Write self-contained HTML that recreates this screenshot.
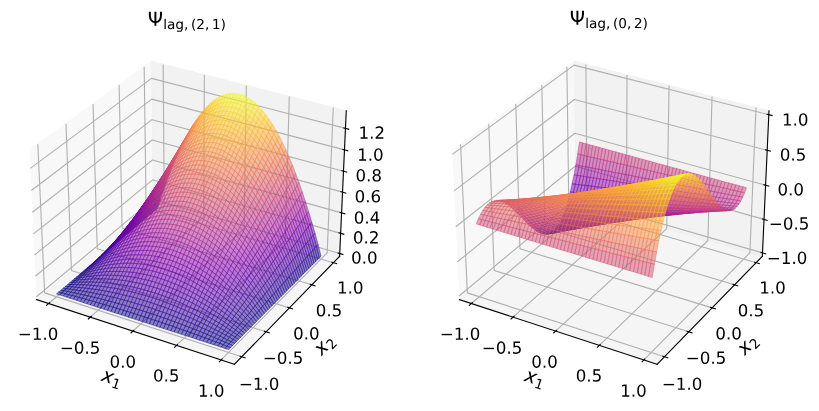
<!DOCTYPE html><html><head><meta charset="utf-8"><title>plot</title><style>html,body{margin:0;padding:0;background:#fff}body{width:819px;height:411px;overflow:hidden}</style></head><body><svg width="819" height="411" viewBox="82.8 30.3634 589.68 295.92" style="display:block"><defs><style type="text/css">*{stroke-linejoin: round; stroke-linecap: butt}</style><path id="DejaVuSans-2212" d="M678 2272L4684 2272 4684 1741 678 1741 678 2272z" transform="scale(.0156)"/><path id="DejaVuSans-31" d="M794 531L1825 531 1825 4091 703 3866 703 4441 1819 4666 2450 4666 2450 531 3481 531 3481 0 794 0 794 531z" transform="scale(.0156)"/><path id="DejaVuSans-2e" d="M684 794L1344 794 1344 0 684 0 684 794z" transform="scale(.0156)"/><path id="DejaVuSans-30" d="M2034 4250Q1547 4250 1301 3770 1056 3291 1056 2328 1056 1369 1301 889 1547 409 2034 409 2525 409 2770 889 3016 1369 3016 2328 3016 3291 2770 3770 2525 4250 2034 4250zM2034 4750Q2819 4750 3233 4129 3647 3509 3647 2328 3647 1150 3233 529 2819-91 2034-91 1250-91 836 529 422 1150 422 2328 422 3509 836 4129 1250 4750 2034 4750z" transform="scale(.0156)"/><path id="DejaVuSans-35" d="M691 4666L3169 4666 3169 4134 1269 4134 1269 2991Q1406 3038 1543 3061 1681 3084 1819 3084 2600 3084 3056 2656 3513 2228 3513 1497 3513 744 3044 326 2575-91 1722-91 1428-91 1123-41 819 9 494 109L494 744Q775 591 1075 516 1375 441 1709 441 2250 441 2565 725 2881 1009 2881 1497 2881 1984 2565 2268 2250 2553 1709 2553 1456 2553 1204 2497 953 2441 691 2322L691 4666z" transform="scale(.0156)"/><path id="DejaVuSans-Oblique-78" d="M3841 3500L2234 1784 3219 0 2559 0 1819 1388 531 0-166 0 1556 1844 641 3500 1300 3500 1972 2234 3144 3500 3841 3500z" transform="scale(.0156)"/><path id="DejaVuSans-32" d="M1228 531L3431 531 3431 0 469 0 469 531Q828 903 1448 1529 2069 2156 2228 2338 2531 2678 2651 2914 2772 3150 2772 3378 2772 3750 2511 3984 2250 4219 1831 4219 1534 4219 1204 4116 875 4013 500 3803L500 4441Q881 4594 1212 4672 1544 4750 1819 4750 2544 4750 2975 4387 3406 4025 3406 3419 3406 3131 3298 2873 3191 2616 2906 2266 2828 2175 2409 1742 1991 1309 1228 531z" transform="scale(.0156)"/><path id="DejaVuSans-34" d="M2419 4116L825 1625 2419 1625 2419 4116zM2253 4666L3047 4666 3047 1625 3713 1625 3713 1100 3047 1100 3047 0 2419 0 2419 1100 313 1100 313 1709 2253 4666z" transform="scale(.0156)"/><path id="DejaVuSans-36" d="M2113 2584Q1688 2584 1439 2293 1191 2003 1191 1497 1191 994 1439 701 1688 409 2113 409 2538 409 2786 701 3034 994 3034 1497 3034 2003 2786 2293 2538 2584 2113 2584zM3366 4563L3366 3988Q3128 4100 2886 4159 2644 4219 2406 4219 1781 4219 1451 3797 1122 3375 1075 2522 1259 2794 1537 2939 1816 3084 2150 3084 2853 3084 3261 2657 3669 2231 3669 1497 3669 778 3244 343 2819-91 2113-91 1303-91 875 529 447 1150 447 2328 447 3434 972 4092 1497 4750 2381 4750 2619 4750 2861 4703 3103 4656 3366 4563z" transform="scale(.0156)"/><path id="DejaVuSans-38" d="M2034 2216Q1584 2216 1326 1975 1069 1734 1069 1313 1069 891 1326 650 1584 409 2034 409 2484 409 2743 651 3003 894 3003 1313 3003 1734 2745 1975 2488 2216 2034 2216zM1403 2484Q997 2584 770 2862 544 3141 544 3541 544 4100 942 4425 1341 4750 2034 4750 2731 4750 3128 4425 3525 4100 3525 3541 3525 3141 3298 2862 3072 2584 2669 2484 3125 2378 3379 2068 3634 1759 3634 1313 3634 634 3220 271 2806-91 2034-91 1263-91 848 271 434 634 434 1313 434 1759 690 2068 947 2378 1403 2484zM1172 3481Q1172 3119 1398 2916 1625 2713 2034 2713 2441 2713 2670 2916 2900 3119 2900 3481 2900 3844 2670 4047 2441 4250 2034 4250 1625 4250 1398 4047 1172 3844 1172 3481z" transform="scale(.0156)"/><path id="DejaVuSans-3a8" d="M2206 0Q2209 419 2206 969 1538 969 950 1625 375 2263 359 3388L359 4666 1025 4666 1025 3388Q1025 2506 1431 1994 1775 1556 2206 1513L2206 4666 2838 4666 2838 1513Q3269 1556 3613 1994 4019 2506 4019 3388L4019 4666 4684 4666 4684 3388Q4669 2263 4094 1625 3506 969 2838 969 2834 744 2838 0L2206 0z" transform="scale(.0156)"/><path id="DejaVuSans-6c" d="M603 4863L1178 4863 1178 0 603 0 603 4863z" transform="scale(.0156)"/><path id="DejaVuSans-61" d="M2194 1759Q1497 1759 1228 1600 959 1441 959 1056 959 750 1161 570 1363 391 1709 391 2188 391 2477 730 2766 1069 2766 1631L2766 1759 2194 1759zM3341 1997L3341 0 2766 0 2766 531Q2569 213 2275 61 1981-91 1556-91 1019-91 701 211 384 513 384 1019 384 1609 779 1909 1175 2209 1959 2209L2766 2209 2766 2266Q2766 2663 2505 2880 2244 3097 1772 3097 1472 3097 1187 3025 903 2953 641 2809L641 3341Q956 3463 1253 3523 1550 3584 1831 3584 2591 3584 2966 3190 3341 2797 3341 1997z" transform="scale(.0156)"/><path id="DejaVuSans-67" d="M2906 1791Q2906 2416 2648 2759 2391 3103 1925 3103 1463 3103 1205 2759 947 2416 947 1791 947 1169 1205 825 1463 481 1925 481 2391 481 2648 825 2906 1169 2906 1791zM3481 434Q3481-459 3084-895 2688-1331 1869-1331 1566-1331 1297-1286 1028-1241 775-1147L775-588Q1028-725 1275-790 1522-856 1778-856 2344-856 2625-561 2906-266 2906 331L2906 616Q2728 306 2450 153 2172 0 1784 0 1141 0 747 490 353 981 353 1791 353 2603 747 3093 1141 3584 1784 3584 2172 3584 2450 3431 2728 3278 2906 2969L2906 3500 3481 3500 3481 434z" transform="scale(.0156)"/><path id="DejaVuSans-2c" d="M750 794L1409 794 1409 256 897-744 494-744 750 256 750 794z" transform="scale(.0156)"/><path id="DejaVuSans-28" d="M1984 4856Q1566 4138 1362 3434 1159 2731 1159 2009 1159 1288 1364 580 1569-128 1984-844L1484-844Q1016-109 783 600 550 1309 550 2009 550 2706 781 3412 1013 4119 1484 4856L1984 4856z" transform="scale(.0156)"/><path id="DejaVuSans-29" d="M513 4856L1013 4856Q1481 4119 1714 3412 1947 2706 1947 2009 1947 1309 1714 600 1481-109 1013-844L513-844Q928-128 1133 580 1338 1288 1338 2009 1338 2731 1133 3434 928 4138 513 4856z" transform="scale(.0156)"/><clipPath id="p6efda64bac"><rect x="90" y="54.981818" width="253.636364" height="253.636364"/></clipPath><clipPath id="p2cf576eba9"><rect x="394.363636" y="54.981818" width="253.636364" height="253.636364"/></clipPath></defs><g id="figure_1"><g id="patch_1"><path d="M0 360L720 360 720 0 0 0z" style="fill: #ffffff"/></g><g id="patch_2"><path d="M90 308.62L343.64 308.62 343.64 54.98 90 54.98z" style="fill: #ffffff"/></g><g id="pane3d_1"><g id="patch_3"><path d="M109.15 246.08L192.91 175.87 191.75 74.62 103.98 138.67" style="fill: #f2f2f2; opacity: 0.5; stroke: #f2f2f2; stroke-linejoin: miter"/></g></g><g id="pane3d_2"><g id="patch_4"><path d="M192.91 175.87L327.31 214.94 332.11 110.2 191.75 74.62" style="fill: #e6e6e6; opacity: 0.5; stroke: #e6e6e6; stroke-linejoin: miter"/></g></g><g id="pane3d_3"><g id="patch_5"><path d="M109.15 246.08L251.63 292.61 327.31 214.94 192.91 175.87" style="fill: #ececec; opacity: 0.5; stroke: #ececec; stroke-linejoin: miter"/></g></g><g id="grid3d_1"><g id="Line3DCollection_1"><path d="M117.78 248.9L201.08 178.25 200.27 76.78" style="fill:none;stroke:#b0b0b0; stroke-width: 0.8"/><path d="M147.8 258.7L229.49 186.5 229.89 84.29" style="fill:none;stroke:#b0b0b0; stroke-width: 0.8"/><path d="M178.51 268.73L258.49 194.93 260.16 91.96" style="fill:none;stroke:#b0b0b0; stroke-width: 0.8"/><path d="M209.94 279L288.11 203.54 291.1 99.8" style="fill:none;stroke:#b0b0b0; stroke-width: 0.8"/><path d="M242.1 289.5L318.37 212.34 322.75 107.82" style="fill:none;stroke:#b0b0b0; stroke-width: 0.8"/></g></g><g id="grid3d_2"><g id="Line3DCollection_2"><path d="M110.05 134.24L114.92 241.24 256.86 287.24" style="fill:none;stroke:#b0b0b0; stroke-width: 0.8"/><path d="M130.32 119.44L134.23 225.06 274.36 269.28" style="fill:none;stroke:#b0b0b0; stroke-width: 0.8"/><path d="M149.81 105.22L152.81 209.48 291.16 252.03" style="fill:none;stroke:#b0b0b0; stroke-width: 0.8"/><path d="M168.56 91.54L170.72 194.47 307.33 235.45" style="fill:none;stroke:#b0b0b0; stroke-width: 0.8"/><path d="M186.61 78.37L187.99 180 322.89 219.48" style="fill:none;stroke:#b0b0b0; stroke-width: 0.8"/></g></g><g id="grid3d_3"><g id="Line3DCollection_3"><path d="M327.41 212.93L192.89 173.93 109.05 244.03" style="fill:none;stroke:#b0b0b0; stroke-width: 0.8"/><path d="M328.07 198.37L192.73 159.83 108.33 229.12" style="fill:none;stroke:#b0b0b0; stroke-width: 0.8"/><path d="M328.75 183.63L192.56 145.57 107.61 214.02" style="fill:none;stroke:#b0b0b0; stroke-width: 0.8"/><path d="M329.43 168.71L192.4 131.13 106.87 198.72" style="fill:none;stroke:#b0b0b0; stroke-width: 0.8"/><path d="M330.12 153.6L192.23 116.52 106.12 183.22" style="fill:none;stroke:#b0b0b0; stroke-width: 0.8"/><path d="M330.82 138.29L192.06 101.73 105.37 167.51" style="fill:none;stroke:#b0b0b0; stroke-width: 0.8"/><path d="M331.53 122.79L191.89 86.77 104.6 151.6" style="fill:none;stroke:#b0b0b0; stroke-width: 0.8"/></g></g><g id="axis3d_1"><g id="line2d_1"><path d="M109.15 246.08L251.63 292.61" style="fill:none;stroke:#000000; stroke-width: 0.8; stroke-linecap: square"/></g><g id="xtick_1"><g id="line2d_2"><path d="M118.51 248.28L116.33 250.13" style="fill:none;stroke:#000000; stroke-width: 0.8; stroke-linecap: square"/></g><g id="text_1" transform="translate(0 1.26)"><g transform="translate(95.6802 273.7295) scale(.12 -.12)"><use href="#DejaVuSans-2212"/><use href="#DejaVuSans-31" transform="translate(83.79 0)"/><use href="#DejaVuSans-2e" transform="translate(147.41 0)"/><use href="#DejaVuSans-30" transform="translate(179.2 0)"/></g></g></g><g id="xtick_2"><g id="line2d_3"><path d="M148.51 258.07L146.37 259.96" style="fill:none;stroke:#000000; stroke-width: 0.8; stroke-linecap: square"/></g><g id="text_2" transform="translate(.18 1.26)"><g transform="translate(125.7323 283.752) scale(.12 -.12)"><use href="#DejaVuSans-2212"/><use href="#DejaVuSans-30" transform="translate(83.79 0)"/><use href="#DejaVuSans-2e" transform="translate(147.41 0)"/><use href="#DejaVuSans-35" transform="translate(179.2 0)"/></g></g></g><g id="xtick_3"><g id="line2d_4"><path d="M179.21 268.09L177.11 270.02" style="fill:none;stroke:#000000; stroke-width: 0.8; stroke-linecap: square"/></g><g id="text_3" transform="translate(.18 1.08)"><g transform="translate(161.5064 294.0061) scale(.12 -.12)"><use href="#DejaVuSans-30"/><use href="#DejaVuSans-2e" transform="translate(63.62 0)"/><use href="#DejaVuSans-30" transform="translate(95.41 0)"/></g></g></g><g id="xtick_4"><g id="line2d_5"><path d="M210.62 278.34L208.57 280.32" style="fill:none;stroke:#000000; stroke-width: 0.8; stroke-linecap: square"/></g><g id="text_4" transform="translate(0 .54)"><g transform="translate(192.9713 304.4998) scale(.12 -.12)"><use href="#DejaVuSans-30"/><use href="#DejaVuSans-2e" transform="translate(63.62 0)"/><use href="#DejaVuSans-35" transform="translate(95.41 0)"/></g></g></g><g id="xtick_5"><g id="line2d_6"><path d="M242.77 288.83L240.76 290.85" style="fill:none;stroke:#000000; stroke-width: 0.8; stroke-linecap: square"/></g><g id="text_5" transform="translate(.18 .72)"><g transform="translate(225.1801 315.2416) scale(.12 -.12)"><use href="#DejaVuSans-31"/><use href="#DejaVuSans-2e" transform="translate(63.62 0)"/><use href="#DejaVuSans-30" transform="translate(95.41 0)"/></g></g></g><g id="text_6" transform="translate(1.26 -1.08)"><g transform="translate(153.893 305.3656) rotate(-341.913) scale(.14 -.14)"><use href="#DejaVuSans-Oblique-78" transform="translate(0 .31)"/><use href="#DejaVuSans-31" transform="translate(59.1797 -16.0938) scale(.7)"/></g></g></g><g id="axis3d_2"><g id="line2d_7"><path d="M327.31 214.94L251.63 292.61" style="fill:none;stroke:#000000; stroke-width: 0.8; stroke-linecap: square"/></g><g id="xtick_6"><g id="line2d_8"><path d="M255.67 286.85L259.26 288.01" style="fill:none;stroke:#000000; stroke-width: 0.8; stroke-linecap: square"/></g><g id="text_7" transform="translate(-.36 1.26)"><g transform="translate(255.1738 309.7789) scale(.12 -.12)"><use href="#DejaVuSans-2212"/><use href="#DejaVuSans-31" transform="translate(83.79 0)"/><use href="#DejaVuSans-2e" transform="translate(147.41 0)"/><use href="#DejaVuSans-30" transform="translate(179.2 0)"/></g></g></g><g id="xtick_7"><g id="line2d_9"><path d="M273.18 268.91L276.72 270.03" style="fill:none;stroke:#000000; stroke-width: 0.8; stroke-linecap: square"/></g><g id="text_8" transform="translate(-.36 .72)"><g transform="translate(272.4207 291.5478) scale(.12 -.12)"><use href="#DejaVuSans-2212"/><use href="#DejaVuSans-30" transform="translate(83.79 0)"/><use href="#DejaVuSans-2e" transform="translate(147.41 0)"/><use href="#DejaVuSans-35" transform="translate(179.2 0)"/></g></g></g><g id="xtick_8"><g id="line2d_10"><path d="M290 251.68L293.49 252.75" style="fill:none;stroke:#000000; stroke-width: 0.8; stroke-linecap: square"/></g><g id="text_9" transform="translate(-.18 .72)"><g transform="translate(294.0208 274.0299) scale(.12 -.12)"><use href="#DejaVuSans-30"/><use href="#DejaVuSans-2e" transform="translate(63.62 0)"/><use href="#DejaVuSans-30" transform="translate(95.41 0)"/></g></g></g><g id="xtick_9"><g id="line2d_11"><path d="M306.18 235.1L309.63 236.13" style="fill:none;stroke:#000000; stroke-width: 0.8; stroke-linecap: square"/></g><g id="text_10" transform="translate(.18 .9)"><g transform="translate(309.9572 257.1841) scale(.12 -.12)"><use href="#DejaVuSans-30"/><use href="#DejaVuSans-2e" transform="translate(63.62 0)"/><use href="#DejaVuSans-35" transform="translate(95.41 0)"/></g></g></g><g id="xtick_10"><g id="line2d_12"><path d="M321.75 219.15L325.15 220.14" style="fill:none;stroke:#000000; stroke-width: 0.8; stroke-linecap: square"/></g><g id="text_11" transform="translate(.18 .72)"><g transform="translate(325.2936 240.9725) scale(.12 -.12)"><use href="#DejaVuSans-31"/><use href="#DejaVuSans-2e" transform="translate(63.62 0)"/><use href="#DejaVuSans-30" transform="translate(95.41 0)"/></g></g></g><g id="text_12" transform="translate(-1.26 -1.26)"><g transform="translate(315.6753 288.1088) rotate(-45.7421) scale(.14 -.14)"><use href="#DejaVuSans-Oblique-78" transform="translate(0 .31)"/><use href="#DejaVuSans-32" transform="translate(59.1797 -16.0938) scale(.7)"/></g></g></g><g id="axis3d_3"><g id="line2d_13"><path d="M327.31 214.94L332.11 110.2" style="fill:none;stroke:#000000; stroke-width: 0.8; stroke-linecap: square"/></g><g id="xtick_11"><g id="line2d_14"><path d="M326.28 212.6L329.67 213.59" style="fill:none;stroke:#000000; stroke-width: 0.8; stroke-linecap: square"/></g><g id="text_13" transform="translate(-.54 .72)"><g transform="translate(336.1249 219.4477) scale(.12 -.12)"><use href="#DejaVuSans-30"/><use href="#DejaVuSans-2e" transform="translate(63.62 0)"/><use href="#DejaVuSans-30" transform="translate(95.41 0)"/></g></g></g><g id="xtick_12"><g id="line2d_15"><path d="M326.94 198.05L330.35 199.02" style="fill:none;stroke:#000000; stroke-width: 0.8; stroke-linecap: square"/></g><g id="text_14" transform="translate(0 .72)"><g transform="translate(336.9026 204.921) scale(.12 -.12)"><use href="#DejaVuSans-30"/><use href="#DejaVuSans-2e" transform="translate(63.62 0)"/><use href="#DejaVuSans-32" transform="translate(95.41 0)"/></g></g></g><g id="xtick_13"><g id="line2d_16"><path d="M327.6 183.31L331.04 184.27" style="fill:none;stroke:#000000; stroke-width: 0.8; stroke-linecap: square"/></g><g id="text_15" transform="translate(-.18 1.08)"><g transform="translate(337.6901 190.2129) scale(.12 -.12)"><use href="#DejaVuSans-30"/><use href="#DejaVuSans-2e" transform="translate(63.62 0)"/><use href="#DejaVuSans-34" transform="translate(95.41 0)"/></g></g></g><g id="xtick_14"><g id="line2d_17"><path d="M328.28 168.39L331.74 169.34" style="fill:none;stroke:#000000; stroke-width: 0.8; stroke-linecap: square"/></g><g id="text_16" transform="translate(-.36 .72)"><g transform="translate(338.4874 175.3201) scale(.12 -.12)"><use href="#DejaVuSans-30"/><use href="#DejaVuSans-2e" transform="translate(63.62 0)"/><use href="#DejaVuSans-36" transform="translate(95.41 0)"/></g></g></g><g id="xtick_15"><g id="line2d_18"><path d="M328.96 153.28L332.44 154.22" style="fill:none;stroke:#000000; stroke-width: 0.8; stroke-linecap: square"/></g><g id="text_17" transform="translate(-.54 .72)"><g transform="translate(339.2948 160.2391) scale(.12 -.12)"><use href="#DejaVuSans-30"/><use href="#DejaVuSans-2e" transform="translate(63.62 0)"/><use href="#DejaVuSans-38" transform="translate(95.41 0)"/></g></g></g><g id="xtick_16"><g id="line2d_19"><path d="M329.66 137.98L333.16 138.9" style="fill:none;stroke:#000000; stroke-width: 0.8; stroke-linecap: square"/></g><g id="text_18" transform="translate(-.18 1.08)"><g transform="translate(340.1124 144.9664) scale(.12 -.12)"><use href="#DejaVuSans-31"/><use href="#DejaVuSans-2e" transform="translate(63.62 0)"/><use href="#DejaVuSans-30" transform="translate(95.41 0)"/></g></g></g><g id="xtick_17"><g id="line2d_20"><path d="M330.36 122.48L333.88 123.39" style="fill:none;stroke:#000000; stroke-width: 0.8; stroke-linecap: square"/></g><g id="text_19" transform="translate(0 .72)"><g transform="translate(340.9406 129.4982) scale(.12 -.12)"><use href="#DejaVuSans-31"/><use href="#DejaVuSans-2e" transform="translate(63.62 0)"/><use href="#DejaVuSans-32" transform="translate(95.41 0)"/></g></g></g></g><g id="axes_1">
   <g id="surf0" clip-path="url(#p6efda64bac)" fill-opacity="0.5" fill="currentColor" stroke="currentColor" stroke-opacity="0.5" stroke-width="0.6"><path color="#260591" d="M194.8 181.6l2.2-6.7 1.4-1.3-2.2 6.8z"/><path color="#240691" d="M193.4 182.8l2.2-6.6 1.4-1.3-2.2 6.7z"/><path color="#240691" d="M192 184l2.3-6.5 1.3-1.3-2.2 6.6z"/><path color="#4903a0" d="M197 174.9l2.3-6.5 1.4-1.4-2.3 6.6z"/><path color="#240691" d="M190.6 185.1l2.3-6.2 1.4-1.4-2.3 6.5z"/><path color="#48039f" d="M195.6 176.2l2.3-6.3 1.4-1.5-2.3 6.5z"/><path color="#240691" d="M189.2 186.3l2.3-6.1 1.4-1.3-2.3 6.2z"/><path color="#46039f" d="M194.3 177.5l2.2-6.1 1.4-1.5-2.3 6.3z"/><path color="#240691" d="M187.8 187.5l2.3-6 1.4-1.3-2.3 6.1z"/><path color="#6700a8" d="M199.3 168.4l2.3-6.2 1.3-1.6-2.2 6.4z"/><path color="#46039f" d="M192.9 178.9l2.2-6.1 1.4-1.4-2.2 6.1z"/><path color="#220690" d="M186.4 188.7l2.3-5.8 1.4-1.4-2.3 6z"/><path color="#6600a7" d="M197.9 169.9l2.3-6.1 1.4-1.6-2.3 6.2z"/><path color="#44039e" d="M191.5 180.2l2.2-5.9 1.4-1.5-2.2 6.1z"/><path color="#220690" d="M185 189.9l2.3-5.7 1.4-1.3-2.3 5.8z"/><path color="#6400a7" d="M196.5 171.4l2.3-6 1.4-1.6-2.3 6.1z"/><path color="#44039e" d="M190.1 181.5l2.2-5.7 1.4-1.5-2.2 5.9z"/><path color="#8305a7" d="M201.6 162.2l2.3-5.9 1.3-1.7-2.3 6z"/><path color="#220690" d="M183.6 191.1l2.2-5.5 1.5-1.4-2.3 5.7z"/><path color="#6300a7" d="M195.1 172.8l2.3-5.7 1.4-1.7-2.3 6z"/><path color="#43039e" d="M188.7 182.9l2.2-5.6 1.4-1.5-2.2 5.7z"/><path color="#8104a7" d="M200.2 163.8l2.3-5.8 1.4-1.7-2.3 5.9z"/><path color="#220690" d="M182.2 192.3l2.2-5.4 1.4-1.3-2.2 5.5z"/><path color="#6100a7" d="M193.7 174.3l2.3-5.6 1.4-1.6-2.3 5.7z"/><path color="#41049d" d="M187.3 184.2l2.2-5.4 1.4-1.5-2.2 5.6z"/><path color="#7e03a8" d="M198.8 165.4l2.3-5.6 1.4-1.8-2.3 5.8z"/><path color="#6001a6" d="M192.3 175.8l2.3-5.5 1.4-1.6-2.3 5.6z"/><path color="#220690" d="M180.8 193.5l2.2-5.2 1.4-1.4-2.2 5.4z"/><path color="#9c179e" d="M203.9 156.3l2.3-5.6 1.4-1.9-2.4 5.8z"/><path color="#41049d" d="M185.8 185.6l2.3-5.3 1.4-1.5-2.2 5.4z"/><path color="#7d03a8" d="M197.4 167.1l2.3-5.6 1.4-1.7-2.3 5.6z"/><path color="#5e01a6" d="M190.9 177.3l2.3-5.4 1.4-1.6-2.3 5.5z"/><path color="#20068f" d="M179.3 194.7l2.3-5.1 1.4-1.3-2.2 5.2z"/><path color="#99159f" d="M202.5 158l2.3-5.5 1.4-1.8-2.3 5.6z"/><path color="#3f049c" d="M184.4 186.9l2.3-5.1 1.4-1.5-2.3 5.3z"/><path color="#7b02a8" d="M196 168.7l2.3-5.4 1.4-1.8-2.3 5.6z"/><path color="#5c01a6" d="M189.5 178.8l2.3-5.2 1.4-1.7-2.3 5.4z"/><path color="#20068f" d="M177.9 195.9l2.3-4.9 1.4-1.4-2.3 5.1z"/><path color="#9613a1" d="M201.1 159.8l2.3-5.4 1.4-1.9-2.3 5.5z"/><path color="#7801a8" d="M194.6 170.3l2.3-5.2 1.4-1.8-2.3 5.4z"/><path color="#3e049c" d="M183 188.3l2.3-5 1.4-1.5-2.3 5.1z"/><path color="#5b01a5" d="M188.1 180.3l2.3-5.1 1.4-1.6-2.3 5.2z"/><path color="#b02991" d="M206.2 150.7l2.3-5.4 1.4-2-2.3 5.5z"/><path color="#9410a2" d="M199.7 161.5l2.3-5.2 1.4-1.9-2.3 5.4z"/><path color="#20068f" d="M176.5 197.1l2.2-4.8 1.5-1.3-2.3 4.9z"/><path color="#7701a8" d="M193.2 171.9l2.3-5.1 1.4-1.7-2.3 5.2z"/><path color="#3e049c" d="M181.6 189.6l2.2-4.8 1.5-1.5-2.3 5z"/><path color="#ad2793" d="M204.8 152.5l2.3-5.2 1.4-2-2.3 5.4z"/><path color="#5901a5" d="M186.7 181.8l2.3-5 1.4-1.6-2.3 5.1z"/><path color="#920fa3" d="M198.3 163.3l2.3-5.1 1.4-1.9-2.3 5.2z"/><path color="#20068f" d="M175 198.3l2.3-4.6 1.4-1.4-2.2 4.8z"/><path color="#7401a8" d="M191.8 173.6l2.3-5 1.4-1.8-2.3 5.1z"/><path color="#3c049b" d="M180.2 191l2.2-4.7 1.4-1.5-2.2 4.8z"/><path color="#ab2494" d="M203.4 154.4l2.3-5.1 1.4-2-2.3 5.2z"/><path color="#5801a4" d="M185.3 183.3l2.2-4.8 1.5-1.7-2.3 5z"/><path color="#8f0da4" d="M196.9 165.1l2.3-5 1.4-1.9-2.3 5.1z"/><path color="#7201a8" d="M190.4 175.2l2.3-4.8 1.4-1.8-2.3 5z"/><path color="#c13b82" d="M208.5 145.3l2.4-5.1 1.3-2.1-2.3 5.2z"/><path color="#1d068e" d="M173.6 199.5l2.2-4.4 1.5-1.4-2.3 4.6z"/><path color="#a82296" d="M202 156.3l2.3-5 1.4-2-2.3 5.1z"/><path color="#3c049b" d="M178.7 192.3l2.3-4.5 1.4-1.5-2.2 4.7z"/><path color="#8d0ba5" d="M195.5 166.8l2.3-4.8 1.4-1.9-2.3 5z"/><path color="#5601a4" d="M183.8 184.8l2.3-4.7 1.4-1.6-2.2 4.8z"/><path color="#bf3984" d="M207.1 147.3l2.4-5 1.4-2.1-2.4 5.1z"/><path color="#7100a8" d="M189 176.8l2.3-4.7 1.4-1.7-2.3 4.8z"/><path color="#a62098" d="M200.6 158.2l2.3-4.9 1.4-2-2.3 5z"/><path color="#1d068e" d="M172.2 200.8l2.2-4.3 1.4-1.4-2.2 4.4z"/><path color="#3a049a" d="M177.3 193.7l2.2-4.4 1.5-1.5-2.3 4.5z"/><path color="#8a09a5" d="M194.1 168.6l2.3-4.7 1.4-1.9-2.3 4.8z"/><path color="#5502a4" d="M182.4 186.3l2.3-4.5 1.4-1.7-2.3 4.7z"/><path color="#bc3587" d="M205.7 149.3l2.4-4.9 1.4-2.1-2.4 5z"/><path color="#6e00a8" d="M187.5 178.5l2.3-4.6 1.5-1.8-2.3 4.7z"/><path color="#a31e9a" d="M199.2 160.1l2.3-4.8 1.4-2-2.3 4.9z"/><path color="#1d068e" d="M170.7 202l2.3-4.2 1.4-1.3-2.2 4.3z"/><path color="#8808a6" d="M192.7 170.4l2.3-4.6 1.4-1.9-2.3 4.7z"/><path color="#38049a" d="M175.8 195.1l2.3-4.3 1.4-1.5-2.2 4.4z"/><path color="#cf4c74" d="M210.9 140.2l2.3-4.8 1.4-2.3-2.4 5z"/><path color="#5302a3" d="M181 187.8l2.3-4.4 1.4-1.6-2.3 4.5z"/><path color="#ba3388" d="M204.3 151.3l2.4-4.7 1.4-2.2-2.4 4.9z"/><path color="#6c00a8" d="M186.1 180.1l2.3-4.4 1.4-1.8-2.3 4.6z"/><path color="#a11b9b" d="M197.8 162l2.3-4.7 1.4-2-2.3 4.8z"/><path color="#8606a6" d="M191.3 172.1l2.3-4.4 1.4-1.9-2.3 4.6z"/><path color="#cc4977" d="M209.5 142.3l2.3-4.7 1.4-2.2-2.3 4.8z"/><path color="#1d068e" d="M169.2 203.2l2.3-4 1.5-1.4-2.3 4.2z"/><path color="#38049a" d="M174.4 196.5l2.3-4.1 1.4-1.6-2.3 4.3z"/><path color="#b6308b" d="M202.9 153.3l2.4-4.6 1.4-2.1-2.4 4.7z"/><path color="#5102a3" d="M179.5 189.3l2.3-4.2 1.5-1.7-2.3 4.4z"/><path color="#9e199d" d="M196.4 163.9l2.3-4.5 1.4-2.1-2.3 4.7z"/><path color="#6900a8" d="M184.7 181.8l2.3-4.3 1.4-1.8-2.3 4.4z"/><path color="#cb4679" d="M208.1 144.4l2.3-4.5 1.4-2.3-2.3 4.7z"/><path color="#8305a7" d="M189.8 173.9l2.3-4.3 1.5-1.9-2.3 4.4z"/><path color="#b42e8d" d="M201.5 155.3l2.4-4.5 1.4-2.1-2.4 4.6z"/><path color="#370499" d="M173 197.8l2.2-3.9 1.5-1.5-2.3 4.1z"/><path color="#1d068e" d="M167.8 204.5l2.2-3.9 1.5-1.4-2.3 4z"/><path color="#5002a2" d="M178.1 190.8l2.3-4 1.4-1.7-2.3 4.2z"/><path color="#9c179e" d="M195 165.8l2.3-4.4 1.4-2-2.3 4.5z"/><path color="#6700a8" d="M183.3 183.4l2.3-4.1 1.4-1.8-2.3 4.3z"/><path color="#db5c68" d="M213.2 135.4l2.4-4.5 1.4-2.4-2.4 4.6z"/><path color="#c8437b" d="M206.7 146.6l2.3-4.5 1.4-2.2-2.3 4.5z"/><path color="#8004a8" d="M188.4 175.7l2.3-4.2 1.4-1.9-2.3 4.3z"/><path color="#b22b8f" d="M200.1 157.3l2.4-4.3 1.4-2.2-2.4 4.5z"/><path color="#9814a0" d="M193.6 167.7l2.3-4.3 1.4-2-2.3 4.4z"/><path color="#350498" d="M171.5 199.2l2.3-3.8 1.4-1.5-2.2 3.9z"/><path color="#d9586a" d="M211.8 137.6l2.4-4.4 1.4-2.3-2.4 4.5z"/><path color="#4e02a2" d="M176.7 192.4l2.2-4 1.5-1.6-2.3 4z"/><path color="#1b068d" d="M166.3 205.7l2.3-3.7 1.4-1.4-2.2 3.9z"/><path color="#c5407e" d="M205.3 148.7l2.3-4.4 1.4-2.2-2.3 4.5z"/><path color="#6600a7" d="M181.8 185.1l2.3-4 1.5-1.8-2.3 4.1z"/><path color="#ae2892" d="M198.7 159.4l2.4-4.3 1.4-2.1-2.4 4.3z"/><path color="#7e03a8" d="M187 177.5l2.3-4.1 1.4-1.9-2.3 4.2z"/><path color="#d6556d" d="M210.4 139.9l2.4-4.3 1.4-2.4-2.4 4.4z"/><path color="#9511a1" d="M192.1 169.6l2.4-4.1 1.4-2.1-2.3 4.3z"/><path color="#c23c81" d="M203.9 150.8l2.3-4.2 1.4-2.3-2.3 4.4z"/><path color="#350498" d="M170 200.6l2.3-3.6 1.5-1.6-2.3 3.8z"/><path color="#4c02a1" d="M175.2 193.9l2.3-3.8 1.4-1.7-2.2 4z"/><path color="#1b068d" d="M164.9 206.9l2.2-3.5 1.5-1.4-2.3 3.7z"/><path color="#6300a7" d="M180.4 186.8l2.3-3.9 1.4-1.8-2.3 4z"/><path color="#ac2694" d="M197.3 161.4l2.3-4.1 1.5-2.2-2.4 4.3z"/><path color="#7b02a8" d="M185.6 179.3l2.3-3.9 1.4-2-2.3 4.1z"/><path color="#e56b5d" d="M215.6 130.9l2.4-4.2 1.4-2.5-2.4 4.3z"/><path color="#d45270" d="M209 142.1l2.4-4.2 1.4-2.3-2.4 4.3z"/><path color="#920fa3" d="M190.7 171.5l2.3-4 1.5-2-2.4 4.1z"/><path color="#c03a83" d="M202.5 153l2.3-4.1 1.4-2.3-2.3 4.2z"/><path color="#4b03a1" d="M173.8 195.4l2.3-3.6 1.4-1.7-2.3 3.8z"/><path color="#330597" d="M168.6 202l2.3-3.5 1.4-1.5-2.3 3.6z"/><path color="#a82296" d="M195.9 163.4l2.3-4 1.4-2.1-2.3 4.1z"/><path color="#6100a7" d="M178.9 188.4l2.3-3.7 1.5-1.8-2.3 3.9z"/><path color="#e3685f" d="M214.2 133.2l2.4-4.1 1.4-2.4-2.4 4.2z"/><path color="#1b068d" d="M163.4 208.2l2.2-3.4 1.5-1.4-2.2 3.5z"/><path color="#7801a8" d="M184.1 181.1l2.3-3.8 1.5-1.9-2.3 3.9z"/><path color="#d14e72" d="M207.6 144.3l2.4-4 1.4-2.4-2.4 4.2z"/><path color="#bd3786" d="M201.1 155.1l2.3-4 1.4-2.2-2.3 4.1z"/><path color="#8f0da4" d="M189.3 173.4l2.3-3.8 1.4-2.1-2.3 4z"/><path color="#e16462" d="M212.8 135.6l2.4-4 1.4-2.5-2.4 4.1z"/><path color="#a62098" d="M194.5 165.5l2.3-3.9 1.4-2.2-2.3 4z"/><path color="#4903a0" d="M172.3 197l2.3-3.5 1.5-1.7-2.3 3.6z"/><path color="#5e01a6" d="M177.5 190.1l2.3-3.6 1.4-1.8-2.3 3.7z"/><path color="#ce4b75" d="M206.2 146.6l2.4-4 1.4-2.3-2.4 4z"/><path color="#330597" d="M167.1 203.4l2.3-3.3 1.5-1.6-2.3 3.5z"/><path color="#7501a8" d="M182.7 182.9l2.3-3.7 1.4-1.9-2.3 3.8z"/><path color="#1b068d" d="M161.9 209.4l2.3-3.2 1.4-1.4-2.2 3.4z"/><path color="#ba3388" d="M199.6 157.3l2.4-3.9 1.4-2.3-2.3 4z"/><path color="#8d0ba5" d="M187.9 175.4l2.3-3.8 1.4-2-2.3 3.8z"/><path color="#ee7b51" d="M218 126.7l2.4-4 1.4-2.5-2.4 4z"/><path color="#de6164" d="M211.4 137.9l2.4-3.9 1.4-2.4-2.4 4z"/><path color="#a21d9a" d="M193 167.5l2.4-3.7 1.4-2.2-2.3 3.9z"/><path color="#cc4778" d="M204.8 148.9l2.4-3.9 1.4-2.4-2.4 4z"/><path color="#5c01a6" d="M176.1 191.8l2.3-3.5 1.4-1.8-2.3 3.6z"/><path color="#46039f" d="M170.9 198.5l2.2-3.3 1.5-1.7-2.3 3.5z"/><path color="#7401a8" d="M181.2 184.7l2.4-3.5 1.4-2-2.3 3.7z"/><path color="#310597" d="M165.6 204.8l2.3-3.2 1.5-1.5-2.3 3.3z"/><path color="#b7318a" d="M198.2 159.4l2.4-3.7 1.4-2.3-2.4 3.9z"/><path color="#eb7655" d="M216.6 129.1l2.4-3.8 1.4-2.6-2.4 4z"/><path color="#8a09a5" d="M186.4 177.3l2.4-3.6 1.4-2.1-2.3 3.8z"/><path color="#db5c68" d="M210 140.3l2.4-3.8 1.4-2.5-2.4 3.9z"/><path color="#1b068d" d="M160.4 210.7l2.3-3.1 1.5-1.4-2.3 3.2z"/><path color="#a01a9c" d="M191.6 169.6l2.4-3.7 1.4-2.1-2.4 3.7z"/><path color="#c9447a" d="M203.4 151.1l2.4-3.7 1.4-2.4-2.4 3.9z"/><path color="#e97257" d="M215.2 131.6l2.4-3.8 1.4-2.5-2.4 3.8z"/><path color="#b42e8d" d="M196.8 161.6l2.4-3.7 1.4-2.2-2.4 3.7z"/><path color="#5b01a5" d="M174.6 193.5l2.3-3.3 1.5-1.9-2.3 3.5z"/><path color="#44039e" d="M169.4 200.1l2.3-3.2 1.4-1.7-2.2 3.3z"/><path color="#7100a8" d="M179.8 186.5l2.3-3.4 1.5-1.9-2.4 3.5z"/><path color="#d9586a" d="M208.6 142.6l2.4-3.7 1.4-2.4-2.4 3.8z"/><path color="#8707a6" d="M185 179.2l2.3-3.5 1.5-2-2.4 3.6z"/><path color="#2f0596" d="M164.2 206.2l2.3-3 1.4-1.6-2.3 3.2z"/><path color="#c6417d" d="M202 153.4l2.4-3.6 1.4-2.4-2.4 3.7z"/><path color="#9d189d" d="M190.2 171.6l2.3-3.5 1.5-2.2-2.4 3.7z"/><path color="#f48948" d="M220.4 122.7l2.4-3.6 1.4-2.6-2.4 3.7z"/><path color="#19068c" d="M158.9 211.9l2.3-2.9 1.5-1.4-2.3 3.1z"/><path color="#e76e5b" d="M213.8 134l2.4-3.6 1.4-2.6-2.4 3.8z"/><path color="#b12a90" d="M195.4 163.8l2.3-3.6 1.5-2.3-2.4 3.7z"/><path color="#d6556d" d="M207.2 145l2.4-3.6 1.4-2.5-2.4 3.7z"/><path color="#5801a4" d="M173.1 195.2l2.3-3.2 1.5-1.8-2.3 3.3z"/><path color="#6e00a8" d="M178.4 188.3l2.3-3.2 1.4-2-2.3 3.4z"/><path color="#43039e" d="M167.9 201.6l2.3-3 1.5-1.7-2.3 3.2z"/><path color="#8405a7" d="M183.6 181.2l2.3-3.4 1.4-2.1-2.3 3.5z"/><path color="#c33d80" d="M200.6 155.7l2.4-3.6 1.4-2.3-2.4 3.6z"/><path color="#f3854b" d="M219 125.3l2.4-3.5 1.4-2.7-2.4 3.6z"/><path color="#2f0596" d="M162.7 207.6l2.3-2.9 1.5-1.5-2.3 3z"/><path color="#99159f" d="M188.8 173.7l2.3-3.4 1.4-2.2-2.3 3.5z"/><path color="#e56a5d" d="M212.4 136.5l2.4-3.5 1.4-2.6-2.4 3.6z"/><path color="#ad2793" d="M194 165.9l2.3-3.4 1.4-2.3-2.3 3.6z"/><path color="#d35171" d="M205.8 147.4l2.4-3.5 1.4-2.5-2.4 3.6z"/><path color="#19068c" d="M157.4 213.2l2.3-2.7 1.5-1.5-2.3 2.9z"/><path color="#6a00a8" d="M176.9 190.2l2.3-3.2 1.5-1.9-2.3 3.2z"/><path color="#f0804e" d="M217.6 127.8l2.4-3.4 1.4-2.6-2.4 3.5z"/><path color="#5601a4" d="M171.7 196.9l2.3-3.1 1.4-1.8-2.3 3.2z"/><path color="#c03a83" d="M199.2 157.9l2.3-3.4 1.5-2.4-2.4 3.6z"/><path color="#8104a7" d="M182.1 183.1l2.3-3.2 1.5-2.1-2.3 3.4z"/><path color="#41049d" d="M166.5 203.2l2.2-2.9 1.5-1.7-2.3 3z"/><path color="#e26561" d="M211 138.9l2.4-3.4 1.4-2.5-2.4 3.5z"/><path color="#9613a1" d="M187.3 175.7l2.4-3.2 1.4-2.2-2.3 3.4z"/><path color="#2e0595" d="M161.2 209l2.3-2.7 1.5-1.6-2.3 2.9z"/><path color="#d04d73" d="M204.4 149.8l2.4-3.4 1.4-2.5-2.4 3.5z"/><path color="#ab2494" d="M192.5 168.1l2.4-3.3 1.4-2.3-2.3 3.4z"/><path color="#f9983e" d="M222.8 119.1l2.5-3.3 1.4-2.7-2.5 3.4z"/><path color="#ee7b51" d="M216.2 130.4l2.4-3.3 1.4-2.7-2.4 3.4z"/><path color="#bd3786" d="M197.7 160.2l2.4-3.3 1.4-2.4-2.3 3.4z"/><path color="#19068c" d="M155.9 214.5l2.3-2.6 1.5-1.4-2.3 2.7z"/><path color="#df6263" d="M209.6 141.4l2.4-3.3 1.4-2.6-2.4 3.4z"/><path color="#6900a8" d="M175.4 192l2.4-3 1.4-2-2.3 3.2z"/><path color="#7e03a8" d="M180.7 185.1l2.3-3.1 1.4-2.1-2.3 3.2z"/><path color="#5302a3" d="M170.2 198.6l2.3-2.9 1.5-1.9-2.3 3.1z"/><path color="#920fa3" d="M185.9 177.8l2.3-3.1 1.5-2.2-2.4 3.2z"/><path color="#3f049c" d="M165 204.7l2.3-2.7 1.4-1.7-2.2 2.9z"/><path color="#cd4a76" d="M203 152.1l2.3-3.2 1.5-2.5-2.4 3.4z"/><path color="#f79342" d="M221.4 121.8l2.5-3.2 1.4-2.8-2.5 3.3z"/><path color="#a72197" d="M191.1 170.3l2.4-3.2 1.4-2.3-2.4 3.3z"/><path color="#eb7655" d="M214.8 133l2.4-3.3 1.4-2.6-2.4 3.3z"/><path color="#2c0594" d="M159.7 210.5l2.3-2.6 1.5-1.6-2.3 2.7z"/><path color="#ba3388" d="M196.3 162.5l2.4-3.2 1.4-2.4-2.4 3.3z"/><path color="#dc5d67" d="M208.2 143.9l2.4-3.2 1.4-2.6-2.4 3.3z"/><path color="#7a02a8" d="M179.2 187l2.4-2.9 1.4-2.1-2.3 3.1z"/><path color="#6600a7" d="M174 193.8l2.3-2.9 1.5-1.9-2.4 3z"/><path color="#f68d45" d="M220 124.4l2.5-3.1 1.4-2.7-2.5 3.2z"/><path color="#ca457a" d="M201.5 154.5l2.4-3.1 1.4-2.5-2.3 3.2z"/><path color="#8f0da4" d="M184.4 179.9l2.4-3 1.4-2.2-2.3 3.1z"/><path color="#5102a3" d="M168.7 200.3l2.4-2.8 1.4-1.8-2.3 2.9z"/><path color="#19068c" d="M154.4 215.7l2.3-2.4 1.5-1.4-2.3 2.6z"/><path color="#e97158" d="M213.4 135.5l2.4-3.1 1.4-2.7-2.4 3.3z"/><path color="#a31e9a" d="M189.7 172.5l2.3-3.1 1.5-2.3-2.4 3.2z"/><path color="#3e049c" d="M163.5 206.3l2.3-2.6 1.5-1.7-2.3 2.7z"/><path color="#d9586a" d="M206.8 146.4l2.4-3.1 1.4-2.6-2.4 3.2z"/><path color="#260591" d="M310.5 207.8l2.2 8.3 1.3-1.3-2.2-8.4z"/><path color="#fca636" d="M225.3 115.8l2.4-2.9 1.4-2.8-2.4 3z"/><path color="#b6308b" d="M194.9 164.8l2.4-3.1 1.4-2.4-2.4 3.2z"/><path color="#f48849" d="M218.6 127.1l2.5-3.1 1.4-2.7-2.5 3.1z"/><path color="#2c0594" d="M158.2 211.9l2.3-2.5 1.5-1.5-2.3 2.6z"/><path color="#c7427c" d="M200.1 156.9l2.4-3 1.4-2.5-2.4 3.1z"/><path color="#7701a8" d="M177.8 189l2.3-2.9 1.5-2-2.4 2.9z"/><path color="#e76e5b" d="M212 138.1l2.4-3.1 1.4-2.6-2.4 3.1z"/><path color="#6300a7" d="M172.5 195.7l2.3-2.8 1.5-2-2.3 2.9z"/><path color="#8b0aa5" d="M183 182l2.3-2.9 1.5-2.2-2.4 3z"/><path color="#5002a2" d="M167.3 202l2.3-2.7 1.5-1.8-2.4 2.8z"/><path color="#a01a9c" d="M188.2 174.7l2.4-3 1.4-2.3-2.3 3.1z"/><path color="#fba139" d="M223.9 118.6l2.4-2.9 1.4-2.8-2.4 2.9z"/><path color="#d6556d" d="M205.3 148.9l2.4-3.1 1.5-2.5-2.4 3.1z"/><path color="#19068c" d="M152.9 217l2.3-2.3 1.5-1.4-2.3 2.4z"/><path color="#b32c8e" d="M193.5 167.1l2.3-3 1.5-2.4-2.4 3.1z"/><path color="#f1834c" d="M217.2 129.7l2.5-2.9 1.4-2.8-2.5 3.1z"/><path color="#3c049b" d="M162 207.9l2.3-2.5 1.5-1.7-2.3 2.6z"/><path color="#c43e7f" d="M198.7 159.3l2.4-2.9 1.4-2.5-2.4 3z"/><path color="#e4695e" d="M210.6 140.7l2.4-3 1.4-2.7-2.4 3.1z"/><path color="#240691" d="M309.2 209.2l2.3 8.2 1.2-1.3-2.2-8.3z"/><path color="#7401a8" d="M176.3 190.9l2.3-2.7 1.5-2.1-2.3 2.9z"/><path color="#2a0593" d="M156.7 213.3l2.3-2.3 1.5-1.6-2.3 2.5z"/><path color="#f99a3e" d="M222.5 121.3l2.4-2.8 1.4-2.8-2.4 2.9z"/><path color="#8808a6" d="M181.6 184.1l2.3-2.8 1.4-2.2-2.3 2.9z"/><path color="#6001a6" d="M171.1 197.5l2.3-2.6 1.4-2-2.3 2.8z"/><path color="#9d189d" d="M186.8 176.9l2.4-2.9 1.4-2.3-2.4 3z"/><path color="#d35171" d="M203.9 151.4l2.4-3 1.4-2.6-2.4 3.1z"/><path color="#ef7e50" d="M215.8 132.4l2.4-2.9 1.5-2.7-2.5 2.9z"/><path color="#4c02a1" d="M165.8 203.7l2.3-2.5 1.5-1.9-2.3 2.7z"/><path color="#b02991" d="M192 169.4l2.4-2.9 1.4-2.4-2.3 3z"/><path color="#4903a0" d="M308.3 199.7l2.2 8.1 1.3-1.4-2.2-8.2z"/><path color="#fdb42f" d="M227.7 112.9l2.5-2.7 1.4-2.9-2.5 2.8z"/><path color="#e16462" d="M209.2 143.3l2.4-2.9 1.4-2.7-2.4 3z"/><path color="#c13b82" d="M197.3 161.7l2.4-2.8 1.4-2.5-2.4 2.9z"/><path color="#16078a" d="M151.4 218.3l2.3-2.1 1.5-1.5-2.3 2.3z"/><path color="#3a049a" d="M160.5 209.4l2.3-2.3 1.5-1.7-2.3 2.5z"/><path color="#f89441" d="M221.1 124l2.4-2.7 1.4-2.8-2.4 2.8z"/><path color="#d04d73" d="M202.5 153.9l2.4-2.9 1.4-2.6-2.4 3z"/><path color="#8606a6" d="M180.1 186.1l2.4-2.6 1.4-2.2-2.3 2.8z"/><path color="#7100a8" d="M174.8 192.9l2.4-2.6 1.4-2.1-2.3 2.7z"/><path color="#ed7953" d="M214.4 135l2.4-2.7 1.4-2.8-2.4 2.9z"/><path color="#240691" d="M308 210.6l2.2 8.1 1.3-1.3-2.3-8.2z"/><path color="#99159f" d="M185.3 179.1l2.4-2.8 1.5-2.3-2.4 2.9z"/><path color="#5e01a6" d="M169.6 199.3l2.3-2.4 1.5-2-2.3 2.6z"/><path color="#2a0593" d="M155.2 214.7l2.3-2.1 1.5-1.6-2.3 2.3z"/><path color="#fdac33" d="M226.3 115.7l2.5-2.6 1.4-2.9-2.5 2.7z"/><path color="#ac2694" d="M190.6 171.7l2.4-2.7 1.4-2.5-2.4 2.9z"/><path color="#de5f65" d="M207.7 145.8l2.5-2.7 1.4-2.7-2.4 2.9z"/><path color="#4b03a1" d="M164.3 205.4l2.3-2.4 1.5-1.8-2.3 2.5z"/><path color="#f68f44" d="M219.7 126.8l2.4-2.7 1.4-2.8-2.4 2.7z"/><path color="#bd3786" d="M195.8 164.1l2.4-2.7 1.5-2.5-2.4 2.8z"/><path color="#48039f" d="M307 201.3l2.2 7.9 1.3-1.4-2.2-8.1z"/><path color="#ea7457" d="M213 137.7l2.4-2.7 1.4-2.7-2.4 2.7z"/><path color="#cc4977" d="M201.1 156.4l2.4-2.8 1.4-2.6-2.4 2.9z"/><path color="#38049a" d="M159 211l2.3-2.2 1.5-1.7-2.3 2.3z"/><path color="#16078a" d="M149.9 219.6l2.3-2 1.5-1.4-2.3 2.1z"/><path color="#fca636" d="M224.9 118.5l2.5-2.5 1.4-2.9-2.5 2.6z"/><path color="#8104a7" d="M178.6 188.2l2.4-2.5 1.5-2.2-2.4 2.6z"/><path color="#9511a1" d="M183.9 181.3l2.4-2.6 1.4-2.4-2.4 2.8z"/><path color="#6e00a8" d="M173.4 194.9l2.3-2.5 1.5-2.1-2.4 2.6z"/><path color="#a82296" d="M189.2 174l2.3-2.6 1.5-2.4-2.4 2.7z"/><path color="#da5b69" d="M206.3 148.4l2.4-2.7 1.5-2.6-2.5 2.7z"/><path color="#f48948" d="M218.2 129.5l2.5-2.6 1.4-2.8-2.4 2.7z"/><path color="#5b01a5" d="M168.1 201.2l2.3-2.3 1.5-2-2.3 2.4z"/><path color="#ba3388" d="M194.4 166.5l2.4-2.6 1.4-2.5-2.4 2.7z"/><path color="#240691" d="M306.7 212.1l2.2 7.8 1.3-1.2-2.2-8.1z"/><path color="#6700a8" d="M306 192l2.3 7.7 1.3-1.5-2.3-7.9z"/><path color="#fec029" d="M230.2 110.2l2.4-2.3 1.4-3-2.4 2.4z"/><path color="#280592" d="M153.7 216.2l2.3-2 1.5-1.6-2.3 2.1z"/><path color="#e76f5a" d="M211.6 140.4l2.4-2.6 1.4-2.8-2.4 2.7z"/><path color="#48039f" d="M162.8 207.1l2.4-2.2 1.4-1.9-2.3 2.4z"/><path color="#ca457a" d="M199.7 158.9l2.4-2.7 1.4-2.6-2.4 2.8z"/><path color="#fba139" d="M223.5 121.3l2.5-2.5 1.4-2.8-2.5 2.5z"/><path color="#46039f" d="M305.7 202.9l2.3 7.7 1.2-1.4-2.2-7.9z"/><path color="#910ea3" d="M182.5 183.5l2.3-2.5 1.5-2.3-2.4 2.6z"/><path color="#d8576b" d="M204.9 151l2.4-2.6 1.4-2.7-2.4 2.7z"/><path color="#f2844b" d="M216.8 132.3l2.5-2.5 1.4-2.9-2.5 2.6z"/><path color="#7e03a8" d="M177.2 190.3l2.3-2.4 1.5-2.2-2.4 2.5z"/><path color="#370499" d="M157.5 212.6l2.4-2 1.4-1.8-2.3 2.2z"/><path color="#a51f99" d="M187.7 176.3l2.4-2.5 1.4-2.4-2.3 2.6z"/><path color="#6a00a8" d="M171.9 196.9l2.4-2.4 1.4-2.1-2.3 2.5z"/><path color="#feb82c" d="M228.8 113.1l2.4-2.3 1.4-2.9-2.4 2.3z"/><path color="#16078a" d="M148.4 220.9l2.3-1.8 1.5-1.5-2.3 2z"/><path color="#b6308b" d="M193 169l2.4-2.6 1.4-2.5-2.4 2.6z"/><path color="#5801a4" d="M166.6 203l2.4-2.2 1.4-1.9-2.3 2.3z"/><path color="#e56a5d" d="M210.2 143.1l2.4-2.6 1.4-2.7-2.4 2.6z"/><path color="#f99a3e" d="M222.1 124.1l2.4-2.4 1.5-2.9-2.5 2.5z"/><path color="#c6417d" d="M198.2 161.4l2.4-2.6 1.5-2.6-2.4 2.7z"/><path color="#6600a7" d="M304.7 193.7l2.3 7.6 1.3-1.6-2.3-7.7z"/><path color="#240691" d="M305.4 213.5l2.3 7.7 1.2-1.3-2.2-7.8z"/><path color="#260591" d="M152.2 217.6l2.3-1.8 1.5-1.6-2.3 2z"/><path color="#46039f" d="M161.3 208.8l2.4-2 1.5-1.9-2.4 2.2z"/><path color="#ef7e50" d="M215.4 135l2.5-2.4 1.4-2.8-2.5 2.5z"/><path color="#d5536f" d="M203.5 153.6l2.4-2.5 1.4-2.7-2.4 2.6z"/><path color="#fdb22f" d="M227.4 116l2.4-2.2 1.4-3-2.4 2.3z"/><path color="#8e0ca4" d="M181 185.7l2.4-2.4 1.4-2.3-2.3 2.5z"/><path color="#7a02a8" d="M175.7 192.4l2.4-2.3 1.4-2.2-2.3 2.4z"/><path color="#a11b9b" d="M186.3 178.7l2.3-2.5 1.5-2.4-2.4 2.5z"/><path color="#f89441" d="M220.7 126.9l2.4-2.3 1.4-2.9-2.4 2.4z"/><path color="#e26561" d="M208.7 145.7l2.5-2.4 1.4-2.8-2.4 2.6z"/><path color="#b22b8f" d="M191.5 171.4l2.4-2.5 1.5-2.5-2.4 2.6z"/><path color="#6700a8" d="M170.4 198.9l2.4-2.2 1.5-2.2-2.4 2.4z"/><path color="#8305a7" d="M303.7 184.5l2.3 7.5 1.3-1.7-2.3-7.6z"/><path color="#fdcb26" d="M232.6 107.9l2.5-2.1 1.4-3-2.5 2.1z"/><path color="#46039f" d="M304.4 204.5l2.3 7.6 1.3-1.5-2.3-7.7z"/><path color="#350498" d="M156 214.2l2.4-1.9 1.5-1.7-2.4 2z"/><path color="#c33d80" d="M196.8 163.9l2.4-2.4 1.4-2.7-2.4 2.6z"/><path color="#5502a4" d="M165.2 204.9l2.3-2.1 1.5-2-2.4 2.2z"/><path color="#ed7953" d="M214 137.8l2.4-2.4 1.5-2.8-2.5 2.4z"/><path color="#fdab33" d="M226 118.8l2.4-2.1 1.4-2.9-2.4 2.2z"/><path color="#16078a" d="M146.9 222.1l2.3-1.6 1.5-1.4-2.3 1.8z"/><path color="#d14e72" d="M202.1 156.2l2.4-2.4 1.4-2.7-2.4 2.5z"/><path color="#6400a7" d="M303.4 195.4l2.3 7.5 1.3-1.6-2.3-7.6z"/><path color="#f68d45" d="M219.3 129.8l2.4-2.3 1.4-2.9-2.4 2.3z"/><path color="#44039e" d="M159.9 210.6l2.3-2 1.5-1.8-2.4 2z"/><path color="#fdc328" d="M231.2 110.8l2.5-2 1.4-3-2.5 2.1z"/><path color="#8a09a5" d="M179.5 187.9l2.4-2.2 1.5-2.4-2.4 2.4z"/><path color="#de6164" d="M207.3 148.4l2.4-2.3 1.5-2.8-2.5 2.4z"/><path color="#9d189d" d="M184.8 181l2.4-2.3 1.4-2.5-2.3 2.5z"/><path color="#260591" d="M150.7 219.1l2.3-1.7 1.5-1.6-2.3 1.8z"/><path color="#7701a8" d="M174.3 194.5l2.3-2.1 1.5-2.3-2.4 2.3z"/><path color="#240691" d="M304.1 214.9l2.3 7.6 1.3-1.3-2.3-7.7z"/><path color="#ae2892" d="M190.1 173.8l2.4-2.3 1.4-2.6-2.4 2.5z"/><path color="#bf3984" d="M195.4 166.4l2.4-2.3 1.4-2.6-2.4 2.4z"/><path color="#6400a7" d="M169 200.8l2.3-2 1.5-2.1-2.4 2.2z"/><path color="#fca537" d="M224.5 121.7l2.5-2 1.4-3-2.4 2.1z"/><path color="#ea7457" d="M212.6 140.5l2.4-2.2 1.4-2.9-2.4 2.4z"/><path color="#8104a7" d="M302.4 186.3l2.3 7.4 1.3-1.7-2.3-7.5z"/><path color="#cd4a76" d="M200.6 158.8l2.4-2.3 1.5-2.7-2.4 2.4z"/><path color="#330597" d="M154.5 215.8l2.4-1.8 1.5-1.7-2.4 1.9z"/><path color="#44039e" d="M303.1 206l2.3 7.5 1.3-1.4-2.3-7.6z"/><path color="#5102a3" d="M163.7 206.8l2.3-2 1.5-2-2.3 2.1z"/><path color="#febd2a" d="M229.8 113.8l2.5-1.9 1.4-3.1-2.5 2z"/><path color="#f48849" d="M217.9 132.6l2.4-2.2 1.4-2.9-2.4 2.3z"/><path color="#db5c68" d="M205.9 151.1l2.4-2.2 1.4-2.8-2.4 2.3z"/><path color="#99159f" d="M183.4 183.3l2.3-2.2 1.5-2.4-2.4 2.3z"/><path color="#9c179e" d="M301.4 177.3l2.3 7.2 1.3-1.8-2.3-7.3z"/><path color="#8606a6" d="M178.1 190.1l2.3-2.1 1.5-2.3-2.4 2.2z"/><path color="#fbd724" d="M235.1 105.8l2.5-1.7 1.4-3-2.5 1.7z"/><path color="#130789" d="M145.3 223.4l2.4-1.4 1.5-1.5-2.3 1.6z"/><path color="#ab2494" d="M188.6 176.2l2.4-2.2 1.5-2.5-2.4 2.3z"/><path color="#fa9e3b" d="M223.1 124.6l2.5-2 1.4-2.9-2.5 2z"/><path color="#6300a7" d="M302.1 197.1l2.3 7.4 1.3-1.6-2.3-7.5z"/><path color="#7201a8" d="M172.8 196.7l2.3-2.1 1.5-2.2-2.3 2.1z"/><path color="#e76f5a" d="M211.2 143.3l2.4-2.2 1.4-2.8-2.4 2.2z"/><path color="#41049d" d="M158.4 212.3l2.3-1.8 1.5-1.9-2.3 2z"/><path color="#bb3488" d="M193.9 168.9l2.4-2.2 1.5-2.6-2.4 2.3z"/><path color="#ca457a" d="M199.2 161.5l2.4-2.3 1.4-2.7-2.4 2.3z"/><path color="#240691" d="M149.2 220.5l2.3-1.5 1.5-1.6-2.3 1.7z"/><path color="#fdb52e" d="M228.4 116.7l2.5-1.8 1.4-3-2.5 1.9z"/><path color="#6100a7" d="M167.5 202.8l2.3-1.9 1.5-2.1-2.3 2z"/><path color="#f1834c" d="M216.4 135.4l2.5-2 1.4-3-2.4 2.2z"/><path color="#220690" d="M302.8 216.4l2.3 7.4 1.3-1.3-2.3-7.6z"/><path color="#7e03a8" d="M301.1 188.2l2.3 7.2 1.3-1.7-2.3-7.4z"/><path color="#d8576b" d="M204.5 153.8l2.4-2.2 1.4-2.7-2.4 2.2z"/><path color="#fcce25" d="M233.7 108.8l2.5-1.6 1.4-3.1-2.5 1.7z"/><path color="#f9983e" d="M221.7 127.5l2.5-1.9 1.4-3-2.5 2z"/><path color="#5002a2" d="M162.2 208.6l2.3-1.8 1.5-2-2.3 2z"/><path color="#310597" d="M153 217.4l2.3-1.6 1.6-1.8-2.4 1.8z"/><path color="#44039e" d="M301.8 207.6l2.3 7.3 1.3-1.4-2.3-7.5z"/><path color="#e4695e" d="M209.7 146.1l2.5-2.1 1.4-2.9-2.4 2.2z"/><path color="#9511a1" d="M181.9 185.7l2.4-2.1 1.4-2.5-2.3 2.2z"/><path color="#a62098" d="M187.2 178.7l2.4-2.1 1.4-2.6-2.4 2.2z"/><path color="#8104a7" d="M176.6 192.4l2.4-2 1.4-2.4-2.3 2.1z"/><path color="#b7318a" d="M192.5 171.5l2.4-2.2 1.4-2.6-2.4 2.2z"/><path color="#fdae32" d="M227 119.7l2.5-1.8 1.4-3-2.5 1.8z"/><path color="#99159f" d="M300.1 179.3l2.3 7 1.3-1.8-2.3-7.2z"/><path color="#6f00a8" d="M171.3 198.8l2.4-1.9 1.4-2.3-2.3 2.1z"/><path color="#ef7c51" d="M215 138.3l2.5-2 1.4-2.9-2.5 2z"/><path color="#c7427c" d="M197.8 164.1l2.4-2.2 1.4-2.7-2.4 2.3z"/><path color="#3f049c" d="M156.9 214l2.3-1.6 1.5-1.9-2.3 1.8z"/><path color="#6100a7" d="M300.8 198.8l2.3 7.2 1.3-1.5-2.3-7.4z"/><path color="#130789" d="M143.8 224.7l2.3-1.3 1.6-1.4-2.4 1.4z"/><path color="#fdc627" d="M232.3 111.9l2.5-1.6 1.4-3.1-2.5 1.6z"/><path color="#d5536f" d="M203 156.5l2.5-2.1 1.4-2.8-2.4 2.2z"/><path color="#5e01a6" d="M166 204.8l2.4-1.8 1.4-2.1-2.3 1.9z"/><path color="#f79143" d="M220.3 130.4l2.5-1.8 1.4-3-2.5 1.9z"/><path color="#b02991" d="M299.1 170.4l2.3 6.9 1.3-1.9-2.3-7z"/><path color="#f8df25" d="M237.6 104.1l2.5-1.3 1.4-3.1-2.5 1.4z"/><path color="#220690" d="M147.7 222l2.3-1.4 1.5-1.6-2.3 1.5z"/><path color="#e16462" d="M208.3 148.9l2.5-2.1 1.4-2.8-2.5 2.1z"/><path color="#fca835" d="M225.6 122.6l2.5-1.7 1.4-3-2.5 1.8z"/><path color="#7d03a8" d="M299.8 190l2.3 7.1 1.3-1.7-2.3-7.2z"/><path color="#220690" d="M301.5 217.8l2.3 7.3 1.3-1.3-2.3-7.4z"/><path color="#a21d9a" d="M185.7 181.1l2.4-2 1.5-2.5-2.4 2.1z"/><path color="#910ea3" d="M180.4 188l2.4-2 1.5-2.4-2.4 2.1z"/><path color="#b32c8e" d="M191 174l2.4-2 1.5-2.7-2.4 2.2z"/><path color="#4c02a1" d="M160.7 210.5l2.3-1.6 1.5-2.1-2.3 1.8z"/><path color="#ec7754" d="M213.6 141.1l2.4-1.9 1.5-2.9-2.5 2z"/><path color="#7e03a8" d="M175.1 194.6l2.4-1.9 1.5-2.3-2.4 2z"/><path color="#c33d80" d="M196.3 166.7l2.4-2 1.5-2.8-2.4 2.2z"/><path color="#febe2a" d="M230.9 114.9l2.5-1.6 1.4-3-2.5 1.6z"/><path color="#2f0596" d="M151.5 219l2.3-1.5 1.5-1.7-2.3 1.6z"/><path color="#43039e" d="M300.5 209.2l2.3 7.2 1.3-1.5-2.3-7.3z"/><path color="#6c00a8" d="M169.8 200.9l2.4-1.8 1.5-2.2-2.4 1.9z"/><path color="#f58b47" d="M218.9 133.4l2.5-1.9 1.4-2.9-2.5 1.8z"/><path color="#9613a1" d="M298.8 181.3l2.3 6.9 1.3-1.9-2.3-7z"/><path color="#d14e72" d="M201.6 159.2l2.4-2 1.5-2.8-2.5 2.1z"/><path color="#fbd724" d="M236.2 107.2l2.5-1.3 1.4-3.1-2.5 1.3z"/><path color="#de5f65" d="M206.9 151.6l2.4-1.9 1.5-2.9-2.5 2.1z"/><path color="#fba139" d="M224.2 125.6l2.5-1.7 1.4-3-2.5 1.7z"/><path color="#3c049b" d="M155.3 215.8l2.4-1.5 1.5-1.9-2.3 1.6z"/><path color="#5901a5" d="M164.5 206.8l2.4-1.6 1.5-2.2-2.4 1.8z"/><path color="#6001a6" d="M299.5 200.6l2.3 7 1.3-1.6-2.3-7.2z"/><path color="#ad2793" d="M297.8 172.5l2.3 6.8 1.3-2-2.3-6.9z"/><path color="#e97158" d="M212.2 144l2.4-1.9 1.4-2.9-2.4 1.9z"/><path color="#130789" d="M142.3 226l2.3-1.1 1.5-1.5-2.3 1.3z"/><path color="#feb72d" d="M229.5 117.9l2.5-1.5 1.4-3.1-2.5 1.6z"/><path color="#9e199d" d="M184.3 183.6l2.4-1.9 1.4-2.6-2.4 2z"/><path color="#b02991" d="M189.6 176.6l2.4-2 1.4-2.6-2.4 2z"/><path color="#8d0ba5" d="M179 190.4l2.4-1.9 1.4-2.5-2.4 2z"/><path color="#bf3984" d="M194.9 169.3l2.4-1.9 1.4-2.7-2.4 2z"/><path color="#fcce25" d="M234.8 110.3l2.5-1.3 1.4-3.1-2.5 1.3z"/><path color="#f3854b" d="M217.5 136.3l2.4-1.8 1.5-3-2.5 1.9z"/><path color="#7a02a8" d="M173.7 196.9l2.3-1.8 1.5-2.4-2.4 1.9z"/><path color="#220690" d="M146.1 223.4l2.4-1.2 1.5-1.6-2.3 1.4z"/><path color="#7b02a8" d="M298.5 191.9l2.3 6.9 1.3-1.7-2.3-7.1z"/><path color="#cd4a76" d="M200.2 161.9l2.4-1.9 1.4-2.8-2.4 2z"/><path color="#4903a0" d="M159.2 212.4l2.3-1.5 1.5-2-2.3 1.6z"/><path color="#c13b82" d="M296.8 163.9l2.3 6.5 1.3-2-2.3-6.7z"/><path color="#f6e826" d="M240.1 102.8l2.5-1.1 1.4-3.1-2.5 1.1z"/><path color="#220690" d="M300.2 219.3l2.3 7.1 1.3-1.3-2.3-7.3z"/><path color="#f99a3e" d="M222.8 128.6l2.4-1.6 1.5-3.1-2.5 1.7z"/><path color="#6700a8" d="M168.4 203l2.3-1.7 1.5-2.2-2.4 1.8z"/><path color="#da5b69" d="M205.5 154.4l2.4-1.8 1.4-2.9-2.4 1.9z"/><path color="#2e0595" d="M150 220.6l2.3-1.3 1.5-1.8-2.3 1.5z"/><path color="#9410a2" d="M297.5 183.2l2.3 6.8 1.3-1.8-2.3-6.9z"/><path color="#fdaf31" d="M228.1 120.9l2.4-1.4 1.5-3.1-2.5 1.5z"/><path color="#e66c5c" d="M210.8 146.8l2.4-1.8 1.4-2.9-2.4 1.9z"/><path color="#41049d" d="M299.2 210.8l2.3 7 1.3-1.4-2.3-7.2z"/><path color="#fdc627" d="M233.4 113.3l2.5-1.2 1.4-3.1-2.5 1.3z"/><path color="#5601a4" d="M163 208.9l2.4-1.6 1.5-2.1-2.4 1.6z"/><path color="#ab2494" d="M188.1 179.1l2.4-1.8 1.5-2.7-2.4 2z"/><path color="#9a169f" d="M182.8 186l2.4-1.8 1.5-2.5-2.4 1.9z"/><path color="#f07f4f" d="M216 139.2l2.5-1.7 1.4-3-2.4 1.8z"/><path color="#3a049a" d="M153.8 217.5l2.4-1.3 1.5-1.9-2.4 1.5z"/><path color="#bb3488" d="M193.4 172l2.4-1.9 1.5-2.7-2.4 1.9z"/><path color="#f8df25" d="M238.7 105.9l2.5-1 1.4-3.2-2.5 1.1z"/><path color="#ab2494" d="M296.4 174.6l2.4 6.7 1.3-2-2.3-6.8z"/><path color="#8808a6" d="M177.5 192.7l2.4-1.7 1.5-2.5-2.4 1.9z"/><path color="#5e01a6" d="M298.2 202.3l2.3 6.9 1.3-1.6-2.3-7z"/><path color="#ca457a" d="M198.7 164.7l2.4-1.9 1.5-2.8-2.4 1.9z"/><path color="#f79342" d="M221.4 131.5l2.4-1.5 1.4-3-2.4 1.6z"/><path color="#7501a8" d="M172.2 199.1l2.4-1.7 1.4-2.3-2.3 1.8z"/><path color="#d7566c" d="M204 157.2l2.5-1.8 1.4-2.8-2.4 1.8z"/><path color="#130789" d="M140.7 227.3l2.4-1 1.5-1.4-2.3 1.1z"/><path color="#bf3984" d="M295.4 166.1l2.4 6.4 1.3-2.1-2.3-6.5z"/><path color="#fca835" d="M226.7 123.9l2.4-1.3 1.4-3.1-2.4 1.4z"/><path color="#7801a8" d="M297.1 193.8l2.4 6.8 1.3-1.8-2.3-6.9z"/><path color="#46039f" d="M157.7 214.3l2.3-1.4 1.5-2-2.3 1.5z"/><path color="#e3685f" d="M209.3 149.7l2.5-1.7 1.4-3-2.4 1.8z"/><path color="#20068f" d="M144.6 224.9l2.3-1.1 1.6-1.6-2.4 1.2z"/><path color="#6400a7" d="M166.9 205.2l2.3-1.6 1.5-2.3-2.3 1.7z"/><path color="#febe2a" d="M232 116.4l2.4-1.2 1.5-3.1-2.5 1.2z"/><path color="#fbd724" d="M237.3 109l2.5-1 1.4-3.1-2.5 1z"/><path color="#cf4c74" d="M294.4 157.6l2.4 6.3 1.3-2.2-2.4-6.4z"/><path color="#ed7a52" d="M214.6 142.1l2.5-1.6 1.4-3-2.5 1.7z"/><path color="#f3ee27" d="M242.6 101.7l2.5-.7 1.4-3.1-2.5 .7z"/><path color="#920fa3" d="M296.1 185.2l2.4 6.7 1.3-1.9-2.3-6.8z"/><path color="#220690" d="M298.9 220.7l2.3 7 1.3-1.3-2.3-7.1z"/><path color="#a72197" d="M186.7 181.7l2.4-1.8 1.4-2.6-2.4 1.8z"/><path color="#2c0594" d="M148.5 222.2l2.3-1.2 1.5-1.7-2.3 1.3z"/><path color="#b6308b" d="M192 174.6l2.4-1.8 1.4-2.7-2.4 1.9z"/><path color="#9511a1" d="M181.4 188.5l2.4-1.7 1.4-2.6-2.4 1.8z"/><path color="#f68d45" d="M219.9 134.5l2.5-1.5 1.4-3-2.4 1.5z"/><path color="#c6417d" d="M197.3 167.4l2.4-1.8 1.4-2.8-2.4 1.9z"/><path color="#8405a7" d="M176 195.1l2.4-1.7 1.5-2.4-2.4 1.7z"/><path color="#5302a3" d="M161.5 210.9l2.4-1.5 1.5-2.1-2.4 1.6z"/><path color="#41049d" d="M297.9 212.4l2.3 6.9 1.3-1.5-2.3-7z"/><path color="#d35171" d="M202.6 160l2.4-1.7 1.5-2.9-2.5 1.8z"/><path color="#fba238" d="M225.2 127l2.5-1.4 1.4-3-2.4 1.3z"/><path color="#a82296" d="M295.1 176.7l2.4 6.5 1.3-1.9-2.4-6.7z"/><path color="#38049a" d="M152.3 219.3l2.4-1.2 1.5-1.9-2.4 1.3z"/><path color="#feb72d" d="M230.5 119.5l2.5-1.2 1.4-3.1-2.4 1.2z"/><path color="#7201a8" d="M170.7 201.3l2.4-1.5 1.5-2.4-2.4 1.7z"/><path color="#df6263" d="M207.9 152.6l2.4-1.7 1.5-2.9-2.5 1.7z"/><path color="#fcce25" d="M235.9 112.1l2.4-.9 1.5-3.2-2.5 1z"/><path color="#5c01a6" d="M296.8 204l2.4 6.8 1.3-1.6-2.3-6.9z"/><path color="#f6e626" d="M241.2 104.9l2.5-.7 1.4-3.2-2.5 .7z"/><path color="#bc3587" d="M294.1 168.3l2.3 6.3 1.4-2.1-2.4-6.4z"/><path color="#ea7457" d="M213.2 145l2.5-1.5 1.4-3-2.5 1.6z"/><path color="#6001a6" d="M165.4 207.3l2.4-1.4 1.4-2.3-2.3 1.6z"/><path color="#44039e" d="M156.2 216.2l2.3-1.3 1.5-2-2.3 1.4z"/><path color="#f3874a" d="M218.5 137.5l2.5-1.4 1.4-3.1-2.5 1.5z"/><path color="#7701a8" d="M295.8 195.6l2.4 6.7 1.3-1.7-2.4-6.8z"/><path color="#cc4977" d="M293.1 159.9l2.3 6.2 1.4-2.2-2.4-6.3z"/><path color="#b32c8e" d="M190.5 177.3l2.4-1.7 1.5-2.8-2.4 1.8z"/><path color="#a21d9a" d="M185.2 184.2l2.4-1.6 1.5-2.7-2.4 1.8z"/><path color="#130789" d="M139.2 228.7l2.3-.9 1.6-1.5-2.4 1z"/><path color="#c23c81" d="M195.8 170.1l2.5-1.7 1.4-2.8-2.4 1.8z"/><path color="#fa9b3d" d="M223.8 130l2.5-1.3 1.4-3.1-2.5 1.4z"/><path color="#910ea3" d="M179.9 191l2.4-1.7 1.5-2.5-2.4 1.7z"/><path color="#20068f" d="M143.1 226.3l2.3-.9 1.5-1.6-2.3 1.1z"/><path color="#cf4c74" d="M201.1 162.8l2.5-1.6 1.4-2.9-2.4 1.7z"/><path color="#fdaf31" d="M229.1 122.6l2.5-1.1 1.4-3.2-2.5 1.2z"/><path color="#8f0da4" d="M294.8 187.2l2.3 6.6 1.4-1.9-2.4-6.7z"/><path color="#db5c68" d="M292 151.6l2.4 6 1.3-2.3-2.3-6.1z"/><path color="#7e03a8" d="M174.6 197.4l2.4-1.5 1.4-2.5-2.4 1.7z"/><path color="#f1f426" d="M245.1 101l2.5-.3 1.4-3.2-2.5 .4z"/><path color="#fdc627" d="M234.4 115.2l2.5-.9 1.4-3.1-2.4 .9z"/><path color="#dc5d67" d="M206.5 155.4l2.4-1.5 1.4-3-2.4 1.7z"/><path color="#f9dc24" d="M239.8 108l2.5-.6 1.4-3.2-2.5 .7z"/><path color="#2a0593" d="M146.9 223.8l2.4-1 1.5-1.8-2.3 1.2z"/><path color="#5002a2" d="M160 212.9l2.4-1.3 1.5-2.2-2.4 1.5z"/><path color="#e76f5a" d="M211.8 148l2.4-1.5 1.5-3-2.5 1.5z"/><path color="#220690" d="M297.6 222.2l2.3 6.8 1.3-1.3-2.3-7z"/><path color="#a62098" d="M293.8 178.9l2.3 6.3 1.4-2-2.4-6.5z"/><path color="#6e00a8" d="M169.2 203.6l2.4-1.4 1.5-2.4-2.4 1.5z"/><path color="#f0804e" d="M217.1 140.5l2.4-1.4 1.5-3-2.5 1.4z"/><path color="#350498" d="M150.8 221l2.4-1 1.5-1.9-2.4 1.2z"/><path color="#3f049c" d="M296.6 214l2.3 6.7 1.3-1.4-2.3-6.9z"/><path color="#ba3388" d="M292.7 170.5l2.4 6.2 1.3-2.1-2.3-6.3z"/><path color="#f89441" d="M222.4 133l2.5-1.2 1.4-3.1-2.5 1.3z"/><path color="#ae2892" d="M189.1 179.9l2.4-1.6 1.4-2.7-2.4 1.7z"/><path color="#be3885" d="M194.4 172.8l2.4-1.5 1.5-2.9-2.5 1.7z"/><path color="#9e199d" d="M183.8 186.8l2.4-1.6 1.4-2.6-2.4 1.6z"/><path color="#fca835" d="M227.7 125.6l2.5-1 1.4-3.1-2.5 1.1z"/><path color="#f5e926" d="M243.7 104.2l2.5-.3 1.4-3.2-2.5 .3z"/><path color="#5b01a5" d="M295.5 205.8l2.4 6.6 1.3-1.6-2.4-6.8z"/><path color="#5c01a6" d="M163.9 209.4l2.4-1.3 1.5-2.2-2.4 1.4z"/><path color="#febe2a" d="M233 118.3l2.5-.8 1.4-3.2-2.5 .9z"/><path color="#cc4778" d="M199.7 165.6l2.4-1.5 1.5-2.9-2.5 1.6z"/><path color="#fbd324" d="M238.3 111.2l2.5-.6 1.5-3.2-2.5 .6z"/><path color="#cb4679" d="M291.7 162.3l2.4 6 1.3-2.2-2.3-6.2z"/><path color="#8d0ba5" d="M178.4 193.4l2.4-1.5 1.5-2.6-2.4 1.7z"/><path color="#41049d" d="M154.7 218.1l2.3-1.2 1.5-2-2.3 1.3z"/><path color="#d8576b" d="M205 158.3l2.5-1.5 1.4-2.9-2.4 1.5z"/><path color="#7401a8" d="M294.5 197.5l2.3 6.5 1.4-1.7-2.4-6.7z"/><path color="#d9586a" d="M290.7 154.1l2.4 5.8 1.3-2.3-2.4-6z"/><path color="#e4695e" d="M210.3 150.9l2.5-1.4 1.4-3-2.4 1.5z"/><path color="#7a02a8" d="M173.1 199.8l2.4-1.4 1.5-2.5-2.4 1.5z"/><path color="#ee7b51" d="M215.7 143.5l2.4-1.3 1.4-3.1-2.4 1.4z"/><path color="#e56b5d" d="M289.6 146l2.4 5.6 1.4-2.4-2.4-5.7z"/><path color="#8d0ba5" d="M293.5 189.2l2.3 6.4 1.3-1.8-2.3-6.6z"/><path color="#f0f724" d="M247.6 100.7l2.5 0 1.4-3.3-2.5 .1z"/><path color="#100788" d="M137.6 230l2.4-.7 1.5-1.5-2.3 .9z"/><path color="#f68d45" d="M221 136.1l2.4-1.2 1.5-3.1-2.5 1.2z"/><path color="#1d068e" d="M141.5 227.8l2.4-.8 1.5-1.6-2.3 .9z"/><path color="#4c02a1" d="M158.5 214.9l2.4-1.1 1.5-2.2-2.4 1.3z"/><path color="#f8e125" d="M242.3 107.4l2.5-.3 1.4-3.2-2.5 .3z"/><path color="#6900a8" d="M167.8 205.9l2.3-1.4 1.5-2.3-2.4 1.4z"/><path color="#fba139" d="M226.3 128.7l2.5-1 1.4-3.1-2.5 1z"/><path color="#a31e9a" d="M292.4 181l2.4 6.2 1.3-2-2.3-6.3z"/><path color="#fdcb26" d="M236.9 114.3l2.5-.5 1.4-3.2-2.5 .6z"/><path color="#fdb52e" d="M231.6 121.5l2.5-.8 1.4-3.2-2.5 .8z"/><path color="#280592" d="M145.4 225.4l2.4-.8 1.5-1.8-2.4 1z"/><path color="#ba3388" d="M192.9 175.6l2.5-1.5 1.4-2.8-2.4 1.5z"/><path color="#aa2395" d="M187.6 182.6l2.4-1.5 1.5-2.8-2.4 1.6z"/><path color="#c8437b" d="M198.3 168.4l2.4-1.4 1.4-2.9-2.4 1.5z"/><path color="#99159f" d="M182.3 189.3l2.4-1.4 1.5-2.7-2.4 1.6z"/><path color="#b6308b" d="M291.4 172.7l2.4 6.2 1.3-2.2-2.4-6.2z"/><path color="#d5536f" d="M203.6 161.2l2.4-1.4 1.5-3-2.5 1.5z"/><path color="#20068f" d="M296.3 223.7l2.3 6.7 1.3-1.4-2.3-6.8z"/><path color="#330597" d="M149.3 222.8l2.3-.9 1.6-1.9-2.4 1z"/><path color="#8707a6" d="M177 195.9l2.4-1.4 1.4-2.6-2.4 1.5z"/><path color="#e06363" d="M208.9 153.9l2.5-1.4 1.4-3-2.5 1.4z"/><path color="#5801a4" d="M162.4 211.6l2.4-1.2 1.5-2.3-2.4 1.3z"/><path color="#3e049c" d="M295.2 215.6l2.4 6.6 1.3-1.5-2.3-6.7z"/><path color="#c8437b" d="M290.4 164.6l2.3 5.9 1.4-2.2-2.4-6z"/><path color="#f3ee27" d="M246.2 103.9l2.5 0 1.4-3.2-2.5 0z"/><path color="#eb7556" d="M214.2 146.5l2.5-1.2 1.4-3.1-2.4 1.3z"/><path color="#f3874a" d="M219.5 139.1l2.5-1.1 1.4-3.1-2.4 1.2z"/><path color="#d6556d" d="M289.3 156.5l2.4 5.8 1.4-2.4-2.4-5.8z"/><path color="#5901a5" d="M294.2 207.5l2.4 6.5 1.3-1.6-2.4-6.6z"/><path color="#7501a8" d="M171.6 202.2l2.4-1.3 1.5-2.5-2.4 1.4z"/><path color="#fad824" d="M240.8 110.6l2.5-.3 1.5-3.2-2.5 .3z"/><path color="#3e049c" d="M153.2 220l2.3-1 1.5-2.1-2.3 1.2z"/><path color="#f99a3e" d="M224.9 131.8l2.5-.9 1.4-3.2-2.5 1z"/><path color="#fdc328" d="M235.5 117.5l2.5-.5 1.4-3.2-2.5 .5z"/><path color="#fdae32" d="M230.2 124.6l2.5-.8 1.4-3.1-2.5 .8z"/><path color="#e3685f" d="M288.3 148.5l2.4 5.6 1.3-2.5-2.4-5.6z"/><path color="#7201a8" d="M293.2 199.4l2.3 6.4 1.3-1.8-2.3-6.5z"/><path color="#ee7b51" d="M287.2 140.7l2.4 5.3 1.4-2.5-2.4-5.4z"/><path color="#f0f921" d="M250.1 100.7l2.5 .3 1.4-3.3-2.5-.3z"/><path color="#b52f8c" d="M191.5 178.3l2.4-1.4 1.5-2.8-2.5 1.5z"/><path color="#8a09a5" d="M292.1 191.2l2.4 6.3 1.3-1.9-2.3-6.4z"/><path color="#c43e7f" d="M196.8 171.3l2.4-1.4 1.5-2.9-2.4 1.4z"/><path color="#a51f99" d="M186.2 185.2l2.4-1.4 1.4-2.7-2.4 1.5z"/><path color="#6400a7" d="M166.3 208.1l2.4-1.2 1.4-2.4-2.3 1.4z"/><path color="#d14e72" d="M202.1 164.1l2.5-1.4 1.4-2.9-2.4 1.4z"/><path color="#4903a0" d="M157 216.9l2.4-1 1.5-2.1-2.4 1.1z"/><path color="#f7e425" d="M244.8 107.1l2.5 0 1.4-3.2-2.5 0z"/><path color="#9410a2" d="M180.8 191.9l2.4-1.3 1.5-2.7-2.4 1.4z"/><path color="#dd5e66" d="M207.5 156.8l2.4-1.3 1.5-3-2.5 1.4z"/><path color="#a11b9b" d="M291.1 183.1l2.4 6.1 1.3-2-2.4-6.2z"/><path color="#100788" d="M136.1 231.3l2.3-.5 1.6-1.5-2.4 .7z"/><path color="#e76f5a" d="M212.8 149.5l2.5-1.2 1.4-3-2.5 1.2z"/><path color="#1b068d" d="M140 229.3l2.3-.6 1.6-1.7-2.4 .8z"/><path color="#fcd025" d="M239.4 113.8l2.5-.3 1.4-3.2-2.5 .3z"/><path color="#8305a7" d="M175.5 198.4l2.4-1.3 1.5-2.6-2.4 1.4z"/><path color="#f0804e" d="M218.1 142.2l2.5-1.1 1.4-3.1-2.5 1.1z"/><path color="#b42e8d" d="M290.1 175l2.3 6 1.4-2.1-2.4-6.2z"/><path color="#260591" d="M143.9 227l2.3-.7 1.6-1.7-2.4 .8z"/><path color="#f79342" d="M223.4 134.9l2.5-.9 1.5-3.1-2.5 .9z"/><path color="#febb2b" d="M234.1 120.7l2.5-.5 1.4-3.2-2.5 .5z"/><path color="#fca636" d="M228.8 127.7l2.5-.7 1.4-3.2-2.5 .8z"/><path color="#c5407e" d="M289 166.9l2.4 5.8 1.3-2.2-2.3-5.9z"/><path color="#f3f027" d="M248.7 103.9l2.5 .3 1.4-3.2-2.5-.3z"/><path color="#5502a4" d="M160.9 213.8l2.4-1.1 1.5-2.3-2.4 1.2z"/><path color="#2f0596" d="M147.8 224.6l2.3-.8 1.5-1.9-2.3 .9z"/><path color="#d45270" d="M288 159l2.4 5.6 1.3-2.3-2.4-5.8z"/><path color="#7100a8" d="M170.1 204.5l2.4-1.2 1.5-2.4-2.4 1.3z"/><path color="#e16462" d="M286.9 151.1l2.4 5.4 1.4-2.4-2.4-5.6z"/><path color="#20068f" d="M295 225.1l2.3 6.6 1.3-1.3-2.3-6.7z"/><path color="#f48948" d="M284.8 135.7l2.4 5 1.4-2.6-2.4-5.1z"/><path color="#eb7655" d="M285.9 143.3l2.4 5.2 1.3-2.5-2.4-5.3z"/><path color="#f0f921" d="M252.6 101l2.5 .6 1.4-3.2-2.5-.7z"/><path color="#f9dc24" d="M243.3 110.3l2.6 0 1.4-3.2-2.5 0z"/><path color="#3e049c" d="M293.9 217.2l2.4 6.5 1.3-1.5-2.4-6.6z"/><path color="#bf3984" d="M195.4 174.1l2.4-1.3 1.4-2.9-2.4 1.4z"/><path color="#b12a90" d="M190 181.1l2.5-1.4 1.4-2.8-2.4 1.4z"/><path color="#3a049a" d="M151.6 221.9l2.4-.9 1.5-2-2.3 1z"/><path color="#cc4977" d="M200.7 167l2.4-1.3 1.5-3-2.5 1.4z"/><path color="#a11b9b" d="M184.7 187.9l2.4-1.3 1.5-2.8-2.4 1.4z"/><path color="#d9586a" d="M206 159.8l2.5-1.2 1.4-3.1-2.4 1.3z"/><path color="#5801a4" d="M292.9 209.3l2.3 6.3 1.4-1.6-2.4-6.5z"/><path color="#fdc827" d="M238 117l2.5-.3 1.4-3.2-2.5 .3z"/><path color="#e4695e" d="M211.4 152.5l2.4-1.1 1.5-3.1-2.5 1.2z"/><path color="#8f0da4" d="M179.4 194.5l2.4-1.3 1.4-2.6-2.4 1.3z"/><path color="#7100a8" d="M291.8 201.3l2.4 6.2 1.3-1.7-2.3-6.4z"/><path color="#ee7b51" d="M216.7 145.3l2.5-1.1 1.4-3.1-2.5 1.1z"/><path color="#6100a7" d="M164.8 210.4l2.4-1.1 1.5-2.4-2.4 1.2z"/><path color="#fdb42f" d="M232.7 123.8l2.5-.4 1.4-3.2-2.5 .5z"/><path color="#f68d45" d="M222 138l2.5-.8 1.4-3.2-2.5 .9z"/><path color="#fb9f3a" d="M227.4 130.9l2.4-.7 1.5-3.2-2.5 .7z"/><path color="#f6e826" d="M247.3 107.1l2.5 .3 1.4-3.2-2.5-.3z"/><path color="#8808a6" d="M290.8 193.2l2.4 6.2 1.3-1.9-2.4-6.3z"/><path color="#46039f" d="M155.5 219l2.4-.9 1.5-2.2-2.4 1z"/><path color="#7e03a8" d="M174 200.9l2.4-1.2 1.5-2.6-2.4 1.3z"/><path color="#9e199d" d="M289.7 185.2l2.4 6 1.4-2-2.4-6.1z"/><path color="#f3f027" d="M251.2 104.2l2.5 .6 1.4-3.2-2.5-.6z"/><path color="#b22b8f" d="M288.7 177.2l2.4 5.9 1.3-2.1-2.3-6z"/><path color="#fbd324" d="M241.9 113.5l2.5 0 1.5-3.2-2.6 0z"/><path color="#f9983e" d="M282.4 131l2.4 4.7 1.4-2.7-2.4-4.8z"/><path color="#f0f921" d="M255.1 101.6l2.5 1 1.4-3.2-2.5-1z"/><path color="#c23c81" d="M287.7 169.3l2.4 5.7 1.3-2.3-2.4-5.8z"/><path color="#d14e72" d="M286.6 161.4l2.4 5.5 1.4-2.3-2.4-5.6z"/><path color="#f3854b" d="M283.5 138.4l2.4 4.9 1.3-2.6-2.4-5z"/><path color="#1b068d" d="M138.4 230.8l2.4-.5 1.5-1.6-2.3 .6z"/><path color="#5102a3" d="M159.4 215.9l2.4-.9 1.5-2.3-2.4 1.1z"/><path color="#6c00a8" d="M168.7 206.9l2.4-1.1 1.4-2.5-2.4 1.2z"/><path color="#bb3488" d="M193.9 176.9l2.4-1.2 1.5-2.9-2.4 1.3z"/><path color="#c9447a" d="M199.2 169.9l2.5-1.2 1.4-3-2.4 1.3z"/><path color="#febe2a" d="M236.6 120.2l2.5-.3 1.4-3.2-2.5 .3z"/><path color="#de6164" d="M285.6 153.6l2.4 5.4 1.3-2.5-2.4-5.4z"/><path color="#e97257" d="M284.5 145.9l2.4 5.2 1.4-2.6-2.4-5.2z"/><path color="#240691" d="M142.3 228.7l2.4-.6 1.5-1.8-2.3 .7z"/><path color="#100788" d="M134.5 232.6l2.4-.3 1.5-1.5-2.3 .5z"/><path color="#ac2694" d="M188.6 183.8l2.4-1.2 1.5-2.9-2.5 1.4z"/><path color="#d5546e" d="M204.6 162.7l2.4-1.1 1.5-3-2.5 1.2z"/><path color="#e16462" d="M209.9 155.5l2.5-1 1.4-3.1-2.4 1.1z"/><path color="#fdac33" d="M231.3 127l2.5-.4 1.4-3.2-2.5 .4z"/><path color="#eb7556" d="M215.3 148.3l2.4-.9 1.5-3.2-2.5 1.1z"/><path color="#9c179e" d="M183.2 190.6l2.5-1.3 1.4-2.7-2.4 1.3z"/><path color="#f9dd25" d="M245.9 110.3l2.5 .4 1.4-3.3-2.5-.3z"/><path color="#f9983e" d="M225.9 134l2.5-.6 1.4-3.2-2.4 .7z"/><path color="#2e0595" d="M146.2 226.3l2.4-.6 1.5-1.9-2.3 .8z"/><path color="#f3874a" d="M220.6 141.1l2.5-.8 1.4-3.1-2.5 .8z"/><path color="#8a09a5" d="M177.9 197.1l2.4-1.2 1.5-2.7-2.4 1.3z"/><path color="#38049a" d="M150.1 223.8l2.4-.7 1.5-2.1-2.4 .9z"/><path color="#f6e826" d="M249.8 107.4l2.5 .7 1.4-3.3-2.5-.6z"/><path color="#5c01a6" d="M163.3 212.7l2.4-1 1.5-2.4-2.4 1.1z"/><path color="#fdcb26" d="M240.5 116.7l2.5 .1 1.4-3.3-2.5 0z"/><path color="#20068f" d="M293.6 226.6l2.4 6.4 1.3-1.3-2.3-6.6z"/><path color="#fca636" d="M279.9 126.7l2.5 4.3 1.4-2.8-2.5-4.4z"/><path color="#f0f724" d="M257.6 102.6l2.5 1.3 1.4-3.2-2.5-1.3z"/><path color="#3c049b" d="M292.6 218.8l2.4 6.3 1.3-1.4-2.4-6.5z"/><path color="#f3f027" d="M253.7 104.8l2.5 1 1.4-3.2-2.5-1z"/><path color="#5601a4" d="M291.5 211l2.4 6.2 1.3-1.6-2.3-6.3z"/><path color="#7801a8" d="M172.5 203.3l2.4-1 1.5-2.6-2.4 1.2z"/><path color="#6e00a8" d="M290.5 203.1l2.4 6.2 1.3-1.8-2.4-6.2z"/><path color="#feb72d" d="M235.2 123.4l2.5-.2 1.4-3.3-2.5 .3z"/><path color="#43039e" d="M154 221l2.4-.8 1.5-2.1-2.4 .9z"/><path color="#f79342" d="M281 133.8l2.5 4.6 1.3-2.7-2.4-4.7z"/><path color="#8606a6" d="M289.4 195.2l2.4 6.1 1.4-1.9-2.4-6.2z"/><path color="#c43e7f" d="M197.8 172.8l2.4-1.2 1.5-2.9-2.5 1.2z"/><path color="#fca338" d="M229.8 130.2l2.5-.4 1.5-3.2-2.5 .4z"/><path color="#d14e72" d="M203.1 165.7l2.5-1.1 1.4-3-2.4 1.1z"/><path color="#9c179e" d="M288.4 187.3l2.4 5.9 1.3-2-2.4-6z"/><path color="#b6308b" d="M192.5 179.7l2.4-1.1 1.4-2.9-2.4 1.2z"/><path color="#fbd524" d="M244.4 113.5l2.5 .4 1.5-3.2-2.5-.4z"/><path color="#dd5e66" d="M208.5 158.6l2.4-1.1 1.5-3-2.5 1z"/><path color="#f0804e" d="M282.1 141.1l2.4 4.8 1.4-2.6-2.4-4.9z"/><path color="#f79143" d="M224.5 137.2l2.5-.6 1.4-3.2-2.5 .6z"/><path color="#e76f5a" d="M213.8 151.4l2.5-.9 1.4-3.1-2.4 .9z"/><path color="#f0804e" d="M219.2 144.2l2.4-.7 1.5-3.2-2.5 .8z"/><path color="#ae2892" d="M287.3 179.5l2.4 5.7 1.4-2.1-2.4-5.9z"/><path color="#a72197" d="M187.1 186.6l2.4-1.2 1.5-2.8-2.4 1.2z"/><path color="#c03a83" d="M286.3 171.6l2.4 5.6 1.4-2.2-2.4-5.7z"/><path color="#e76e5b" d="M283.1 148.6l2.5 5 1.3-2.5-2.4-5.2z"/><path color="#ce4b75" d="M285.2 163.9l2.5 5.4 1.3-2.4-2.4-5.5z"/><path color="#db5c68" d="M284.2 156.2l2.4 5.2 1.4-2.4-2.4-5.4z"/><path color="#6700a8" d="M167.2 209.3l2.4-1 1.5-2.5-2.4 1.1z"/><path color="#9613a1" d="M181.8 193.2l2.4-1.1 1.5-2.8-2.5 1.3z"/><path color="#fdb42f" d="M277.5 122.6l2.4 4.1 1.4-2.9-2.4-4.1z"/><path color="#f1f426" d="M260.1 103.9l2.5 1.7 1.4-3.2-2.5-1.7z"/><path color="#4c02a1" d="M157.9 218.1l2.4-.8 1.5-2.3-2.4 .9z"/><path color="#f8df25" d="M248.4 110.7l2.5 .6 1.4-3.2-2.5-.7z"/><path color="#fdc229" d="M239.1 119.9l2.5 .1 1.4-3.2-2.5-.1z"/><path color="#f3ee27" d="M256.2 105.8l2.5 1.3 1.4-3.2-2.5-1.3z"/><path color="#f6e826" d="M252.3 108.1l2.5 .9 1.4-3.2-2.5-1z"/><path color="#8606a6" d="M176.4 199.7l2.4-1.1 1.5-2.7-2.4 1.2z"/><path color="#220690" d="M140.8 230.3l2.4-.4 1.5-1.8-2.4 .6z"/><path color="#fba139" d="M278.6 129.5l2.4 4.3 1.4-2.8-2.5-4.3z"/><path color="#fdaf31" d="M233.8 126.6l2.5-.2 1.4-3.2-2.5 .2z"/><path color="#19068c" d="M136.9 232.3l2.3-.4 1.6-1.6-2.4 .5z"/><path color="#2c0594" d="M144.7 228.1l2.4-.5 1.5-1.9-2.4 .6z"/><path color="#fec029" d="M275 119l2.5 3.6 1.4-2.9-2.5-3.7z"/><path color="#f3ee27" d="M262.6 105.6l2.5 2 1.4-3.2-2.5-2z"/><path color="#100788" d="M132.9 233.9l2.4-.2 1.6-1.4-2.4 .3z"/><path color="#fa9c3c" d="M228.4 133.4l2.5-.4 1.4-3.2-2.5 .4z"/><path color="#fccd25" d="M243 116.8l2.5 .3 1.4-3.2-2.5-.4z"/><path color="#5801a4" d="M161.8 215l2.4-.9 1.5-2.4-2.4 1z"/><path color="#f58b47" d="M223.1 140.3l2.5-.5 1.4-3.2-2.5 .6z"/><path color="#7401a8" d="M171.1 205.8l2.4-.9 1.4-2.6-2.4 1z"/><path color="#cd4a76" d="M201.7 168.7l2.4-1.1 1.5-3-2.5 1.1z"/><path color="#f68d45" d="M279.6 136.6l2.5 4.5 1.4-2.7-2.5-4.6z"/><path color="#d9586a" d="M207 161.6l2.5-1 1.4-3.1-2.4 1.1z"/><path color="#ed7a52" d="M217.7 147.4l2.5-.8 1.4-3.1-2.4 .7z"/><path color="#c03a83" d="M196.3 175.7l2.5-1.1 1.4-3-2.4 1.2z"/><path color="#e4695e" d="M212.4 154.5l2.5-.9 1.4-3.1-2.5 .9z"/><path color="#350498" d="M148.6 225.7l2.4-.6 1.5-2-2.4 .7z"/><path color="#b22b8f" d="M191 182.6l2.4-1.1 1.5-2.9-2.4 1.1z"/><path color="#fdcb26" d="M272.6 115.6l2.4 3.4 1.4-3-2.4-3.4z"/><path color="#f6e826" d="M265.1 107.6l2.5 2.3 1.4-3.1-2.5-2.4z"/><path color="#f5e926" d="M258.7 107.1l2.5 1.7 1.4-3.2-2.5-1.7z"/><path color="#fbd524" d="M246.9 113.9l2.6 .7 1.4-3.3-2.5-.6z"/><path color="#a21d9a" d="M185.7 189.3l2.4-1 1.4-2.9-2.4 1.2z"/><path color="#ee7b51" d="M280.7 143.8l2.4 4.8 1.4-2.7-2.4-4.8z"/><path color="#feba2c" d="M237.7 123.2l2.5 .1 1.4-3.3-2.5-.1z"/><path color="#fbd724" d="M270.1 112.6l2.5 3 1.4-3-2.5-3.1z"/><path color="#f8df25" d="M267.6 109.9l2.5 2.7 1.4-3.1-2.5-2.7z"/><path color="#fdac33" d="M276.1 125.6l2.5 3.9 1.3-2.8-2.4-4.1z"/><path color="#3f049c" d="M152.5 223.1l2.4-.7 1.5-2.2-2.4 .8z"/><path color="#f7e425" d="M254.8 109l2.5 1.3 1.4-3.2-2.5-1.3z"/><path color="#f9dd25" d="M250.9 111.3l2.5 1 1.4-3.3-2.5-.9z"/><path color="#e56a5d" d="M281.8 151.2l2.4 5 1.4-2.6-2.5-5z"/><path color="#5502a4" d="M290.2 212.8l2.4 6 1.3-1.6-2.4-6.2z"/><path color="#3c049b" d="M291.3 220.5l2.3 6.1 1.4-1.5-2.4-6.3z"/><path color="#6c00a8" d="M289.1 205l2.4 6 1.4-1.7-2.4-6.2z"/><path color="#910ea3" d="M180.3 195.9l2.4-1 1.5-2.8-2.4 1.1z"/><path color="#8305a7" d="M288.1 197.3l2.4 5.8 1.3-1.8-2.4-6.1z"/><path color="#d9586a" d="M282.8 158.7l2.4 5.2 1.4-2.5-2.4-5.2z"/><path color="#20068f" d="M292.3 228.1l2.4 6.2 1.3-1.3-2.4-6.4z"/><path color="#9814a0" d="M287 189.5l2.4 5.7 1.4-2-2.4-5.9z"/><path color="#ac2694" d="M286 181.7l2.4 5.6 1.3-2.1-2.4-5.7z"/><path color="#cc4778" d="M283.9 166.3l2.4 5.3 1.4-2.3-2.5-5.4z"/><path color="#bd3786" d="M284.9 174l2.4 5.5 1.4-2.3-2.4-5.6z"/><path color="#6300a7" d="M165.7 211.7l2.4-.9 1.5-2.5-2.4 1z"/><path color="#fca835" d="M232.3 129.8l2.5-.2 1.5-3.2-2.5 .2z"/><path color="#f6e626" d="M261.2 108.8l2.5 1.9 1.4-3.1-2.5-2z"/><path color="#fdc328" d="M241.6 120l2.5 .4 1.4-3.3-2.5-.3z"/><path color="#f89540" d="M227 136.6l2.5-.4 1.4-3.2-2.5 .4z"/><path color="#f99a3e" d="M277.2 132.4l2.4 4.2 1.4-2.8-2.4-4.3z"/><path color="#8004a8" d="M174.9 202.3l2.4-1 1.5-2.7-2.4 1.1z"/><path color="#4903a0" d="M156.4 220.2l2.4-.7 1.5-2.2-2.4 .8z"/><path color="#feb82c" d="M273.6 122l2.5 3.6 1.4-3-2.5-3.6z"/><path color="#f2844b" d="M221.6 143.5l2.5-.6 1.5-3.1-2.5 .5z"/><path color="#ea7457" d="M216.3 150.5l2.5-.7 1.4-3.2-2.5 .8z"/><path color="#e06363" d="M210.9 157.5l2.5-.8 1.5-3.1-2.5 .9z"/><path color="#d5546e" d="M205.6 164.6l2.5-.9 1.4-3.1-2.5 1z"/><path color="#c9447a" d="M200.2 171.6l2.5-.9 1.4-3.1-2.4 1.1z"/><path color="#bc3587" d="M194.9 178.6l2.4-1 1.5-3-2.5 1.1z"/><path color="#f8df25" d="M263.7 110.7l2.5 2.4 1.4-3.2-2.5-2.3z"/><path color="#f8e125" d="M257.3 110.3l2.5 1.7 1.4-3.2-2.5-1.7z"/><path color="#fccd25" d="M245.5 117.1l2.5 .7 1.5-3.2-2.6-.7z"/><path color="#f48849" d="M278.3 139.4l2.4 4.4 1.4-2.7-2.5-4.5z"/><path color="#fdc328" d="M271.2 118.7l2.4 3.3 1.4-3-2.4-3.4z"/><path color="#ac2694" d="M189.5 185.4l2.5-1 1.4-2.9-2.4 1.1z"/><path color="#fdb22f" d="M236.3 126.4l2.5 .1 1.4-3.2-2.5-.1z"/><path color="#fbd524" d="M249.5 114.6l2.5 .9 1.4-3.2-2.5-1z"/><path color="#6f00a8" d="M169.6 208.3l2.4-.8 1.5-2.6-2.4 .9z"/><path color="#f9dc24" d="M253.4 112.3l2.5 1.3 1.4-3.3-2.5-1.3z"/><path color="#fbd724" d="M266.2 113.1l2.5 2.6 1.4-3.1-2.5-2.7z"/><path color="#fcce25" d="M268.7 115.7l2.5 3 1.4-3.1-2.5-3z"/><path color="#5302a3" d="M160.3 217.3l2.4-.8 1.5-2.4-2.4 .9z"/><path color="#9d189d" d="M184.2 192.1l2.4-1 1.5-2.8-2.4 1z"/><path color="#fca636" d="M274.7 128.5l2.5 3.9 1.4-2.9-2.5-3.9z"/><path color="#eb7655" d="M279.3 146.6l2.5 4.6 1.3-2.6-2.4-4.8z"/><path color="#20068f" d="M139.2 231.9l2.4-.2 1.6-1.8-2.4 .4z"/><path color="#280592" d="M143.2 229.9l2.3-.4 1.6-1.9-2.4 .5z"/><path color="#fba139" d="M230.9 133l2.5-.1 1.4-3.3-2.5 .2z"/><path color="#16078a" d="M135.3 233.7l2.4-.1 1.5-1.7-2.3 .4z"/><path color="#e26561" d="M280.4 153.9l2.4 4.8 1.4-2.5-2.4-5z"/><path color="#310597" d="M147.1 227.6l2.4-.4 1.5-2.1-2.4 .6z"/><path color="#8b0aa5" d="M178.8 198.6l2.4-.9 1.5-2.8-2.4 1z"/><path color="#f9dc24" d="M259.8 112l2.5 1.9 1.4-3.2-2.5-1.9z"/><path color="#febb2b" d="M240.2 123.3l2.5 .3 1.4-3.2-2.5-.4z"/><path color="#f68f44" d="M225.6 139.8l2.5-.4 1.4-3.2-2.5 .4z"/><path color="#100788" d="M131.4 235.3l2.3-.1 1.6-1.5-2.4 .2z"/><path color="#d6556d" d="M281.4 161.3l2.5 5 1.3-2.4-2.4-5.2z"/><path color="#ef7e50" d="M220.2 146.6l2.5-.4 1.4-3.3-2.5 .6z"/><path color="#fdb22f" d="M272.2 125l2.5 3.5 1.4-2.9-2.5-3.6z"/><path color="#c9447a" d="M282.5 168.8l2.4 5.2 1.4-2.4-2.4-5.3z"/><path color="#f89441" d="M275.8 135.3l2.5 4.1 1.3-2.8-2.4-4.2z"/><path color="#3a049a" d="M151 225.1l2.4-.5 1.5-2.2-2.4 .7z"/><path color="#5e01a6" d="M164.2 214.1l2.4-.7 1.5-2.6-2.4 .9z"/><path color="#e76e5b" d="M214.9 153.6l2.4-.6 1.5-3.2-2.5 .7z"/><path color="#ba3388" d="M283.6 176.3l2.4 5.4 1.3-2.2-2.4-5.5z"/><path color="#dc5d67" d="M209.5 160.6l2.5-.7 1.4-3.2-2.5 .8z"/><path color="#fdc527" d="M244.1 120.4l2.5 .7 1.4-3.3-2.5-.7z"/><path color="#fad824" d="M255.9 113.6l2.5 1.6 1.4-3.2-2.5-1.7z"/><path color="#d14e72" d="M204.1 167.6l2.5-.8 1.5-3.1-2.5 .9z"/><path color="#a82296" d="M284.6 184l2.4 5.5 1.4-2.2-2.4-5.6z"/><path color="#fbd724" d="M262.3 113.9l2.5 2.3 1.4-3.1-2.5-2.4z"/><path color="#7b02a8" d="M173.5 204.9l2.4-.9 1.4-2.7-2.4 1z"/><path color="#9511a1" d="M285.7 191.6l2.4 5.7 1.3-2.1-2.4-5.7z"/><path color="#c43e7f" d="M198.8 174.6l2.4-.9 1.5-3-2.5 .9z"/><path color="#8004a8" d="M286.7 199.3l2.4 5.7 1.4-1.9-2.4-5.8z"/><path color="#fdab33" d="M234.8 129.6l2.5 .2 1.5-3.3-2.5-.1z"/><path color="#6900a8" d="M287.8 206.9l2.4 5.9 1.3-1.8-2.4-6z"/><path color="#b6308b" d="M193.4 181.5l2.5-.9 1.4-3-2.4 1z"/><path color="#fccd25" d="M248 117.8l2.5 1 1.5-3.3-2.5-.9z"/><path color="#febd2a" d="M269.8 121.7l2.4 3.3 1.4-3-2.4-3.3z"/><path color="#fbd324" d="M252 115.5l2.5 1.3 1.4-3.2-2.5-1.3z"/><path color="#5302a3" d="M288.9 214.5l2.4 6 1.3-1.7-2.4-6z"/><path color="#fcce25" d="M264.8 116.2l2.5 2.6 1.4-3.1-2.5-2.6z"/><path color="#44039e" d="M154.9 222.4l2.4-.6 1.5-2.3-2.4 .7z"/><path color="#3a049a" d="M289.9 222.1l2.4 6 1.3-1.5-2.3-6.1z"/><path color="#fdc627" d="M267.3 118.8l2.5 2.9 1.4-3-2.5-3z"/><path color="#a72197" d="M188.1 188.3l2.4-.9 1.5-3-2.5 1z"/><path color="#f1834c" d="M276.9 142.2l2.4 4.4 1.4-2.8-2.4-4.4z"/><path color="#f9983e" d="M229.5 136.2l2.5-.1 1.4-3.2-2.5 .1z"/><path color="#1d068e" d="M291 229.6l2.4 6.1 1.3-1.4-2.4-6.2z"/><path color="#fba139" d="M273.3 131.5l2.5 3.8 1.4-2.9-2.5-3.9z"/><path color="#9814a0" d="M182.7 194.9l2.4-.9 1.5-2.9-2.4 1z"/><path color="#fdb42f" d="M238.8 126.5l2.5 .4 1.4-3.3-2.5-.3z"/><path color="#fbd324" d="M258.4 115.2l2.5 1.9 1.4-3.2-2.5-1.9z"/><path color="#6a00a8" d="M168.1 210.8l2.4-.7 1.5-2.6-2.4 .8z"/><path color="#e97158" d="M277.9 149.3l2.5 4.6 1.4-2.7-2.5-4.6z"/><path color="#f48849" d="M224.1 142.9l2.5-.2 1.5-3.3-2.5 .4z"/><path color="#5002a2" d="M158.8 219.5l2.4-.6 1.5-2.4-2.4 .8z"/><path color="#ec7754" d="M218.8 149.8l2.5-.4 1.4-3.2-2.5 .4z"/><path color="#8707a6" d="M177.3 201.3l2.5-.9 1.4-2.7-2.4 .9z"/><path color="#e3685f" d="M213.4 156.7l2.5-.5 1.4-3.2-2.4 .6z"/><path color="#df6263" d="M279 156.5l2.4 4.8 1.4-2.6-2.4-4.8z"/><path color="#febd2a" d="M242.7 123.6l2.5 .7 1.4-3.2-2.5-.7z"/><path color="#fcd025" d="M254.5 116.8l2.5 1.6 1.4-3.2-2.5-1.6z"/><path color="#fdab33" d="M270.9 128l2.4 3.5 1.4-3-2.5-3.5z"/><path color="#d8576b" d="M208.1 163.7l2.4-.7 1.5-3.1-2.5 .7z"/><path color="#fcce25" d="M260.9 117.1l2.5 2.2 1.4-3.1-2.5-2.3z"/><path color="#fba238" d="M233.4 132.9l2.5 .1 1.4-3.2-2.5-.2z"/><path color="#f68f44" d="M274.4 138.2l2.5 4 1.4-2.8-2.5-4.1z"/><path color="#cc4977" d="M202.7 170.7l2.5-.8 1.4-3.1-2.5 .8z"/><path color="#fdc328" d="M246.6 121.1l2.5 .9 1.4-3.2-2.5-1z"/><path color="#fdcb26" d="M250.5 118.8l2.6 1.2 1.4-3.2-2.5-1.3z"/><path color="#d35171" d="M280.1 163.8l2.4 5 1.4-2.5-2.5-5z"/><path color="#c03a83" d="M197.3 177.6l2.5-.8 1.4-3.1-2.4 .9z"/><path color="#260591" d="M141.6 231.7l2.4-.2 1.5-2-2.3 .4z"/><path color="#fdb52e" d="M268.4 124.8l2.5 3.2 1.3-3-2.4-3.3z"/><path color="#fdc627" d="M263.4 119.3l2.5 2.6 1.4-3.1-2.5-2.6z"/><path color="#1d068e" d="M137.7 233.6l2.4-.1 1.5-1.8-2.4 .2z"/><path color="#b22b8f" d="M192 184.4l2.4-.8 1.5-3-2.5 .9z"/><path color="#c6417d" d="M281.1 171.2l2.5 5.1 1.3-2.3-2.4-5.2z"/><path color="#2e0595" d="M145.5 229.5l2.4-.3 1.6-2-2.4 .4z"/><path color="#5901a5" d="M162.7 216.5l2.4-.6 1.5-2.5-2.4 .7z"/><path color="#febe2a" d="M265.9 121.9l2.5 2.9 1.4-3.1-2.5-2.9z"/><path color="#7501a8" d="M172 207.5l2.4-.8 1.5-2.7-2.4 .9z"/><path color="#f79143" d="M228.1 139.4l2.5 0 1.4-3.3-2.5 .1z"/><path color="#b7318a" d="M282.2 178.7l2.4 5.3 1.4-2.3-2.4-5.4z"/><path color="#16078a" d="M133.7 235.2l2.4 0 1.6-1.6-2.4 .1z"/><path color="#a21d9a" d="M186.6 191.1l2.5-.8 1.4-2.9-2.4 .9z"/><path color="#ef7e50" d="M275.5 145l2.4 4.3 1.4-2.7-2.4-4.4z"/><path color="#fdac33" d="M237.3 129.8l2.6 .4 1.4-3.3-2.5-.4z"/><path color="#370499" d="M149.5 227.2l2.4-.4 1.5-2.2-2.4 .5z"/><path color="#fdcb26" d="M257 118.4l2.5 1.9 1.4-3.2-2.5-1.9z"/><path color="#a62098" d="M283.3 186.2l2.4 5.4 1.3-2.1-2.4-5.5z"/><path color="#f1814d" d="M222.7 146.2l2.5-.3 1.4-3.2-2.5 .2z"/><path color="#f99a3e" d="M271.9 134.4l2.5 3.8 1.4-2.9-2.5-3.8z"/><path color="#920fa3" d="M284.3 193.8l2.4 5.5 1.4-2-2.4-5.7z"/><path color="#920fa3" d="M181.2 197.7l2.5-.8 1.4-2.9-2.4 .9z"/><path color="#7e03a8" d="M285.4 201.3l2.4 5.6 1.3-1.9-2.4-5.7z"/><path color="#0d0887" d="M129.8 236.6l2.4 .1 1.5-1.5-2.3 .1z"/><path color="#e97158" d="M217.3 153l2.5-.4 1.5-3.2-2.5 .4z"/><path color="#41049d" d="M153.4 224.6l2.4-.4 1.5-2.4-2.4 .6z"/><path color="#fdb42f" d="M241.3 126.9l2.5 .7 1.4-3.3-2.5-.7z"/><path color="#e76e5b" d="M276.6 152l2.4 4.5 1.4-2.6-2.5-4.6z"/><path color="#fdc827" d="M253.1 120l2.5 1.6 1.4-3.2-2.5-1.6z"/><path color="#6700a8" d="M286.4 208.8l2.5 5.7 1.3-1.7-2.4-5.9z"/><path color="#df6263" d="M212 159.9l2.5-.6 1.4-3.1-2.5 .5z"/><path color="#6400a7" d="M166.6 213.4l2.4-.7 1.5-2.6-2.4 .7z"/><path color="#fa9b3d" d="M232 136.1l2.5 .2 1.4-3.3-2.5-.1z"/><path color="#fdc627" d="M259.5 120.3l2.5 2.2 1.4-3.2-2.5-2.2z"/><path color="#d5536f" d="M206.6 166.8l2.5-.6 1.4-3.2-2.4 .7z"/><path color="#febb2b" d="M245.2 124.3l2.5 1 1.4-3.3-2.5-.9z"/><path color="#fca537" d="M269.5 131l2.4 3.4 1.4-2.9-2.4-3.5z"/><path color="#5102a3" d="M287.5 216.3l2.4 5.8 1.4-1.6-2.4-6z"/><path color="#fdc229" d="M249.1 122l2.5 1.3 1.5-3.3-2.6-1.2z"/><path color="#c8437b" d="M201.2 173.7l2.5-.7 1.5-3.1-2.5 .8z"/><path color="#8104a7" d="M175.9 204l2.4-.8 1.5-2.8-2.5 .9z"/><path color="#f48948" d="M273 141.1l2.5 3.9 1.4-2.8-2.5-4z"/><path color="#dc5d67" d="M277.6 159.2l2.5 4.6 1.3-2.5-2.4-4.8z"/><path color="#38049a" d="M288.6 223.7l2.4 5.9 1.3-1.5-2.4-6z"/><path color="#bb3488" d="M195.9 180.6l2.4-.8 1.5-3-2.5 .8z"/><path color="#4b03a1" d="M157.3 221.8l2.4-.5 1.5-2.4-2.4 .6z"/><path color="#febe2a" d="M262 122.5l2.5 2.5 1.4-3.1-2.5-2.6z"/><path color="#fdae32" d="M267 127.8l2.5 3.2 1.4-3-2.5-3.2z"/><path color="#f58b47" d="M226.6 142.7l2.5-.1 1.5-3.2-2.5 0z"/><path color="#feb72d" d="M264.5 125l2.5 2.8 1.4-3-2.5-2.9z"/><path color="#ac2694" d="M190.5 187.4l2.5-.8 1.4-3-2.4 .8z"/><path color="#fca338" d="M235.9 133l2.5 .4 1.5-3.2-2.6-.4z"/><path color="#1d068e" d="M289.6 231.1l2.4 5.9 1.4-1.3-2.4-6.1z"/><path color="#d04d73" d="M278.7 166.4l2.4 4.8 1.4-2.4-2.4-5z"/><path color="#fdc328" d="M255.6 121.6l2.5 1.9 1.4-3.2-2.5-1.9z"/><path color="#ee7b51" d="M221.3 149.4l2.5-.3 1.4-3.2-2.5 .3z"/><path color="#9d189d" d="M185.1 194l2.5-.8 1.5-2.9-2.5 .8z"/><path color="#7100a8" d="M170.5 210.1l2.4-.7 1.5-2.7-2.4 .8z"/><path color="#ed7953" d="M274.1 147.9l2.5 4.1 1.3-2.7-2.4-4.3z"/><path color="#c33d80" d="M279.8 173.7l2.4 5 1.4-2.4-2.5-5.1z"/><path color="#5502a4" d="M161.2 218.9l2.4-.5 1.5-2.5-2.4 .6z"/><path color="#f89441" d="M270.5 137.4l2.5 3.7 1.4-2.9-2.5-3.8z"/><path color="#e56b5d" d="M215.9 156.2l2.5-.4 1.4-3.2-2.5 .4z"/><path color="#fdac33" d="M239.9 130.2l2.5 .6 1.4-3.2-2.5-.7z"/><path color="#febe2a" d="M251.6 123.3l2.6 1.5 1.4-3.2-2.5-1.6z"/><path color="#f89441" d="M230.6 139.4l2.5 .1 1.4-3.2-2.5-.2z"/><path color="#db5c68" d="M210.5 163l2.5-.5 1.5-3.2-2.5 .6z"/><path color="#b42e8d" d="M280.8 181.1l2.5 5.1 1.3-2.2-2.4-5.3z"/><path color="#8d0ba5" d="M179.8 200.4l2.4-.7 1.5-2.8-2.5 .8z"/><path color="#febe2a" d="M258.1 123.5l2.5 2.2 1.4-3.2-2.5-2.2z"/><path color="#fdb42f" d="M243.8 127.6l2.5 .9 1.4-3.2-2.5-1z"/><path color="#220690" d="M140.1 233.5l2.4-.1 1.5-1.9-2.4 .2z"/><path color="#feba2c" d="M247.7 125.3l2.5 1.2 1.4-3.2-2.5-1.3z"/><path color="#2c0594" d="M144 231.5l2.4-.2 1.5-2.1-2.4 .3z"/><path color="#d04d73" d="M205.2 169.9l2.4-.6 1.5-3.1-2.5 .6z"/><path color="#a21d9a" d="M281.9 188.5l2.4 5.3 1.4-2.2-2.4-5.4z"/><path color="#1b068d" d="M136.1 235.2l2.4 .1 1.6-1.8-2.4 .1z"/><path color="#fa9e3b" d="M268.1 134l2.4 3.4 1.4-3-2.4-3.4z"/><path color="#330597" d="M147.9 229.2l2.4-.2 1.6-2.2-2.4 .4z"/><path color="#e4695e" d="M275.2 154.8l2.4 4.4 1.4-2.7-2.4-4.5z"/><path color="#c43e7f" d="M199.8 176.8l2.5-.7 1.4-3.1-2.5 .7z"/><path color="#feb72d" d="M260.6 125.7l2.5 2.4 1.4-3.1-2.5-2.5z"/><path color="#f2844b" d="M225.2 145.9l2.5 0 1.4-3.3-2.5 .1z"/><path color="#8f0da4" d="M283 195.9l2.4 5.4 1.3-2-2.4-5.5z"/><path color="#6001a6" d="M165.1 215.9l2.4-.6 1.5-2.6-2.4 .7z"/><path color="#b6308b" d="M194.4 183.6l2.5-.7 1.4-3.1-2.4 .8z"/><path color="#fca835" d="M265.6 130.9l2.5 3.1 1.4-3-2.5-3.2z"/><path color="#3c049b" d="M151.9 226.8l2.4-.3 1.5-2.3-2.4 .4z"/><path color="#f2844b" d="M271.6 144l2.5 3.9 1.4-2.9-2.5-3.9z"/><path color="#fdaf31" d="M263.1 128.1l2.5 2.8 1.4-3.1-2.5-2.8z"/><path color="#fa9c3c" d="M234.5 136.3l2.5 .4 1.4-3.3-2.5-.4z"/><path color="#7b02a8" d="M174.4 206.7l2.4-.7 1.5-2.8-2.4 .8z"/><path color="#130789" d="M132.2 236.7l2.4 .2 1.5-1.7-2.4 0z"/><path color="#7b02a8" d="M284 203.3l2.4 5.5 1.4-1.9-2.4-5.6z"/><path color="#febb2b" d="M254.2 124.8l2.5 1.9 1.4-3.2-2.5-1.9z"/><path color="#a72197" d="M189.1 190.3l2.4-.7 1.5-3-2.5 .8z"/><path color="#d9586a" d="M276.2 161.8l2.5 4.6 1.4-2.6-2.5-4.6z"/><path color="#ea7457" d="M219.8 152.6l2.5-.2 1.5-3.3-2.5 .3z"/><path color="#6600a7" d="M285.1 210.7l2.4 5.6 1.4-1.8-2.5-5.7z"/><path color="#fca537" d="M238.4 133.4l2.5 .7 1.5-3.3-2.5-.6z"/><path color="#46039f" d="M155.8 224.2l2.4-.4 1.5-2.5-2.4 .5z"/><path color="#e26561" d="M214.5 159.3l2.4-.3 1.5-3.2-2.5 .4z"/><path color="#9814a0" d="M183.7 196.9l2.4-.7 1.5-3-2.5 .8z"/><path color="#feb72d" d="M250.2 126.5l2.5 1.5 1.5-3.2-2.6-1.5z"/><path color="#0d0887" d="M128.2 237.9l2.4 .3 1.6-1.5-2.4-.1z"/><path color="#cd4a76" d="M277.3 169l2.5 4.7 1.3-2.5-2.4-4.8z"/><path color="#f68d45" d="M229.1 142.6l2.5 .2 1.5-3.3-2.5-.1z"/><path color="#f68d45" d="M269.1 140.3l2.5 3.7 1.4-2.9-2.5-3.7z"/><path color="#5002a2" d="M286.2 218.1l2.4 5.6 1.3-1.6-2.4-5.8z"/><path color="#fdac33" d="M242.4 130.8l2.5 1 1.4-3.3-2.5-.9z"/><path color="#d7566c" d="M209.1 166.2l2.5-.5 1.4-3.2-2.5 .5z"/><path color="#ea7457" d="M272.7 150.7l2.5 4.1 1.4-2.8-2.5-4.1z"/><path color="#fdb22f" d="M246.3 128.5l2.5 1.3 1.4-3.3-2.5-1.2z"/><path color="#6a00a8" d="M169 212.7l2.4-.6 1.5-2.7-2.4 .7z"/><path color="#fdb52e" d="M256.7 126.7l2.5 2.1 1.4-3.1-2.5-2.2z"/><path color="#cc4778" d="M203.7 173l2.5-.5 1.4-3.2-2.4 .6z"/><path color="#c03a83" d="M278.4 176.2l2.4 4.9 1.4-2.4-2.4-5z"/><path color="#8707a6" d="M178.3 203.2l2.4-.6 1.5-2.9-2.4 .7z"/><path color="#5002a2" d="M159.7 221.3l2.4-.4 1.5-2.5-2.4 .5z"/><path color="#38049a" d="M287.2 225.4l2.4 5.7 1.4-1.5-2.4-5.9z"/><path color="#f9983e" d="M266.7 137l2.4 3.3 1.4-2.9-2.4-3.4z"/><path color="#ef7e50" d="M223.8 149.1l2.5 0 1.4-3.2-2.5 0z"/><path color="#bf3984" d="M198.3 179.8l2.5-.6 1.5-3.1-2.5 .7z"/><path color="#fdaf31" d="M259.2 128.8l2.5 2.5 1.4-3.2-2.5-2.4z"/><path color="#f89540" d="M233.1 139.5l2.5 .5 1.4-3.3-2.5-.4z"/><path color="#fba139" d="M264.2 134l2.5 3 1.4-3-2.5-3.1z"/><path color="#b12a90" d="M279.5 183.5l2.4 5 1.4-2.3-2.5-5.1z"/><path color="#e16462" d="M273.8 157.5l2.4 4.3 1.4-2.6-2.4-4.4z"/><path color="#fca835" d="M261.7 131.3l2.5 2.7 1.4-3.1-2.5-2.8z"/><path color="#b12a90" d="M193 186.6l2.4-.6 1.5-3.1-2.5 .7z"/><path color="#fdb42f" d="M252.7 128l2.5 1.9 1.5-3.2-2.5-1.9z"/><path color="#1d068e" d="M288.3 232.6l2.4 5.7 1.3-1.3-2.4-5.9z"/><path color="#e76e5b" d="M218.4 155.8l2.5-.2 1.4-3.2-2.5 .2z"/><path color="#ef7e50" d="M270.2 146.9l2.5 3.8 1.4-2.8-2.5-3.9z"/><path color="#7501a8" d="M172.9 209.4l2.4-.6 1.5-2.8-2.4 .7z"/><path color="#a21d9a" d="M187.6 193.2l2.4-.6 1.5-3-2.4 .7z"/><path color="#fa9c3c" d="M237 136.7l2.5 .7 1.4-3.3-2.5-.7z"/><path color="#a01a9c" d="M280.5 190.8l2.5 5.1 1.3-2.1-2.4-5.3z"/><path color="#5b01a5" d="M163.6 218.4l2.4-.5 1.5-2.6-2.4 .6z"/><path color="#280592" d="M142.5 233.4l2.4 0 1.5-2.1-2.4 .2z"/><path color="#de5f65" d="M213 162.5l2.5-.3 1.4-3.2-2.4 .3z"/><path color="#fdaf31" d="M248.8 129.8l2.5 1.5 1.4-3.3-2.5-1.5z"/><path color="#2f0596" d="M146.4 231.3l2.4-.1 1.5-2.2-2.4 .2z"/><path color="#20068f" d="M138.5 235.3l2.4 0 1.6-1.9-2.4 .1z"/><path color="#f3854b" d="M227.7 145.9l2.5 .2 1.4-3.3-2.5-.2z"/><path color="#d6556d" d="M274.9 164.5l2.4 4.5 1.4-2.6-2.5-4.6z"/><path color="#fca338" d="M240.9 134.1l2.5 1 1.5-3.3-2.5-1z"/><path color="#fdab33" d="M244.9 131.8l2.5 1.2 1.4-3.2-2.5-1.3z"/><path color="#8d0ba5" d="M281.6 198.1l2.4 5.2 1.4-2-2.4-5.4z"/><path color="#d35171" d="M207.6 169.3l2.5-.4 1.5-3.2-2.5 .5z"/><path color="#38049a" d="M150.3 229l2.4-.2 1.6-2.3-2.4 .3z"/><path color="#fdae32" d="M255.2 129.9l2.6 2.1 1.4-3.2-2.5-2.1z"/><path color="#910ea3" d="M182.2 199.7l2.4-.6 1.5-2.9-2.4 .7z"/><path color="#19068c" d="M134.6 236.9l2.4 .2 1.5-1.8-2.4-.1z"/><path color="#f48849" d="M267.7 143.3l2.5 3.6 1.4-2.9-2.5-3.7z"/><path color="#c7427c" d="M202.3 176.1l2.4-.5 1.5-3.1-2.5 .5z"/><path color="#e76f5a" d="M271.3 153.5l2.5 4 1.4-2.7-2.5-4.1z"/><path color="#7801a8" d="M282.7 205.4l2.4 5.3 1.3-1.9-2.4-5.5z"/><path color="#eb7655" d="M222.3 152.4l2.5 0 1.5-3.3-2.5 0z"/><path color="#41049d" d="M154.3 226.5l2.4-.3 1.5-2.4-2.4 .4z"/><path color="#ca457a" d="M275.9 171.6l2.5 4.6 1.4-2.5-2.5-4.7z"/><path color="#f68f44" d="M231.6 142.8l2.5 .5 1.5-3.3-2.5-.5z"/><path color="#6400a7" d="M167.5 215.3l2.4-.5 1.5-2.7-2.4 .6z"/><path color="#fca835" d="M257.8 132l2.5 2.4 1.4-3.1-2.5-2.5z"/><path color="#ba3388" d="M196.9 182.9l2.4-.5 1.5-3.2-2.5 .6z"/><path color="#f79143" d="M265.3 140l2.4 3.3 1.4-3-2.4-3.3z"/><path color="#130789" d="M130.6 238.2l2.4 .3 1.6-1.6-2.4-.2z"/><path color="#8104a7" d="M176.8 206l2.4-.5 1.5-2.9-2.4 .6z"/><path color="#fdac33" d="M251.3 131.3l2.5 1.8 1.4-3.2-2.5-1.9z"/><path color="#fba238" d="M260.3 134.4l2.5 2.7 1.4-3.1-2.5-2.7z"/><path color="#6300a7" d="M283.7 212.6l2.5 5.5 1.3-1.8-2.4-5.6z"/><path color="#f99a3e" d="M262.8 137.1l2.5 2.9 1.4-3-2.5-3z"/><path color="#e3685f" d="M216.9 159l2.5-.1 1.5-3.3-2.5 .2z"/><path color="#ac2694" d="M191.5 189.6l2.5-.6 1.4-3-2.4 .6z"/><path color="#bd3786" d="M277 178.7l2.5 4.8 1.3-2.4-2.4-4.9z"/><path color="#4b03a1" d="M158.2 223.8l2.4-.3 1.5-2.6-2.4 .4z"/><path color="#f89540" d="M235.6 140l2.5 .7 1.4-3.3-2.5-.7z"/><path color="#de5f65" d="M272.4 160.3l2.5 4.2 1.3-2.7-2.4-4.3z"/><path color="#fca835" d="M247.4 133l2.5 1.5 1.4-3.2-2.5-1.5z"/><path color="#ed7953" d="M268.8 149.8l2.5 3.7 1.4-2.8-2.5-3.8z"/><path color="#da5a6a" d="M211.6 165.7l2.5-.2 1.4-3.3-2.5 .3z"/><path color="#f07f4f" d="M226.3 149.1l2.5 .3 1.4-3.3-2.5-.2z"/><path color="#4e02a2" d="M284.8 219.9l2.4 5.5 1.4-1.7-2.4-5.6z"/><path color="#9c179e" d="M186.1 196.2l2.5-.6 1.4-3-2.4 .6z"/><path color="#fa9c3c" d="M239.5 137.4l2.5 .9 1.4-3.2-2.5-1z"/><path color="#fba238" d="M243.4 135.1l2.6 1.2 1.4-3.3-2.5-1.2z"/><path color="#0d0887" d="M126.6 239.3l2.4 .4 1.6-1.5-2.4-.3z"/><path color="#ad2793" d="M278.1 185.8l2.4 5 1.4-2.3-2.4-5z"/><path color="#6f00a8" d="M171.4 212.1l2.4-.5 1.5-2.8-2.4 .6z"/><path color="#fca636" d="M253.8 133.1l2.5 2.1 1.5-3.2-2.6-2.1z"/><path color="#ce4b75" d="M206.2 172.5l2.5-.4 1.4-3.2-2.5 .4z"/><path color="#5502a4" d="M162.1 220.9l2.4-.3 1.5-2.7-2.4 .5z"/><path color="#370499" d="M285.9 227l2.4 5.6 1.3-1.5-2.4-5.7z"/><path color="#e87059" d="M220.9 155.6l2.5 .1 1.4-3.3-2.5 0z"/><path color="#c23c81" d="M200.8 179.2l2.5-.4 1.4-3.2-2.4 .5z"/><path color="#8b0aa5" d="M180.7 202.6l2.5-.5 1.4-3-2.4 .6z"/><path color="#f1834c" d="M266.3 146.3l2.5 3.5 1.4-2.9-2.5-3.6z"/><path color="#d35171" d="M273.5 167.2l2.4 4.4 1.4-2.6-2.4-4.5z"/><path color="#f3874a" d="M230.2 146.1l2.5 .5 1.4-3.3-2.5-.5z"/><path color="#9d189d" d="M279.1 193l2.5 5.1 1.4-2.2-2.5-5.1z"/><path color="#fba139" d="M256.3 135.2l2.5 2.3 1.5-3.1-2.5-2.4z"/><path color="#b52f8c" d="M195.4 186l2.5-.5 1.4-3.1-2.4 .5z"/><path color="#e56a5d" d="M269.9 156.3l2.5 4 1.4-2.8-2.5-4z"/><path color="#2c0594" d="M144.9 233.4l2.4 0 1.5-2.2-2.4 .1z"/><path color="#fca338" d="M249.9 134.5l2.5 1.8 1.4-3.2-2.5-1.8z"/><path color="#240691" d="M140.9 235.3l2.4 .1 1.6-2-2.4 0z"/><path color="#f58b47" d="M263.8 143.1l2.5 3.2 1.4-3-2.4-3.3z"/><path color="#df6263" d="M215.5 162.2l2.5-.1 1.4-3.2-2.5 .1z"/><path color="#fa9b3d" d="M258.8 137.5l2.5 2.7 1.5-3.1-2.5-2.7z"/><path color="#350498" d="M148.8 231.2l2.4-.1 1.5-2.3-2.4 .2z"/><path color="#f79342" d="M261.3 140.2l2.5 2.9 1.5-3.1-2.5-2.9z"/><path color="#f68f44" d="M234.1 143.3l2.6 .7 1.4-3.3-2.5-.7z"/><path color="#1d068e" d="M287 234.1l2.4 5.6 1.3-1.4-2.4-5.7z"/><path color="#8a09a5" d="M280.2 200.2l2.5 5.2 1.3-2.1-2.4-5.2z"/><path color="#1d068e" d="M137 237.1l2.4 .2 1.5-2-2.4 0z"/><path color="#6001a6" d="M166 217.9l2.4-.3 1.5-2.8-2.4 .5z"/><path color="#c7427c" d="M274.5 174.1l2.5 4.6 1.4-2.5-2.5-4.6z"/><path color="#7b02a8" d="M175.3 208.8l2.5-.4 1.4-2.9-2.4 .5z"/><path color="#a62098" d="M190 192.6l2.5-.5 1.5-3.1-2.5 .6z"/><path color="#fba139" d="M246 136.3l2.5 1.5 1.4-3.3-2.5-1.5z"/><path color="#ed7953" d="M224.8 152.4l2.5 .3 1.5-3.3-2.5-.3z"/><path color="#d5546e" d="M210.1 168.9l2.5-.2 1.5-3.2-2.5 .2z"/><path color="#3e049c" d="M152.7 228.8l2.4-.2 1.6-2.4-2.4 .3z"/><path color="#f89540" d="M238.1 140.7l2.5 .9 1.4-3.3-2.5-.9z"/><path color="#fa9b3d" d="M242 138.3l2.5 1.2 1.5-3.2-2.6-1.2z"/><path color="#16078a" d="M133 238.5l2.4 .4 1.6-1.8-2.4-.2z"/><path color="#7501a8" d="M281.3 207.4l2.4 5.2 1.4-1.9-2.4-5.3z"/><path color="#ea7457" d="M267.4 152.7l2.5 3.6 1.4-2.8-2.5-3.7z"/><path color="#9613a1" d="M184.6 199.1l2.5-.5 1.5-3-2.5 .6z"/><path color="#fb9f3a" d="M252.4 136.3l2.5 2 1.4-3.1-2.5-2.1z"/><path color="#da5b69" d="M271 163l2.5 4.2 1.4-2.7-2.5-4.2z"/><path color="#ca457a" d="M204.7 175.6l2.5-.3 1.5-3.2-2.5 .4z"/><path color="#ba3388" d="M275.6 181.2l2.5 4.6 1.4-2.3-2.5-4.8z"/><path color="#46039f" d="M156.7 226.2l2.4-.2 1.5-2.5-2.4 .3z"/><path color="#e56a5d" d="M219.4 158.9l2.5 .1 1.5-3.3-2.5-.1z"/><path color="#f0804e" d="M228.8 149.4l2.5 .4 1.4-3.2-2.5-.5z"/><path color="#bd3786" d="M199.3 182.4l2.5-.4 1.5-3.2-2.5 .4z"/><path color="#6a00a8" d="M169.9 214.8l2.5-.4 1.4-2.8-2.4 .5z"/><path color="#6100a7" d="M282.4 214.6l2.4 5.3 1.4-1.8-2.5-5.5z"/><path color="#ef7c51" d="M264.9 149.3l2.5 3.4 1.4-2.9-2.5-3.5z"/><path color="#100788" d="M129 239.7l2.4 .5 1.6-1.7-2.4-.3z"/><path color="#f99a3e" d="M254.9 138.3l2.5 2.4 1.4-3.2-2.5-2.3z"/><path color="#8606a6" d="M179.2 205.5l2.5-.5 1.5-2.9-2.5 .5z"/><path color="#fa9c3c" d="M248.5 137.8l2.5 1.7 1.4-3.2-2.5-1.8z"/><path color="#ab2494" d="M276.7 188.2l2.4 4.8 1.4-2.2-2.4-5z"/><path color="#b02991" d="M194 189l2.4-.4 1.5-3.1-2.5 .5z"/><path color="#db5c68" d="M214.1 165.5l2.4-.1 1.5-3.3-2.5 .1z"/><path color="#5002a2" d="M160.6 223.5l2.4-.3 1.5-2.6-2.4 .3z"/><path color="#d04d73" d="M272.1 169.9l2.4 4.2 1.4-2.5-2.4-4.4z"/><path color="#f48849" d="M232.7 146.6l2.5 .6 1.5-3.2-2.6-.7z"/><path color="#f3854b" d="M262.4 146.1l2.5 3.2 1.4-3-2.5-3.2z"/><path color="#f89441" d="M257.4 140.7l2.5 2.5 1.4-3-2.5-2.7z"/><path color="#e26561" d="M268.5 159.2l2.5 3.8 1.4-2.7-2.5-4z"/><path color="#f68d45" d="M259.9 143.2l2.5 2.9 1.4-3-2.5-2.9z"/><path color="#f9983e" d="M244.5 139.5l2.6 1.5 1.4-3.2-2.5-1.5z"/><path color="#4c02a1" d="M283.5 221.6l2.4 5.4 1.3-1.6-2.4-5.5z"/><path color="#e97257" d="M223.4 155.7l2.5 .3 1.4-3.3-2.5-.3z"/><path color="#f68f44" d="M236.7 144l2.5 .9 1.4-3.3-2.5-.9z"/><path color="#d04d73" d="M208.7 172.1l2.5-.2 1.4-3.2-2.5 .2z"/><path color="#a01a9c" d="M188.6 195.6l2.4-.4 1.5-3.1-2.5 .5z"/><path color="#f89441" d="M240.6 141.6l2.5 1.2 1.4-3.3-2.5-1.2z"/><path color="#99159f" d="M277.8 195.3l2.4 4.9 1.4-2.1-2.5-5.1z"/><path color="#7501a8" d="M173.8 211.6l2.5-.4 1.5-2.8-2.5 .4z"/><path color="#5901a5" d="M164.5 220.6l2.4-.3 1.5-2.7-2.4 .3z"/><path color="#0d0887" d="M125 240.6l2.4 .6 1.6-1.5-2.4-.4z"/><path color="#f9983e" d="M251 139.5l2.5 2 1.4-3.2-2.5-2z"/><path color="#c5407e" d="M203.3 178.8l2.5-.3 1.4-3.2-2.5 .3z"/><path color="#c43e7f" d="M273.2 176.7l2.4 4.5 1.4-2.5-2.5-4.6z"/><path color="#280592" d="M143.3 235.4l2.4 .2 1.6-2.2-2.4 0z"/><path color="#8f0da4" d="M183.2 202.1l2.4-.4 1.5-3.1-2.5 .5z"/><path color="#e16462" d="M218 162.1l2.5 .1 1.4-3.2-2.5-.1z"/><path color="#2f0596" d="M147.3 233.4l2.4 0 1.5-2.3-2.4 .1z"/><path color="#e76f5a" d="M266 155.6l2.5 3.6 1.4-2.9-2.5-3.6z"/><path color="#350498" d="M284.5 228.7l2.5 5.4 1.3-1.5-2.4-5.6z"/><path color="#ed7a52" d="M227.3 152.7l2.5 .4 1.5-3.3-2.5-.4z"/><path color="#20068f" d="M139.4 237.3l2.4 .2 1.5-2.1-2.4-.1z"/><path color="#8707a6" d="M278.8 202.4l2.5 5 1.4-2-2.5-5.2z"/><path color="#d8576b" d="M269.6 165.8l2.5 4.1 1.4-2.7-2.5-4.2z"/><path color="#b83289" d="M197.9 185.5l2.5-.4 1.4-3.1-2.5 .4z"/><path color="#38049a" d="M151.2 231.1l2.4 0 1.5-2.5-2.4 .2z"/><path color="#f79342" d="M253.5 141.5l2.5 2.3 1.4-3.1-2.5-2.4z"/><path color="#f89540" d="M247.1 141l2.5 1.7 1.4-3.2-2.5-1.7z"/><path color="#19068c" d="M135.4 238.9l2.4 .3 1.6-1.9-2.4-.2z"/><path color="#d7566c" d="M212.6 168.7l2.5 0 1.4-3.3-2.4 .1z"/><path color="#ec7754" d="M263.5 152.2l2.5 3.4 1.4-2.9-2.5-3.4z"/><path color="#f0804e" d="M231.3 149.8l2.5 .7 1.4-3.3-2.5-.6z"/><path color="#b6308b" d="M274.2 183.7l2.5 4.5 1.4-2.4-2.5-4.6z"/><path color="#6400a7" d="M168.4 217.6l2.5-.3 1.5-2.9-2.5 .4z"/><path color="#41049d" d="M155.1 228.6l2.5-.1 1.5-2.5-2.4 .2z"/><path color="#aa2395" d="M192.5 192.1l2.5-.4 1.4-3.1-2.4 .4z"/><path color="#8004a8" d="M177.8 208.4l2.4-.4 1.5-3-2.5 .5z"/><path color="#f68d45" d="M256 143.8l2.5 2.5 1.4-3.1-2.5-2.5z"/><path color="#7401a8" d="M279.9 209.5l2.5 5.1 1.3-2-2.4-5.2z"/><path color="#1d068e" d="M285.6 235.6l2.5 5.4 1.3-1.3-2.4-5.6z"/><path color="#f79143" d="M243.1 142.8l2.5 1.4 1.5-3.2-2.6-1.5z"/><path color="#e56b5d" d="M221.9 159l2.5 .2 1.5-3.2-2.5-.3z"/><path color="#f07f4f" d="M261 149.2l2.5 3 1.4-2.9-2.5-3.2z"/><path color="#f3874a" d="M235.2 147.2l2.5 1 1.5-3.3-2.5-.9z"/><path color="#f3874a" d="M258.5 146.3l2.5 2.9 1.4-3.1-2.5-2.9z"/><path color="#f68d45" d="M239.2 144.9l2.5 1.2 1.4-3.3-2.5-1.2z"/><path color="#cc4778" d="M207.2 175.3l2.5-.1 1.5-3.3-2.5 .2z"/><path color="#130789" d="M131.4 240.2l2.4 .5 1.6-1.8-2.4-.4z"/><path color="#cc4977" d="M270.7 172.5l2.5 4.2 1.3-2.6-2.4-4.2z"/><path color="#de6164" d="M267.1 162l2.5 3.8 1.4-2.8-2.5-3.8z"/><path color="#9a169f" d="M187.1 198.6l2.5-.3 1.4-3.1-2.4 .4z"/><path color="#4b03a1" d="M159.1 226l2.4-.2 1.5-2.6-2.4 .3z"/><path color="#a72197" d="M275.3 190.6l2.5 4.7 1.3-2.3-2.4-4.8z"/><path color="#f79143" d="M249.6 142.7l2.5 2 1.4-3.2-2.5-2z"/><path color="#c03a83" d="M201.8 182l2.5-.2 1.5-3.3-2.5 .3z"/><path color="#dd5e66" d="M216.5 165.4l2.5 .1 1.5-3.3-2.5-.1z"/><path color="#6f00a8" d="M172.4 214.4l2.4-.3 1.5-2.9-2.5 .4z"/><path color="#5e01a6" d="M281 216.5l2.5 5.1 1.3-1.7-2.4-5.3z"/><path color="#e97257" d="M225.9 156l2.5 .4 1.4-3.3-2.5-.4z"/><path color="#8a09a5" d="M181.7 205l2.4-.3 1.5-3-2.4 .4z"/><path color="#5502a4" d="M163 223.2l2.4-.2 1.5-2.7-2.4 .3z"/><path color="#e4695e" d="M264.6 158.5l2.5 3.5 1.4-2.8-2.5-3.6z"/><path color="#b32c8e" d="M196.4 188.6l2.5-.3 1.5-3.2-2.5 .4z"/><path color="#0d0887" d="M127.4 241.2l2.5 .7 1.5-1.7-2.4-.5z"/><path color="#f68f44" d="M245.6 144.2l2.5 1.7 1.5-3.2-2.5-1.7z"/><path color="#f68d45" d="M252.1 144.7l2.5 2.2 1.4-3.1-2.5-2.3z"/><path color="#c13b82" d="M271.8 179.3l2.4 4.4 1.4-2.5-2.4-4.5z"/><path color="#9613a1" d="M276.4 197.6l2.4 4.8 1.4-2.2-2.4-4.9z"/><path color="#ed7a52" d="M229.8 153.1l2.5 .7 1.5-3.3-2.5-.7z"/><path color="#d35171" d="M211.2 171.9l2.4 0 1.5-3.2-2.5 0z"/><path color="#d5536f" d="M268.2 168.6l2.5 3.9 1.4-2.6-2.5-4.1z"/><path color="#4b03a1" d="M282.1 223.4l2.4 5.3 1.4-1.7-2.4-5.4z"/><path color="#e97158" d="M262.1 155.2l2.5 3.3 1.4-2.9-2.5-3.4z"/><path color="#e26561" d="M220.5 162.2l2.5 .3 1.4-3.3-2.5-.2z"/><path color="#a31e9a" d="M191 195.2l2.5-.3 1.5-3.2-2.5 .4z"/><path color="#f58b47" d="M241.7 146.1l2.5 1.4 1.4-3.3-2.5-1.4z"/><path color="#f0804e" d="M233.8 150.5l2.5 1 1.4-3.3-2.5-1z"/><path color="#f3874a" d="M254.6 146.9l2.5 2.5 1.4-3.1-2.5-2.5z"/><path color="#2c0594" d="M145.7 235.6l2.5 .1 1.5-2.3-2.4 0z"/><path color="#f3854b" d="M237.7 148.2l2.6 1.1 1.4-3.2-2.5-1.2z"/><path color="#7a02a8" d="M176.3 211.2l2.4-.2 1.5-3-2.4 .4z"/><path color="#240691" d="M141.8 237.5l2.4 .3 1.5-2.2-2.4-.2z"/><path color="#c7427c" d="M205.8 178.5l2.4-.1 1.5-3.2-2.5 .1z"/><path color="#ed7a52" d="M259.6 152.2l2.5 3 1.4-3-2.5-3z"/><path color="#5e01a6" d="M166.9 220.3l2.5-.2 1.5-2.8-2.5 .3z"/><path color="#330597" d="M149.7 233.4l2.4 .1 1.5-2.4-2.4 0z"/><path color="#f0804e" d="M257.1 149.4l2.5 2.8 1.4-3-2.5-2.9z"/><path color="#8405a7" d="M277.5 204.6l2.4 4.9 1.4-2.1-2.5-5z"/><path color="#1d068e" d="M137.8 239.2l2.4 .4 1.6-2.1-2.4-.2z"/><path color="#b32c8e" d="M272.8 186.2l2.5 4.4 1.4-2.4-2.5-4.5z"/><path color="#f58b47" d="M248.1 145.9l2.6 2 1.4-3.2-2.5-2z"/><path color="#3c049b" d="M153.6 231.1l2.5 0 1.5-2.6-2.5 .1z"/><path color="#9410a2" d="M185.6 201.7l2.5-.3 1.5-3.1-2.5 .3z"/><path color="#0d0887" d="M123.4 242l2.5 .8 1.5-1.6-2.4-.6z"/><path color="#d8576b" d="M215.1 168.7l2.5 .1 1.4-3.3-2.5-.1z"/><path color="#bb3488" d="M200.4 185.1l2.4-.1 1.5-3.2-2.5 .2z"/><path color="#e66c5c" d="M224.4 159.2l2.6 .5 1.4-3.3-2.5-.4z"/><path color="#db5c68" d="M265.7 164.9l2.5 3.7 1.4-2.8-2.5-3.8z"/><path color="#350498" d="M283.2 230.3l2.4 5.3 1.4-1.5-2.5-5.4z"/><path color="#ca457a" d="M269.3 175.2l2.5 4.1 1.4-2.6-2.5-4.2z"/><path color="#16078a" d="M133.8 240.7l2.5 .5 1.5-2-2.4-.3z"/><path color="#44039e" d="M157.6 228.5l2.4 0 1.5-2.7-2.4 .2z"/><path color="#6900a8" d="M170.9 217.3l2.4-.3 1.5-2.9-2.4 .3z"/><path color="#ad2793" d="M195 191.7l2.4-.2 1.5-3.2-2.5 .3z"/><path color="#f48849" d="M244.2 147.5l2.5 1.7 1.4-3.3-2.5-1.7z"/><path color="#7100a8" d="M278.6 211.5l2.4 5 1.4-1.9-2.5-5.1z"/><path color="#ea7457" d="M228.4 156.4l2.5 .7 1.4-3.3-2.5-.7z"/><path color="#8405a7" d="M180.2 208l2.5-.3 1.4-3-2.4 .3z"/><path color="#f3874a" d="M250.7 147.9l2.5 2.2 1.4-3.2-2.5-2.2z"/><path color="#cd4a76" d="M209.7 175.2l2.5 0 1.4-3.3-2.4 0z"/><path color="#a31e9a" d="M273.9 193l2.5 4.6 1.4-2.3-2.5-4.7z"/><path color="#e16462" d="M263.2 161.4l2.5 3.5 1.4-2.9-2.5-3.5z"/><path color="#de5f65" d="M219 165.5l2.6 .4 1.4-3.4-2.5-.3z"/><path color="#f2844b" d="M240.3 149.3l2.5 1.5 1.4-3.3-2.5-1.4z"/><path color="#ed7a52" d="M232.3 153.8l2.6 1 1.4-3.3-2.5-1z"/><path color="#4e02a2" d="M161.5 225.8l2.4 0 1.5-2.8-2.4 .2z"/><path color="#f07f4f" d="M236.3 151.5l2.5 1.1 1.5-3.3-2.6-1.1z"/><path color="#100788" d="M129.9 241.9l2.4 .6 1.5-1.8-2.4-.5z"/><path color="#9e199d" d="M189.6 198.3l2.4-.3 1.5-3.1-2.5 .3z"/><path color="#f0804e" d="M253.2 150.1l2.5 2.5 1.4-3.2-2.5-2.5z"/><path color="#1b068d" d="M284.3 237.1l2.4 5.3 1.4-1.4-2.5-5.4z"/><path color="#c23c81" d="M204.3 181.8l2.5-.1 1.4-3.3-2.4 .1z"/><path color="#e66c5c" d="M260.7 158.2l2.5 3.2 1.4-2.9-2.5-3.3z"/><path color="#bd3786" d="M270.4 181.9l2.4 4.3 1.4-2.5-2.4-4.4z"/><path color="#d14e72" d="M266.8 171.4l2.5 3.8 1.4-2.7-2.5-3.9z"/><path color="#ee7b51" d="M255.7 152.6l2.5 2.7 1.4-3.1-2.5-2.8z"/><path color="#ea7457" d="M258.2 155.3l2.5 2.9 1.4-3-2.5-3z"/><path color="#5c01a6" d="M279.6 218.4l2.5 5 1.4-1.8-2.5-5.1z"/><path color="#7201a8" d="M174.8 214.1l2.4-.2 1.5-2.9-2.4 .2z"/><path color="#f2844b" d="M246.7 149.2l2.5 1.9 1.5-3.2-2.6-2z"/><path color="#920fa3" d="M275 199.9l2.5 4.7 1.3-2.2-2.4-4.8z"/><path color="#e26660" d="M223 162.5l2.5 .6 1.5-3.4-2.6-.5z"/><path color="#d45270" d="M213.6 171.9l2.5 .2 1.5-3.3-2.5-.1z"/><path color="#5801a4" d="M165.4 223l2.5-.1 1.5-2.8-2.5 .2z"/><path color="#b52f8c" d="M198.9 188.3l2.5-.1 1.4-3.2-2.4 .1z"/><path color="#8e0ca4" d="M184.1 204.7l2.5-.3 1.5-3-2.5 .3z"/><path color="#260591" d="M144.2 237.8l2.4 .3 1.6-2.4-2.5-.1z"/><path color="#2e0595" d="M148.2 235.7l2.4 .3 1.5-2.5-2.4-.1z"/><path color="#0d0887" d="M125.9 242.8l2.4 .7 1.6-1.6-2.5-.7z"/><path color="#d8576b" d="M264.3 167.7l2.5 3.7 1.4-2.8-2.5-3.7z"/><path color="#e66c5c" d="M227 159.7l2.5 .8 1.4-3.4-2.5-.7z"/><path color="#f1814d" d="M242.8 150.8l2.5 1.6 1.4-3.2-2.5-1.7z"/><path color="#20068f" d="M140.2 239.6l2.5 .4 1.5-2.2-2.4-.3z"/><path color="#b02991" d="M271.4 188.7l2.5 4.3 1.4-2.4-2.5-4.4z"/><path color="#c9447a" d="M208.2 178.4l2.5 .1 1.5-3.3-2.5 0z"/><path color="#a72197" d="M193.5 194.9l2.5-.2 1.4-3.2-2.4 .2z"/><path color="#370499" d="M152.1 233.5l2.4 .1 1.6-2.5-2.5 0z"/><path color="#f0804e" d="M249.2 151.1l2.6 2.2 1.4-3.2-2.5-2.2z"/><path color="#4903a0" d="M280.7 225.2l2.5 5.1 1.3-1.6-2.4-5.3z"/><path color="#c6417d" d="M267.9 177.9l2.5 4 1.4-2.6-2.5-4.1z"/><path color="#da5a6a" d="M217.6 168.8l2.5 .4 1.5-3.3-2.6-.4z"/><path color="#8104a7" d="M276.1 206.7l2.5 4.8 1.3-2-2.4-4.9z"/><path color="#7d03a8" d="M178.7 211l2.5-.2 1.5-3.1-2.5 .3z"/><path color="#e97257" d="M230.9 157.1l2.5 1 1.5-3.3-2.6-1z"/><path color="#6300a7" d="M169.4 220.1l2.4-.2 1.5-2.9-2.4 .3z"/><path color="#ef7e50" d="M238.8 152.6l2.5 1.4 1.5-3.2-2.5-1.5z"/><path color="#ed7953" d="M234.9 154.8l2.5 1.1 1.4-3.3-2.5-1.1z"/><path color="#19068c" d="M136.3 241.2l2.4 .5 1.5-2.1-2.4-.4z"/><path color="#3f049c" d="M156.1 231.1l2.4 0 1.5-2.6-2.4 0z"/><path color="#de5f65" d="M261.8 164.4l2.5 3.3 1.4-2.8-2.5-3.5z"/><path color="#ee7b51" d="M251.8 153.3l2.5 2.4 1.4-3.1-2.5-2.5z"/><path color="#bd3786" d="M202.8 185l2.5-.1 1.5-3.2-2.5 .1z"/><path color="#9814a0" d="M188.1 201.4l2.4-.2 1.5-3.2-2.4 .3z"/><path color="#e3685f" d="M259.3 161.2l2.5 3.2 1.4-3-2.5-3.2z"/><path color="#eb7556" d="M254.3 155.7l2.5 2.6 1.4-3-2.5-2.7z"/><path color="#4903a0" d="M160 228.5l2.4 0 1.5-2.7-2.4 0z"/><path color="#ef7e50" d="M245.3 152.4l2.5 1.9 1.4-3.2-2.5-1.9z"/><path color="#de6164" d="M221.6 165.9l2.5 .5 1.4-3.3-2.5-.6z"/><path color="#a01a9c" d="M272.5 195.4l2.5 4.5 1.4-2.3-2.5-4.6z"/><path color="#cf4c74" d="M212.2 175.2l2.5 .2 1.4-3.3-2.5-.2z"/><path color="#e76f5a" d="M256.8 158.3l2.5 2.9 1.4-3-2.5-2.9z"/><path color="#100788" d="M132.3 242.5l2.4 .6 1.6-1.9-2.5-.5z"/><path color="#330597" d="M281.8 232l2.5 5.1 1.3-1.5-2.4-5.3z"/><path color="#b02991" d="M197.4 191.5l2.5-.1 1.5-3.2-2.5 .1z"/><path color="#cd4a76" d="M265.4 174.1l2.5 3.8 1.4-2.7-2.5-3.8z"/><path color="#6c00a8" d="M173.3 217l2.5-.1 1.4-3-2.4 .2z"/><path color="#6e00a8" d="M277.2 213.6l2.4 4.8 1.4-1.9-2.4-5z"/><path color="#ba3388" d="M269 184.5l2.4 4.2 1.4-2.5-2.4-4.3z"/><path color="#8707a6" d="M182.7 207.7l2.4-.2 1.5-3.1-2.5 .3z"/><path color="#e26660" d="M225.5 163.1l2.5 .7 1.5-3.3-2.5-.8z"/><path color="#ee7b51" d="M241.3 154l2.6 1.6 1.4-3.2-2.5-1.6z"/><path color="#5102a3" d="M163.9 225.8l2.5-.1 1.5-2.8-2.5 .1z"/><path color="#c43e7f" d="M206.8 181.7l2.5 .1 1.4-3.3-2.5-.1z"/><path color="#ed7a52" d="M247.8 154.3l2.5 2.1 1.5-3.1-2.6-2.2z"/><path color="#a11b9b" d="M192 198l2.5-.1 1.5-3.2-2.5 .2z"/><path color="#d5536f" d="M216.1 172.1l2.6 .4 1.4-3.3-2.5-.4z"/><path color="#e66c5c" d="M229.5 160.5l2.5 .9 1.4-3.3-2.5-1z"/><path color="#eb7655" d="M237.4 155.9l2.5 1.4 1.4-3.3-2.5-1.4z"/><path color="#d5536f" d="M262.9 170.6l2.5 3.5 1.4-2.7-2.5-3.7z"/><path color="#0d0887" d="M128.3 243.5l2.4 .8 1.6-1.8-2.4-.6z"/><path color="#8f0da4" d="M273.6 202.2l2.5 4.5 1.4-2.1-2.5-4.7z"/><path color="#e97257" d="M233.4 158.1l2.5 1.1 1.5-3.3-2.5-1.1z"/><path color="#7701a8" d="M177.2 213.9l2.5-.1 1.5-3-2.5 .2z"/><path color="#5b01a5" d="M278.3 220.3l2.4 4.9 1.4-1.8-2.5-5z"/><path color="#b7318a" d="M201.4 188.2l2.5 0 1.4-3.3-2.5 .1z"/><path color="#5c01a6" d="M167.9 222.9l2.4 0 1.5-3-2.4 .2z"/><path color="#1b068d" d="M282.9 238.6l2.5 5.1 1.3-1.3-2.4-5.3z"/><path color="#eb7556" d="M250.3 156.4l2.5 2.4 1.5-3.1-2.5-2.4z"/><path color="#2a0593" d="M146.6 238.1l2.5 .3 1.5-2.4-2.4-.3z"/><path color="#ac2694" d="M270.1 191.2l2.4 4.2 1.4-2.4-2.5-4.3z"/><path color="#910ea3" d="M186.6 204.4l2.5-.1 1.4-3.1-2.4 .2z"/><path color="#c33d80" d="M266.5 180.6l2.5 3.9 1.4-2.6-2.5-4z"/><path color="#220690" d="M142.7 240l2.4 .4 1.5-2.3-2.4-.3z"/><path color="#310597" d="M150.6 236l2.4 .2 1.5-2.6-2.4-.1z"/><path color="#da5b69" d="M260.4 167.3l2.5 3.3 1.4-2.9-2.5-3.3z"/><path color="#da5a6a" d="M220.1 169.2l2.5 .5 1.5-3.3-2.5-.5z"/><path color="#cb4679" d="M210.7 178.5l2.5 .2 1.5-3.3-2.5-.2z"/><path color="#ec7754" d="M243.9 155.6l2.5 1.9 1.4-3.2-2.5-1.9z"/><path color="#e76f5a" d="M252.8 158.8l2.6 2.6 1.4-3.1-2.5-2.6z"/><path color="#3a049a" d="M154.5 233.6l2.5 .2 1.5-2.7-2.4 0z"/><path color="#1b068d" d="M138.7 241.7l2.4 .5 1.6-2.2-2.5-.4z"/><path color="#df6263" d="M257.9 164.2l2.5 3.1 1.4-2.9-2.5-3.2z"/><path color="#e4695e" d="M255.4 161.4l2.5 2.8 1.4-3-2.5-2.9z"/><path color="#aa2395" d="M196 194.7l2.4 0 1.5-3.3-2.5 .1z"/><path color="#7e03a8" d="M274.7 208.9l2.5 4.7 1.4-2.1-2.5-4.8z"/><path color="#de6164" d="M224.1 166.4l2.5 .7 1.4-3.3-2.5-.7z"/><path color="#43039e" d="M158.5 231.1l2.4 .2 1.5-2.8-2.4 0z"/><path color="#6600a7" d="M171.8 219.9l2.5 0 1.5-3-2.5 .1z"/><path color="#8104a7" d="M181.2 210.8l2.4-.1 1.5-3.2-2.4 .2z"/><path color="#ea7457" d="M239.9 157.3l2.5 1.6 1.5-3.3-2.6-1.6z"/><path color="#130789" d="M134.7 243.1l2.4 .7 1.6-2.1-2.4-.5z"/><path color="#46039f" d="M279.4 227l2.4 5 1.4-1.7-2.5-5.1z"/><path color="#bf3984" d="M205.3 184.9l2.5 .2 1.5-3.3-2.5-.1z"/><path color="#ca457a" d="M264 176.9l2.5 3.7 1.4-2.7-2.5-3.8z"/><path color="#e26660" d="M228 163.8l2.5 .9 1.5-3.3-2.5-.9z"/><path color="#d04d73" d="M214.7 175.4l2.5 .4 1.5-3.3-2.6-.4z"/><path color="#ea7457" d="M246.4 157.5l2.5 2.1 1.4-3.2-2.5-2.1z"/><path color="#9d189d" d="M271.1 197.8l2.5 4.4 1.4-2.3-2.5-4.5z"/><path color="#e87059" d="M235.9 159.2l2.6 1.4 1.4-3.3-2.5-1.4z"/><path color="#9a169f" d="M190.5 201.2l2.5-.1 1.5-3.2-2.5 .1z"/><path color="#e56b5d" d="M232 161.4l2.5 1.1 1.4-3.3-2.5-1.1z"/><path color="#b6308b" d="M267.6 187.1l2.5 4.1 1.3-2.5-2.4-4.2z"/><path color="#4c02a1" d="M162.4 228.5l2.5 .1 1.5-2.9-2.5 .1z"/><path color="#b22b8f" d="M199.9 191.4l2.5 .1 1.5-3.3-2.5 0z"/><path color="#d14e72" d="M261.5 173.5l2.5 3.4 1.4-2.8-2.5-3.5z"/><path color="#0d0887" d="M130.7 244.3l2.4 .8 1.6-2-2.4-.6z"/><path color="#6a00a8" d="M275.8 215.6l2.5 4.7 1.3-1.9-2.4-4.8z"/><path color="#6f00a8" d="M175.8 216.9l2.4 0 1.5-3.1-2.5 .1z"/><path color="#e76f5a" d="M248.9 159.6l2.5 2.3 1.4-3.1-2.5-2.4z"/><path color="#d5546e" d="M218.7 172.5l2.5 .5 1.4-3.3-2.5-.5z"/><path color="#8b0aa5" d="M185.1 207.5l2.5 0 1.5-3.2-2.5 .1z"/><path color="#c6417d" d="M209.3 181.8l2.5 .2 1.4-3.3-2.5-.2z"/><path color="#e97158" d="M242.4 158.9l2.6 1.8 1.4-3.2-2.5-1.9z"/><path color="#5601a4" d="M166.4 225.7l2.4 .1 1.5-2.9-2.4 0z"/><path color="#d7566c" d="M259 170.2l2.5 3.3 1.4-2.9-2.5-3.3z"/><path color="#330597" d="M280.5 233.6l2.4 5 1.4-1.5-2.5-5.1z"/><path color="#e4695e" d="M251.4 161.9l2.5 2.5 1.5-3-2.6-2.6z"/><path color="#a31e9a" d="M194.5 197.9l2.5 0 1.4-3.2-2.4 0z"/><path color="#8b0aa5" d="M272.2 204.5l2.5 4.4 1.4-2.2-2.5-4.5z"/><path color="#bf3984" d="M265.1 183.3l2.5 3.8 1.4-2.6-2.5-3.9z"/><path color="#da5b69" d="M222.6 169.7l2.5 .7 1.5-3.3-2.5-.7z"/><path color="#dc5d67" d="M256.5 167.2l2.5 3 1.4-2.9-2.5-3.1z"/><path color="#e06363" d="M253.9 164.4l2.6 2.8 1.4-3-2.5-2.8z"/><path color="#a82296" d="M268.7 193.7l2.4 4.1 1.4-2.4-2.4-4.2z"/><path color="#e76e5b" d="M238.5 160.6l2.5 1.5 1.4-3.2-2.5-1.6z"/><path color="#2c0594" d="M149.1 238.4l2.4 .4 1.5-2.6-2.4-.2z"/><path color="#240691" d="M145.1 240.4l2.4 .5 1.6-2.5-2.5-.3z"/><path color="#ba3388" d="M203.9 188.2l2.5 .2 1.4-3.3-2.5-.2z"/><path color="#de6164" d="M226.6 167.1l2.5 .9 1.4-3.3-2.5-.9z"/><path color="#7a02a8" d="M179.7 213.8l2.5 0 1.4-3.1-2.4 .1z"/><path color="#cc4778" d="M213.2 178.7l2.5 .4 1.5-3.3-2.5-.4z"/><path color="#350498" d="M153 236.2l2.5 .3 1.5-2.7-2.5-.2z"/><path color="#1b068d" d="M141.1 242.2l2.5 .6 1.5-2.4-2.4-.4z"/><path color="#e56a5d" d="M234.5 162.5l2.5 1.3 1.5-3.2-2.6-1.4z"/><path color="#6001a6" d="M170.3 222.9l2.5 0 1.5-3-2.5 0z"/><path color="#e76e5b" d="M245 160.7l2.5 2.1 1.4-3.2-2.5-2.1z"/><path color="#e26561" d="M230.5 164.7l2.6 1.1 1.4-3.3-2.5-1.1z"/><path color="#5801a4" d="M276.9 222.3l2.5 4.7 1.3-1.8-2.4-4.9z"/><path color="#9410a2" d="M189.1 204.3l2.5 0 1.4-3.2-2.5 .1z"/><path color="#3e049c" d="M157 233.8l2.4 .2 1.5-2.7-2.4-.2z"/><path color="#c7427c" d="M262.6 179.7l2.5 3.6 1.4-2.7-2.5-3.7z"/><path color="#16078a" d="M137.1 243.8l2.5 .7 1.5-2.3-2.4-.5z"/><path color="#ac2694" d="M198.4 194.7l2.5 .1 1.5-3.3-2.5-.1z"/><path color="#d14e72" d="M217.2 175.8l2.5 .5 1.5-3.3-2.5-.5z"/><path color="#7a02a8" d="M273.3 211.1l2.5 4.5 1.4-2-2.5-4.7z"/><path color="#1b068d" d="M281.6 240.1l2.4 5 1.4-1.4-2.5-5.1z"/><path color="#e4695e" d="M247.5 162.8l2.5 2.2 1.4-3.1-2.5-2.3z"/><path color="#c03a83" d="M207.8 185.1l2.5 .2 1.5-3.3-2.5-.2z"/><path color="#46039f" d="M160.9 231.3l2.5 .1 1.5-2.8-2.5-.1z"/><path color="#b22b8f" d="M266.2 189.8l2.5 3.9 1.4-2.5-2.5-4.1z"/><path color="#e56b5d" d="M241 162.1l2.5 1.8 1.5-3.2-2.6-1.8z"/><path color="#6900a8" d="M174.3 219.9l2.4 0 1.5-3-2.4 0z"/><path color="#8405a7" d="M183.6 210.7l2.5-.1 1.5-3.1-2.5 0z"/><path color="#99159f" d="M269.7 200.2l2.5 4.3 1.4-2.3-2.5-4.4z"/><path color="#cd4a76" d="M260.1 176.3l2.5 3.4 1.4-2.8-2.5-3.4z"/><path color="#0d0887" d="M133.1 245.1l2.5 .8 1.5-2.1-2.4-.7z"/><path color="#d5546e" d="M221.2 173l2.5 .7 1.4-3.3-2.5-.7z"/><path color="#9d189d" d="M193 201.1l2.5 0 1.5-3.2-2.5 0z"/><path color="#e16462" d="M250 165l2.5 2.5 1.4-3.1-2.5-2.5z"/><path color="#d35171" d="M257.5 173.2l2.6 3.1 1.4-2.8-2.5-3.3z"/><path color="#5002a2" d="M164.9 228.6l2.4 .1 1.5-2.9-2.4-.1z"/><path color="#44039e" d="M278 228.8l2.5 4.8 1.3-1.6-2.4-5z"/><path color="#e3685f" d="M237 163.8l2.6 1.6 1.4-3.3-2.5-1.5z"/><path color="#dd5e66" d="M252.5 167.5l2.5 2.7 1.5-3-2.6-2.8z"/><path color="#b42e8d" d="M202.4 191.5l2.5 .2 1.5-3.3-2.5-.2z"/><path color="#d8576b" d="M255 170.2l2.5 3 1.5-3-2.5-3z"/><path color="#da5a6a" d="M225.1 170.4l2.6 .9 1.4-3.3-2.5-.9z"/><path color="#c7427c" d="M211.8 182l2.5 .4 1.4-3.3-2.5-.4z"/><path color="#e16462" d="M233.1 165.8l2.5 1.3 1.4-3.3-2.5-1.3z"/><path color="#de5f65" d="M229.1 168l2.5 1.1 1.5-3.3-2.6-1.1z"/><path color="#bb3488" d="M263.7 186l2.5 3.8 1.4-2.7-2.5-3.8z"/><path color="#e3685f" d="M243.5 163.9l2.5 2 1.5-3.1-2.5-2.1z"/><path color="#7201a8" d="M178.2 216.9l2.5 0 1.5-3.1-2.5 0z"/><path color="#6900a8" d="M274.4 217.7l2.5 4.6 1.4-2-2.5-4.7z"/><path color="#8e0ca4" d="M187.6 207.5l2.5 0 1.5-3.2-2.5 0z"/><path color="#5801a4" d="M168.8 225.8l2.5 .1 1.5-3-2.5 0z"/><path color="#a51f99" d="M267.3 196.2l2.4 4 1.4-2.4-2.4-4.1z"/><path color="#8808a6" d="M270.8 206.8l2.5 4.3 1.4-2.2-2.5-4.4z"/><path color="#a62098" d="M197 197.9l2.5 .1 1.4-3.2-2.5-.1z"/><path color="#260591" d="M147.5 240.9l2.5 .4 1.5-2.5-2.4-.4z"/><path color="#cc4977" d="M215.7 179.1l2.6 .6 1.4-3.4-2.5-.5z"/><path color="#2e0595" d="M151.5 238.8l2.4 .3 1.6-2.6-2.5-.3z"/><path color="#1d068e" d="M143.6 242.8l2.4 .5 1.5-2.4-2.4-.5z"/><path color="#bb3488" d="M206.4 188.4l2.5 .3 1.4-3.4-2.5-.2z"/><path color="#c33d80" d="M261.2 182.5l2.5 3.5 1.4-2.7-2.5-3.6z"/><path color="#e06363" d="M246 165.9l2.6 2.3 1.4-3.2-2.5-2.2z"/><path color="#370499" d="M155.5 236.5l2.4 .3 1.5-2.8-2.4-.2z"/><path color="#e26561" d="M239.6 165.4l2.5 1.7 1.4-3.2-2.5-1.8z"/><path color="#16078a" d="M139.6 244.5l2.4 .6 1.6-2.3-2.5-.6z"/><path color="#310597" d="M279.1 235.3l2.5 4.8 1.3-1.5-2.4-5z"/><path color="#7d03a8" d="M182.2 213.8l2.4 0 1.5-3.2-2.5 .1z"/><path color="#d14e72" d="M219.7 176.3l2.5 .8 1.5-3.4-2.5-.7z"/><path color="#6300a7" d="M172.8 222.9l2.4 .1 1.5-3.1-2.4 0z"/><path color="#3f049c" d="M159.4 234l2.5 .3 1.5-2.9-2.5-.1z"/><path color="#9613a1" d="M191.6 204.3l2.4 .1 1.5-3.3-2.5 0z"/><path color="#ca457a" d="M258.6 179.2l2.6 3.3 1.4-2.8-2.5-3.4z"/><path color="#dd5e66" d="M248.6 168.2l2.5 2.4 1.4-3.1-2.5-2.5z"/><path color="#df6263" d="M235.6 167.1l2.5 1.5 1.5-3.2-2.6-1.6z"/><path color="#d5546e" d="M223.7 173.7l2.5 .9 1.5-3.3-2.6-.9z"/><path color="#ae2892" d="M200.9 194.8l2.5 .2 1.5-3.3-2.5-.2z"/><path color="#5601a4" d="M275.5 224.2l2.5 4.6 1.4-1.8-2.5-4.7z"/><path color="#c13b82" d="M210.3 185.3l2.5 .5 1.5-3.4-2.5-.4z"/><path color="#0d0887" d="M135.6 245.9l2.4 .8 1.6-2.2-2.5-.7z"/><path color="#ae2892" d="M264.8 192.4l2.5 3.8 1.4-2.5-2.5-3.9z"/><path color="#dd5e66" d="M231.6 169.1l2.5 1.3 1.5-3.3-2.5-1.3z"/><path color="#da5a6a" d="M227.7 171.3l2.5 1.1 1.4-3.3-2.5-1.1z"/><path color="#cf4c74" d="M256.1 176.1l2.5 3.1 1.5-2.9-2.6-3.1z"/><path color="#d9586a" d="M251.1 170.6l2.5 2.7 1.4-3.1-2.5-2.7z"/><path color="#48039f" d="M163.4 231.4l2.4 .2 1.5-2.9-2.4-.1z"/><path color="#d5536f" d="M253.6 173.3l2.5 2.8 1.4-2.9-2.5-3z"/><path color="#7701a8" d="M271.9 213.3l2.5 4.4 1.4-2.1-2.5-4.5z"/><path color="#9511a1" d="M268.3 202.7l2.5 4.1 1.4-2.3-2.5-4.3z"/><path color="#df6263" d="M242.1 167.1l2.5 2 1.4-3.2-2.5-2z"/><path color="#6c00a8" d="M176.7 219.9l2.5 .1 1.5-3.1-2.5 0z"/><path color="#8707a6" d="M186.1 210.6l2.5 .1 1.5-3.2-2.5 0z"/><path color="#c7427c" d="M214.3 182.4l2.5 .6 1.5-3.3-2.6-.6z"/><path color="#a01a9c" d="M195.5 201.1l2.5 .2 1.5-3.3-2.5-.1z"/><path color="#b52f8c" d="M204.9 191.7l2.5 .3 1.5-3.3-2.5-.3z"/><path color="#b7318a" d="M262.2 188.7l2.6 3.7 1.4-2.6-2.5-3.8z"/><path color="#5102a3" d="M167.3 228.7l2.5 .2 1.5-3-2.5-.1z"/><path color="#1b068d" d="M280.2 241.6l2.5 4.9 1.3-1.4-2.4-5z"/><path color="#de5f65" d="M238.1 168.6l2.5 1.8 1.5-3.3-2.5-1.7z"/><path color="#dc5d67" d="M244.6 169.1l2.5 2.2 1.5-3.1-2.6-2.3z"/><path color="#cc4977" d="M218.3 179.7l2.5 .7 1.4-3.3-2.5-.8z"/><path color="#43039e" d="M276.6 230.6l2.5 4.7 1.4-1.7-2.5-4.8z"/><path color="#7501a8" d="M180.7 216.9l2.5 .1 1.4-3.2-2.4 0z"/><path color="#a11b9b" d="M265.8 198.7l2.5 4 1.4-2.5-2.4-4z"/><path color="#280592" d="M150 241.3l2.4 .5 1.5-2.7-2.4-.3z"/><path color="#8f0da4" d="M190.1 207.5l2.5 .2 1.4-3.3-2.4-.1z"/><path color="#20068f" d="M146 243.3l2.4 .6 1.6-2.6-2.5-.4z"/><path color="#bf3984" d="M259.7 185.3l2.5 3.4 1.5-2.7-2.5-3.5z"/><path color="#db5c68" d="M234.1 170.4l2.6 1.5 1.4-3.3-2.5-1.5z"/><path color="#d14e72" d="M222.2 177.1l2.6 .9 1.4-3.4-2.5-.9z"/><path color="#5b01a5" d="M171.3 225.9l2.4 .1 1.5-3-2.4-.1z"/><path color="#2f0596" d="M153.9 239.1l2.5 .4 1.5-2.7-2.4-.3z"/><path color="#6600a7" d="M273 219.8l2.5 4.4 1.4-1.9-2.5-4.6z"/><path color="#bc3587" d="M208.9 188.7l2.5 .4 1.4-3.3-2.5-.5z"/><path color="#a72197" d="M199.5 198l2.5 .3 1.4-3.3-2.5-.2z"/><path color="#8606a6" d="M269.4 209.1l2.5 4.2 1.4-2.2-2.5-4.3z"/><path color="#d9586a" d="M247.1 171.3l2.6 2.4 1.4-3.1-2.5-2.4z"/><path color="#19068c" d="M142 245.1l2.5 .7 1.5-2.5-2.4-.5z"/><path color="#d8576b" d="M230.2 172.4l2.5 1.3 1.4-3.3-2.5-1.3z"/><path color="#d5536f" d="M226.2 174.6l2.5 1.1 1.5-3.3-2.5-1.1z"/><path color="#38049a" d="M157.9 236.8l2.5 .3 1.5-2.8-2.5-.3z"/><path color="#c6417d" d="M257.2 182.1l2.5 3.2 1.5-2.8-2.6-3.3z"/><path color="#d5546e" d="M249.7 173.7l2.5 2.6 1.4-3-2.5-2.7z"/><path color="#db5c68" d="M240.6 170.4l2.6 1.9 1.4-3.2-2.5-2z"/><path color="#100788" d="M138 246.7l2.5 .8 1.5-2.4-2.4-.6z"/><path color="#cc4778" d="M254.7 179.1l2.5 3 1.4-2.9-2.5-3.1z"/><path color="#d14e72" d="M252.2 176.3l2.5 2.8 1.4-3-2.5-2.8z"/><path color="#c23c81" d="M212.8 185.8l2.5 .6 1.5-3.4-2.5-.6z"/><path color="#8004a8" d="M184.6 213.8l2.5 .2 1.5-3.3-2.5-.1z"/><path color="#41049d" d="M161.9 234.3l2.4 .3 1.5-3-2.4-.2z"/><path color="#6400a7" d="M175.2 223l2.5 .1 1.5-3.1-2.5-.1z"/><path color="#ab2494" d="M263.3 195l2.5 3.7 1.5-2.5-2.5-3.8z"/><path color="#99159f" d="M194 204.4l2.5 .2 1.5-3.3-2.5-.2z"/><path color="#b02991" d="M203.4 195l2.5 .3 1.5-3.3-2.5-.3z"/><path color="#da5a6a" d="M236.7 171.9l2.5 1.7 1.4-3.2-2.5-1.8z"/><path color="#c7427c" d="M216.8 183l2.5 .7 1.5-3.3-2.5-.7z"/><path color="#2f0596" d="M277.7 237l2.5 4.6 1.4-1.5-2.5-4.8z"/><path color="#910ea3" d="M266.9 205.1l2.5 4 1.4-2.3-2.5-4.1z"/><path color="#d8576b" d="M243.2 172.3l2.5 2.1 1.4-3.1-2.5-2.2z"/><path color="#4b03a1" d="M165.8 231.6l2.5 .3 1.5-3-2.5-.2z"/><path color="#5302a3" d="M274.1 226.2l2.5 4.4 1.4-1.8-2.5-4.6z"/><path color="#7401a8" d="M270.5 215.5l2.5 4.3 1.4-2.1-2.5-4.4z"/><path color="#b32c8e" d="M260.8 191.5l2.5 3.5 1.5-2.6-2.6-3.7z"/><path color="#cc4977" d="M220.8 180.4l2.5 .9 1.5-3.3-2.6-.9z"/><path color="#d7566c" d="M232.7 173.7l2.5 1.5 1.5-3.3-2.6-1.5z"/><path color="#6f00a8" d="M179.2 220l2.5 .2 1.5-3.2-2.5-.1z"/><path color="#8808a6" d="M188.6 210.7l2.5 .2 1.5-3.2-2.5-.2z"/><path color="#b6308b" d="M207.4 192l2.5 .5 1.5-3.4-2.5-.4z"/><path color="#a11b9b" d="M198 201.3l2.5 .3 1.5-3.3-2.5-.3z"/><path color="#d04d73" d="M224.8 178l2.5 1 1.4-3.3-2.5-1.1z"/><path color="#d45270" d="M228.7 175.7l2.6 1.3 1.4-3.3-2.5-1.3z"/><path color="#d5546e" d="M245.7 174.4l2.5 2.4 1.5-3.1-2.6-2.4z"/><path color="#5502a4" d="M169.8 228.9l2.4 .2 1.5-3.1-2.4-.1z"/><path color="#bb3488" d="M258.3 188.1l2.5 3.4 1.4-2.8-2.5-3.4z"/><path color="#d7566c" d="M239.2 173.6l2.5 1.9 1.5-3.2-2.6-1.9z"/><path color="#220690" d="M148.4 243.9l2.5 .6 1.5-2.7-2.4-.5z"/><path color="#2a0593" d="M152.4 241.8l2.5 .5 1.5-2.8-2.5-.4z"/><path color="#9d189d" d="M264.4 201.3l2.5 3.8 1.4-2.4-2.5-4z"/><path color="#bd3786" d="M211.4 189.1l2.5 .6 1.4-3.3-2.5-.6z"/><path color="#d14e72" d="M248.2 176.8l2.6 2.5 1.4-3-2.5-2.6z"/><path color="#19068c" d="M144.5 245.8l2.4 .7 1.5-2.6-2.4-.6z"/><path color="#c23c81" d="M255.8 185l2.5 3.1 1.4-2.8-2.5-3.2z"/><path color="#7801a8" d="M183.2 217l2.4 .2 1.5-3.2-2.5-.2z"/><path color="#310597" d="M156.4 239.5l2.4 .5 1.6-2.9-2.5-.3z"/><path color="#920fa3" d="M192.6 207.7l2.5 .2 1.4-3.3-2.5-.2z"/><path color="#aa2395" d="M202 198.3l2.5 .4 1.4-3.4-2.5-.3z"/><path color="#cc4977" d="M250.8 179.3l2.5 2.7 1.4-2.9-2.5-2.8z"/><path color="#c8437b" d="M253.3 182l2.5 3 1.4-2.9-2.5-3z"/><path color="#5e01a6" d="M173.7 226l2.5 .3 1.5-3.2-2.5-.1z"/><path color="#100788" d="M140.5 247.5l2.4 .8 1.6-2.5-2.5-.7z"/><path color="#8104a7" d="M268 211.4l2.5 4.1 1.4-2.2-2.5-4.2z"/><path color="#3a049a" d="M160.4 237.1l2.4 .4 1.5-2.9-2.4-.3z"/><path color="#c23c81" d="M215.3 186.4l2.6 .7 1.4-3.4-2.5-.7z"/><path color="#d5546e" d="M235.2 175.2l2.6 1.6 1.4-3.2-2.5-1.7z"/><path color="#1b068d" d="M278.8 243.1l2.5 4.7 1.4-1.3-2.5-4.9z"/><path color="#6300a7" d="M271.6 221.8l2.5 4.4 1.4-2-2.5-4.4z"/><path color="#41049d" d="M275.2 232.4l2.5 4.6 1.4-1.7-2.5-4.7z"/><path color="#d5536f" d="M241.7 175.5l2.6 2.1 1.4-3.2-2.5-2.1z"/><path color="#a62098" d="M261.9 197.6l2.5 3.7 1.4-2.6-2.5-3.7z"/><path color="#c7427c" d="M219.3 183.7l2.5 .9 1.5-3.3-2.5-.9z"/><path color="#d35171" d="M231.3 177l2.5 1.4 1.4-3.2-2.5-1.5z"/><path color="#b12a90" d="M205.9 195.3l2.5 .5 1.5-3.3-2.5-.5z"/><path color="#44039e" d="M164.3 234.6l2.5 .3 1.5-3-2.5-.3z"/><path color="#8104a7" d="M187.1 214l2.5 .2 1.5-3.3-2.5-.2z"/><path color="#9a169f" d="M196.5 204.6l2.5 .3 1.5-3.3-2.5-.3z"/><path color="#cc4778" d="M223.3 181.3l2.5 1.1 1.5-3.4-2.5-1z"/><path color="#6700a8" d="M177.7 223.1l2.5 .2 1.5-3.1-2.5-.2z"/><path color="#cf4c74" d="M227.3 179l2.5 1.3 1.5-3.3-2.6-1.3z"/><path color="#d14e72" d="M244.3 177.6l2.5 2.3 1.4-3.1-2.5-2.4z"/><path color="#b02991" d="M259.4 194.2l2.5 3.4 1.4-2.6-2.5-3.5z"/><path color="#8e0ca4" d="M265.5 207.5l2.5 3.9 1.4-2.3-2.5-4z"/><path color="#4c02a1" d="M168.3 231.9l2.5 .3 1.4-3.1-2.4-.2z"/><path color="#b6308b" d="M209.9 192.5l2.5 .6 1.5-3.4-2.5-.6z"/><path color="#d35171" d="M237.8 176.8l2.5 1.9 1.4-3.2-2.5-1.9z"/><path color="#a21d9a" d="M200.5 201.6l2.5 .4 1.5-3.3-2.5-.4z"/><path color="#cd4a76" d="M246.8 179.9l2.5 2.4 1.5-3-2.6-2.5z"/><path color="#8b0aa5" d="M191.1 210.9l2.5 .3 1.5-3.3-2.5-.2z"/><path color="#b6308b" d="M256.9 190.9l2.5 3.3 1.4-2.7-2.5-3.4z"/><path color="#7100a8" d="M181.7 220.2l2.5 .2 1.4-3.2-2.4-.2z"/><path color="#7100a8" d="M269.1 217.7l2.5 4.1 1.4-2-2.5-4.3z"/><path color="#bd3786" d="M213.9 189.7l2.5 .7 1.5-3.3-2.6-.7z"/><path color="#c9447a" d="M249.3 182.3l2.6 2.7 1.4-3-2.5-2.7z"/><path color="#5102a3" d="M272.7 228.1l2.5 4.3 1.4-1.8-2.5-4.4z"/><path color="#be3885" d="M254.4 187.9l2.5 3 1.4-2.8-2.5-3.1z"/><path color="#220690" d="M150.9 244.5l2.4 .6 1.6-2.8-2.5-.5z"/><path color="#5601a4" d="M172.2 229.1l2.5 .3 1.5-3.1-2.5-.3z"/><path color="#d04d73" d="M233.8 178.4l2.5 1.7 1.5-3.3-2.6-1.6z"/><path color="#19068c" d="M146.9 246.5l2.5 .7 1.5-2.7-2.5-.6z"/><path color="#c43e7f" d="M251.9 185l2.5 2.9 1.4-2.9-2.5-3z"/><path color="#2f0596" d="M276.3 238.6l2.5 4.5 1.4-1.5-2.5-4.6z"/><path color="#2c0594" d="M154.9 242.3l2.4 .5 1.5-2.8-2.4-.5z"/><path color="#99159f" d="M263 203.8l2.5 3.7 1.4-2.4-2.5-3.8z"/><path color="#100788" d="M142.9 248.3l2.5 .8 1.5-2.6-2.4-.7z"/><path color="#d04d73" d="M240.3 178.7l2.5 2 1.5-3.1-2.6-2.1z"/><path color="#c23c81" d="M217.9 187.1l2.5 .9 1.4-3.4-2.5-.9z"/><path color="#aa2395" d="M204.5 198.7l2.5 .5 1.4-3.4-2.5-.5z"/><path color="#330597" d="M158.8 240l2.5 .4 1.5-2.9-2.4-.4z"/><path color="#cd4a76" d="M229.8 180.3l2.5 1.4 1.5-3.3-2.5-1.4z"/><path color="#9410a2" d="M195.1 207.9l2.5 .3 1.4-3.3-2.5-.3z"/><path color="#c7427c" d="M221.8 184.6l2.6 1.1 1.4-3.3-2.5-1.1z"/><path color="#7a02a8" d="M185.6 217.2l2.5 .2 1.5-3.2-2.5-.2z"/><path color="#cb4679" d="M225.8 182.4l2.6 1.2 1.4-3.3-2.5-1.3z"/><path color="#6001a6" d="M176.2 226.3l2.5 .2 1.5-3.2-2.5-.2z"/><path color="#3e049c" d="M162.8 237.5l2.5 .4 1.5-3-2.5-.3z"/><path color="#7e03a8" d="M266.6 213.7l2.5 4 1.4-2.2-2.5-4.1z"/><path color="#a21d9a" d="M260.5 200.3l2.5 3.5 1.4-2.5-2.5-3.7z"/><path color="#b12a90" d="M208.4 195.8l2.6 .6 1.4-3.3-2.5-.6z"/><path color="#cc4977" d="M242.8 180.7l2.6 2.3 1.4-3.1-2.5-2.3z"/><path color="#ce4b75" d="M236.3 180.1l2.6 1.8 1.4-3.2-2.5-1.9z"/><path color="#46039f" d="M166.8 234.9l2.4 .4 1.6-3.1-2.5-.3z"/><path color="#9c179e" d="M199 204.9l2.5 .4 1.5-3.3-2.5-.4z"/><path color="#6001a6" d="M270.2 223.9l2.5 4.2 1.4-1.9-2.5-4.4z"/><path color="#8405a7" d="M189.6 214.2l2.5 .3 1.5-3.3-2.5-.3z"/><path color="#6900a8" d="M180.2 223.3l2.5 .3 1.5-3.2-2.5-.2z"/><path color="#ab2494" d="M258 196.9l2.5 3.4 1.4-2.7-2.5-3.4z"/><path color="#b7318a" d="M212.4 193.1l2.5 .7 1.5-3.4-2.5-.7z"/><path color="#c9447a" d="M245.4 183l2.5 2.4 1.4-3.1-2.5-2.4z"/><path color="#3f049c" d="M273.9 234.3l2.4 4.3 1.4-1.6-2.5-4.6z"/><path color="#cc4778" d="M232.3 181.7l2.6 1.6 1.4-3.2-2.5-1.7z"/><path color="#8a09a5" d="M264.1 210l2.5 3.7 1.4-2.3-2.5-3.9z"/><path color="#b32c8e" d="M255.5 193.8l2.5 3.1 1.4-2.7-2.5-3.3z"/><path color="#5002a2" d="M170.8 232.2l2.4 .3 1.5-3.1-2.5-.3z"/><path color="#19068c" d="M277.5 244.7l2.5 4.5 1.3-1.4-2.5-4.7z"/><path color="#c43e7f" d="M247.9 185.4l2.5 2.6 1.5-3-2.6-2.7z"/><path color="#bd3786" d="M216.4 190.4l2.5 .9 1.5-3.3-2.5-.9z"/><path color="#a31e9a" d="M203 202l2.5 .5 1.5-3.3-2.5-.5z"/><path color="#ba3388" d="M252.9 190.8l2.6 3 1.4-2.9-2.5-3z"/><path color="#c9447a" d="M228.4 183.6l2.5 1.4 1.4-3.3-2.5-1.4z"/><path color="#bf3984" d="M250.4 188l2.5 2.8 1.5-2.9-2.5-2.9z"/><path color="#cc4778" d="M238.9 181.9l2.5 2 1.4-3.2-2.5-2z"/><path color="#c13b82" d="M220.4 188l2.5 1 1.5-3.3-2.6-1.1z"/><path color="#8d0ba5" d="M193.6 211.2l2.5 .4 1.5-3.4-2.5-.3z"/><path color="#c6417d" d="M224.4 185.7l2.5 1.2 1.5-3.3-2.6-1.2z"/><path color="#1b068d" d="M149.4 247.2l2.4 .7 1.5-2.8-2.4-.6z"/><path color="#7201a8" d="M184.2 220.4l2.4 .3 1.5-3.3-2.5-.2z"/><path color="#240691" d="M153.3 245.1l2.5 .6 1.5-2.9-2.4-.5z"/><path color="#100788" d="M145.4 249.1l2.4 .8 1.6-2.7-2.5-.7z"/><path color="#2c0594" d="M157.3 242.8l2.5 .6 1.5-3-2.5-.4z"/><path color="#6e00a8" d="M267.7 219.9l2.5 4 1.4-2.1-2.5-4.1z"/><path color="#5801a4" d="M174.7 229.4l2.5 .3 1.5-3.2-2.5-.2z"/><path color="#ab2494" d="M207 199.2l2.5 .6 1.5-3.4-2.6-.6z"/><path color="#9511a1" d="M261.6 206.3l2.5 3.7 1.4-2.5-2.5-3.7z"/><path color="#350498" d="M161.3 240.4l2.5 .5 1.5-3-2.5-.4z"/><path color="#c8437b" d="M241.4 183.9l2.5 2.2 1.5-3.1-2.6-2.3z"/><path color="#ca457a" d="M234.9 183.3l2.5 1.8 1.5-3.2-2.6-1.8z"/><path color="#9511a1" d="M197.6 208.2l2.5 .5 1.4-3.4-2.5-.4z"/><path color="#5002a2" d="M271.4 230.1l2.5 4.2 1.3-1.9-2.5-4.3z"/><path color="#7d03a8" d="M188.1 217.4l2.5 .4 1.5-3.3-2.5-.3z"/><path color="#b12a90" d="M211 196.4l2.5 .8 1.4-3.4-2.5-.7z"/><path color="#3f049c" d="M165.3 237.9l2.4 .4 1.5-3-2.4-.4z"/><path color="#6100a7" d="M178.7 226.5l2.5 .4 1.5-3.3-2.5-.3z"/><path color="#9e199d" d="M259.1 202.9l2.5 3.4 1.4-2.5-2.5-3.5z"/><path color="#c7427c" d="M230.9 185l2.5 1.6 1.5-3.3-2.6-1.6z"/><path color="#c43e7f" d="M243.9 186.1l2.6 2.3 1.4-3-2.5-2.4z"/><path color="#2e0595" d="M275 240.3l2.5 4.4 1.3-1.6-2.5-4.5z"/><path color="#b6308b" d="M214.9 193.8l2.6 .9 1.4-3.4-2.5-.9z"/><path color="#7a02a8" d="M265.2 216.1l2.5 3.8 1.4-2.2-2.5-4z"/><path color="#9d189d" d="M201.5 205.3l2.5 .6 1.5-3.4-2.5-.5z"/><path color="#c43e7f" d="M226.9 186.9l2.5 1.4 1.5-3.3-2.5-1.4z"/><path color="#48039f" d="M169.2 235.3l2.5 .4 1.5-3.2-2.4-.3z"/><path color="#a72197" d="M256.6 199.7l2.5 3.2 1.4-2.6-2.5-3.4z"/><path color="#bc3587" d="M218.9 191.3l2.6 1.1 1.4-3.4-2.5-1z"/><path color="#8606a6" d="M192.1 214.5l2.5 .4 1.5-3.3-2.5-.4z"/><path color="#c03a83" d="M246.5 188.4l2.5 2.6 1.4-3-2.5-2.6z"/><path color="#c7427c" d="M237.4 185.1l2.5 1.9 1.5-3.1-2.5-2z"/><path color="#c03a83" d="M222.9 189l2.5 1.2 1.5-3.3-2.5-1.2z"/><path color="#6c00a8" d="M182.7 223.6l2.5 .4 1.4-3.3-2.4-.3z"/><path color="#ae2892" d="M254 196.6l2.6 3.1 1.4-2.8-2.5-3.1z"/><path color="#bb3488" d="M249 191l2.5 2.7 1.4-2.9-2.5-2.8z"/><path color="#b52f8c" d="M251.5 193.7l2.5 2.9 1.5-2.8-2.6-3z"/><path color="#a51f99" d="M205.5 202.5l2.5 .6 1.5-3.3-2.5-.6z"/><path color="#5e01a6" d="M268.9 226l2.5 4.1 1.3-2-2.5-4.2z"/><path color="#5102a3" d="M173.2 232.5l2.5 .4 1.5-3.2-2.5-.3z"/><path color="#8606a6" d="M262.7 212.4l2.5 3.7 1.4-2.4-2.5-3.7z"/><path color="#1b068d" d="M151.8 247.9l2.5 .7 1.5-2.9-2.5-.6z"/><path color="#100788" d="M147.8 249.9l2.5 .8 1.5-2.8-2.4-.7z"/><path color="#240691" d="M155.8 245.7l2.5 .6 1.5-2.9-2.5-.6z"/><path color="#8e0ca4" d="M196.1 211.6l2.5 .4 1.5-3.3-2.5-.5z"/><path color="#c5407e" d="M233.4 186.6l2.6 1.7 1.4-3.2-2.5-1.8z"/><path color="#c43e7f" d="M239.9 187l2.6 2.2 1.4-3.1-2.5-2.2z"/><path color="#7501a8" d="M186.6 220.7l2.5 .4 1.5-3.3-2.5-.4z"/><path color="#ab2494" d="M209.5 199.8l2.5 .7 1.5-3.3-2.5-.8z"/><path color="#2e0595" d="M159.8 243.4l2.5 .5 1.5-3-2.5-.5z"/><path color="#3e049c" d="M272.5 236.1l2.5 4.2 1.3-1.7-2.4-4.3z"/><path color="#5b01a5" d="M177.2 229.7l2.5 .4 1.5-3.2-2.5-.4z"/><path color="#c23c81" d="M229.4 188.3l2.6 1.5 1.4-3.2-2.5-1.6z"/><path color="#910ea3" d="M260.2 208.9l2.5 3.5 1.4-2.4-2.5-3.7z"/><path color="#b12a90" d="M213.5 197.2l2.5 .8 1.5-3.3-2.6-.9z"/><path color="#370499" d="M163.8 240.9l2.4 .5 1.5-3.1-2.4-.4z"/><path color="#9613a1" d="M200.1 208.7l2.5 .5 1.4-3.3-2.5-.6z"/><path color="#c03a83" d="M242.5 189.2l2.5 2.3 1.5-3.1-2.6-2.3z"/><path color="#6a00a8" d="M266.3 222.1l2.6 3.9 1.3-2.1-2.5-4z"/><path color="#19068c" d="M276.1 246.2l2.5 4.4 1.4-1.4-2.5-4.5z"/><path color="#bf3984" d="M225.4 190.2l2.6 1.4 1.4-3.3-2.5-1.4z"/><path color="#b6308b" d="M217.5 194.7l2.5 1 1.5-3.3-2.6-1.1z"/><path color="#bb3488" d="M221.5 192.4l2.5 1.1 1.4-3.3-2.5-1.2z"/><path color="#7e03a8" d="M190.6 217.8l2.5 .4 1.5-3.3-2.5-.4z"/><path color="#c23c81" d="M236 188.3l2.5 1.9 1.4-3.2-2.5-1.9z"/><path color="#41049d" d="M167.7 238.3l2.5 .5 1.5-3.1-2.5-.4z"/><path color="#9a169f" d="M257.7 205.6l2.5 3.3 1.4-2.6-2.5-3.4z"/><path color="#6400a7" d="M181.2 226.9l2.5 .4 1.5-3.3-2.5-.4z"/><path color="#bc3587" d="M245 191.5l2.6 2.4 1.4-2.9-2.5-2.6z"/><path color="#9d189d" d="M204 205.9l2.6 .6 1.4-3.4-2.5-.6z"/><path color="#a21d9a" d="M255.1 202.4l2.6 3.2 1.4-2.7-2.5-3.2z"/><path color="#b6308b" d="M247.6 193.9l2.5 2.7 1.4-2.9-2.5-2.7z"/><path color="#4c02a1" d="M270 232l2.5 4.1 1.4-1.8-2.5-4.2z"/><path color="#4903a0" d="M171.7 235.7l2.5 .4 1.5-3.2-2.5-.4z"/><path color="#aa2395" d="M252.6 199.4l2.5 3 1.5-2.7-2.6-3.1z"/><path color="#8707a6" d="M194.6 214.9l2.5 .5 1.5-3.4-2.5-.4z"/><path color="#b12a90" d="M250.1 196.6l2.5 2.8 1.4-2.8-2.5-2.9z"/><path color="#7701a8" d="M263.8 218.4l2.5 3.7 1.4-2.2-2.5-3.8z"/><path color="#c03a83" d="M232 189.8l2.5 1.7 1.5-3.2-2.6-1.7z"/><path color="#a51f99" d="M208 203.1l2.5 .8 1.5-3.4-2.5-.7z"/><path color="#6e00a8" d="M185.2 224l2.4 .4 1.5-3.3-2.5-.4z"/><path color="#bf3984" d="M238.5 190.2l2.5 2.1 1.5-3.1-2.6-2.2z"/><path color="#100788" d="M150.3 250.7l2.5 .8 1.5-2.9-2.5-.7z"/><path color="#1b068d" d="M154.3 248.6l2.5 .7 1.5-3-2.5-.6z"/><path color="#ab2494" d="M212 200.5l2.5 .9 1.5-3.4-2.5-.8z"/><path color="#2c0594" d="M273.6 242l2.5 4.2 1.4-1.5-2.5-4.4z"/><path color="#bd3786" d="M228 191.6l2.5 1.5 1.5-3.3-2.6-1.5z"/><path color="#5302a3" d="M175.7 232.9l2.5 .5 1.5-3.3-2.5-.4z"/><path color="#260591" d="M158.3 246.3l2.4 .7 1.6-3.1-2.5-.5z"/><path color="#8e0ca4" d="M198.6 212l2.5 .6 1.5-3.4-2.5-.5z"/><path color="#8104a7" d="M261.3 214.8l2.5 3.6 1.4-2.3-2.5-3.7z"/><path color="#b12a90" d="M216 198l2.5 1.1 1.5-3.4-2.5-1z"/><path color="#ba3388" d="M224 193.5l2.5 1.4 1.5-3.3-2.6-1.4z"/><path color="#2f0596" d="M162.3 243.9l2.4 .6 1.5-3.1-2.4-.5z"/><path color="#b52f8c" d="M220 195.7l2.5 1.2 1.5-3.4-2.5-1.1z"/><path color="#7701a8" d="M189.1 221.1l2.5 .5 1.5-3.4-2.5-.4z"/><path color="#bb3488" d="M241 192.3l2.6 2.2 1.4-3-2.5-2.3z"/><path color="#5b01a5" d="M267.5 228.1l2.5 3.9 1.4-1.9-2.5-4.1z"/><path color="#bd3786" d="M234.5 191.5l2.5 1.9 1.5-3.2-2.5-1.9z"/><path color="#5c01a6" d="M179.7 230.1l2.5 .5 1.5-3.3-2.5-.4z"/><path color="#9613a1" d="M202.6 209.2l2.5 .7 1.5-3.4-2.6-.6z"/><path color="#38049a" d="M166.2 241.4l2.5 .6 1.5-3.2-2.5-.5z"/><path color="#8d0ba5" d="M258.8 211.4l2.5 3.4 1.4-2.4-2.5-3.5z"/><path color="#b6308b" d="M243.6 194.5l2.5 2.4 1.5-3-2.6-2.4z"/><path color="#7e03a8" d="M193.1 218.2l2.5 .6 1.5-3.4-2.5-.5z"/><path color="#9e199d" d="M206.6 206.5l2.5 .8 1.4-3.4-2.5-.8z"/><path color="#9511a1" d="M256.3 208.2l2.5 3.2 1.4-2.5-2.5-3.3z"/><path color="#41049d" d="M170.2 238.8l2.5 .5 1.5-3.2-2.5-.4z"/><path color="#3c049b" d="M271.1 237.9l2.5 4.1 1.4-1.7-2.5-4.2z"/><path color="#bb3488" d="M230.5 193.1l2.6 1.6 1.4-3.2-2.5-1.7z"/><path color="#b22b8f" d="M246.1 196.9l2.5 2.6 1.5-2.9-2.5-2.7z"/><path color="#6700a8" d="M264.9 224.4l2.6 3.7 1.4-2.1-2.6-3.9z"/><path color="#6400a7" d="M183.7 227.3l2.5 .5 1.4-3.4-2.4-.4z"/><path color="#9e199d" d="M253.7 205.1l2.6 3.1 1.4-2.6-2.6-3.2z"/><path color="#ba3388" d="M237 193.4l2.6 2 1.4-3.1-2.5-2.1z"/><path color="#ac2694" d="M248.6 199.5l2.6 2.7 1.4-2.8-2.5-2.8z"/><path color="#a51f99" d="M251.2 202.2l2.5 2.9 1.4-2.7-2.5-3z"/><path color="#a51f99" d="M210.5 203.9l2.6 .9 1.4-3.4-2.5-.9z"/><path color="#b7318a" d="M226.5 194.9l2.6 1.4 1.4-3.2-2.5-1.5z"/><path color="#8707a6" d="M197.1 215.4l2.5 .6 1.5-3.4-2.5-.6z"/><path color="#4b03a1" d="M174.2 236.1l2.5 .5 1.5-3.2-2.5-.5z"/><path color="#aa2395" d="M214.5 201.4l2.6 1 1.4-3.3-2.5-1.1z"/><path color="#100788" d="M152.8 251.5l2.4 .8 1.6-3-2.5-.7z"/><path color="#b42e8d" d="M222.5 196.9l2.6 1.3 1.4-3.3-2.5-1.4z"/><path color="#b02991" d="M218.5 199.1l2.6 1.1 1.4-3.3-2.5-1.2z"/><path color="#1d068e" d="M156.8 249.3l2.4 .7 1.5-3-2.4-.7z"/><path color="#6e00a8" d="M187.6 224.4l2.5 .5 1.5-3.3-2.5-.5z"/><path color="#19068c" d="M274.7 247.8l2.5 4.2 1.4-1.4-2.5-4.4z"/><path color="#7201a8" d="M262.4 220.7l2.5 3.7 1.4-2.3-2.5-3.7z"/><path color="#260591" d="M160.7 247l2.5 .6 1.5-3.1-2.4-.6z"/><path color="#b6308b" d="M239.6 195.4l2.5 2.2 1.5-3.1-2.6-2.2z"/><path color="#8f0da4" d="M201.1 212.6l2.5 .7 1.5-3.4-2.5-.7z"/><path color="#4b03a1" d="M268.6 234l2.5 3.9 1.4-1.8-2.5-4.1z"/><path color="#b83289" d="M233.1 194.7l2.5 1.9 1.4-3.2-2.5-1.9z"/><path color="#5502a4" d="M178.2 233.4l2.5 .5 1.5-3.3-2.5-.5z"/><path color="#2f0596" d="M164.7 244.5l2.5 .6 1.5-3.1-2.5-.6z"/><path color="#7701a8" d="M191.6 221.6l2.5 .5 1.5-3.3-2.5-.6z"/><path color="#7e03a8" d="M259.9 217.3l2.5 3.4 1.4-2.3-2.5-3.6z"/><path color="#9613a1" d="M205.1 209.9l2.5 .8 1.5-3.4-2.5-.8z"/><path color="#b22b8f" d="M242.1 197.6l2.6 2.3 1.4-3-2.5-2.4z"/><path color="#b52f8c" d="M229.1 196.3l2.5 1.7 1.5-3.3-2.6-1.6z"/><path color="#3a049a" d="M168.7 242l2.5 .6 1.5-3.3-2.5-.5z"/><path color="#5c01a6" d="M182.2 230.6l2.5 .5 1.5-3.3-2.5-.5z"/><path color="#9d189d" d="M209.1 207.3l2.5 .8 1.5-3.3-2.6-.9z"/><path color="#8808a6" d="M257.4 214l2.5 3.3 1.4-2.5-2.5-3.4z"/><path color="#ac2694" d="M244.7 199.9l2.5 2.5 1.4-2.9-2.5-2.6z"/><path color="#5801a4" d="M266 230.2l2.6 3.8 1.4-2-2.5-3.9z"/><path color="#b52f8c" d="M235.6 196.6l2.5 1.9 1.5-3.1-2.6-2z"/><path color="#8004a8" d="M195.6 218.8l2.5 .6 1.5-3.4-2.5-.6z"/><path color="#2c0594" d="M272.2 243.7l2.5 4.1 1.4-1.6-2.5-4.2z"/><path color="#b22b8f" d="M225.1 198.2l2.5 1.4 1.5-3.3-2.6-1.4z"/><path color="#a31e9a" d="M213.1 204.8l2.5 1 1.5-3.4-2.6-1z"/><path color="#43039e" d="M172.7 239.3l2.5 .6 1.5-3.3-2.5-.5z"/><path color="#910ea3" d="M254.8 210.9l2.6 3.1 1.4-2.6-2.5-3.2z"/><path color="#ae2892" d="M221.1 200.2l2.5 1.3 1.5-3.3-2.6-1.3z"/><path color="#a72197" d="M247.2 202.4l2.6 2.7 1.4-2.9-2.6-2.7z"/><path color="#aa2395" d="M217.1 202.4l2.5 1.1 1.5-3.3-2.6-1.1z"/><path color="#6600a7" d="M186.2 227.8l2.5 .5 1.4-3.4-2.5-.5z"/><path color="#99159f" d="M252.3 207.9l2.5 3 1.5-2.7-2.6-3.1z"/><path color="#a11b9b" d="M249.8 205.1l2.5 2.8 1.4-2.8-2.5-2.9z"/><path color="#8808a6" d="M199.6 216l2.5 .7 1.5-3.4-2.5-.7z"/><path color="#130789" d="M155.2 252.3l2.5 .8 1.5-3.1-2.4-.7z"/><path color="#4c02a1" d="M176.7 236.6l2.5 .6 1.5-3.3-2.5-.5z"/><path color="#6400a7" d="M263.5 226.6l2.5 3.6 1.5-2.1-2.6-3.7z"/><path color="#b12a90" d="M238.1 198.5l2.6 2.1 1.4-3-2.5-2.2z"/><path color="#b32c8e" d="M231.6 198l2.5 1.7 1.5-3.1-2.5-1.9z"/><path color="#1d068e" d="M159.2 250l2.5 .7 1.5-3.1-2.5-.6z"/><path color="#6f00a8" d="M190.1 224.9l2.6 .6 1.4-3.4-2.5-.5z"/><path color="#8f0da4" d="M203.6 213.3l2.5 .7 1.5-3.3-2.5-.8z"/><path color="#3a049a" d="M269.7 239.8l2.5 3.9 1.4-1.7-2.5-4.1z"/><path color="#280592" d="M163.2 247.6l2.5 .7 1.5-3.2-2.5-.6z"/><path color="#b02991" d="M227.6 199.6l2.5 1.6 1.5-3.2-2.5-1.7z"/><path color="#5502a4" d="M180.7 233.9l2.5 .5 1.5-3.3-2.5-.5z"/><path color="#6f00a8" d="M261 223.1l2.5 3.5 1.4-2.2-2.5-3.7z"/><path color="#ac2694" d="M240.7 200.6l2.5 2.3 1.5-3-2.6-2.3z"/><path color="#9613a1" d="M207.6 210.7l2.5 .8 1.5-3.4-2.5-.8z"/><path color="#310597" d="M167.2 245.1l2.5 .7 1.5-3.2-2.5-.6z"/><path color="#7801a8" d="M194.1 222.1l2.6 .7 1.4-3.4-2.5-.6z"/><path color="#ac2694" d="M223.6 201.5l2.5 1.4 1.5-3.3-2.5-1.4z"/><path color="#9d189d" d="M211.6 208.1l2.5 1 1.5-3.3-2.5-1z"/><path color="#b02991" d="M234.1 199.7l2.6 1.9 1.4-3.1-2.5-1.9z"/><path color="#a21d9a" d="M215.6 205.8l2.5 1.1 1.5-3.4-2.5-1.1z"/><path color="#a72197" d="M219.6 203.5l2.5 1.3 1.5-3.3-2.5-1.3z"/><path color="#7a02a8" d="M258.5 219.8l2.5 3.3 1.4-2.4-2.5-3.4z"/><path color="#a72197" d="M243.2 202.9l2.6 2.4 1.4-2.9-2.5-2.5z"/><path color="#3a049a" d="M171.2 242.6l2.5 .6 1.5-3.3-2.5-.6z"/><path color="#5e01a6" d="M184.7 231.1l2.5 .6 1.5-3.4-2.5-.5z"/><path color="#48039f" d="M267.2 236l2.5 3.8 1.4-1.9-2.5-3.9z"/><path color="#8004a8" d="M198.1 219.4l2.6 .7 1.4-3.4-2.5-.7z"/><path color="#19068c" d="M273.3 249.3l2.5 4 1.4-1.3-2.5-4.2z"/><path color="#8405a7" d="M255.9 216.6l2.6 3.2 1.4-2.5-2.5-3.3z"/><path color="#a21d9a" d="M245.8 205.3l2.5 2.6 1.5-2.8-2.6-2.7z"/><path color="#44039e" d="M175.2 239.9l2.5 .6 1.5-3.3-2.5-.6z"/><path color="#8d0ba5" d="M253.4 213.5l2.5 3.1 1.5-2.6-2.6-3.1z"/><path color="#9c179e" d="M248.3 207.9l2.6 2.8 1.4-2.8-2.5-2.8z"/><path color="#ad2793" d="M230.1 201.2l2.6 1.7 1.4-3.2-2.5-1.7z"/><path color="#6700a8" d="M188.7 228.3l2.5 .6 1.5-3.4-2.6-.6z"/><path color="#9410a2" d="M250.9 210.7l2.5 2.8 1.4-2.6-2.5-3z"/><path color="#ac2694" d="M236.7 201.6l2.5 2.1 1.5-3.1-2.6-2.1z"/><path color="#8808a6" d="M202.1 216.7l2.6 .7 1.4-3.4-2.5-.7z"/><path color="#130789" d="M157.7 253.1l2.5 .8 1.5-3.2-2.5-.7z"/><path color="#5502a4" d="M264.6 232.3l2.6 3.7 1.4-2-2.6-3.8z"/><path color="#1d068e" d="M161.7 250.7l2.5 .8 1.5-3.2-2.5-.7z"/><path color="#8f0da4" d="M206.1 214l2.6 .9 1.4-3.4-2.5-.8z"/><path color="#4c02a1" d="M179.2 237.2l2.5 .6 1.5-3.4-2.5-.5z"/><path color="#aa2395" d="M226.1 202.9l2.6 1.5 1.4-3.2-2.5-1.6z"/><path color="#6f00a8" d="M192.7 225.5l2.5 .6 1.5-3.3-2.6-.7z"/><path color="#280592" d="M165.7 248.3l2.5 .7 1.5-3.2-2.5-.7z"/><path color="#2a0593" d="M270.8 245.4l2.5 3.9 1.4-1.5-2.5-4.1z"/><path color="#9613a1" d="M210.1 211.5l2.6 1 1.4-3.4-2.5-1z"/><path color="#a72197" d="M239.2 203.7l2.6 2.2 1.4-3-2.5-2.3z"/><path color="#a62098" d="M222.1 204.8l2.6 1.4 1.4-3.3-2.5-1.4z"/><path color="#9c179e" d="M214.1 209.1l2.6 1.1 1.4-3.3-2.5-1.1z"/><path color="#a11b9b" d="M218.1 206.9l2.6 1.2 1.4-3.3-2.5-1.3z"/><path color="#6100a7" d="M262.1 228.8l2.5 3.5 1.4-2.1-2.5-3.6z"/><path color="#aa2395" d="M232.7 202.9l2.5 1.9 1.5-3.2-2.6-1.9z"/><path color="#5601a4" d="M183.2 234.4l2.5 .6 1.5-3.3-2.5-.6z"/><path color="#310597" d="M169.7 245.8l2.5 .6 1.5-3.2-2.5-.6z"/><path color="#7801a8" d="M196.7 222.8l2.5 .7 1.5-3.4-2.6-.7z"/><path color="#a21d9a" d="M241.8 205.9l2.5 2.4 1.5-3-2.6-2.4z"/><path color="#6c00a8" d="M259.6 225.4l2.5 3.4 1.4-2.2-2.5-3.5z"/><path color="#3c049b" d="M173.7 243.2l2.5 .6 1.5-3.3-2.5-.6z"/><path color="#6001a6" d="M187.2 231.7l2.5 .6 1.5-3.4-2.5-.6z"/><path color="#8004a8" d="M200.7 220.1l2.5 .7 1.5-3.4-2.6-.7z"/><path color="#38049a" d="M268.3 241.6l2.5 3.8 1.4-1.7-2.5-3.9z"/><path color="#a72197" d="M228.7 204.4l2.5 1.7 1.5-3.2-2.6-1.7z"/><path color="#9d189d" d="M244.3 208.3l2.6 2.5 1.4-2.9-2.5-2.6z"/><path color="#7501a8" d="M257 222.2l2.6 3.2 1.4-2.3-2.5-3.3z"/><path color="#a62098" d="M235.2 204.8l2.6 2 1.4-3.1-2.5-2.1z"/><path color="#8808a6" d="M204.7 217.4l2.5 .9 1.5-3.4-2.6-.9z"/><path color="#9613a1" d="M246.9 210.8l2.5 2.6 1.5-2.7-2.6-2.8z"/><path color="#44039e" d="M177.7 240.5l2.5 .6 1.5-3.3-2.5-.6z"/><path color="#7e03a8" d="M254.5 219.1l2.5 3.1 1.5-2.4-2.6-3.2z"/><path color="#a31e9a" d="M224.7 206.2l2.5 1.5 1.5-3.3-2.6-1.5z"/><path color="#6700a8" d="M191.2 228.9l2.5 .6 1.5-3.4-2.5-.6z"/><path color="#130789" d="M160.2 253.9l2.5 .8 1.5-3.2-2.5-.8z"/><path color="#8f0da4" d="M249.4 213.4l2.6 2.8 1.4-2.7-2.5-2.8z"/><path color="#8707a6" d="M252 216.2l2.5 2.9 1.4-2.5-2.5-3.1z"/><path color="#8e0ca4" d="M208.7 214.9l2.5 1 1.5-3.4-2.6-1z"/><path color="#a01a9c" d="M220.7 208.1l2.5 1.4 1.5-3.3-2.6-1.4z"/><path color="#46039f" d="M265.8 237.9l2.5 3.7 1.4-1.8-2.5-3.8z"/><path color="#1d068e" d="M164.2 251.5l2.5 .7 1.5-3.2-2.5-.7z"/><path color="#9511a1" d="M212.7 212.5l2.5 1.1 1.5-3.4-2.6-1.1z"/><path color="#9a169f" d="M216.7 210.2l2.5 1.2 1.5-3.3-2.6-1.2z"/><path color="#a21d9a" d="M237.8 206.8l2.5 2.1 1.5-3-2.6-2.2z"/><path color="#4e02a2" d="M181.7 237.8l2.5 .6 1.5-3.4-2.5-.6z"/><path color="#7100a8" d="M195.2 226.1l2.5 .8 1.5-3.4-2.5-.7z"/><path color="#a31e9a" d="M231.2 206.1l2.6 1.8 1.4-3.1-2.5-1.9z"/><path color="#2a0593" d="M168.2 249l2.5 .7 1.5-3.3-2.5-.6z"/><path color="#19068c" d="M271.9 250.8l2.6 3.9 1.3-1.4-2.5-4z"/><path color="#5102a3" d="M263.2 234.4l2.6 3.5 1.4-1.9-2.6-3.7z"/><path color="#7801a8" d="M199.2 223.5l2.5 .7 1.5-3.4-2.5-.7z"/><path color="#5601a4" d="M185.7 235l2.5 .7 1.5-3.4-2.5-.6z"/><path color="#330597" d="M172.2 246.4l2.5 .7 1.5-3.3-2.5-.6z"/><path color="#9d189d" d="M240.3 208.9l2.6 2.3 1.4-2.9-2.5-2.4z"/><path color="#a11b9b" d="M227.2 207.7l2.6 1.6 1.4-3.2-2.5-1.7z"/><path color="#8004a8" d="M203.2 220.8l2.5 .9 1.5-3.4-2.5-.9z"/><path color="#5e01a6" d="M260.7 231l2.5 3.4 1.4-2.1-2.5-3.5z"/><path color="#a01a9c" d="M233.8 207.9l2.5 2 1.5-3.1-2.6-2z"/><path color="#3c049b" d="M176.2 243.8l2.5 .6 1.5-3.3-2.5-.6z"/><path color="#6001a6" d="M189.7 232.3l2.5 .6 1.5-3.4-2.5-.6z"/><path color="#9814a0" d="M242.9 211.2l2.5 2.4 1.5-2.8-2.6-2.5z"/><path color="#9d189d" d="M223.2 209.5l2.6 1.4 1.4-3.2-2.5-1.5z"/><path color="#8707a6" d="M207.2 218.3l2.5 .9 1.5-3.3-2.5-1z"/><path color="#2a0593" d="M269.4 247.1l2.5 3.7 1.4-1.5-2.5-3.9z"/><path color="#6700a8" d="M258.2 227.8l2.5 3.2 1.4-2.2-2.5-3.4z"/><path color="#99159f" d="M219.2 211.4l2.6 1.3 1.4-3.2-2.5-1.4z"/><path color="#8e0ca4" d="M211.2 215.9l2.5 1 1.5-3.3-2.5-1.1z"/><path color="#910ea3" d="M245.4 213.6l2.6 2.6 1.4-2.8-2.5-2.6z"/><path color="#9410a2" d="M215.2 213.6l2.5 1.2 1.5-3.4-2.5-1.2z"/><path color="#130789" d="M162.7 254.7l2.5 .8 1.5-3.3-2.5-.7z"/><path color="#46039f" d="M180.2 241.1l2.5 .7 1.5-3.4-2.5-.6z"/><path color="#6700a8" d="M193.7 229.5l2.5 .8 1.5-3.4-2.5-.8z"/><path color="#7201a8" d="M255.6 224.7l2.6 3.1 1.4-2.4-2.6-3.2z"/><path color="#8a09a5" d="M248 216.2l2.5 2.7 1.5-2.7-2.6-2.8z"/><path color="#7a02a8" d="M253.1 221.7l2.5 3 1.4-2.5-2.5-3.1z"/><path color="#8305a7" d="M250.5 218.9l2.6 2.8 1.4-2.6-2.5-2.9z"/><path color="#9e199d" d="M229.8 209.3l2.5 1.8 1.5-3.2-2.6-1.8z"/><path color="#9c179e" d="M236.3 209.9l2.6 2 1.4-3-2.5-2.1z"/><path color="#20068f" d="M166.7 252.2l2.5 .8 1.5-3.3-2.5-.7z"/><path color="#7100a8" d="M197.7 226.9l2.5 .7 1.5-3.4-2.5-.7z"/><path color="#370499" d="M266.9 243.4l2.5 3.7 1.4-1.7-2.5-3.8z"/><path color="#4e02a2" d="M184.2 238.4l2.5 .7 1.5-3.4-2.5-.7z"/><path color="#2a0593" d="M170.7 249.7l2.5 .7 1.5-3.3-2.5-.7z"/><path color="#9a169f" d="M225.8 210.9l2.5 1.6 1.5-3.2-2.6-1.6z"/><path color="#7801a8" d="M201.7 224.2l2.5 .9 1.5-3.4-2.5-.9z"/><path color="#9814a0" d="M238.9 211.9l2.5 2.2 1.5-2.9-2.6-2.3z"/><path color="#5801a4" d="M188.2 235.7l2.5 .7 1.5-3.5-2.5-.6z"/><path color="#330597" d="M174.7 247.1l2.5 .7 1.5-3.4-2.5-.6z"/><path color="#44039e" d="M264.4 239.9l2.5 3.5 1.4-1.8-2.5-3.7z"/><path color="#8004a8" d="M205.7 221.7l2.5 .9 1.5-3.4-2.5-.9z"/><path color="#9613a1" d="M221.8 212.7l2.5 1.5 1.5-3.3-2.6-1.4z"/><path color="#9a169f" d="M232.3 211.1l2.6 1.8 1.4-3-2.5-2z"/><path color="#8707a6" d="M209.7 219.2l2.6 1.1 1.4-3.4-2.5-1z"/><path color="#920fa3" d="M217.7 214.8l2.6 1.2 1.5-3.3-2.6-1.3z"/><path color="#8d0ba5" d="M213.7 216.9l2.6 1.2 1.4-3.3-2.5-1.2z"/><path color="#920fa3" d="M241.4 214.1l2.6 2.4 1.4-2.9-2.5-2.4z"/><path color="#6001a6" d="M192.2 232.9l2.5 .8 1.5-3.4-2.5-.8z"/><path color="#3e049c" d="M178.7 244.4l2.5 .7 1.5-3.3-2.5-.7z"/><path color="#5002a2" d="M261.8 236.5l2.6 3.4 1.4-2-2.6-3.5z"/><path color="#8b0aa5" d="M244 216.5l2.5 2.5 1.5-2.8-2.6-2.6z"/><path color="#130789" d="M165.2 255.5l2.5 .8 1.5-3.3-2.5-.8z"/><path color="#9814a0" d="M228.3 212.5l2.6 1.7 1.4-3.1-2.5-1.8z"/><path color="#6900a8" d="M196.2 230.3l2.5 .7 1.5-3.4-2.5-.7z"/><path color="#5901a5" d="M259.3 233.3l2.5 3.2 1.4-2.1-2.5-3.4z"/><path color="#46039f" d="M182.7 241.8l2.5 .7 1.5-3.4-2.5-.7z"/><path color="#9613a1" d="M234.9 212.9l2.5 2.1 1.5-3.1-2.6-2z"/><path color="#16078a" d="M270.6 252.4l2.5 3.7 1.4-1.4-2.6-3.9z"/><path color="#8606a6" d="M246.5 219l2.6 2.6 1.4-2.7-2.5-2.7z"/><path color="#20068f" d="M169.2 253l2.5 .8 1.5-3.4-2.5-.7z"/><path color="#6400a7" d="M256.7 230.2l2.6 3.1 1.4-2.3-2.5-3.2z"/><path color="#7100a8" d="M200.2 227.6l2.5 .9 1.5-3.4-2.5-.9z"/><path color="#7e03a8" d="M249.1 221.6l2.5 2.7 1.5-2.6-2.6-2.8z"/><path color="#6e00a8" d="M254.2 227.2l2.5 3 1.5-2.4-2.6-3.1z"/><path color="#9410a2" d="M224.3 214.2l2.5 1.5 1.5-3.2-2.5-1.6z"/><path color="#7501a8" d="M251.6 224.3l2.6 2.9 1.4-2.5-2.5-3z"/><path color="#4e02a2" d="M186.7 239.1l2.5 .7 1.5-3.4-2.5-.7z"/><path color="#2a0593" d="M173.2 250.4l2.5 .8 1.5-3.4-2.5-.7z"/><path color="#7801a8" d="M204.2 225.1l2.6 .9 1.4-3.4-2.5-.9z"/><path color="#910ea3" d="M237.4 215l2.6 2.1 1.4-3-2.5-2.2z"/><path color="#8f0da4" d="M220.3 216l2.5 1.4 1.5-3.2-2.5-1.5z"/><path color="#280592" d="M268 248.8l2.6 3.6 1.3-1.6-2.5-3.7z"/><path color="#7e03a8" d="M208.2 222.6l2.6 1.1 1.5-3.4-2.6-1.1z"/><path color="#9410a2" d="M230.9 214.2l2.5 1.8 1.5-3.1-2.6-1.8z"/><path color="#8b0aa5" d="M216.3 218.1l2.5 1.2 1.5-3.3-2.6-1.2z"/><path color="#8606a6" d="M212.3 220.3l2.5 1.1 1.5-3.3-2.6-1.2z"/><path color="#5801a4" d="M190.7 236.4l2.5 .7 1.5-3.4-2.5-.8z"/><path color="#330597" d="M177.2 247.8l2.5 .7 1.5-3.4-2.5-.7z"/><path color="#8d0ba5" d="M240 217.1l2.5 2.3 1.5-2.9-2.6-2.4z"/><path color="#350498" d="M265.5 245.3l2.5 3.5 1.4-1.7-2.5-3.7z"/><path color="#6001a6" d="M194.7 233.7l2.5 .8 1.5-3.5-2.5-.7z"/><path color="#3e049c" d="M181.2 245.1l2.5 .8 1.5-3.4-2.5-.7z"/><path color="#910ea3" d="M226.8 215.7l2.6 1.7 1.5-3.2-2.6-1.7z"/><path color="#6700a8" d="M198.7 231l2.6 .9 1.4-3.4-2.5-.9z"/><path color="#8f0da4" d="M233.4 216l2.6 2 1.4-3-2.5-2.1z"/><path color="#130789" d="M167.7 256.3l2.5 .8 1.5-3.3-2.5-.8z"/><path color="#8707a6" d="M242.5 219.4l2.6 2.3 1.4-2.7-2.5-2.5z"/><path color="#41049d" d="M262.9 241.9l2.6 3.4 1.4-1.9-2.5-3.5z"/><path color="#46039f" d="M185.2 242.5l2.5 .7 1.5-3.4-2.5-.7z"/><path color="#8e0ca4" d="M222.8 217.4l2.6 1.5 1.4-3.2-2.5-1.5z"/><path color="#6f00a8" d="M202.7 228.5l2.6 .9 1.5-3.4-2.6-.9z"/><path color="#20068f" d="M171.7 253.8l2.5 .7 1.5-3.3-2.5-.8z"/><path color="#8004a8" d="M245.1 221.7l2.5 2.5 1.5-2.6-2.6-2.6z"/><path color="#4c02a1" d="M260.4 238.7l2.5 3.2 1.5-2-2.6-3.4z"/><path color="#8808a6" d="M218.8 219.3l2.6 1.4 1.4-3.3-2.5-1.4z"/><path color="#7701a8" d="M206.8 226l2.5 1 1.5-3.3-2.6-1.1z"/><path color="#5002a2" d="M189.2 239.8l2.5 .7 1.5-3.4-2.5-.7z"/><path color="#7e03a8" d="M210.8 223.7l2.5 1.1 1.5-3.4-2.5-1.1z"/><path color="#8405a7" d="M214.8 221.4l2.5 1.2 1.5-3.3-2.5-1.2z"/><path color="#7801a8" d="M247.6 224.2l2.6 2.7 1.4-2.6-2.5-2.7z"/><path color="#5601a4" d="M257.8 235.5l2.6 3.2 1.4-2.2-2.5-3.2z"/><path color="#2a0593" d="M175.7 251.2l2.5 .7 1.5-3.4-2.5-.7z"/><path color="#8b0aa5" d="M236 218l2.5 2 1.5-2.9-2.6-2.1z"/><path color="#8e0ca4" d="M229.4 217.4l2.6 1.7 1.4-3.1-2.5-1.8z"/><path color="#7100a8" d="M250.2 226.9l2.5 2.7 1.5-2.4-2.6-2.9z"/><path color="#6001a6" d="M255.3 232.5l2.5 3 1.5-2.2-2.6-3.1z"/><path color="#6900a8" d="M252.7 229.6l2.6 2.9 1.4-2.3-2.5-3z"/><path color="#5801a4" d="M193.2 237.1l2.6 .8 1.4-3.4-2.5-.8z"/><path color="#350498" d="M179.7 248.5l2.5 .8 1.5-3.4-2.5-.8z"/><path color="#8b0aa5" d="M225.4 218.9l2.5 1.6 1.5-3.1-2.6-1.7z"/><path color="#16078a" d="M269.2 254l2.5 3.5 1.4-1.4-2.5-3.7z"/><path color="#8707a6" d="M238.5 220l2.6 2.2 1.4-2.8-2.5-2.3z"/><path color="#6001a6" d="M197.2 234.5l2.6 .8 1.5-3.4-2.6-.9z"/><path color="#3e049c" d="M183.7 245.9l2.5 .7 1.5-3.4-2.5-.7z"/><path color="#8a09a5" d="M232 219.1l2.5 1.9 1.5-3-2.6-2z"/><path color="#6700a8" d="M201.3 231.9l2.5 .9 1.5-3.4-2.6-.9z"/><path color="#8707a6" d="M221.4 220.7l2.5 1.4 1.5-3.2-2.6-1.5z"/><path color="#130789" d="M170.2 257.1l2.5 .8 1.5-3.4-2.5-.7z"/><path color="#260591" d="M266.6 250.5l2.6 3.5 1.4-1.6-2.6-3.6z"/><path color="#8104a7" d="M241.1 222.2l2.5 2.3 1.5-2.8-2.6-2.3z"/><path color="#6f00a8" d="M205.3 229.4l2.5 1 1.5-3.4-2.5-1z"/><path color="#46039f" d="M187.7 243.2l2.5 .7 1.5-3.4-2.5-.7z"/><path color="#8104a7" d="M217.3 222.6l2.6 1.4 1.5-3.3-2.6-1.4z"/><path color="#7701a8" d="M209.3 227l2.5 1.1 1.5-3.3-2.5-1.1z"/><path color="#7d03a8" d="M213.3 224.8l2.6 1.2 1.4-3.4-2.5-1.2z"/><path color="#20068f" d="M174.2 254.5l2.5 .8 1.5-3.4-2.5-.7z"/><path color="#330597" d="M264.1 247.1l2.5 3.4 1.4-1.7-2.5-3.5z"/><path color="#7b02a8" d="M243.6 224.5l2.6 2.4 1.4-2.7-2.5-2.5z"/><path color="#8707a6" d="M227.9 220.5l2.6 1.7 1.5-3.1-2.6-1.7z"/><path color="#5002a2" d="M191.7 240.5l2.6 .8 1.5-3.4-2.6-.8z"/><path color="#8606a6" d="M234.5 221l2.6 2 1.4-3-2.5-2z"/><path color="#2a0593" d="M178.2 251.9l2.5 .8 1.5-3.4-2.5-.8z"/><path color="#3f049c" d="M261.5 243.9l2.6 3.2 1.4-1.8-2.6-3.4z"/><path color="#7401a8" d="M246.2 226.9l2.6 2.6 1.4-2.6-2.6-2.7z"/><path color="#5801a4" d="M195.8 237.9l2.5 .8 1.5-3.4-2.6-.8z"/><path color="#8405a7" d="M223.9 222.1l2.6 1.6 1.4-3.2-2.5-1.6z"/><path color="#4903a0" d="M259 240.8l2.5 3.1 1.4-2-2.5-3.2z"/><path color="#6c00a8" d="M248.8 229.5l2.5 2.6 1.4-2.5-2.5-2.7z"/><path color="#350498" d="M182.2 249.3l2.5 .7 1.5-3.4-2.5-.7z"/><path color="#6001a6" d="M199.8 235.3l2.5 .9 1.5-3.4-2.5-.9z"/><path color="#5302a3" d="M256.4 237.8l2.6 3 1.4-2.1-2.6-3.2z"/><path color="#6400a7" d="M251.3 232.1l2.6 2.8 1.4-2.4-2.6-2.9z"/><path color="#5c01a6" d="M253.9 234.9l2.5 2.9 1.4-2.3-2.5-3z"/><path color="#8104a7" d="M237.1 223l2.5 2.1 1.5-2.9-2.6-2.2z"/><path color="#8004a8" d="M219.9 224l2.5 1.4 1.5-3.3-2.5-1.4z"/><path color="#8405a7" d="M230.5 222.2l2.6 1.8 1.4-3-2.5-1.9z"/><path color="#6700a8" d="M203.8 232.8l2.5 1 1.5-3.4-2.5-1z"/><path color="#3e049c" d="M186.2 246.6l2.5 .8 1.5-3.5-2.5-.7z"/><path color="#7a02a8" d="M215.9 226l2.5 1.2 1.5-3.2-2.6-1.4z"/><path color="#6e00a8" d="M207.8 230.4l2.6 1.1 1.4-3.4-2.5-1.1z"/><path color="#7501a8" d="M211.8 228.1l2.6 1.2 1.5-3.3-2.6-1.2z"/><path color="#130789" d="M172.7 257.9l2.5 .8 1.5-3.4-2.5-.8z"/><path color="#7b02a8" d="M239.6 225.1l2.6 2.2 1.4-2.8-2.5-2.3z"/><path color="#46039f" d="M190.2 243.9l2.6 .8 1.5-3.4-2.6-.8z"/><path color="#20068f" d="M176.7 255.3l2.5 .8 1.5-3.4-2.5-.8z"/><path color="#8104a7" d="M226.5 223.7l2.5 1.6 1.5-3.1-2.6-1.7z"/><path color="#5002a2" d="M194.3 241.3l2.5 .8 1.5-3.4-2.5-.8z"/><path color="#8004a8" d="M233.1 224l2.5 2 1.5-3-2.6-2z"/><path color="#7501a8" d="M242.2 227.3l2.6 2.3 1.4-2.7-2.6-2.4z"/><path color="#2c0594" d="M180.7 252.7l2.5 .8 1.5-3.5-2.5-.7z"/><path color="#16078a" d="M267.8 255.5l2.5 3.4 1.4-1.4-2.5-3.5z"/><path color="#7d03a8" d="M222.4 225.4l2.6 1.5 1.5-3.2-2.6-1.6z"/><path color="#5801a4" d="M198.3 238.7l2.5 .9 1.5-3.4-2.5-.9z"/><path color="#6f00a8" d="M244.8 229.6l2.5 2.5 1.5-2.6-2.6-2.6z"/><path color="#6001a6" d="M202.3 236.2l2.5 1 1.5-3.4-2.5-1z"/><path color="#350498" d="M184.7 250l2.5 .8 1.5-3.4-2.5-.8z"/><path color="#260591" d="M265.2 252.2l2.6 3.3 1.4-1.5-2.6-3.5z"/><path color="#7801a8" d="M218.4 227.2l2.6 1.4 1.4-3.2-2.5-1.4z"/><path color="#6600a7" d="M206.3 233.8l2.6 1 1.5-3.3-2.6-1.1z"/><path color="#7b02a8" d="M235.6 226l2.6 2 1.4-2.9-2.5-2.1z"/><path color="#7201a8" d="M214.4 229.3l2.5 1.2 1.5-3.3-2.5-1.2z"/><path color="#7d03a8" d="M229 225.3l2.6 1.8 1.5-3.1-2.6-1.8z"/><path color="#6e00a8" d="M210.4 231.5l2.5 1.1 1.5-3.3-2.6-1.2z"/><path color="#6700a8" d="M247.3 232.1l2.6 2.5 1.4-2.5-2.5-2.6z"/><path color="#310597" d="M262.7 249l2.5 3.2 1.4-1.7-2.5-3.4z"/><path color="#3e049c" d="M188.7 247.4l2.6 .8 1.5-3.5-2.6-.8z"/><path color="#6100a7" d="M249.9 234.6l2.5 2.7 1.5-2.4-2.6-2.8z"/><path color="#3c049b" d="M260.1 245.9l2.6 3.1 1.4-1.9-2.6-3.2z"/><path color="#130789" d="M175.2 258.7l2.5 .8 1.5-3.4-2.5-.8z"/><path color="#5801a4" d="M252.4 237.3l2.6 2.7 1.4-2.2-2.5-2.9z"/><path color="#46039f" d="M257.5 242.9l2.6 3 1.4-2-2.5-3.1z"/><path color="#5002a2" d="M255 240l2.5 2.9 1.5-2.1-2.6-3z"/><path color="#46039f" d="M192.8 244.7l2.5 .9 1.5-3.5-2.5-.8z"/><path color="#7a02a8" d="M225 226.9l2.6 1.6 1.4-3.2-2.5-1.6z"/><path color="#7501a8" d="M238.2 228l2.5 2.1 1.5-2.8-2.6-2.2z"/><path color="#20068f" d="M179.2 256.1l2.5 .8 1.5-3.4-2.5-.8z"/><path color="#4e02a2" d="M196.8 242.1l2.5 .9 1.5-3.4-2.5-.9z"/><path color="#7a02a8" d="M231.6 227.1l2.5 1.8 1.5-2.9-2.5-2z"/><path color="#7501a8" d="M221 228.6l2.5 1.4 1.5-3.1-2.6-1.5z"/><path color="#5601a4" d="M200.8 239.6l2.6 1 1.4-3.4-2.5-1z"/><path color="#2c0594" d="M183.2 253.5l2.5 .7 1.5-3.4-2.5-.8z"/><path color="#7100a8" d="M240.7 230.1l2.6 2.2 1.5-2.7-2.6-2.3z"/><path color="#7100a8" d="M216.9 230.5l2.6 1.3 1.5-3.2-2.6-1.4z"/><path color="#5e01a6" d="M204.8 237.2l2.6 1 1.5-3.4-2.6-1z"/><path color="#6c00a8" d="M212.9 232.6l2.6 1.2 1.4-3.3-2.5-1.2z"/><path color="#6400a7" d="M208.9 234.8l2.5 1.1 1.5-3.3-2.5-1.1z"/><path color="#350498" d="M187.2 250.8l2.6 .8 1.5-3.4-2.6-.8z"/><path color="#7701a8" d="M227.6 228.5l2.5 1.6 1.5-3-2.6-1.8z"/><path color="#6a00a8" d="M243.3 232.3l2.6 2.4 1.4-2.6-2.5-2.5z"/><path color="#7501a8" d="M234.1 228.9l2.6 2 1.5-2.9-2.6-2z"/><path color="#3e049c" d="M191.3 248.2l2.5 .8 1.5-3.4-2.5-.9z"/><path color="#130789" d="M177.7 259.5l2.5 .8 1.5-3.4-2.5-.8z"/><path color="#6300a7" d="M245.9 234.7l2.5 2.4 1.5-2.5-2.6-2.5z"/><path color="#7201a8" d="M223.5 230l2.6 1.6 1.5-3.1-2.6-1.6z"/><path color="#46039f" d="M195.3 245.6l2.5 .8 1.5-3.4-2.5-.9z"/><path color="#16078a" d="M266.4 257.1l2.5 3.2 1.4-1.4-2.5-3.4z"/><path color="#5c01a6" d="M248.4 237.1l2.6 2.6 1.4-2.4-2.5-2.7z"/><path color="#6f00a8" d="M236.7 230.9l2.6 2 1.4-2.8-2.5-2.1z"/><path color="#20068f" d="M181.7 256.9l2.5 .8 1.5-3.5-2.5-.7z"/><path color="#4e02a2" d="M199.3 243l2.6 .9 1.5-3.3-2.6-1z"/><path color="#6f00a8" d="M219.5 231.8l2.6 1.4 1.4-3.2-2.5-1.4z"/><path color="#7201a8" d="M230.1 230.1l2.6 1.8 1.4-3-2.5-1.8z"/><path color="#240691" d="M263.8 253.9l2.6 3.2 1.4-1.6-2.6-3.3z"/><path color="#5502a4" d="M251 239.7l2.6 2.6 1.4-2.3-2.6-2.7z"/><path color="#5601a4" d="M203.4 240.6l2.5 .9 1.5-3.3-2.6-1z"/><path color="#6900a8" d="M215.5 233.8l2.5 1.3 1.5-3.3-2.6-1.3z"/><path color="#2f0596" d="M261.2 250.9l2.6 3 1.4-1.7-2.5-3.2z"/><path color="#4c02a1" d="M253.6 242.3l2.5 2.8 1.4-2.2-2.5-2.9z"/><path color="#5c01a6" d="M207.4 238.2l2.5 1 1.5-3.3-2.5-1.1z"/><path color="#2c0594" d="M185.7 254.2l2.6 .9 1.5-3.5-2.6-.8z"/><path color="#6400a7" d="M211.4 235.9l2.6 1.2 1.5-3.3-2.6-1.2z"/><path color="#3a049a" d="M258.7 247.9l2.5 3 1.5-1.9-2.6-3.1z"/><path color="#44039e" d="M256.1 245.1l2.6 2.8 1.4-2-2.6-3z"/><path color="#6a00a8" d="M239.3 232.9l2.5 2.1 1.5-2.7-2.6-2.2z"/><path color="#350498" d="M189.8 251.6l2.5 .8 1.5-3.4-2.5-.8z"/><path color="#6f00a8" d="M226.1 231.6l2.6 1.6 1.4-3.1-2.5-1.6z"/><path color="#6f00a8" d="M232.7 231.9l2.6 1.9 1.4-2.9-2.6-2z"/><path color="#3e049c" d="M193.8 249l2.5 .9 1.5-3.5-2.5-.8z"/><path color="#6400a7" d="M241.8 235l2.6 2.3 1.5-2.6-2.6-2.4z"/><path color="#6c00a8" d="M222.1 233.2l2.5 1.5 1.5-3.1-2.6-1.6z"/><path color="#130789" d="M180.2 260.3l2.5 .8 1.5-3.4-2.5-.8z"/><path color="#46039f" d="M197.8 246.4l2.6 .9 1.5-3.4-2.6-.9z"/><path color="#6700a8" d="M218 235.1l2.6 1.3 1.5-3.2-2.6-1.4z"/><path color="#4e02a2" d="M201.9 243.9l2.5 1 1.5-3.4-2.5-.9z"/><path color="#5e01a6" d="M244.4 237.3l2.6 2.3 1.4-2.5-2.5-2.4z"/><path color="#20068f" d="M184.2 257.7l2.6 .8 1.5-3.4-2.6-.9z"/><path color="#6a00a8" d="M235.3 233.8l2.5 1.9 1.5-2.8-2.6-2z"/><path color="#6c00a8" d="M228.7 233.2l2.5 1.7 1.5-3-2.6-1.8z"/><path color="#6100a7" d="M214 237.1l2.5 1.2 1.5-3.2-2.5-1.3z"/><path color="#5502a4" d="M205.9 241.5l2.6 1.1 1.4-3.4-2.5-1z"/><path color="#5c01a6" d="M209.9 239.2l2.6 1.2 1.5-3.3-2.6-1.2z"/><path color="#5801a4" d="M247 239.6l2.5 2.4 1.5-2.3-2.6-2.6z"/><path color="#2c0594" d="M188.3 255.1l2.5 .8 1.5-3.5-2.5-.8z"/><path color="#6900a8" d="M224.6 234.7l2.6 1.5 1.5-3-2.6-1.6z"/><path color="#5102a3" d="M249.5 242l2.6 2.6 1.5-2.3-2.6-2.6z"/><path color="#350498" d="M192.3 252.4l2.5 .9 1.5-3.4-2.5-.9z"/><path color="#6400a7" d="M237.8 235.7l2.6 2.1 1.4-2.8-2.5-2.1z"/><path color="#4903a0" d="M252.1 244.6l2.6 2.6 1.4-2.1-2.5-2.8z"/><path color="#6900a8" d="M231.2 234.9l2.6 1.8 1.5-2.9-2.6-1.9z"/><path color="#3e049c" d="M196.3 249.9l2.6 .9 1.5-3.5-2.6-.9z"/><path color="#130789" d="M264.9 258.7l2.6 3.1 1.4-1.5-2.5-3.2z"/><path color="#6400a7" d="M220.6 236.4l2.5 1.4 1.5-3.1-2.5-1.5z"/><path color="#41049d" d="M254.7 247.2l2.6 2.7 1.4-2-2.6-2.8z"/><path color="#220690" d="M262.4 255.7l2.5 3 1.5-1.6-2.6-3.2z"/><path color="#38049a" d="M257.3 249.9l2.5 2.8 1.4-1.8-2.5-3z"/><path color="#2e0595" d="M259.8 252.7l2.6 3 1.4-1.8-2.6-3z"/><path color="#46039f" d="M200.4 247.3l2.5 1 1.5-3.4-2.5-1z"/><path color="#130789" d="M182.7 261.1l2.6 .9 1.5-3.5-2.6-.8z"/><path color="#6001a6" d="M216.5 238.3l2.6 1.3 1.5-3.2-2.6-1.3z"/><path color="#6001a6" d="M240.4 237.8l2.6 2.1 1.4-2.6-2.6-2.3z"/><path color="#4c02a1" d="M204.4 244.9l2.6 1 1.5-3.3-2.6-1.1z"/><path color="#5b01a5" d="M212.5 240.4l2.6 1.2 1.4-3.3-2.5-1.2z"/><path color="#5502a4" d="M208.5 242.6l2.5 1.1 1.5-3.3-2.6-1.2z"/><path color="#6600a7" d="M227.2 236.2l2.5 1.7 1.5-3-2.5-1.7z"/><path color="#20068f" d="M186.8 258.5l2.5 .8 1.5-3.4-2.5-.8z"/><path color="#6400a7" d="M233.8 236.7l2.6 1.8 1.4-2.8-2.5-1.9z"/><path color="#5901a5" d="M243 239.9l2.5 2.2 1.5-2.5-2.6-2.3z"/><path color="#2c0594" d="M190.8 255.9l2.5 .8 1.5-3.4-2.5-.9z"/><path color="#6300a7" d="M223.1 237.8l2.6 1.5 1.5-3.1-2.6-1.5z"/><path color="#350498" d="M194.8 253.3l2.6 .9 1.5-3.4-2.6-.9z"/><path color="#5302a3" d="M245.5 242.1l2.6 2.3 1.4-2.4-2.5-2.4z"/><path color="#6001a6" d="M236.4 238.5l2.5 2 1.5-2.7-2.6-2.1z"/><path color="#5e01a6" d="M219.1 239.6l2.6 1.4 1.4-3.2-2.5-1.4z"/><path color="#3e049c" d="M198.9 250.8l2.5 .9 1.5-3.4-2.5-1z"/><path color="#6300a7" d="M229.7 237.9l2.6 1.7 1.5-2.9-2.6-1.8z"/><path color="#44039e" d="M202.9 248.3l2.6 1 1.5-3.4-2.6-1z"/><path color="#5801a4" d="M215.1 241.6l2.5 1.2 1.5-3.2-2.6-1.3z"/><path color="#4c02a1" d="M248.1 244.4l2.6 2.5 1.4-2.3-2.6-2.6z"/><path color="#4c02a1" d="M207 245.9l2.5 1.1 1.5-3.3-2.5-1.1z"/><path color="#5302a3" d="M211 243.7l2.6 1.1 1.5-3.2-2.6-1.2z"/><path color="#130789" d="M185.3 262l2.5 .8 1.5-3.5-2.5-.8z"/><path color="#46039f" d="M250.7 246.9l2.5 2.4 1.5-2.1-2.6-2.6z"/><path color="#5b01a5" d="M238.9 240.5l2.6 2 1.5-2.6-2.6-2.1z"/><path color="#6001a6" d="M225.7 239.3l2.6 1.6 1.4-3-2.5-1.7z"/><path color="#20068f" d="M189.3 259.3l2.5 .9 1.5-3.5-2.5-.8z"/><path color="#3e049c" d="M253.2 249.3l2.6 2.6 1.5-2-2.6-2.7z"/><path color="#5e01a6" d="M232.3 239.6l2.6 1.8 1.5-2.9-2.6-1.8z"/><path color="#2a0593" d="M193.3 256.7l2.6 .9 1.5-3.4-2.6-.9z"/><path color="#350498" d="M255.8 251.9l2.6 2.7 1.4-1.9-2.5-2.8z"/><path color="#5b01a5" d="M221.7 241l2.5 1.4 1.5-3.1-2.6-1.5z"/><path color="#2c0594" d="M258.4 254.6l2.6 2.8 1.4-1.7-2.6-3z"/><path color="#130789" d="M263.5 260.2l2.6 3 1.4-1.4-2.6-3.1z"/><path color="#220690" d="M261 257.4l2.5 2.8 1.4-1.5-2.5-3z"/><path color="#5502a4" d="M241.5 242.5l2.6 2.1 1.4-2.5-2.5-2.2z"/><path color="#330597" d="M197.4 254.2l2.5 .9 1.5-3.4-2.5-.9z"/><path color="#5601a4" d="M217.6 242.8l2.6 1.3 1.5-3.1-2.6-1.4z"/><path color="#3c049b" d="M201.4 251.7l2.6 .9 1.5-3.3-2.6-1z"/><path color="#5102a3" d="M213.6 244.8l2.5 1.2 1.5-3.2-2.5-1.2z"/><path color="#44039e" d="M205.5 249.3l2.5 1 1.5-3.3-2.5-1.1z"/><path color="#5c01a6" d="M228.3 240.9l2.5 1.6 1.5-2.9-2.6-1.7z"/><path color="#4b03a1" d="M209.5 247l2.6 1.1 1.5-3.3-2.6-1.1z"/><path color="#5901a5" d="M234.9 241.4l2.6 1.8 1.4-2.7-2.5-2z"/><path color="#5002a2" d="M244.1 244.6l2.6 2.2 1.4-2.4-2.6-2.3z"/><path color="#130789" d="M187.8 262.8l2.5 .8 1.5-3.4-2.5-.9z"/><path color="#5801a4" d="M224.2 242.4l2.6 1.5 1.5-3-2.6-1.6z"/><path color="#20068f" d="M191.8 260.2l2.6 .8 1.5-3.4-2.6-.9z"/><path color="#4903a0" d="M246.7 246.8l2.5 2.3 1.5-2.2-2.6-2.5z"/><path color="#5502a4" d="M237.5 243.2l2.5 1.9 1.5-2.6-2.6-2z"/><path color="#2a0593" d="M195.9 257.6l2.5 .9 1.5-3.4-2.5-.9z"/><path color="#5801a4" d="M230.8 242.5l2.6 1.7 1.5-2.8-2.6-1.8z"/><path color="#5502a4" d="M220.2 244.1l2.5 1.3 1.5-3-2.5-1.4z"/><path color="#43039e" d="M249.2 249.1l2.6 2.4 1.4-2.2-2.5-2.4z"/><path color="#330597" d="M199.9 255.1l2.6 .9 1.5-3.4-2.6-.9z"/><path color="#5002a2" d="M216.1 246l2.6 1.2 1.5-3.1-2.6-1.3z"/><path color="#3c049b" d="M204 252.6l2.5 1 1.5-3.3-2.5-1z"/><path color="#4903a0" d="M212.1 248.1l2.5 1.1 1.5-3.2-2.5-1.2z"/><path color="#43039e" d="M208 250.3l2.6 1 1.5-3.2-2.6-1.1z"/><path color="#3a049a" d="M251.8 251.5l2.6 2.5 1.4-2.1-2.6-2.6z"/><path color="#5002a2" d="M240 245.1l2.6 2.1 1.5-2.6-2.6-2.1z"/><path color="#5601a4" d="M226.8 243.9l2.6 1.5 1.4-2.9-2.5-1.6z"/><path color="#330597" d="M254.4 254l2.6 2.5 1.4-1.9-2.6-2.7z"/><path color="#5502a4" d="M233.4 244.2l2.6 1.7 1.5-2.7-2.6-1.8z"/><path color="#130789" d="M190.3 263.6l2.6 .8 1.5-3.4-2.6-.8z"/><path color="#2a0593" d="M257 256.5l2.5 2.6 1.5-1.7-2.6-2.8z"/><path color="#5102a3" d="M222.7 245.4l2.6 1.5 1.5-3-2.6-1.5z"/><path color="#20068f" d="M259.5 259.1l2.6 2.7 1.4-1.6-2.5-2.8z"/><path color="#4b03a1" d="M242.6 247.2l2.6 2.1 1.5-2.5-2.6-2.2z"/><path color="#20068f" d="M194.4 261l2.5 .8 1.5-3.3-2.5-.9z"/><path color="#130789" d="M262.1 261.8l2.6 2.8 1.4-1.4-2.6-3z"/><path color="#2a0593" d="M198.4 258.5l2.6 .8 1.5-3.3-2.6-.9z"/><path color="#4c02a1" d="M218.7 247.2l2.6 1.3 1.4-3.1-2.5-1.3z"/><path color="#5102a3" d="M229.4 245.4l2.6 1.6 1.4-2.8-2.6-1.7z"/><path color="#5002a2" d="M236 245.9l2.6 1.9 1.4-2.7-2.5-1.9z"/><path color="#330597" d="M202.5 256l2.5 .9 1.5-3.3-2.5-1z"/><path color="#48039f" d="M214.6 249.2l2.6 1.2 1.5-3.2-2.6-1.2z"/><path color="#44039e" d="M245.2 249.3l2.6 2.1 1.4-2.3-2.5-2.3z"/><path color="#3a049a" d="M206.5 253.6l2.6 1 1.5-3.3-2.6-1z"/><path color="#41049d" d="M210.6 251.3l2.6 1.1 1.4-3.2-2.5-1.1z"/><path color="#5002a2" d="M225.3 246.9l2.6 1.4 1.5-2.9-2.6-1.5z"/><path color="#3f049c" d="M247.8 251.4l2.6 2.3 1.4-2.2-2.6-2.4z"/><path color="#4b03a1" d="M238.6 247.8l2.6 1.9 1.4-2.5-2.6-2.1z"/><path color="#130789" d="M192.9 264.4l2.5 .9 1.5-3.5-2.5-.8z"/><path color="#4e02a2" d="M232 247l2.5 1.7 1.5-2.8-2.6-1.7z"/><path color="#4b03a1" d="M221.3 248.5l2.5 1.4 1.5-3-2.6-1.5z"/><path color="#38049a" d="M250.4 253.7l2.5 2.3 1.5-2-2.6-2.5z"/><path color="#20068f" d="M196.9 261.8l2.6 .9 1.5-3.4-2.6-.8z"/><path color="#46039f" d="M217.2 250.4l2.6 1.2 1.5-3.1-2.6-1.3z"/><path color="#2a0593" d="M201 259.3l2.5 .9 1.5-3.3-2.5-.9z"/><path color="#2f0596" d="M252.9 256l2.6 2.4 1.5-1.9-2.6-2.5z"/><path color="#46039f" d="M241.2 249.7l2.5 2 1.5-2.4-2.6-2.1z"/><path color="#310597" d="M205 256.9l2.6 1 1.5-3.3-2.6-1z"/><path color="#41049d" d="M213.2 252.4l2.5 1.1 1.5-3.1-2.6-1.2z"/><path color="#3a049a" d="M209.1 254.6l2.6 1 1.5-3.2-2.6-1.1z"/><path color="#4c02a1" d="M227.9 248.3l2.6 1.5 1.5-2.8-2.6-1.6z"/><path color="#280592" d="M255.5 258.4l2.6 2.5 1.4-1.8-2.5-2.6z"/><path color="#4b03a1" d="M234.5 248.7l2.6 1.7 1.5-2.6-2.6-1.9z"/><path color="#20068f" d="M258.1 260.9l2.6 2.5 1.4-1.6-2.6-2.7z"/><path color="#41049d" d="M243.7 251.7l2.6 2 1.5-2.3-2.6-2.1z"/><path color="#48039f" d="M223.8 249.9l2.6 1.3 1.5-2.9-2.6-1.4z"/><path color="#130789" d="M260.7 263.4l2.6 2.6 1.4-1.4-2.6-2.8z"/><path color="#130789" d="M195.4 265.3l2.6 .8 1.5-3.4-2.6-.9z"/><path color="#44039e" d="M219.8 251.6l2.6 1.3 1.4-3-2.5-1.4z"/><path color="#4903a0" d="M230.5 249.8l2.6 1.6 1.4-2.7-2.5-1.7z"/><path color="#46039f" d="M237.1 250.4l2.6 1.8 1.5-2.5-2.6-1.9z"/><path color="#20068f" d="M199.5 262.7l2.5 .9 1.5-3.4-2.5-.9z"/><path color="#3a049a" d="M246.3 253.7l2.6 2.1 1.5-2.1-2.6-2.3z"/><path color="#3f049c" d="M215.7 253.5l2.6 1.2 1.5-3.1-2.6-1.2z"/><path color="#2a0593" d="M203.5 260.2l2.6 1 1.5-3.3-2.6-1z"/><path color="#38049a" d="M211.7 255.6l2.5 1.1 1.5-3.2-2.5-1.1z"/><path color="#310597" d="M207.6 257.9l2.6 1 1.5-3.3-2.6-1z"/><path color="#46039f" d="M226.4 251.2l2.6 1.5 1.5-2.9-2.6-1.5z"/><path color="#350498" d="M248.9 255.8l2.6 2.2 1.4-2-2.5-2.3z"/><path color="#41049d" d="M239.7 252.2l2.6 1.9 1.4-2.4-2.5-2z"/><path color="#44039e" d="M233.1 251.4l2.5 1.7 1.5-2.7-2.6-1.7z"/><path color="#41049d" d="M222.4 252.9l2.5 1.3 1.5-3-2.6-1.3z"/><path color="#2e0595" d="M251.5 258l2.6 2.3 1.4-1.9-2.6-2.4z"/><path color="#130789" d="M198 266.1l2.5 .8 1.5-3.3-2.5-.9z"/><path color="#3e049c" d="M218.3 254.7l2.6 1.2 1.5-3-2.6-1.3z"/><path color="#3c049b" d="M242.3 254.1l2.6 1.9 1.4-2.3-2.6-2z"/><path color="#20068f" d="M202 263.6l2.6 .8 1.5-3.2-2.6-1z"/><path color="#260591" d="M254.1 260.3l2.6 2.3 1.4-1.7-2.6-2.5z"/><path color="#370499" d="M214.2 256.7l2.6 1.1 1.5-3.1-2.6-1.2z"/><path color="#280592" d="M206.1 261.2l2.6 .9 1.5-3.2-2.6-1z"/><path color="#43039e" d="M229 252.7l2.6 1.5 1.5-2.8-2.6-1.6z"/><path color="#2f0596" d="M210.2 258.9l2.5 1 1.5-3.2-2.5-1.1z"/><path color="#41049d" d="M235.6 253.1l2.6 1.7 1.5-2.6-2.6-1.8z"/><path color="#1d068e" d="M256.7 262.6l2.6 2.4 1.4-1.6-2.6-2.5z"/><path color="#370499" d="M244.9 256l2.6 2 1.4-2.2-2.6-2.1z"/><path color="#3f049c" d="M224.9 254.2l2.6 1.3 1.5-2.8-2.6-1.5z"/><path color="#130789" d="M259.3 265l2.6 2.5 1.4-1.5-2.6-2.6z"/><path color="#3a049a" d="M220.9 255.9l2.5 1.2 1.5-2.9-2.5-1.3z"/><path color="#3e049c" d="M238.2 254.8l2.6 1.7 1.5-2.4-2.6-1.9z"/><path color="#3f049c" d="M231.6 254.2l2.6 1.5 1.4-2.6-2.5-1.7z"/><path color="#310597" d="M247.5 258l2.6 2.1 1.4-2.1-2.6-2.2z"/><path color="#130789" d="M200.5 266.9l2.6 .8 1.5-3.3-2.6-.8z"/><path color="#350498" d="M216.8 257.8l2.6 1.1 1.5-3-2.6-1.2z"/><path color="#1d068e" d="M204.6 264.4l2.6 .9 1.5-3.2-2.6-.9z"/><path color="#2f0596" d="M212.7 259.9l2.6 1 1.5-3.1-2.6-1.1z"/><path color="#280592" d="M208.7 262.1l2.5 .9 1.5-3.1-2.5-1z"/><path color="#3e049c" d="M227.5 255.5l2.6 1.4 1.5-2.7-2.6-1.5z"/><path color="#2c0594" d="M250.1 260.1l2.5 2.1 1.5-1.9-2.6-2.3z"/><path color="#38049a" d="M240.8 256.5l2.6 1.8 1.5-2.3-2.6-1.9z"/><path color="#3c049b" d="M234.2 255.7l2.6 1.6 1.4-2.5-2.6-1.7z"/><path color="#38049a" d="M223.4 257.1l2.6 1.3 1.5-2.9-2.6-1.3z"/><path color="#240691" d="M252.6 262.2l2.6 2.2 1.5-1.8-2.6-2.3z"/><path color="#330597" d="M219.4 258.9l2.6 1.2 1.4-3-2.5-1.2z"/><path color="#330597" d="M243.4 258.3l2.6 1.9 1.5-2.2-2.6-2z"/><path color="#130789" d="M203.1 267.7l2.6 .9 1.5-3.3-2.6-.9z"/><path color="#2e0595" d="M215.3 260.9l2.6 1 1.5-3-2.6-1.1z"/><path color="#3a049a" d="M230.1 256.9l2.6 1.5 1.5-2.7-2.6-1.5z"/><path color="#1b068d" d="M255.2 264.4l2.6 2.2 1.5-1.6-2.6-2.4z"/><path color="#1d068e" d="M207.2 265.3l2.5 .9 1.5-3.2-2.5-.9z"/><path color="#260591" d="M211.2 263l2.6 1 1.5-3.1-2.6-1z"/><path color="#38049a" d="M236.8 257.3l2.6 1.6 1.4-2.4-2.6-1.7z"/><path color="#100788" d="M257.8 266.6l2.6 2.3 1.5-1.4-2.6-2.5z"/><path color="#2e0595" d="M246 260.2l2.6 1.9 1.5-2-2.6-2.1z"/><path color="#370499" d="M226 258.4l2.6 1.3 1.5-2.8-2.6-1.4z"/><path color="#310597" d="M222 260.1l2.5 1.1 1.5-2.8-2.6-1.3z"/><path color="#370499" d="M232.7 258.4l2.6 1.4 1.5-2.5-2.6-1.6z"/><path color="#350498" d="M239.4 258.9l2.5 1.7 1.5-2.3-2.6-1.8z"/><path color="#280592" d="M248.6 262.1l2.6 2 1.4-1.9-2.5-2.1z"/><path color="#2c0594" d="M217.9 261.9l2.6 1.1 1.5-2.9-2.6-1.2z"/><path color="#130789" d="M205.7 268.6l2.5 .8 1.5-3.2-2.5-.9z"/><path color="#260591" d="M213.8 264l2.6 1 1.5-3.1-2.6-1z"/><path color="#1d068e" d="M209.7 266.2l2.6 .9 1.5-3.1-2.6-1z"/><path color="#350498" d="M228.6 259.7l2.6 1.3 1.5-2.6-2.6-1.5z"/><path color="#220690" d="M251.2 264.1l2.6 2 1.4-1.7-2.6-2.2z"/><path color="#2f0596" d="M241.9 260.6l2.6 1.8 1.5-2.2-2.6-1.9z"/><path color="#330597" d="M235.3 259.8l2.6 1.6 1.5-2.5-2.6-1.6z"/><path color="#2f0596" d="M224.5 261.2l2.6 1.3 1.5-2.8-2.6-1.3z"/><path color="#1b068d" d="M253.8 266.1l2.6 2.1 1.4-1.6-2.6-2.2z"/><path color="#2c0594" d="M220.5 263l2.6 1.1 1.4-2.9-2.5-1.1z"/><path color="#2c0594" d="M244.5 262.4l2.6 1.7 1.5-2-2.6-1.9z"/><path color="#310597" d="M231.2 261l2.6 1.4 1.5-2.6-2.6-1.4z"/><path color="#240691" d="M216.4 265l2.6 1 1.5-3-2.6-1.1z"/><path color="#130789" d="M208.2 269.4l2.6 .8 1.5-3.1-2.6-.9z"/><path color="#1d068e" d="M212.3 267.1l2.6 .9 1.5-3-2.6-1z"/><path color="#2f0596" d="M237.9 261.4l2.6 1.5 1.4-2.3-2.5-1.7z"/><path color="#100788" d="M256.4 268.2l2.6 2.1 1.4-1.4-2.6-2.3z"/><path color="#2e0595" d="M227.1 262.5l2.6 1.2 1.5-2.7-2.6-1.3z"/><path color="#260591" d="M247.1 264.1l2.6 1.9 1.5-1.9-2.6-2z"/><path color="#2a0593" d="M223.1 264.1l2.5 1.1 1.5-2.7-2.6-1.3z"/><path color="#2e0595" d="M233.8 262.4l2.6 1.4 1.5-2.4-2.6-1.6z"/><path color="#2c0594" d="M240.5 262.9l2.6 1.6 1.4-2.1-2.6-1.8z"/><path color="#240691" d="M219 266l2.6 1 1.5-2.9-2.6-1.1z"/><path color="#20068f" d="M249.7 266l2.7 1.9 1.4-1.8-2.6-2z"/><path color="#1b068d" d="M214.9 268l2.6 .9 1.5-2.9-2.6-1z"/><path color="#130789" d="M210.8 270.2l2.6 .9 1.5-3.1-2.6-.9z"/><path color="#2c0594" d="M229.7 263.7l2.6 1.3 1.5-2.6-2.6-1.4z"/><path color="#280592" d="M243.1 264.5l2.6 1.7 1.4-2.1-2.6-1.7z"/><path color="#19068c" d="M252.4 267.9l2.6 1.9 1.4-1.6-2.6-2.1z"/><path color="#2c0594" d="M236.4 263.8l2.6 1.5 1.5-2.4-2.6-1.5z"/><path color="#280592" d="M225.6 265.2l2.6 1.2 1.5-2.7-2.6-1.2z"/><path color="#220690" d="M221.6 267l2.6 1 1.4-2.8-2.5-1.1z"/><path color="#100788" d="M255 269.8l2.6 2 1.4-1.5-2.6-2.1z"/><path color="#220690" d="M245.7 266.2l2.6 1.7 1.4-1.9-2.6-1.9z"/><path color="#2a0593" d="M232.3 265l2.6 1.3 1.5-2.5-2.6-1.4z"/><path color="#1b068d" d="M217.5 268.9l2.6 1 1.5-2.9-2.6-1z"/><path color="#100788" d="M213.4 271.1l2.6 .8 1.5-3-2.6-.9z"/><path color="#280592" d="M239 265.3l2.6 1.4 1.5-2.2-2.6-1.6z"/><path color="#260591" d="M228.2 266.4l2.6 1.1 1.5-2.5-2.6-1.3z"/><path color="#1d068e" d="M248.3 267.9l2.6 1.7 1.5-1.7-2.7-1.9z"/><path color="#220690" d="M224.2 268l2.6 1 1.4-2.6-2.6-1.2z"/><path color="#260591" d="M234.9 266.3l2.6 1.3 1.5-2.3-2.6-1.5z"/><path color="#240691" d="M241.6 266.7l2.6 1.6 1.5-2.1-2.6-1.7z"/><path color="#1b068d" d="M220.1 269.9l2.6 .9 1.5-2.8-2.6-1z"/><path color="#16078a" d="M250.9 269.6l2.6 1.8 1.5-1.6-2.6-1.9z"/><path color="#100788" d="M216 271.9l2.6 .8 1.5-2.8-2.6-1z"/><path color="#240691" d="M230.8 267.5l2.6 1.2 1.5-2.4-2.6-1.3z"/><path color="#20068f" d="M244.2 268.3l2.6 1.5 1.5-1.9-2.6-1.7z"/><path color="#240691" d="M237.5 267.6l2.6 1.3 1.5-2.2-2.6-1.4z"/><path color="#100788" d="M253.5 271.4l2.6 1.8 1.5-1.4-2.6-2z"/><path color="#20068f" d="M226.8 269l2.6 1.1 1.4-2.6-2.6-1.1z"/><path color="#19068c" d="M222.7 270.8l2.6 .9 1.5-2.7-2.6-1z"/><path color="#100788" d="M218.6 272.7l2.6 .9 1.5-2.8-2.6-.9z"/><path color="#220690" d="M233.4 268.7l2.7 1.2 1.4-2.3-2.6-1.3z"/><path color="#1b068d" d="M246.8 269.8l2.6 1.6 1.5-1.8-2.6-1.7z"/><path color="#20068f" d="M240.1 268.9l2.7 1.4 1.4-2-2.6-1.6z"/><path color="#1d068e" d="M229.4 270.1l2.6 1.1 1.4-2.5-2.6-1.2z"/><path color="#16078a" d="M249.4 271.4l2.7 1.6 1.4-1.6-2.6-1.8z"/><path color="#19068c" d="M225.3 271.7l2.6 1 1.5-2.6-2.6-1.1z"/><path color="#20068f" d="M236.1 269.9l2.6 1.2 1.4-2.2-2.6-1.3z"/><path color="#1d068e" d="M242.8 270.3l2.6 1.4 1.4-1.9-2.6-1.5z"/><path color="#100788" d="M221.2 273.6l2.6 .8 1.5-2.7-2.6-.9z"/><path color="#100788" d="M252.1 273l2.6 1.7 1.4-1.5-2.6-1.8z"/><path color="#1b068d" d="M232 271.2l2.6 1.1 1.5-2.4-2.7-1.2z"/><path color="#19068c" d="M245.4 271.7l2.6 1.5 1.4-1.8-2.6-1.6z"/><path color="#1d068e" d="M238.7 271.1l2.6 1.3 1.5-2.1-2.7-1.4z"/><path color="#19068c" d="M227.9 272.7l2.6 .9 1.5-2.4-2.6-1.1z"/><path color="#100788" d="M223.8 274.4l2.6 .9 1.5-2.6-2.6-1z"/><path color="#1b068d" d="M234.6 272.3l2.6 1.1 1.5-2.3-2.6-1.2z"/><path color="#130789" d="M248 273.2l2.6 1.5 1.5-1.7-2.7-1.6z"/><path color="#19068c" d="M241.3 272.4l2.6 1.3 1.5-2-2.6-1.4z"/><path color="#16078a" d="M230.5 273.6l2.6 1 1.5-2.3-2.6-1.1z"/><path color="#0d0887" d="M250.6 274.7l2.6 1.5 1.5-1.5-2.6-1.7z"/><path color="#100788" d="M226.4 275.3l2.6 .8 1.5-2.5-2.6-.9z"/><path color="#19068c" d="M237.2 273.4l2.6 1.1 1.5-2.1-2.6-1.3z"/><path color="#16078a" d="M243.9 273.7l2.6 1.3 1.5-1.8-2.6-1.5z"/><path color="#16078a" d="M233.1 274.6l2.6 1 1.5-2.2-2.6-1.1z"/><path color="#16078a" d="M239.8 274.5l2.6 1.1 1.5-1.9-2.6-1.3z"/><path color="#130789" d="M246.5 275l2.7 1.3 1.4-1.6-2.6-1.5z"/><path color="#100788" d="M229 276.1l2.6 .8 1.5-2.3-2.6-1z"/><path color="#130789" d="M235.7 275.6l2.6 1 1.5-2.1-2.6-1.1z"/><path color="#0d0887" d="M249.2 276.3l2.6 1.3 1.4-1.4-2.6-1.5z"/><path color="#130789" d="M242.4 275.6l2.7 1.2 1.4-1.8-2.6-1.3z"/><path color="#0d0887" d="M231.6 276.9l2.6 .9 1.5-2.2-2.6-1z"/><path color="#100788" d="M238.3 276.6l2.7 .9 1.4-1.9-2.6-1.1z"/><path color="#100788" d="M245.1 276.8l2.6 1.1 1.5-1.6-2.7-1.3z"/><path color="#0d0887" d="M234.2 277.8l2.6 .8 1.5-2-2.6-1z"/><path color="#100788" d="M241 277.5l2.6 1 1.5-1.7-2.7-1.2z"/><path color="#0d0887" d="M247.7 277.9l2.6 1.2 1.5-1.5-2.6-1.3z"/><path color="#0d0887" d="M236.8 278.6l2.7 .9 1.5-2-2.7-.9z"/><path color="#0d0887" d="M243.6 278.5l2.6 1.1 1.5-1.7-2.6-1.1z"/><path color="#0d0887" d="M239.5 279.5l2.6 .8 1.5-1.8-2.6-1z"/><path color="#0d0887" d="M246.2 279.6l2.7 1 1.4-1.5-2.6-1.2z"/><path color="#0d0887" d="M242.1 280.3l2.7 .9 1.4-1.6-2.6-1.1z"/><path color="#0d0887" d="M244.8 281.2l2.6 .9 1.5-1.5-2.7-1z"/></g>
   <g id="text_20" transform="translate(.72 0)"><g transform="translate(188.4682 48.9818) scale(.14 -.14)"><use href="#DejaVuSans-3a8" transform="translate(0 .09)"/><use href="#DejaVuSans-6c" transform="translate(79.668 -16.3125) scale(.7)"/><use href="#DejaVuSans-61" transform="translate(99.1162 -16.3125) scale(.7)"/><use href="#DejaVuSans-67" transform="translate(142.0117 -16.3125) scale(.7)"/><use href="#DejaVuSans-2c" transform="translate(186.4453 -16.3125) scale(.7)"/><use href="#DejaVuSans-28" transform="translate(222.334 -16.3125) scale(.7)"/><use href="#DejaVuSans-32" transform="translate(249.6436 -16.3125) scale(.7)"/><use href="#DejaVuSans-2c" transform="translate(294.1797 -16.3125) scale(.7)"/><use href="#DejaVuSans-31" transform="translate(330.0684 -16.3125) scale(.7)"/><use href="#DejaVuSans-29" transform="translate(374.6045 -16.3125) scale(.7)"/></g></g></g><g id="patch_6"><path d="M394.36 308.62L648 308.62 648 54.98 394.36 54.98z" style="fill: #ffffff"/></g><g id="pane3d_4"><g id="patch_7"><path d="M413.51 246.08L497.27 175.87 496.11 74.62 408.34 138.67" style="fill: #f2f2f2; opacity: 0.5; stroke: #f2f2f2; stroke-linejoin: miter"/></g></g><g id="pane3d_5"><g id="patch_8"><path d="M497.27 175.87L631.68 214.94 636.47 110.2 496.11 74.62" style="fill: #e6e6e6; opacity: 0.5; stroke: #e6e6e6; stroke-linejoin: miter"/></g></g><g id="pane3d_6"><g id="patch_9"><path d="M413.51 246.08L555.99 292.61 631.68 214.94 497.27 175.87" style="fill: #ececec; opacity: 0.5; stroke: #ececec; stroke-linejoin: miter"/></g></g><g id="grid3d_4"><g id="Line3DCollection_4"><path d="M422.14 248.9L505.45 178.25 504.63 76.78" style="fill:none;stroke:#b0b0b0; stroke-width: 0.8"/><path d="M452.16 258.7L533.85 186.5 534.25 84.29" style="fill:none;stroke:#b0b0b0; stroke-width: 0.8"/><path d="M482.87 268.73L562.85 194.93 564.52 91.96" style="fill:none;stroke:#b0b0b0; stroke-width: 0.8"/><path d="M514.3 279L592.47 203.54 595.47 99.8" style="fill:none;stroke:#b0b0b0; stroke-width: 0.8"/><path d="M546.46 289.5L622.73 212.34 627.11 107.82" style="fill:none;stroke:#b0b0b0; stroke-width: 0.8"/></g></g><g id="grid3d_5"><g id="Line3DCollection_5"><path d="M414.41 134.24L419.29 241.24 561.23 287.24" style="fill:none;stroke:#b0b0b0; stroke-width: 0.8"/><path d="M434.69 119.44L438.59 225.06 578.72 269.28" style="fill:none;stroke:#b0b0b0; stroke-width: 0.8"/><path d="M454.18 105.22L457.18 209.48 595.53 252.03" style="fill:none;stroke:#b0b0b0; stroke-width: 0.8"/><path d="M472.93 91.54L475.09 194.47 611.69 235.45" style="fill:none;stroke:#b0b0b0; stroke-width: 0.8"/><path d="M490.97 78.37L492.35 180 627.25 219.48" style="fill:none;stroke:#b0b0b0; stroke-width: 0.8"/></g></g><g id="grid3d_6"><g id="Line3DCollection_6"><path d="M631.79 212.42L497.25 173.43 413.39 243.5" style="fill:none;stroke:#b0b0b0; stroke-width: 0.8"/><path d="M632.9 188.32L496.98 150.1 412.2 218.82" style="fill:none;stroke:#b0b0b0; stroke-width: 0.8"/><path d="M634.02 163.71L496.7 126.3 410.99 193.59" style="fill:none;stroke:#b0b0b0; stroke-width: 0.8"/><path d="M635.17 138.59L496.42 102.03 409.75 167.82" style="fill:none;stroke:#b0b0b0; stroke-width: 0.8"/><path d="M636.35 112.94L496.14 77.26 408.48 141.48" style="fill:none;stroke:#b0b0b0; stroke-width: 0.8"/></g></g><g id="axis3d_4"><g id="line2d_21"><path d="M413.51 246.08L555.99 292.61" style="fill:none;stroke:#000000; stroke-width: 0.8; stroke-linecap: square"/></g><g id="xtick_18"><g id="line2d_22"><path d="M422.87 248.28L420.69 250.13" style="fill:none;stroke:#000000; stroke-width: 0.8; stroke-linecap: square"/></g><g id="text_21" transform="translate(-.54 1.26)"><g transform="translate(400.0438 273.7295) scale(.12 -.12)"><use href="#DejaVuSans-2212"/><use href="#DejaVuSans-31" transform="translate(83.79 0)"/><use href="#DejaVuSans-2e" transform="translate(147.41 0)"/><use href="#DejaVuSans-30" transform="translate(179.2 0)"/></g></g></g><g id="xtick_19"><g id="line2d_23"><path d="M452.88 258.07L450.74 259.96" style="fill:none;stroke:#000000; stroke-width: 0.8; stroke-linecap: square"/></g><g id="text_22" transform="translate(-.36 1.26)"><g transform="translate(430.0959 283.752) scale(.12 -.12)"><use href="#DejaVuSans-2212"/><use href="#DejaVuSans-30" transform="translate(83.79 0)"/><use href="#DejaVuSans-2e" transform="translate(147.41 0)"/><use href="#DejaVuSans-35" transform="translate(179.2 0)"/></g></g></g><g id="xtick_20"><g id="line2d_24"><path d="M483.57 268.09L481.48 270.02" style="fill:none;stroke:#000000; stroke-width: 0.8; stroke-linecap: square"/></g><g id="text_23" transform="translate(-.54 1.08)"><g transform="translate(465.8701 294.0061) scale(.12 -.12)"><use href="#DejaVuSans-30"/><use href="#DejaVuSans-2e" transform="translate(63.62 0)"/><use href="#DejaVuSans-30" transform="translate(95.41 0)"/></g></g></g><g id="xtick_21"><g id="line2d_25"><path d="M514.98 278.34L512.93 280.32" style="fill:none;stroke:#000000; stroke-width: 0.8; stroke-linecap: square"/></g><g id="text_24" transform="translate(0 .54)"><g transform="translate(497.3349 304.4998) scale(.12 -.12)"><use href="#DejaVuSans-30"/><use href="#DejaVuSans-2e" transform="translate(63.62 0)"/><use href="#DejaVuSans-35" transform="translate(95.41 0)"/></g></g></g><g id="xtick_22"><g id="line2d_26"><path d="M547.13 288.83L545.13 290.85" style="fill:none;stroke:#000000; stroke-width: 0.8; stroke-linecap: square"/></g><g id="text_25" transform="translate(-.18 .72)"><g transform="translate(529.5438 315.2416) scale(.12 -.12)"><use href="#DejaVuSans-31"/><use href="#DejaVuSans-2e" transform="translate(63.62 0)"/><use href="#DejaVuSans-30" transform="translate(95.41 0)"/></g></g></g><g id="text_26" transform="translate(1.44 -.9)"><g transform="translate(458.2566 305.3656) rotate(-341.913) scale(.14 -.14)"><use href="#DejaVuSans-Oblique-78" transform="translate(0 .31)"/><use href="#DejaVuSans-31" transform="translate(59.1797 -16.0938) scale(.7)"/></g></g></g><g id="axis3d_5"><g id="line2d_27"><path d="M631.68 214.94L555.99 292.61" style="fill:none;stroke:#000000; stroke-width: 0.8; stroke-linecap: square"/></g><g id="xtick_23"><g id="line2d_28"><path d="M560.03 286.85L563.62 288.01" style="fill:none;stroke:#000000; stroke-width: 0.8; stroke-linecap: square"/></g><g id="text_27" transform="translate(-.18 1.26)"><g transform="translate(559.5374 309.7789) scale(.12 -.12)"><use href="#DejaVuSans-2212"/><use href="#DejaVuSans-31" transform="translate(83.79 0)"/><use href="#DejaVuSans-2e" transform="translate(147.41 0)"/><use href="#DejaVuSans-30" transform="translate(179.2 0)"/></g></g></g><g id="xtick_24"><g id="line2d_29"><path d="M577.54 268.91L581.08 270.03" style="fill:none;stroke:#000000; stroke-width: 0.8; stroke-linecap: square"/></g><g id="text_28" transform="translate(-.18 .72)"><g transform="translate(576.7843 291.5478) scale(.12 -.12)"><use href="#DejaVuSans-2212"/><use href="#DejaVuSans-30" transform="translate(83.79 0)"/><use href="#DejaVuSans-2e" transform="translate(147.41 0)"/><use href="#DejaVuSans-35" transform="translate(179.2 0)"/></g></g></g><g id="xtick_25"><g id="line2d_30"><path d="M594.36 251.68L597.86 252.75" style="fill:none;stroke:#000000; stroke-width: 0.8; stroke-linecap: square"/></g><g id="text_29" transform="translate(-.54 .72)"><g transform="translate(598.3844 274.0299) scale(.12 -.12)"><use href="#DejaVuSans-30"/><use href="#DejaVuSans-2e" transform="translate(63.62 0)"/><use href="#DejaVuSans-30" transform="translate(95.41 0)"/></g></g></g><g id="xtick_26"><g id="line2d_31"><path d="M610.55 235.1L613.99 236.13" style="fill:none;stroke:#000000; stroke-width: 0.8; stroke-linecap: square"/></g><g id="text_30" transform="translate(-.36 .9)"><g transform="translate(614.3208 257.1841) scale(.12 -.12)"><use href="#DejaVuSans-30"/><use href="#DejaVuSans-2e" transform="translate(63.62 0)"/><use href="#DejaVuSans-35" transform="translate(95.41 0)"/></g></g></g><g id="xtick_27"><g id="line2d_32"><path d="M626.12 219.15L629.52 220.14" style="fill:none;stroke:#000000; stroke-width: 0.8; stroke-linecap: square"/></g><g id="text_31" transform="translate(-.18 .72)"><g transform="translate(629.6572 240.9725) scale(.12 -.12)"><use href="#DejaVuSans-31"/><use href="#DejaVuSans-2e" transform="translate(63.62 0)"/><use href="#DejaVuSans-30" transform="translate(95.41 0)"/></g></g></g><g id="text_32" transform="translate(-.9 -1.44)"><g transform="translate(620.039 288.1088) rotate(-45.7421) scale(.14 -.14)"><use href="#DejaVuSans-Oblique-78" transform="translate(0 .31)"/><use href="#DejaVuSans-32" transform="translate(59.1797 -16.0938) scale(.7)"/></g></g></g><g id="axis3d_6"><g id="line2d_33"><path d="M631.68 214.94L636.47 110.2" style="fill:none;stroke:#000000; stroke-width: 0.8; stroke-linecap: square"/></g><g id="xtick_28"><g id="line2d_34"><path d="M630.66 212.09L634.05 213.08" style="fill:none;stroke:#000000; stroke-width: 0.8; stroke-linecap: square"/></g><g id="text_33" transform="translate(-.54 1.44)"><g transform="translate(635.488 218.9388) scale(.12 -.12)"><use href="#DejaVuSans-2212"/><use href="#DejaVuSans-31" transform="translate(83.79 0)"/><use href="#DejaVuSans-2e" transform="translate(147.41 0)"/><use href="#DejaVuSans-30" transform="translate(179.2 0)"/></g></g></g><g id="xtick_29"><g id="line2d_35"><path d="M631.75 188L635.18 188.96" style="fill:none;stroke:#000000; stroke-width: 0.8; stroke-linecap: square"/></g><g id="text_34" transform="translate(-.36 .72)"><g transform="translate(636.7757 194.8864) scale(.12 -.12)"><use href="#DejaVuSans-2212"/><use href="#DejaVuSans-30" transform="translate(83.79 0)"/><use href="#DejaVuSans-2e" transform="translate(147.41 0)"/><use href="#DejaVuSans-35" transform="translate(179.2 0)"/></g></g></g><g id="xtick_30"><g id="line2d_36"><path d="M632.87 163.4L636.33 164.34" style="fill:none;stroke:#000000; stroke-width: 0.8; stroke-linecap: square"/></g><g id="text_35" transform="translate(-.54 .72)"><g transform="translate(643.1179 170.3351) scale(.12 -.12)"><use href="#DejaVuSans-30"/><use href="#DejaVuSans-2e" transform="translate(63.62 0)"/><use href="#DejaVuSans-30" transform="translate(95.41 0)"/></g></g></g><g id="xtick_31"><g id="line2d_37"><path d="M634.01 138.29L637.51 139.21" style="fill:none;stroke:#000000; stroke-width: 0.8; stroke-linecap: square"/></g><g id="text_36" transform="translate(-.18 .72)"><g transform="translate(644.4599 145.2692) scale(.12 -.12)"><use href="#DejaVuSans-30"/><use href="#DejaVuSans-2e" transform="translate(63.62 0)"/><use href="#DejaVuSans-35" transform="translate(95.41 0)"/></g></g></g><g id="xtick_32"><g id="line2d_38"><path d="M635.17 112.64L638.71 113.54" style="fill:none;stroke:#000000; stroke-width: 0.8; stroke-linecap: square"/></g><g id="text_37" transform="translate(0 1.08)"><g transform="translate(645.8302 119.6723) scale(.12 -.12)"><use href="#DejaVuSans-31"/><use href="#DejaVuSans-2e" transform="translate(63.62 0)"/><use href="#DejaVuSans-30" transform="translate(95.41 0)"/></g></g></g></g><g id="axes_2">
   <g id="surf1" clip-path="url(#p2cf576eba9)" fill-opacity="0.5" fill="currentColor" stroke="currentColor" stroke-opacity="0.5" stroke-width="0.6"><path color="#4b03a1" d="M490.6 178.5l2.4 0 1.3-4.6-2.3-.1z"/><path color="#5b01a5" d="M492 173.8l2.3 .1 1.4-5.1-2.3-.2z"/><path color="#3e049c" d="M489.3 182.6l2.3-.1 1.4-4-2.4 0z"/><path color="#6e00a8" d="M493.4 168.6l2.3 .2 1.3-5.8-2.3-.3z"/><path color="#310597" d="M487.9 186.1l2.3 0 1.4-3.6-2.3 .1z"/><path color="#8305a7" d="M494.7 162.7l2.3 .3 1.4-6.4-2.3-.4z"/><path color="#4e02a2" d="M493 178.5l2.3 .1 1.4-4.5-2.4-.2z"/><path color="#260591" d="M486.5 189.2l2.3-.1 1.4-3-2.3 0z"/><path color="#5e01a6" d="M494.3 173.9l2.4 .2 1.3-5.1-2.3-.2z"/><path color="#41049d" d="M491.6 182.5l2.3 0 1.4-3.9-2.3-.1z"/><path color="#6f00a8" d="M495.7 168.8l2.3 .2 1.4-5.7-2.4-.3z"/><path color="#350498" d="M490.2 186.1l2.3-.1 1.4-3.5-2.3 0z"/><path color="#9814a0" d="M496.1 156.2l2.3 .4 1.3-7.1-2.3-.5z"/><path color="#1b068d" d="M485.1 191.8l2.3-.2 1.4-2.5-2.3 .1z"/><path color="#8405a7" d="M497 163l2.4 .3 1.3-6.4-2.3-.3z"/><path color="#5102a3" d="M495.3 178.6l2.3 0 1.4-4.4-2.3-.1z"/><path color="#6001a6" d="M496.7 174.1l2.3 .1 1.4-5-2.4-.2z"/><path color="#2a0593" d="M488.8 189.1l2.3-.2 1.4-2.9-2.3 .1z"/><path color="#43039e" d="M493.9 182.5l2.4 0 1.3-3.9-2.3 0z"/><path color="#7201a8" d="M498 169l2.4 .2 1.3-5.6-2.3-.3z"/><path color="#9814a0" d="M498.4 156.6l2.3 .3 1.4-6.9-2.4-.5z"/><path color="#38049a" d="M492.5 186l2.4-.1 1.4-3.4-2.4 0z"/><path color="#130789" d="M483.7 194l2.3-.2 1.4-2.2-2.3 .2z"/><path color="#ad2793" d="M497.4 149l2.3 .5 1.4-7.8-2.4-.5z"/><path color="#8405a7" d="M499.4 163.3l2.3 .3 1.4-6.3-2.4-.4z"/><path color="#220690" d="M487.4 191.6l2.3-.2 1.4-2.5-2.3 .2z"/><path color="#6300a7" d="M499 174.2l2.3 .1 1.4-4.9-2.3-.2z"/><path color="#5302a3" d="M497.6 178.6l2.4 .1 1.3-4.4-2.3-.1z"/><path color="#7401a8" d="M500.4 169.2l2.3 .2 1.4-5.6-2.4-.2z"/><path color="#2e0595" d="M491.1 188.9l2.4-.1 1.4-2.9-2.4 .1z"/><path color="#46039f" d="M496.3 182.5l2.3 0 1.4-3.8-2.4-.1z"/><path color="#99159f" d="M500.7 156.9l2.4 .4 1.3-6.9-2.3-.4z"/><path color="#ad2793" d="M499.7 149.5l2.4 .5 1.3-7.7-2.3-.6z"/><path color="#8606a6" d="M501.7 163.6l2.4 .2 1.3-6.1-2.3-.4z"/><path color="#3c049b" d="M494.9 185.9l2.3-.1 1.4-3.3-2.3 0z"/><path color="#0d0887" d="M482.3 195.7l2.3-.3 1.4-1.6-2.3 .2z"/><path color="#1b068d" d="M486 193.8l2.3-.3 1.4-2.1-2.3 .2z"/><path color="#6400a7" d="M501.3 174.3l2.4 .1 1.4-4.8-2.4-.2z"/><path color="#260591" d="M489.7 191.4l2.4-.2 1.4-2.4-2.4 .1z"/><path color="#c23c81" d="M498.7 141.2l2.4 .5 1.3-8.5-2.4-.7z"/><path color="#5601a4" d="M500 178.7l2.3 0 1.4-4.3-2.4-.1z"/><path color="#7501a8" d="M502.7 169.4l2.4 .2 1.3-5.5-2.3-.3z"/><path color="#4903a0" d="M498.6 182.5l2.3 0 1.4-3.8-2.3 0z"/><path color="#310597" d="M493.5 188.8l2.3-.1 1.4-2.9-2.3 .1z"/><path color="#9a169f" d="M503.1 157.3l2.3 .4 1.4-6.8-2.4-.5z"/><path color="#ae2892" d="M502.1 150l2.3 .4 1.4-7.6-2.4-.5z"/><path color="#8707a6" d="M504.1 163.8l2.3 .3 1.4-6-2.4-.4z"/><path color="#3f049c" d="M497.2 185.8l2.4-.1 1.3-3.2-2.3 0z"/><path color="#c23c81" d="M501.1 141.7l2.3 .6 1.4-8.5-2.4-.6z"/><path color="#16078a" d="M484.6 195.4l2.3-.3 1.4-1.6-2.3 .3z"/><path color="#20068f" d="M488.3 193.5l2.4-.2 1.4-2.1-2.4 .2z"/><path color="#6600a7" d="M503.7 174.4l2.3 .2 1.4-4.8-2.3-.2z"/><path color="#0d0887" d="M480.8 197.1l2.4-.3 1.4-1.4-2.3 .3z"/><path color="#5801a4" d="M502.3 178.7l2.4 .1 1.3-4.2-2.3-.2z"/><path color="#7701a8" d="M505.1 169.6l2.3 .2 1.4-5.4-2.4-.3z"/><path color="#2c0594" d="M492.1 191.2l2.3-.2 1.4-2.3-2.3 .1z"/><path color="#9a169f" d="M505.4 157.7l2.4 .4 1.3-6.8-2.3-.4z"/><path color="#ae2892" d="M504.4 150.4l2.4 .5 1.3-7.5-2.3-.6z"/><path color="#4c02a1" d="M500.9 182.5l2.4 0 1.4-3.7-2.4-.1z"/><path color="#370499" d="M495.8 188.7l2.4-.2 1.4-2.8-2.4 .1z"/><path color="#8808a6" d="M506.4 164.1l2.4 .3 1.3-6-2.3-.3z"/><path color="#c23c81" d="M503.4 142.3l2.4 .5 1.3-8.3-2.3-.7z"/><path color="#43039e" d="M499.6 185.7l2.3 0 1.4-3.2-2.4 0z"/><path color="#6900a8" d="M506 174.6l2.4 .1 1.4-4.7-2.4-.2z"/><path color="#7801a8" d="M507.4 169.8l2.4 .2 1.3-5.3-2.3-.3z"/><path color="#5b01a5" d="M504.7 178.8l2.3 0 1.4-4.1-2.4-.1z"/><path color="#9c179e" d="M507.8 158.1l2.3 .3 1.4-6.6-2.4-.5z"/><path color="#1d068e" d="M486.9 195.1l2.4-.3 1.4-1.5-2.4 .2z"/><path color="#ae2892" d="M506.8 150.9l2.3 .4 1.4-7.4-2.4-.5z"/><path color="#260591" d="M490.7 193.3l2.3-.3 1.4-2-2.3 .2z"/><path color="#130789" d="M483.2 196.8l2.3-.4 1.4-1.3-2.3 .3z"/><path color="#2f0596" d="M494.4 191l2.4-.2 1.4-2.3-2.4 .2z"/><path color="#5002a2" d="M503.3 182.5l2.3 0 1.4-3.7-2.3 0z"/><path color="#0d0887" d="M479.4 198.1l2.3-.4 1.5-.9-2.4 .3z"/><path color="#8a09a5" d="M508.8 164.4l2.3 .3 1.4-5.9-2.4-.4z"/><path color="#c23c81" d="M505.8 142.8l2.3 .6 1.4-8.3-2.4-.6z"/><path color="#3a049a" d="M498.2 188.5l2.3-.1 1.4-2.7-2.3 0z"/><path color="#46039f" d="M501.9 185.7l2.4-.1 1.3-3.1-2.3 0z"/><path color="#6a00a8" d="M508.4 174.7l2.4 .1 1.3-4.6-2.3-.2z"/><path color="#b02991" d="M509.1 151.3l2.4 .5 1.4-7.3-2.4-.6z"/><path color="#9d189d" d="M510.1 158.4l2.4 .4 1.4-6.6-2.4-.4z"/><path color="#7a02a8" d="M509.8 170l2.3 .2 1.4-5.2-2.4-.3z"/><path color="#5e01a6" d="M507 178.8l2.4 .1 1.4-4.1-2.4-.1z"/><path color="#2a0593" d="M493 193l2.3-.3 1.5-1.9-2.4 .2z"/><path color="#220690" d="M489.3 194.8l2.3-.3 1.4-1.5-2.3 .3z"/><path color="#c23c81" d="M508.1 143.4l2.4 .5 1.4-8.1-2.4-.7z"/><path color="#8b0aa5" d="M511.1 164.7l2.4 .3 1.4-5.8-2.4-.4z"/><path color="#330597" d="M496.8 190.8l2.3-.2 1.4-2.2-2.3 .1z"/><path color="#1b068d" d="M485.5 196.4l2.3-.3 1.5-1.3-2.4 .3z"/><path color="#5102a3" d="M505.6 182.5l2.4-.1 1.4-3.5-2.4-.1z"/><path color="#16078a" d="M481.7 197.7l2.3-.4 1.5-.9-2.3 .4z"/><path color="#3e049c" d="M500.5 188.4l2.4-.2 1.4-2.6-2.4 .1z"/><path color="#b02991" d="M511.5 151.8l2.4 .4 1.3-7.2-2.3-.5z"/><path color="#9e199d" d="M512.5 158.8l2.4 .4 1.3-6.5-2.3-.5z"/><path color="#6e00a8" d="M510.8 174.8l2.3 .1 1.4-4.5-2.4-.2z"/><path color="#100788" d="M477.9 198.7l2.4-.4 1.4-.6-2.3 .4z"/><path color="#7d03a8" d="M512.1 170.2l2.4 .2 1.4-5.1-2.4-.3z"/><path color="#4903a0" d="M504.3 185.6l2.3-.1 1.4-3.1-2.4 .1z"/><path color="#c23c81" d="M510.5 143.9l2.4 .6 1.3-8.1-2.3-.6z"/><path color="#6001a6" d="M509.4 178.9l2.3 0 1.4-4-2.3-.1z"/><path color="#8d0ba5" d="M513.5 165l2.4 .3 1.4-5.8-2.4-.3z"/><path color="#2f0596" d="M495.3 192.7l2.4-.2 1.4-1.9-2.3 .2z"/><path color="#280592" d="M491.6 194.5l2.3-.3 1.4-1.5-2.3 .3z"/><path color="#5502a4" d="M508 182.4l2.4 0 1.3-3.5-2.3 0z"/><path color="#38049a" d="M499.1 190.6l2.4-.2 1.4-2.2-2.4 .2z"/><path color="#220690" d="M487.8 196.1l2.4-.4 1.4-1.2-2.3 .3z"/><path color="#b12a90" d="M513.9 152.2l2.3 .5 1.4-7.1-2.4-.6z"/><path color="#41049d" d="M502.9 188.2l2.3-.1 1.4-2.6-2.3 .1z"/><path color="#9e199d" d="M514.9 159.2l2.4 .3 1.3-6.3-2.4-.5z"/><path color="#1d068e" d="M484 197.3l2.4-.4 1.4-.8-2.3 .3z"/><path color="#c23c81" d="M512.9 144.5l2.3 .5 1.4-7.9-2.4-.7z"/><path color="#6f00a8" d="M513.1 174.9l2.4 .2 1.4-4.5-2.4-.2z"/><path color="#7e03a8" d="M514.5 170.4l2.4 .2 1.4-5.1-2.4-.2z"/><path color="#4c02a1" d="M506.6 185.5l2.4-.1 1.4-3-2.4 0z"/><path color="#6300a7" d="M511.7 178.9l2.4 .1 1.4-3.9-2.4-.2z"/><path color="#19068c" d="M480.3 198.3l2.3-.4 1.4-.6-2.3 .4z"/><path color="#8e0ca4" d="M515.9 165.3l2.4 .2 1.3-5.6-2.3-.4z"/><path color="#b12a90" d="M516.2 152.7l2.4 .5 1.4-7.1-2.4-.5z"/><path color="#5801a4" d="M510.4 182.4l2.3 0 1.4-3.4-2.4-.1z"/><path color="#330597" d="M497.7 192.5l2.3-.3 1.5-1.8-2.4 .2z"/><path color="#2e0595" d="M493.9 194.2l2.4-.3 1.4-1.4-2.4 .2z"/><path color="#16078a" d="M476.5 199l2.3-.4 1.5-.3-2.4 .4z"/><path color="#3c049b" d="M501.5 190.4l2.3-.2 1.4-2.1-2.3 .1z"/><path color="#a01a9c" d="M517.3 159.5l2.3 .4 1.4-6.3-2.4-.4z"/><path color="#c33d80" d="M515.2 145l2.4 .6 1.4-7.9-2.4-.6z"/><path color="#280592" d="M490.2 195.7l2.3-.3 1.4-1.2-2.3 .3z"/><path color="#44039e" d="M505.2 188.1l2.4-.2 1.4-2.5-2.4 .1z"/><path color="#8004a8" d="M516.9 170.6l2.4 .2 1.3-5-2.3-.3z"/><path color="#7100a8" d="M515.5 175.1l2.4 .1 1.4-4.4-2.4-.2z"/><path color="#220690" d="M486.4 196.9l2.3-.4 1.5-.8-2.4 .4z"/><path color="#8f0da4" d="M518.3 165.5l2.3 .3 1.4-5.5-2.4-.4z"/><path color="#5002a2" d="M509 185.4l2.3-.1 1.4-2.9-2.3 0z"/><path color="#6400a7" d="M514.1 179l2.4 0 1.4-3.8-2.4-.1z"/><path color="#b12a90" d="M518.6 153.2l2.4 .4 1.4-6.9-2.4-.6z"/><path color="#20068f" d="M482.6 197.9l2.3-.5 1.5-.5-2.4 .4z"/><path color="#c33d80" d="M517.6 145.6l2.4 .5 1.4-7.7-2.4-.7z"/><path color="#a11b9b" d="M519.6 159.9l2.4 .4 1.4-6.2-2.4-.5z"/><path color="#5b01a5" d="M512.7 182.4l2.4 0 1.4-3.4-2.4 0z"/><path color="#38049a" d="M500 192.2l2.4-.2 1.4-1.8-2.3 .2z"/><path color="#3f049c" d="M503.8 190.2l2.4-.2 1.4-2.1-2.4 .2z"/><path color="#310597" d="M496.3 193.9l2.3-.3 1.4-1.4-2.3 .3z"/><path color="#1d068e" d="M478.8 198.6l2.3-.5 1.5-.2-2.3 .4z"/><path color="#8104a7" d="M519.3 170.8l2.3 .2 1.4-4.9-2.4-.3z"/><path color="#7401a8" d="M517.9 175.2l2.4 .1 1.3-4.3-2.3-.2z"/><path color="#4903a0" d="M507.6 187.9l2.4-.1 1.3-2.5-2.3 .1z"/><path color="#2c0594" d="M492.5 195.4l2.4-.4 1.4-1.1-2.4 .3z"/><path color="#910ea3" d="M520.6 165.8l2.4 .3 1.4-5.5-2.4-.3z"/><path color="#6700a8" d="M516.5 179l2.4 .1 1.4-3.8-2.4-.1z"/><path color="#b22b8f" d="M521 153.6l2.4 .5 1.4-6.9-2.4-.5z"/><path color="#5302a3" d="M511.3 185.3l2.4 0 1.4-2.9-2.4 0z"/><path color="#280592" d="M488.7 196.5l2.4-.4 1.4-.7-2.3 .3z"/><path color="#c33d80" d="M520 146.1l2.4 .6 1.4-7.6-2.4-.7z"/><path color="#1d068e" d="M475 199l2.3-.4 1.5 0-2.3 .4z"/><path color="#a11b9b" d="M522 160.3l2.4 .3 1.4-6-2.4-.5z"/><path color="#260591" d="M484.9 197.4l2.4-.4 1.4-.5-2.3 .4z"/><path color="#5e01a6" d="M515.1 182.4l2.4 0 1.4-3.3-2.4-.1z"/><path color="#8305a7" d="M521.6 171l2.4 .2 1.4-4.8-2.4-.3z"/><path color="#3c049b" d="M502.4 192l2.4-.3 1.4-1.7-2.4 .2z"/><path color="#44039e" d="M506.2 190l2.4-.2 1.4-2-2.4 .1z"/><path color="#7501a8" d="M520.3 175.3l2.3 .1 1.4-4.2-2.4-.2z"/><path color="#370499" d="M498.6 193.6l2.4-.3 1.4-1.3-2.4 .2z"/><path color="#920fa3" d="M523 166.1l2.4 .3 1.4-5.4-2.4-.4z"/><path color="#4c02a1" d="M510 187.8l2.3-.1 1.4-2.4-2.4 0z"/><path color="#b22b8f" d="M523.4 154.1l2.4 .5 1.4-6.8-2.4-.6z"/><path color="#240691" d="M481.1 198.1l2.4-.5 1.4-.2-2.3 .5z"/><path color="#c33d80" d="M522.4 146.7l2.4 .5 1.4-7.5-2.4-.6z"/><path color="#310597" d="M494.9 195l2.3-.3 1.4-1.1-2.3 .3z"/><path color="#6a00a8" d="M518.9 179.1l2.4 0 1.3-3.7-2.3-.1z"/><path color="#5601a4" d="M513.7 185.3l2.4-.1 1.4-2.8-2.4 0z"/><path color="#a21d9a" d="M524.4 160.6l2.4 .4 1.4-6-2.4-.4z"/><path color="#2e0595" d="M491.1 196.1l2.3-.4 1.5-.7-2.4 .4z"/><path color="#240691" d="M477.3 198.6l2.4-.5 1.4 0-2.3 .5z"/><path color="#6001a6" d="M517.5 182.4l2.4 0 1.4-3.3-2.4 0z"/><path color="#8405a7" d="M524 171.2l2.4 .2 1.4-4.7-2.4-.3z"/><path color="#2c0594" d="M487.3 197l2.3-.4 1.5-.5-2.4 .4z"/><path color="#9410a2" d="M525.4 166.4l2.4 .3 1.4-5.3-2.4-.4z"/><path color="#7801a8" d="M522.6 175.4l2.4 .2 1.4-4.2-2.4-.2z"/><path color="#b32c8e" d="M525.8 154.6l2.4 .4 1.4-6.6-2.4-.6z"/><path color="#c33d80" d="M524.8 147.2l2.4 .6 1.4-7.4-2.4-.7z"/><path color="#41049d" d="M504.8 191.7l2.3-.2 1.5-1.7-2.4 .2z"/><path color="#48039f" d="M508.6 189.8l2.3-.2 1.4-1.9-2.3 .1z"/><path color="#3c049b" d="M501 193.3l2.4-.3 1.4-1.3-2.4 .3z"/><path color="#5002a2" d="M512.3 187.7l2.4-.2 1.4-2.3-2.4 .1z"/><path color="#a31e9a" d="M526.8 161l2.4 .4 1.4-5.9-2.4-.5z"/><path color="#6c00a8" d="M521.3 179.1l2.4 .1 1.3-3.6-2.4-.2z"/><path color="#260591" d="M473.5 198.8l2.3-.5 1.5 .3-2.3 .4z"/><path color="#2a0593" d="M483.5 197.6l2.3-.4 1.5-.2-2.4 .4z"/><path color="#370499" d="M497.2 194.7l2.4-.4 1.4-1-2.4 .3z"/><path color="#5901a5" d="M516.1 185.2l2.4-.1 1.4-2.7-2.4 0z"/><path color="#330597" d="M493.4 195.7l2.4-.4 1.4-.6-2.3 .3z"/><path color="#8606a6" d="M526.4 171.4l2.4 .2 1.4-4.6-2.4-.3z"/><path color="#6300a7" d="M519.9 182.4l2.4-.1 1.4-3.1-2.4-.1z"/><path color="#c33d80" d="M527.2 147.8l2.4 .6 1.4-7.4-2.4-.6z"/><path color="#b32c8e" d="M528.2 155l2.4 .5 1.4-6.6-2.4-.5z"/><path color="#9511a1" d="M527.8 166.7l2.4 .3 1.4-5.2-2.4-.4z"/><path color="#7a02a8" d="M525 175.6l2.4 .1 1.4-4.1-2.4-.2z"/><path color="#2a0593" d="M479.7 198.1l2.3-.5 1.5 0-2.4 .5z"/><path color="#310597" d="M489.6 196.6l2.4-.5 1.4-.4-2.3 .4z"/><path color="#a31e9a" d="M529.2 161.4l2.4 .4 1.4-5.9-2.4-.4z"/><path color="#4b03a1" d="M510.9 189.6l2.4-.2 1.4-1.9-2.4 .2z"/><path color="#44039e" d="M507.1 191.5l2.4-.3 1.4-1.6-2.3 .2z"/><path color="#5302a3" d="M514.7 187.5l2.4-.1 1.4-2.3-2.4 .1z"/><path color="#6f00a8" d="M523.7 179.2l2.4 .1 1.3-3.6-2.4-.1z"/><path color="#3f049c" d="M503.4 193l2.3-.3 1.4-1.2-2.3 .2z"/><path color="#5c01a6" d="M518.5 185.1l2.4-.1 1.4-2.7-2.4 .1z"/><path color="#3c049b" d="M499.6 194.3l2.3-.3 1.5-1-2.4 .3z"/><path color="#2c0594" d="M475.8 198.3l2.4-.5 1.5 .3-2.4 .5z"/><path color="#2f0596" d="M485.8 197.2l2.4-.5 1.4-.1-2.3 .4z"/><path color="#c33d80" d="M529.6 148.4l2.4 .5 1.4-7.2-2.4-.7z"/><path color="#b42e8d" d="M530.6 155.5l2.4 .4 1.4-6.4-2.4-.6z"/><path color="#8808a6" d="M528.8 171.6l2.4 .2 1.4-4.5-2.4-.3z"/><path color="#9511a1" d="M530.2 167l2.4 .3 1.4-5.2-2.4-.3z"/><path color="#6600a7" d="M522.3 182.3l2.4 0 1.4-3-2.4-.1z"/><path color="#38049a" d="M495.8 195.3l2.3-.3 1.5-.7-2.4 .4z"/><path color="#7b02a8" d="M527.4 175.7l2.4 .1 1.4-4-2.4-.2z"/><path color="#a51f99" d="M531.6 161.8l2.4 .3 1.4-5.7-2.4-.5z"/><path color="#2f0596" d="M482 197.6l2.3-.5 1.5 .1-2.3 .4z"/><path color="#7100a8" d="M526.1 179.3l2.4 0 1.3-3.5-2.4-.1z"/><path color="#5002a2" d="M513.3 189.4l2.4-.2 1.4-1.8-2.4 .1z"/><path color="#370499" d="M492 196.1l2.3-.4 1.5-.4-2.4 .4z"/><path color="#2e0595" d="M472 198.3l2.3-.6 1.5 .6-2.3 .5z"/><path color="#4903a0" d="M509.5 191.2l2.4-.2 1.4-1.6-2.4 .2z"/><path color="#5601a4" d="M517.1 187.4l2.4-.2 1.4-2.2-2.4 .1z"/><path color="#c43e7f" d="M532 148.9l2.4 .6 1.4-7.2-2.4-.6z"/><path color="#44039e" d="M505.7 192.7l2.4-.3 1.4-1.2-2.4 .3z"/><path color="#b42e8d" d="M533 155.9l2.4 .5 1.4-6.4-2.4-.5z"/><path color="#6001a6" d="M520.9 185l2.4-.1 1.4-2.6-2.4 0z"/><path color="#9613a1" d="M532.6 167.3l2.4 .3 1.4-5.1-2.4-.4z"/><path color="#8a09a5" d="M531.2 171.8l2.4 .2 1.4-4.4-2.4-.3z"/><path color="#41049d" d="M501.9 194l2.4-.4 1.4-.9-2.3 .3z"/><path color="#370499" d="M488.2 196.7l2.3-.4 1.5-.2-2.4 .5z"/><path color="#310597" d="M478.2 197.8l2.3-.6 1.5 .4-2.3 .5z"/><path color="#6900a8" d="M524.7 182.3l2.4 0 1.4-3-2.4 0z"/><path color="#7e03a8" d="M529.8 175.8l2.5 .2 1.3-4-2.4-.2z"/><path color="#a62098" d="M534 162.1l2.4 .4 1.4-5.6-2.4-.5z"/><path color="#3e049c" d="M498.1 195l2.4-.4 1.4-.6-2.3 .3z"/><path color="#c43e7f" d="M534.4 149.5l2.4 .5 1.4-7-2.4-.7z"/><path color="#7401a8" d="M528.5 179.3l2.4 .1 1.4-3.4-2.5-.2z"/><path color="#b42e8d" d="M535.4 156.4l2.4 .5 1.4-6.3-2.4-.6z"/><path color="#5302a3" d="M515.7 189.2l2.4-.2 1.4-1.8-2.4 .2z"/><path color="#370499" d="M484.3 197.1l2.4-.5 1.5 .1-2.4 .5z"/><path color="#5901a5" d="M519.5 187.2l2.4-.1 1.4-2.2-2.4 .1z"/><path color="#4c02a1" d="M511.9 191l2.4-.3 1.4-1.5-2.4 .2z"/><path color="#3c049b" d="M494.3 195.7l2.4-.4 1.4-.3-2.3 .3z"/><path color="#330597" d="M474.3 197.7l2.4-.5 1.5 .6-2.4 .5z"/><path color="#9814a0" d="M535 167.6l2.4 .3 1.4-5-2.4-.4z"/><path color="#6300a7" d="M523.3 184.9l2.4-.1 1.4-2.5-2.4 0z"/><path color="#8b0aa5" d="M533.6 172l2.5 .2 1.3-4.3-2.4-.3z"/><path color="#4903a0" d="M508.1 192.4l2.4-.3 1.4-1.1-2.4 .2z"/><path color="#a62098" d="M536.4 162.5l2.4 .4 1.4-5.5-2.4-.5z"/><path color="#8004a8" d="M532.3 176l2.4 .1 1.4-3.9-2.5-.2z"/><path color="#6c00a8" d="M527.1 182.3l2.4 0 1.4-2.9-2.4-.1z"/><path color="#44039e" d="M504.3 193.6l2.4-.3 1.4-.9-2.4 .3z"/><path color="#c43e7f" d="M536.8 150l2.4 .6 1.4-6.9-2.4-.7z"/><path color="#3c049b" d="M490.5 196.3l2.4-.5 1.4-.1-2.3 .4z"/><path color="#370499" d="M480.5 197.2l2.4-.5 1.4 .4-2.3 .5z"/><path color="#b52f8c" d="M537.8 156.9l2.4 .5 1.4-6.2-2.4-.6z"/><path color="#43039e" d="M500.5 194.6l2.4-.4 1.4-.6-2.4 .4z"/><path color="#7701a8" d="M530.9 179.4l2.4 0 1.4-3.3-2.4-.1z"/><path color="#370499" d="M470.5 197.6l2.3-.6 1.5 .7-2.3 .6z"/><path color="#99159f" d="M537.4 167.9l2.5 .2 1.4-4.8-2.5-.4z"/><path color="#5601a4" d="M518.1 189l2.4-.2 1.4-1.7-2.4 .1z"/><path color="#5e01a6" d="M521.9 187.1l2.4-.2 1.4-2.1-2.4 .1z"/><path color="#8d0ba5" d="M536.1 172.2l2.4 .2 1.4-4.3-2.5-.2z"/><path color="#5102a3" d="M514.3 190.7l2.4-.3 1.4-1.4-2.4 .2z"/><path color="#a72197" d="M538.8 162.9l2.5 .4 1.3-5.5-2.4-.4z"/><path color="#3c049b" d="M486.7 196.6l2.4-.5 1.4 .2-2.3 .4z"/><path color="#6600a7" d="M525.7 184.8l2.4 0 1.4-2.5-2.4 0z"/><path color="#41049d" d="M496.7 195.3l2.4-.5 1.4-.2-2.4 .4z"/><path color="#4c02a1" d="M510.5 192.1l2.4-.3 1.4-1.1-2.4 .3z"/><path color="#c43e7f" d="M539.2 150.6l2.4 .6 1.4-6.9-2.4-.6z"/><path color="#3a049a" d="M476.7 197.2l2.3-.5 1.5 .5-2.3 .6z"/><path color="#8104a7" d="M534.7 176.1l2.4 .1 1.4-3.8-2.4-.2z"/><path color="#6e00a8" d="M529.5 182.3l2.4 0 1.4-2.9-2.4 0z"/><path color="#b52f8c" d="M540.2 157.4l2.4 .4 1.4-6.1-2.4-.5z"/><path color="#4903a0" d="M506.7 193.3l2.4-.4 1.4-.8-2.4 .3z"/><path color="#41049d" d="M492.9 195.8l2.3-.5 1.5 0-2.4 .4z"/><path color="#7801a8" d="M533.3 179.4l2.4 .1 1.4-3.3-2.4-.1z"/><path color="#3e049c" d="M482.9 196.7l2.3-.5 1.5 .4-2.4 .5z"/><path color="#9a169f" d="M539.9 168.1l2.4 .3 1.4-4.7-2.4-.4z"/><path color="#48039f" d="M502.9 194.2l2.4-.4 1.4-.5-2.4 .3z"/><path color="#8e0ca4" d="M538.5 172.4l2.4 .3 1.4-4.3-2.4-.3z"/><path color="#a82296" d="M541.3 163.3l2.4 .4 1.4-5.4-2.5-.5z"/><path color="#c43e7f" d="M541.6 151.2l2.4 .5 1.5-6.7-2.5-.7z"/><path color="#6100a7" d="M524.3 186.9l2.4-.1 1.4-2-2.4 0z"/><path color="#5b01a5" d="M520.5 188.8l2.4-.2 1.4-1.7-2.4 .2z"/><path color="#3c049b" d="M472.8 197l2.4-.6 1.5 .8-2.4 .5z"/><path color="#5502a4" d="M516.7 190.4l2.4-.2 1.4-1.4-2.4 .2z"/><path color="#6900a8" d="M528.1 184.8l2.4-.1 1.4-2.4-2.4 0z"/><path color="#8405a7" d="M537.1 176.2l2.4 .1 1.4-3.6-2.4-.3z"/><path color="#b6308b" d="M542.6 157.8l2.5 .5 1.4-6-2.5-.6z"/><path color="#41049d" d="M489.1 196.1l2.3-.5 1.5 .2-2.4 .5z"/><path color="#46039f" d="M499.1 194.8l2.4-.4 1.4-.2-2.4 .4z"/><path color="#5102a3" d="M512.9 191.8l2.4-.3 1.4-1.1-2.4 .3z"/><path color="#7100a8" d="M531.9 182.3l2.4 0 1.4-2.8-2.4-.1z"/><path color="#3f049c" d="M479 196.7l2.4-.6 1.5 .6-2.4 .5z"/><path color="#4e02a2" d="M509.1 192.9l2.4-.4 1.4-.7-2.4 .3z"/><path color="#9c179e" d="M542.3 168.4l2.4 .3 1.4-4.7-2.4-.3z"/><path color="#7b02a8" d="M535.7 179.5l2.4 0 1.4-3.2-2.4-.1z"/><path color="#a82296" d="M543.7 163.7l2.4 .3 1.4-5.2-2.4-.5z"/><path color="#c43e7f" d="M544 151.7l2.5 .6 1.4-6.6-2.4-.7z"/><path color="#8f0da4" d="M540.9 172.7l2.4 .2 1.4-4.2-2.4-.3z"/><path color="#46039f" d="M495.2 195.3l2.4-.5 1.5 0-2.4 .5z"/><path color="#3f049c" d="M469 196.6l2.3-.6 1.5 1-2.3 .6z"/><path color="#43039e" d="M485.2 196.2l2.4-.5 1.5 .4-2.4 .5z"/><path color="#4c02a1" d="M505.3 193.8l2.4-.4 1.4-.5-2.4 .4z"/><path color="#b6308b" d="M545.1 158.3l2.4 .5 1.4-5.9-2.4-.6z"/><path color="#6400a7" d="M526.7 186.8l2.4-.2 1.4-1.9-2.4 .1z"/><path color="#5e01a6" d="M522.9 188.6l2.4-.2 1.4-1.6-2.4 .1z"/><path color="#8606a6" d="M539.5 176.3l2.4 .2 1.4-3.6-2.4-.2z"/><path color="#6c00a8" d="M530.5 184.7l2.4-.1 1.4-2.3-2.4 0z"/><path color="#5901a5" d="M519.1 190.2l2.4-.3 1.4-1.3-2.4 .2z"/><path color="#43039e" d="M475.2 196.4l2.3-.5 1.5 .8-2.3 .5z"/><path color="#7401a8" d="M534.3 182.3l2.5-.1 1.3-2.7-2.4 0z"/><path color="#5502a4" d="M515.3 191.5l2.4-.3 1.4-1-2.4 .2z"/><path color="#46039f" d="M491.4 195.6l2.4-.5 1.4 .2-2.3 .5z"/><path color="#4b03a1" d="M501.5 194.4l2.3-.4 1.5-.2-2.4 .4z"/><path color="#c43e7f" d="M546.5 152.3l2.4 .6 1.4-6.6-2.4-.6z"/><path color="#9d189d" d="M544.7 168.7l2.5 .3 1.3-4.6-2.4-.4z"/><path color="#aa2395" d="M546.1 164l2.4 .4 1.4-5.2-2.4-.4z"/><path color="#7d03a8" d="M538.1 179.5l2.5 .1 1.3-3.1-2.4-.2z"/><path color="#44039e" d="M481.4 196.1l2.3-.5 1.5 .6-2.3 .5z"/><path color="#920fa3" d="M543.3 172.9l2.5 .2 1.4-4.1-2.5-.3z"/><path color="#5302a3" d="M511.5 192.5l2.4-.3 1.4-.7-2.4 .3z"/><path color="#b6308b" d="M547.5 158.8l2.4 .4 1.5-5.8-2.5-.5z"/><path color="#4b03a1" d="M497.6 194.8l2.4-.4 1.5 0-2.4 .4z"/><path color="#8808a6" d="M541.9 176.5l2.5 .1 1.4-3.5-2.5-.2z"/><path color="#46039f" d="M471.3 196l2.4-.5 1.5 .9-2.4 .6z"/><path color="#48039f" d="M487.6 195.7l2.3-.6 1.5 .5-2.3 .5z"/><path color="#6700a8" d="M529.1 186.6l2.5-.1 1.3-1.9-2.4 .1z"/><path color="#5102a3" d="M507.7 193.4l2.4-.4 1.4-.5-2.4 .4z"/><path color="#6100a7" d="M525.3 188.4l2.4-.2 1.4-1.6-2.4 .2z"/><path color="#6f00a8" d="M532.9 184.6l2.5-.1 1.4-2.3-2.5 .1z"/><path color="#5c01a6" d="M521.5 189.9l2.4-.2 1.4-1.3-2.4 .2z"/><path color="#c5407e" d="M548.9 152.9l2.5 .5 1.4-6.4-2.5-.7z"/><path color="#7701a8" d="M536.8 182.2l2.4 0 1.4-2.6-2.5-.1z"/><path color="#9e199d" d="M547.2 169l2.4 .3 1.4-4.5-2.5-.4z"/><path color="#ab2494" d="M548.5 164.4l2.5 .4 1.4-5.1-2.5-.5z"/><path color="#48039f" d="M477.5 195.9l2.4-.6 1.5 .8-2.4 .6z"/><path color="#5901a5" d="M517.7 191.2l2.4-.3 1.4-1-2.4 .3z"/><path color="#8004a8" d="M540.6 179.6l2.4 0 1.4-3-2.5-.1z"/><path color="#5002a2" d="M503.8 194l2.4-.5 1.5-.1-2.4 .4z"/><path color="#4b03a1" d="M493.8 195.1l2.4-.5 1.4 .2-2.4 .5z"/><path color="#9410a2" d="M545.8 173.1l2.4 .2 1.4-4-2.4-.3z"/><path color="#b7318a" d="M549.9 159.2l2.5 .5 1.4-5.7-2.4-.6z"/><path color="#4b03a1" d="M483.7 195.6l2.4-.6 1.5 .7-2.4 .5z"/><path color="#5601a4" d="M513.9 192.2l2.4-.4 1.4-.6-2.4 .3z"/><path color="#4b03a1" d="M467.4 195.5l2.4-.6 1.5 1.1-2.3 .6z"/><path color="#8a09a5" d="M544.4 176.6l2.4 .1 1.4-3.4-2.4-.2z"/><path color="#c5407e" d="M551.4 153.4l2.4 .6 1.4-6.3-2.4-.7z"/><path color="#6a00a8" d="M531.6 186.5l2.4-.1 1.4-1.9-2.5 .1z"/><path color="#5002a2" d="M500 194.4l2.4-.5 1.4 .1-2.3 .4z"/><path color="#7201a8" d="M535.4 184.5l2.4-.1 1.4-2.2-2.4 0z"/><path color="#6600a7" d="M527.7 188.2l2.5-.2 1.4-1.5-2.5 .1z"/><path color="#ab2494" d="M551 164.8l2.4 .4 1.4-5-2.4-.5z"/><path color="#5502a4" d="M510.1 193l2.4-.4 1.4-.4-2.4 .3z"/><path color="#4b03a1" d="M473.7 195.5l2.3-.6 1.5 1-2.3 .5z"/><path color="#a01a9c" d="M549.6 169.3l2.4 .3 1.4-4.4-2.4-.4z"/><path color="#4c02a1" d="M489.9 195.1l2.4-.5 1.5 .5-2.4 .5z"/><path color="#7a02a8" d="M539.2 182.2l2.4 0 1.4-2.6-2.4 0z"/><path color="#6100a7" d="M523.9 189.7l2.4-.3 1.4-1.2-2.4 .2z"/><path color="#b7318a" d="M552.4 159.7l2.4 .5 1.4-5.6-2.4-.6z"/><path color="#9511a1" d="M548.2 173.3l2.5 .2 1.3-3.9-2.4-.3z"/><path color="#8305a7" d="M543 179.6l2.4 .1 1.4-3-2.4-.1z"/><path color="#5e01a6" d="M520.1 190.9l2.4-.3 1.4-.9-2.4 .2z"/><path color="#4c02a1" d="M479.9 195.3l2.3-.6 1.5 .9-2.3 .5z"/><path color="#5502a4" d="M506.2 193.5l2.4-.4 1.5-.1-2.4 .4z"/><path color="#5102a3" d="M496.2 194.6l2.4-.5 1.4 .3-2.4 .4z"/><path color="#c5407e" d="M553.8 154l2.4 .6 1.5-6.2-2.5-.7z"/><path color="#8b0aa5" d="M546.8 176.7l2.5 .2 1.4-3.4-2.5-.2z"/><path color="#5b01a5" d="M516.3 191.8l2.4-.3 1.4-.6-2.4 .3z"/><path color="#5002a2" d="M486.1 195l2.4-.5 1.4 .6-2.3 .6z"/><path color="#ac2694" d="M553.4 165.2l2.5 .4 1.4-4.9-2.5-.5z"/><path color="#a11b9b" d="M552 169.6l2.5 .3 1.4-4.3-2.5-.4z"/><path color="#6e00a8" d="M534 186.4l2.4-.2 1.4-1.8-2.4 .1z"/><path color="#5002a2" d="M469.8 194.9l2.3-.6 1.6 1.2-2.4 .5z"/><path color="#7501a8" d="M537.8 184.4l2.4-.1 1.4-2.1-2.4 0z"/><path color="#b83289" d="M554.8 160.2l2.5 .5 1.4-5.5-2.5-.6z"/><path color="#6900a8" d="M530.2 188l2.4-.2 1.4-1.4-2.4 .1z"/><path color="#7d03a8" d="M541.6 182.2l2.5 0 1.3-2.5-2.4-.1z"/><path color="#5502a4" d="M502.4 193.9l2.4-.5 1.4 .1-2.4 .5z"/><path color="#5901a5" d="M512.5 192.6l2.4-.4 1.4-.4-2.4 .4z"/><path color="#9613a1" d="M550.7 173.5l2.4 .2 1.4-3.8-2.5-.3z"/><path color="#6400a7" d="M526.3 189.4l2.5-.3 1.4-1.1-2.5 .2z"/><path color="#5302a3" d="M492.3 194.6l2.4-.5 1.5 .5-2.4 .5z"/><path color="#5102a3" d="M476 194.9l2.4-.6 1.5 1-2.4 .6z"/><path color="#8405a7" d="M545.4 179.7l2.5 0 1.4-2.8-2.5-.2z"/><path color="#c5407e" d="M556.2 154.6l2.5 .6 1.4-6.2-2.4-.6z"/><path color="#6100a7" d="M522.5 190.6l2.4-.4 1.4-.8-2.4 .3z"/><path color="#5302a3" d="M482.2 194.7l2.4-.5 1.5 .8-2.4 .6z"/><path color="#8e0ca4" d="M549.3 176.9l2.4 .1 1.4-3.3-2.4-.2z"/><path color="#5901a5" d="M508.6 193.1l2.4-.4 1.5-.1-2.4 .4z"/><path color="#ad2793" d="M555.9 165.6l2.4 .3 1.4-4.8-2.4-.4z"/><path color="#5601a4" d="M498.6 194.1l2.3-.5 1.5 .3-2.4 .5z"/><path color="#a21d9a" d="M554.5 169.9l2.5 .3 1.3-4.3-2.4-.3z"/><path color="#b83289" d="M557.3 160.7l2.4 .4 1.5-5.4-2.5-.5z"/><path color="#6001a6" d="M518.7 191.5l2.4-.4 1.4-.5-2.4 .3z"/><path color="#5502a4" d="M465.9 194.3l2.3-.6 1.6 1.2-2.4 .6z"/><path color="#7801a8" d="M540.2 184.3l2.5 0 1.4-2.1-2.5 0z"/><path color="#7201a8" d="M536.4 186.2l2.5-.1 1.3-1.8-2.4 .1z"/><path color="#5502a4" d="M488.5 194.5l2.3-.6 1.5 .7-2.4 .5z"/><path color="#7e03a8" d="M544.1 182.2l2.4 0 1.4-2.5-2.5 0z"/><path color="#9814a0" d="M553.1 173.7l2.5 .2 1.4-3.7-2.5-.3z"/><path color="#6c00a8" d="M532.6 187.8l2.4-.2 1.4-1.4-2.4 .2z"/><path color="#c5407e" d="M558.7 155.2l2.5 .5 1.4-6-2.5-.7z"/><path color="#5502a4" d="M472.1 194.3l2.4-.6 1.5 1.2-2.3 .6z"/><path color="#8707a6" d="M547.9 179.7l2.4 .1 1.4-2.8-2.4-.1z"/><path color="#5901a5" d="M504.8 193.4l2.4-.5 1.4 .2-2.4 .4z"/><path color="#6900a8" d="M528.8 189.1l2.4-.2 1.4-1.1-2.4 .2z"/><path color="#5e01a6" d="M514.9 192.2l2.4-.4 1.4-.3-2.4 .3z"/><path color="#5801a4" d="M494.7 194.1l2.4-.6 1.5 .6-2.4 .5z"/><path color="#5601a4" d="M478.4 194.3l2.3-.6 1.5 1-2.3 .6z"/><path color="#ad2793" d="M558.3 165.9l2.5 .4 1.4-4.7-2.5-.5z"/><path color="#8f0da4" d="M551.7 177l2.5 .1 1.4-3.2-2.5-.2z"/><path color="#6600a7" d="M524.9 190.2l2.5-.3 1.4-.8-2.5 .3z"/><path color="#b83289" d="M559.7 161.1l2.5 .5 1.4-5.3-2.4-.6z"/><path color="#a31e9a" d="M557 170.2l2.4 .3 1.4-4.2-2.5-.4z"/><path color="#5801a4" d="M484.6 194.2l2.4-.6 1.5 .9-2.4 .5z"/><path color="#5e01a6" d="M511 192.7l2.4-.5 1.5 0-2.4 .4z"/><path color="#c5407e" d="M561.2 155.7l2.4 .6 1.4-5.9-2.4-.7z"/><path color="#5b01a5" d="M500.9 193.6l2.4-.5 1.5 .3-2.4 .5z"/><path color="#6400a7" d="M521.1 191.1l2.4-.4 1.4-.5-2.4 .4z"/><path color="#7b02a8" d="M542.7 184.3l2.4-.1 1.4-2-2.4 0z"/><path color="#99159f" d="M555.6 173.9l2.4 .2 1.4-3.6-2.4-.3z"/><path color="#7501a8" d="M538.9 186.1l2.4-.2 1.4-1.6-2.5 0z"/><path color="#8104a7" d="M546.5 182.2l2.5 0 1.3-2.4-2.4-.1z"/><path color="#5901a5" d="M468.2 193.7l2.4-.6 1.5 1.2-2.3 .6z"/><path color="#7100a8" d="M535 187.6l2.5-.2 1.4-1.3-2.5 .1z"/><path color="#5b01a5" d="M490.8 193.9l2.4-.5 1.5 .7-2.4 .5z"/><path color="#8808a6" d="M550.3 179.8l2.5 .1 1.4-2.8-2.5-.1z"/><path color="#ae2892" d="M560.8 166.3l2.5 .4 1.4-4.6-2.5-.5z"/><path color="#5b01a5" d="M474.5 193.7l2.3-.6 1.6 1.2-2.4 .6z"/><path color="#6c00a8" d="M531.2 188.9l2.4-.3 1.4-1-2.4 .2z"/><path color="#ba3388" d="M562.2 161.6l2.5 .5 1.4-5.2-2.5-.6z"/><path color="#5e01a6" d="M507.2 192.9l2.4-.4 1.4 .2-2.4 .4z"/><path color="#6300a7" d="M517.3 191.8l2.4-.4 1.4-.3-2.4 .4z"/><path color="#920fa3" d="M554.2 177.1l2.4 .2 1.4-3.2-2.4-.2z"/><path color="#a51f99" d="M559.4 170.5l2.5 .3 1.4-4.1-2.5-.4z"/><path color="#5c01a6" d="M497.1 193.5l2.4-.5 1.4 .6-2.3 .5z"/><path color="#c5407e" d="M563.6 156.3l2.5 .6 1.4-5.8-2.5-.7z"/><path color="#5c01a6" d="M480.7 193.7l2.4-.6 1.5 1.1-2.4 .5z"/><path color="#6a00a8" d="M527.4 189.9l2.4-.3 1.4-.7-2.4 .2z"/><path color="#9c179e" d="M558 174.1l2.5 .2 1.4-3.5-2.5-.3z"/><path color="#6300a7" d="M513.4 192.2l2.5-.4 1.4 0-2.4 .4z"/><path color="#7e03a8" d="M545.1 184.2l2.5-.1 1.4-1.9-2.5 0z"/><path color="#5e01a6" d="M487 193.6l2.4-.6 1.4 .9-2.3 .6z"/><path color="#8405a7" d="M549 182.2l2.4-.1 1.4-2.2-2.5-.1z"/><path color="#7801a8" d="M541.3 185.9l2.5-.1 1.3-1.6-2.4 .1z"/><path color="#6001a6" d="M503.3 193.1l2.4-.5 1.5 .3-2.4 .5z"/><path color="#6900a8" d="M523.5 190.7l2.5-.3 1.4-.5-2.5 .3z"/><path color="#6001a6" d="M464.3 192.9l2.4-.6 1.5 1.4-2.3 .6z"/><path color="#8b0aa5" d="M552.8 179.9l2.5 0 1.3-2.6-2.4-.2z"/><path color="#b02991" d="M563.3 166.7l2.4 .4 1.4-4.5-2.4-.5z"/><path color="#ba3388" d="M564.7 162.1l2.4 .5 1.4-5.1-2.4-.6z"/><path color="#7401a8" d="M537.5 187.4l2.4-.2 1.4-1.3-2.4 .2z"/><path color="#6001a6" d="M470.6 193.1l2.3-.6 1.6 1.2-2.4 .6z"/><path color="#6001a6" d="M493.2 193.4l2.4-.6 1.5 .7-2.4 .6z"/><path color="#a62098" d="M561.9 170.8l2.5 .3 1.3-4-2.4-.4z"/><path color="#c6417d" d="M566.1 156.9l2.4 .6 1.5-5.8-2.5-.6z"/><path color="#9410a2" d="M556.6 177.3l2.5 .1 1.4-3.1-2.5-.2z"/><path color="#7100a8" d="M533.6 188.6l2.5-.2 1.4-1-2.5 .2z"/><path color="#6700a8" d="M519.7 191.4l2.4-.4 1.4-.3-2.4 .4z"/><path color="#6400a7" d="M509.6 192.5l2.4-.5 1.4 .2-2.4 .5z"/><path color="#6001a6" d="M476.8 193.1l2.4-.5 1.5 1.1-2.3 .6z"/><path color="#9d189d" d="M560.5 174.3l2.5 .3 1.4-3.5-2.5-.3z"/><path color="#6300a7" d="M499.5 193l2.4-.5 1.4 .6-2.4 .5z"/><path color="#6e00a8" d="M529.8 189.6l2.5-.3 1.3-.7-2.4 .3z"/><path color="#6100a7" d="M483.1 193.1l2.4-.6 1.5 1.1-2.4 .6z"/><path color="#bb3488" d="M567.1 162.6l2.5 .4 1.4-5-2.5-.5z"/><path color="#8104a7" d="M547.6 184.1l2.5-.1 1.3-1.9-2.4 .1z"/><path color="#8707a6" d="M551.4 182.1l2.5 0 1.4-2.2-2.5 0z"/><path color="#b02991" d="M565.7 167.1l2.5 .4 1.4-4.5-2.5-.4z"/><path color="#7b02a8" d="M543.8 185.8l2.4-.2 1.4-1.5-2.5 .1z"/><path color="#6700a8" d="M515.9 191.8l2.4-.5 1.4 .1-2.4 .4z"/><path color="#8e0ca4" d="M555.3 179.9l2.4 .1 1.4-2.6-2.5-.1z"/><path color="#c6417d" d="M568.5 157.5l2.5 .5 1.4-5.6-2.4-.7z"/><path color="#6300a7" d="M489.4 193l2.3-.6 1.5 1-2.4 .5z"/><path color="#6c00a8" d="M526 190.4l2.4-.4 1.4-.4-2.4 .3z"/><path color="#6400a7" d="M505.7 192.6l2.5-.6 1.4 .5-2.4 .4z"/><path color="#a62098" d="M564.4 171.1l2.4 .3 1.4-3.9-2.5-.4z"/><path color="#7701a8" d="M539.9 187.2l2.5-.2 1.4-1.2-2.5 .1z"/><path color="#6400a7" d="M466.7 192.3l2.3-.6 1.6 1.4-2.4 .6z"/><path color="#9511a1" d="M559.1 177.4l2.5 .1 1.4-2.9-2.5-.3z"/><path color="#6400a7" d="M472.9 192.5l2.4-.6 1.5 1.2-2.3 .6z"/><path color="#7401a8" d="M536.1 188.4l2.4-.3 1.4-.9-2.4 .2z"/><path color="#6400a7" d="M495.6 192.8l2.4-.6 1.5 .8-2.4 .5z"/><path color="#9e199d" d="M563 174.6l2.4 .2 1.4-3.4-2.4-.3z"/><path color="#6c00a8" d="M522.1 191l2.5-.5 1.4-.1-2.5 .3z"/><path color="#6900a8" d="M512 192l2.4-.5 1.5 .3-2.5 .4z"/><path color="#6600a7" d="M479.2 192.6l2.4-.6 1.5 1.1-2.4 .6z"/><path color="#bb3488" d="M569.6 163l2.5 .5 1.4-4.9-2.5-.6z"/><path color="#b12a90" d="M568.2 167.5l2.5 .4 1.4-4.4-2.5-.5z"/><path color="#7201a8" d="M532.3 189.3l2.4-.3 1.4-.6-2.5 .2z"/><path color="#c6417d" d="M571 158l2.5 .6 1.4-5.5-2.5-.7z"/><path color="#6700a8" d="M501.9 192.5l2.4-.6 1.4 .7-2.4 .5z"/><path color="#8a09a5" d="M553.9 182.1l2.5 0 1.3-2.1-2.4-.1z"/><path color="#8405a7" d="M550.1 184l2.4-.1 1.4-1.8-2.5 0z"/><path color="#6700a8" d="M485.5 192.5l2.4-.5 1.5 1-2.4 .6z"/><path color="#8f0da4" d="M557.7 180l2.5 0 1.4-2.5-2.5-.1z"/><path color="#7e03a8" d="M546.2 185.6l2.5-.1 1.4-1.5-2.5 .1z"/><path color="#a72197" d="M566.8 171.4l2.5 .3 1.4-3.8-2.5-.4z"/><path color="#6c00a8" d="M518.3 191.3l2.4-.4 1.4 .1-2.4 .4z"/><path color="#9814a0" d="M561.6 177.5l2.5 .2 1.3-2.9-2.4-.2z"/><path color="#7100a8" d="M528.4 190l2.5-.3 1.4-.4-2.5 .3z"/><path color="#7b02a8" d="M542.4 187l2.4-.2 1.4-1.2-2.4 .2z"/><path color="#6a00a8" d="M462.8 191.4l2.3-.6 1.6 1.5-2.4 .6z"/><path color="#6700a8" d="M491.7 192.4l2.4-.5 1.5 .9-2.4 .6z"/><path color="#6a00a8" d="M508.2 192l2.4-.5 1.4 .5-2.4 .5z"/><path color="#6a00a8" d="M469 191.7l2.4-.6 1.5 1.4-2.3 .6z"/><path color="#a01a9c" d="M565.4 174.8l2.5 .2 1.4-3.3-2.5-.3z"/><path color="#bc3587" d="M572.1 163.5l2.5 .5 1.4-4.8-2.5-.6z"/><path color="#7801a8" d="M538.5 188.1l2.5-.3 1.4-.8-2.5 .2z"/><path color="#b22b8f" d="M570.7 167.9l2.5 .4 1.4-4.3-2.5-.5z"/><path color="#c6417d" d="M573.5 158.6l2.5 .6 1.4-5.4-2.5-.7z"/><path color="#6a00a8" d="M475.3 191.9l2.4-.6 1.5 1.3-2.4 .5z"/><path color="#6a00a8" d="M498 192.2l2.4-.5 1.5 .8-2.4 .5z"/><path color="#7100a8" d="M524.6 190.5l2.4-.4 1.4-.1-2.4 .4z"/><path color="#6e00a8" d="M514.4 191.5l2.5-.5 1.4 .3-2.4 .5z"/><path color="#8b0aa5" d="M556.4 182.1l2.5 0 1.3-2.1-2.5 0z"/><path color="#6a00a8" d="M481.6 192l2.4-.6 1.5 1.1-2.4 .6z"/><path color="#7701a8" d="M534.7 189l2.5-.3 1.3-.6-2.4 .3z"/><path color="#a82296" d="M569.3 171.7l2.5 .3 1.4-3.7-2.5-.4z"/><path color="#8707a6" d="M552.5 183.9l2.5-.1 1.4-1.7-2.5 0z"/><path color="#920fa3" d="M560.2 180l2.5 .1 1.4-2.4-2.5-.2z"/><path color="#6c00a8" d="M504.3 191.9l2.4-.5 1.5 .6-2.5 .6z"/><path color="#8305a7" d="M548.7 185.5l2.5-.2 1.3-1.4-2.4 .1z"/><path color="#99159f" d="M564.1 177.7l2.5 .1 1.3-2.8-2.5-.2z"/><path color="#6c00a8" d="M487.9 192l2.3-.6 1.5 1-2.3 .6z"/><path color="#7e03a8" d="M544.8 186.8l2.5-.3 1.4-1-2.5 .1z"/><path color="#bc3587" d="M574.6 164l2.5 .5 1.4-4.7-2.5-.6z"/><path color="#7100a8" d="M520.7 190.9l2.5-.5 1.4 .1-2.5 .5z"/><path color="#7501a8" d="M530.9 189.7l2.4-.4 1.4-.3-2.4 .3z"/><path color="#c6417d" d="M576 159.2l2.5 .6 1.4-5.3-2.5-.7z"/><path color="#a11b9b" d="M567.9 175l2.5 .2 1.4-3.2-2.5-.3z"/><path color="#b22b8f" d="M573.2 168.3l2.5 .4 1.4-4.2-2.5-.5z"/><path color="#6f00a8" d="M465.1 190.8l2.4-.6 1.5 1.5-2.3 .6z"/><path color="#6f00a8" d="M510.6 191.5l2.4-.5 1.4 .5-2.4 .5z"/><path color="#6e00a8" d="M494.1 191.9l2.4-.6 1.5 .9-2.4 .6z"/><path color="#7b02a8" d="M541 187.8l2.5-.2 1.3-.8-2.4 .2z"/><path color="#6f00a8" d="M471.4 191.1l2.4-.6 1.5 1.4-2.4 .6z"/><path color="#aa2395" d="M571.8 172l2.5 .3 1.4-3.6-2.5-.4z"/><path color="#6f00a8" d="M477.7 191.3l2.4-.7 1.5 1.4-2.4 .6z"/><path color="#6f00a8" d="M500.4 191.7l2.4-.6 1.5 .8-2.4 .6z"/><path color="#7501a8" d="M527 190.1l2.5-.4 1.4 0-2.5 .3z"/><path color="#8e0ca4" d="M558.9 182.1l2.4 0 1.4-2-2.5-.1z"/><path color="#9410a2" d="M562.7 180.1l2.5 0 1.4-2.3-2.5-.1z"/><path color="#8a09a5" d="M555 183.8l2.5-.1 1.4-1.6-2.5 0z"/><path color="#7201a8" d="M516.9 191l2.4-.5 1.4 .4-2.4 .4z"/><path color="#7a02a8" d="M537.2 188.7l2.4-.4 1.4-.5-2.5 .3z"/><path color="#9c179e" d="M566.6 177.8l2.5 .1 1.3-2.7-2.5-.2z"/><path color="#8606a6" d="M551.2 185.3l2.4-.1 1.4-1.4-2.5 .1z"/><path color="#bc3587" d="M577.1 164.5l2.5 .5 1.4-4.6-2.5-.6z"/><path color="#7100a8" d="M484 191.4l2.4-.6 1.5 1.2-2.4 .5z"/><path color="#c6417d" d="M578.5 159.8l2.5 .6 1.4-5.3-2.5-.6z"/><path color="#7100a8" d="M506.7 191.4l2.4-.5 1.5 .6-2.4 .5z"/><path color="#b32c8e" d="M575.7 168.7l2.5 .3 1.4-4-2.5-.5z"/><path color="#a21d9a" d="M570.4 175.2l2.5 .2 1.4-3.1-2.5-.3z"/><path color="#8305a7" d="M547.3 186.5l2.5-.2 1.4-1-2.5 .2z"/><path color="#7100a8" d="M490.2 191.4l2.4-.6 1.5 1.1-2.4 .5z"/><path color="#7a02a8" d="M533.3 189.3l2.5-.4 1.4-.2-2.5 .3z"/><path color="#7501a8" d="M523.2 190.4l2.4-.4 1.4 .1-2.4 .4z"/><path color="#7501a8" d="M461.2 189.8l2.3-.6 1.6 1.6-2.3 .6z"/><path color="#ab2494" d="M574.3 172.3l2.5 .3 1.4-3.6-2.5-.3z"/><path color="#7501a8" d="M467.5 190.2l2.3-.6 1.6 1.5-2.4 .6z"/><path color="#7401a8" d="M513 191l2.4-.5 1.5 .5-2.5 .5z"/><path color="#8004a8" d="M543.5 187.6l2.4-.3 1.4-.8-2.5 .3z"/><path color="#7201a8" d="M496.5 191.3l2.4-.6 1.5 1-2.4 .5z"/><path color="#7501a8" d="M473.8 190.5l2.3-.7 1.6 1.5-2.4 .6z"/><path color="#910ea3" d="M561.3 182.1l2.5 0 1.4-2-2.5 0z"/><path color="#9613a1" d="M565.2 180.1l2.5 .1 1.4-2.3-2.5-.1z"/><path color="#c6417d" d="M581 160.4l2.5 .5 1.4-5.1-2.5-.7z"/><path color="#bd3786" d="M579.6 165l2.5 .5 1.4-4.6-2.5-.5z"/><path color="#8d0ba5" d="M557.5 183.7l2.5 0 1.3-1.6-2.4 0z"/><path color="#9d189d" d="M569.1 177.9l2.5 .2 1.3-2.7-2.5-.2z"/><path color="#7a02a8" d="M529.5 189.7l2.4-.4 1.4 0-2.4 .4z"/><path color="#7401a8" d="M502.8 191.1l2.5-.5 1.4 .8-2.4 .5z"/><path color="#7501a8" d="M480.1 190.6l2.3-.6 1.6 1.4-2.4 .6z"/><path color="#7e03a8" d="M539.6 188.3l2.5-.3 1.4-.4-2.5 .2z"/><path color="#b42e8d" d="M578.2 169l2.5 .4 1.4-3.9-2.5-.5z"/><path color="#7701a8" d="M519.3 190.5l2.4-.4 1.5 .3-2.5 .5z"/><path color="#8808a6" d="M553.6 185.2l2.5-.2 1.4-1.3-2.5 .1z"/><path color="#a51f99" d="M572.9 175.4l2.5 .2 1.4-3-2.5-.3z"/><path color="#7501a8" d="M486.4 190.8l2.3-.7 1.5 1.3-2.3 .6z"/><path color="#8606a6" d="M549.8 186.3l2.5-.2 1.3-.9-2.4 .1z"/><path color="#7701a8" d="M509.1 190.9l2.5-.6 1.4 .7-2.4 .5z"/><path color="#ac2694" d="M576.8 172.6l2.5 .3 1.4-3.5-2.5-.4z"/><path color="#7e03a8" d="M535.8 188.9l2.4-.3 1.4-.3-2.4 .4z"/><path color="#7701a8" d="M492.6 190.8l2.5-.6 1.4 1.1-2.4 .6z"/><path color="#7a02a8" d="M525.6 190l2.5-.5 1.4 .2-2.5 .4z"/><path color="#c6417d" d="M583.5 160.9l2.5 .6 1.4-5-2.5-.7z"/><path color="#bd3786" d="M582.1 165.5l2.5 .4 1.4-4.4-2.5-.6z"/><path color="#7b02a8" d="M463.5 189.2l2.4-.6 1.6 1.6-2.4 .6z"/><path color="#8305a7" d="M545.9 187.3l2.5-.3 1.4-.7-2.5 .2z"/><path color="#99159f" d="M567.7 180.2l2.5 .1 1.4-2.2-2.5-.2z"/><path color="#7801a8" d="M515.4 190.5l2.5-.5 1.4 .5-2.4 .5z"/><path color="#9410a2" d="M563.8 182.1l2.5-.1 1.4-1.8-2.5-.1z"/><path color="#7a02a8" d="M469.8 189.6l2.4-.6 1.6 1.5-2.4 .6z"/><path color="#7801a8" d="M498.9 190.7l2.5-.6 1.4 1-2.4 .6z"/><path color="#9e199d" d="M571.6 178.1l2.5 .1 1.3-2.6-2.5-.2z"/><path color="#b42e8d" d="M580.7 169.4l2.5 .4 1.4-3.9-2.5-.4z"/><path color="#8f0da4" d="M560 183.7l2.5-.1 1.3-1.5-2.5 0z"/><path color="#7a02a8" d="M476.1 189.8l2.4-.6 1.6 1.4-2.4 .7z"/><path color="#a62098" d="M575.4 175.6l2.5 .2 1.4-2.9-2.5-.3z"/><path color="#7e03a8" d="M531.9 189.3l2.5-.4 1.4 0-2.5 .4z"/><path color="#8b0aa5" d="M556.1 185l2.5-.1 1.4-1.2-2.5 0z"/><path color="#8305a7" d="M542.1 188l2.5-.3 1.3-.4-2.4 .3z"/><path color="#7a02a8" d="M505.3 190.6l2.4-.6 1.4 .9-2.4 .5z"/><path color="#7a02a8" d="M482.4 190l2.4-.6 1.6 1.4-2.4 .6z"/><path color="#7b02a8" d="M521.7 190.1l2.5-.5 1.4 .4-2.4 .4z"/><path color="#ad2793" d="M579.3 172.9l2.5 .3 1.4-3.4-2.5-.4z"/><path color="#c7427c" d="M586 161.5l2.5 .6 1.4-4.9-2.5-.7z"/><path color="#8808a6" d="M552.3 186.1l2.5-.2 1.3-.9-2.5 .2z"/><path color="#be3885" d="M584.6 165.9l2.5 .5 1.4-4.3-2.5-.6z"/><path color="#7b02a8" d="M488.7 190.1l2.4-.6 1.5 1.3-2.4 .6z"/><path color="#7b02a8" d="M511.6 190.3l2.4-.5 1.4 .7-2.4 .5z"/><path color="#8104a7" d="M538.2 188.6l2.5-.4 1.4-.2-2.5 .3z"/><path color="#7e03a8" d="M528.1 189.5l2.4-.4 1.4 .2-2.4 .4z"/><path color="#b52f8c" d="M583.2 169.8l2.5 .4 1.4-3.8-2.5-.5z"/><path color="#9a169f" d="M570.2 180.3l2.5 0 1.4-2.1-2.5-.1z"/><path color="#7b02a8" d="M495.1 190.2l2.4-.6 1.4 1.1-2.4 .6z"/><path color="#8104a7" d="M459.6 188.2l2.3-.6 1.6 1.6-2.3 .6z"/><path color="#a11b9b" d="M574.1 178.2l2.5 .1 1.3-2.5-2.5-.2z"/><path color="#9613a1" d="M566.3 182l2.5 0 1.4-1.7-2.5-.1z"/><path color="#8707a6" d="M548.4 187l2.5-.2 1.4-.7-2.5 .2z"/><path color="#8004a8" d="M465.9 188.6l2.4-.6 1.5 1.6-2.3 .6z"/><path color="#920fa3" d="M562.5 183.6l2.5-.1 1.3-1.5-2.5 .1z"/><path color="#a72197" d="M577.9 175.8l2.5 .3 1.4-2.9-2.5-.3z"/><path color="#7d03a8" d="M517.9 190l2.4-.5 1.4 .6-2.4 .4z"/><path color="#8004a8" d="M472.2 189l2.4-.6 1.5 1.4-2.3 .7z"/><path color="#7d03a8" d="M501.4 190.1l2.4-.6 1.5 1.1-2.5 .5z"/><path color="#c7427c" d="M588.5 162.1l2.5 .6 1.4-4.8-2.5-.7z"/><path color="#8e0ca4" d="M558.6 184.9l2.5-.2 1.4-1.1-2.5 .1z"/><path color="#ae2892" d="M581.8 173.2l2.5 .3 1.4-3.3-2.5-.4z"/><path color="#8004a8" d="M478.5 189.2l2.4-.6 1.5 1.4-2.3 .6z"/><path color="#8305a7" d="M534.4 188.9l2.5-.4 1.3 .1-2.4 .3z"/><path color="#8606a6" d="M544.6 187.7l2.5-.3 1.3-.4-2.5 .3z"/><path color="#be3885" d="M587.1 166.4l2.5 .5 1.4-4.2-2.5-.6z"/><path color="#7e03a8" d="M507.7 190l2.4-.6 1.5 .9-2.5 .6z"/><path color="#8004a8" d="M524.2 189.6l2.4-.5 1.5 .4-2.5 .5z"/><path color="#8004a8" d="M484.8 189.4l2.4-.6 1.5 1.3-2.3 .7z"/><path color="#8d0ba5" d="M554.8 185.9l2.5-.2 1.3-.8-2.5 .1z"/><path color="#b6308b" d="M585.7 170.2l2.5 .4 1.4-3.7-2.5-.5z"/><path color="#8004a8" d="M491.1 189.5l2.5-.6 1.5 1.3-2.5 .6z"/><path color="#9d189d" d="M572.7 180.3l2.5 .1 1.4-2.1-2.5-.1z"/><path color="#a21d9a" d="M576.6 178.3l2.5 .2 1.3-2.4-2.5-.3z"/><path color="#8004a8" d="M514 189.8l2.4-.6 1.5 .8-2.5 .5z"/><path color="#8606a6" d="M540.7 188.2l2.5-.4 1.4-.1-2.5 .3z"/><path color="#9814a0" d="M568.8 182l2.5 0 1.4-1.7-2.5 0z"/><path color="#a82296" d="M580.4 176.1l2.6 .2 1.3-2.8-2.5-.3z"/><path color="#8305a7" d="M530.5 189.1l2.5-.5 1.4 .3-2.5 .4z"/><path color="#8a09a5" d="M550.9 186.8l2.5-.3 1.4-.6-2.5 .2z"/><path color="#c7427c" d="M591 162.7l2.5 .6 1.4-4.7-2.5-.7z"/><path color="#9511a1" d="M565 183.5l2.5-.1 1.3-1.4-2.5 0z"/><path color="#8104a7" d="M497.5 189.6l2.4-.6 1.5 1.1-2.5 .6z"/><path color="#8606a6" d="M461.9 187.6l2.4-.6 1.6 1.6-2.4 .6z"/><path color="#be3885" d="M589.6 166.9l2.5 .5 1.4-4.1-2.5-.6z"/><path color="#b02991" d="M584.3 173.5l2.5 .3 1.4-3.2-2.5-.4z"/><path color="#8606a6" d="M468.3 188l2.3-.6 1.6 1.6-2.4 .6z"/><path color="#8305a7" d="M520.3 189.5l2.5-.5 1.4 .6-2.5 .5z"/><path color="#910ea3" d="M561.1 184.7l2.5-.1 1.4-1.1-2.5 .1z"/><path color="#8405a7" d="M474.6 188.4l2.4-.6 1.5 1.4-2.4 .6z"/><path color="#8104a7" d="M503.8 189.5l2.4-.5 1.5 1-2.4 .6z"/><path color="#8a09a5" d="M547.1 187.4l2.4-.3 1.4-.3-2.5 .2z"/><path color="#8606a6" d="M536.9 188.5l2.4-.4 1.4 .1-2.5 .4z"/><path color="#b6308b" d="M588.2 170.6l2.5 .4 1.4-3.6-2.5-.5z"/><path color="#8405a7" d="M480.9 188.6l2.4-.6 1.5 1.4-2.4 .6z"/><path color="#8f0da4" d="M557.3 185.7l2.5-.2 1.3-.8-2.5 .2z"/><path color="#8405a7" d="M526.6 189.1l2.5-.5 1.4 .5-2.4 .4z"/><path color="#8305a7" d="M510.1 189.4l2.4-.5 1.5 .9-2.4 .5z"/><path color="#a31e9a" d="M579.1 178.5l2.5 .1 1.4-2.3-2.6-.2z"/><path color="#8405a7" d="M487.2 188.8l2.4-.6 1.5 1.3-2.4 .6z"/><path color="#a01a9c" d="M575.2 180.4l2.5 0 1.4-1.9-2.5-.2z"/><path color="#c7427c" d="M593.5 163.3l2.5 .6 1.4-4.6-2.5-.7z"/><path color="#aa2395" d="M583 176.3l2.5 .2 1.3-2.7-2.5-.3z"/><path color="#9a169f" d="M571.3 182l2.6 0 1.3-1.6-2.5-.1z"/><path color="#bf3984" d="M592.1 167.4l2.5 .5 1.4-4-2.5-.6z"/><path color="#8a09a5" d="M543.2 187.8l2.5-.3 1.4-.1-2.5 .3z"/><path color="#8606a6" d="M493.6 188.9l2.4-.6 1.5 1.3-2.4 .6z"/><path color="#8606a6" d="M516.4 189.2l2.5-.5 1.4 .8-2.4 .5z"/><path color="#b12a90" d="M586.8 173.8l2.6 .3 1.3-3.1-2.5-.4z"/><path color="#9814a0" d="M567.5 183.4l2.5-.1 1.3-1.3-2.5 0z"/><path color="#8e0ca4" d="M553.4 186.5l2.5-.3 1.4-.5-2.5 .2z"/><path color="#8707a6" d="M533 188.6l2.5-.4 1.4 .3-2.5 .4z"/><path color="#8b0aa5" d="M458 186.6l2.4-.6 1.5 1.6-2.3 .6z"/><path color="#8606a6" d="M499.9 189l2.4-.6 1.5 1.1-2.4 .6z"/><path color="#8b0aa5" d="M464.3 187l2.4-.6 1.6 1.6-2.4 .6z"/><path color="#b7318a" d="M590.7 171l2.6 .4 1.3-3.5-2.5-.5z"/><path color="#9511a1" d="M563.6 184.6l2.5-.2 1.4-1-2.5 .1z"/><path color="#8a09a5" d="M470.6 187.4l2.4-.6 1.6 1.6-2.4 .6z"/><path color="#8707a6" d="M522.8 189l2.4-.6 1.4 .7-2.4 .5z"/><path color="#c7427c" d="M596 163.9l2.6 .6 1.4-4.5-2.6-.7z"/><path color="#8e0ca4" d="M549.5 187.1l2.5-.4 1.4-.2-2.5 .3z"/><path color="#8707a6" d="M506.2 189l2.5-.6 1.4 1-2.4 .6z"/><path color="#8a09a5" d="M477 187.8l2.4-.7 1.5 1.5-2.4 .6z"/><path color="#8a09a5" d="M539.3 188.1l2.5-.4 1.4 .1-2.5 .4z"/><path color="#a62098" d="M581.6 178.6l2.5 .1 1.4-2.2-2.5-.2z"/><path color="#920fa3" d="M559.8 185.5l2.5-.2 1.3-.7-2.5 .1z"/><path color="#a11b9b" d="M577.7 180.4l2.6 .1 1.3-1.9-2.5-.1z"/><path color="#ab2494" d="M585.5 176.5l2.5 .2 1.4-2.6-2.6-.3z"/><path color="#8a09a5" d="M483.3 188l2.4-.6 1.5 1.4-2.4 .6z"/><path color="#bf3984" d="M594.6 167.9l2.6 .5 1.4-3.9-2.6-.6z"/><path color="#8808a6" d="M529.1 188.6l2.5-.5 1.4 .5-2.5 .5z"/><path color="#9d189d" d="M573.9 182l2.5 0 1.3-1.6-2.5 0z"/><path color="#8808a6" d="M512.5 188.9l2.5-.6 1.4 .9-2.4 .6z"/><path color="#b22b8f" d="M589.4 174.1l2.5 .3 1.4-3-2.6-.4z"/><path color="#8a09a5" d="M489.6 188.2l2.5-.6 1.5 1.3-2.5 .6z"/><path color="#9a169f" d="M570 183.3l2.5-.1 1.4-1.2-2.6 0z"/><path color="#8e0ca4" d="M545.7 187.5l2.5-.4 1.3 0-2.4 .3z"/><path color="#910ea3" d="M555.9 186.2l2.5-.3 1.4-.4-2.5 .2z"/><path color="#b83289" d="M593.3 171.4l2.5 .4 1.4-3.4-2.6-.5z"/><path color="#8a09a5" d="M496 188.3l2.4-.6 1.5 1.3-2.4 .6z"/><path color="#8a09a5" d="M518.9 188.7l2.4-.6 1.5 .9-2.5 .5z"/><path color="#8b0aa5" d="M535.5 188.2l2.4-.5 1.4 .4-2.4 .4z"/><path color="#c7427c" d="M598.6 164.5l2.5 .5 1.4-4.3-2.5-.7z"/><path color="#910ea3" d="M460.4 186l2.3-.6 1.6 1.6-2.4 .6z"/><path color="#9814a0" d="M566.1 184.4l2.5-.1 1.4-1-2.5 .1z"/><path color="#8b0aa5" d="M502.3 188.4l2.4-.6 1.5 1.2-2.4 .5z"/><path color="#8f0da4" d="M466.7 186.4l2.4-.6 1.5 1.6-2.3 .6z"/><path color="#c03a83" d="M597.2 168.4l2.5 .5 1.4-3.9-2.5-.5z"/><path color="#8b0aa5" d="M525.2 188.4l2.5-.5 1.4 .7-2.5 .5z"/><path color="#8f0da4" d="M473 186.8l2.4-.6 1.6 1.6-2.4 .6z"/><path color="#a72197" d="M584.1 178.7l2.6 .2 1.3-2.2-2.5-.2z"/><path color="#ad2793" d="M588 176.7l2.5 .2 1.4-2.5-2.5-.3z"/><path color="#910ea3" d="M552 186.7l2.5-.3 1.4-.2-2.5 .3z"/><path color="#a31e9a" d="M580.3 180.5l2.5 0 1.3-1.8-2.5-.1z"/><path color="#8e0ca4" d="M541.8 187.7l2.5-.4 1.4 .2-2.5 .3z"/><path color="#8b0aa5" d="M508.7 188.4l2.4-.6 1.4 1.1-2.4 .5z"/><path color="#9613a1" d="M562.3 185.3l2.5-.2 1.3-.7-2.5 .2z"/><path color="#b32c8e" d="M591.9 174.4l2.5 .3 1.4-2.9-2.5-.4z"/><path color="#8e0ca4" d="M479.4 187.1l2.4-.6 1.5 1.5-2.4 .6z"/><path color="#a01a9c" d="M576.4 182l2.5 0 1.4-1.5-2.6-.1z"/><path color="#8e0ca4" d="M485.7 187.4l2.4-.6 1.5 1.4-2.4 .6z"/><path color="#8e0ca4" d="M531.6 188.1l2.5-.5 1.4 .6-2.5 .4z"/><path color="#b83289" d="M595.8 171.8l2.5 .4 1.4-3.3-2.5-.5z"/><path color="#c7427c" d="M601.1 165l2.5 .6 1.4-4.2-2.5-.7z"/><path color="#8d0ba5" d="M515 188.3l2.4-.6 1.5 1-2.5 .5z"/><path color="#9d189d" d="M572.5 183.2l2.5-.1 1.4-1.1-2.5 0z"/><path color="#8e0ca4" d="M492.1 187.6l2.4-.6 1.5 1.3-2.4 .6z"/><path color="#9511a1" d="M558.4 185.9l2.5-.2 1.4-.4-2.5 .2z"/><path color="#910ea3" d="M548.2 187.1l2.5-.4 1.3 0-2.5 .4z"/><path color="#c03a83" d="M599.7 168.9l2.5 .5 1.4-3.8-2.5-.6z"/><path color="#8e0ca4" d="M521.3 188.1l2.5-.5 1.4 .8-2.4 .6z"/><path color="#8f0da4" d="M498.4 187.7l2.4-.6 1.5 1.3-2.4 .6z"/><path color="#9a169f" d="M568.6 184.3l2.6-.2 1.3-.9-2.5 .1z"/><path color="#8f0da4" d="M537.9 187.7l2.5-.4 1.4 .4-2.5 .4z"/><path color="#9613a1" d="M456.4 184.9l2.3-.5 1.7 1.6-2.4 .6z"/><path color="#ae2892" d="M590.5 176.9l2.6 .2 1.3-2.4-2.5-.3z"/><path color="#aa2395" d="M586.7 178.9l2.5 .1 1.3-2.1-2.5-.2z"/><path color="#9511a1" d="M462.7 185.4l2.4-.6 1.6 1.6-2.4 .6z"/><path color="#a51f99" d="M582.8 180.5l2.5 .1 1.4-1.7-2.6-.2z"/><path color="#b42e8d" d="M594.4 174.7l2.6 .3 1.3-2.8-2.5-.4z"/><path color="#8f0da4" d="M504.7 187.8l2.5-.6 1.5 1.2-2.5 .6z"/><path color="#9410a2" d="M469.1 185.8l2.4-.6 1.5 1.6-2.4 .6z"/><path color="#9511a1" d="M554.5 186.4l2.5-.3 1.4-.2-2.5 .3z"/><path color="#8f0da4" d="M527.7 187.9l2.5-.5 1.4 .7-2.5 .5z"/><path color="#c8437b" d="M603.6 165.6l2.6 .6 1.4-4.2-2.6-.6z"/><path color="#9410a2" d="M475.4 186.2l2.4-.6 1.6 1.5-2.4 .7z"/><path color="#99159f" d="M564.8 185.1l2.5-.2 1.3-.6-2.5 .1z"/><path color="#a21d9a" d="M578.9 182l2.5-.1 1.4-1.4-2.5 0z"/><path color="#ba3388" d="M598.3 172.2l2.6 .4 1.3-3.2-2.5-.5z"/><path color="#920fa3" d="M544.3 187.3l2.5-.5 1.4 .3-2.5 .4z"/><path color="#910ea3" d="M511.1 187.8l2.4-.6 1.5 1.1-2.5 .6z"/><path color="#9410a2" d="M481.8 186.5l2.4-.6 1.5 1.5-2.4 .6z"/><path color="#a01a9c" d="M575 183.1l2.6 0 1.3-1.1-2.5 0z"/><path color="#920fa3" d="M534.1 187.6l2.4-.5 1.4 .6-2.4 .5z"/><path color="#c03a83" d="M602.2 169.4l2.6 .5 1.4-3.7-2.6-.6z"/><path color="#9410a2" d="M488.1 186.8l2.4-.6 1.6 1.4-2.5 .6z"/><path color="#910ea3" d="M517.4 187.7l2.5-.6 1.4 1-2.4 .6z"/><path color="#9814a0" d="M560.9 185.7l2.5-.3 1.4-.3-2.5 .2z"/><path color="#9511a1" d="M550.7 186.7l2.5-.4 1.3 .1-2.5 .3z"/><path color="#9410a2" d="M494.5 187l2.4-.6 1.5 1.3-2.4 .6z"/><path color="#b02991" d="M593.1 177.1l2.5 .3 1.4-2.4-2.6-.3z"/><path color="#9d189d" d="M571.2 184.1l2.5-.2 1.3-.8-2.5 .1z"/><path color="#ab2494" d="M589.2 179l2.5 .1 1.4-2-2.6-.2z"/><path color="#b42e8d" d="M597 175l2.5 .3 1.4-2.7-2.6-.4z"/><path color="#9410a2" d="M540.4 187.3l2.5-.5 1.4 .5-2.5 .4z"/><path color="#c8437b" d="M606.2 166.2l2.5 .6 1.4-4.1-2.5-.7z"/><path color="#920fa3" d="M523.8 187.6l2.5-.6 1.4 .9-2.5 .5z"/><path color="#a72197" d="M585.3 180.6l2.6 .1 1.3-1.7-2.5-.1z"/><path color="#9410a2" d="M500.8 187.1l2.5-.6 1.4 1.3-2.4 .6z"/><path color="#9a169f" d="M458.7 184.4l2.4-.6 1.6 1.6-2.3 .6z"/><path color="#bb3488" d="M600.9 172.6l2.5 .4 1.4-3.1-2.6-.5z"/><path color="#99159f" d="M465.1 184.8l2.4-.5 1.6 1.5-2.4 .6z"/><path color="#a31e9a" d="M581.4 181.9l2.6 0 1.3-1.3-2.5-.1z"/><path color="#99159f" d="M557 186.1l2.6-.3 1.3-.1-2.5 .2z"/><path color="#9410a2" d="M507.2 187.2l2.4-.6 1.5 1.2-2.4 .6z"/><path color="#99159f" d="M471.5 185.2l2.4-.5 1.5 1.5-2.4 .6z"/><path color="#9c179e" d="M567.3 184.9l2.5-.3 1.4-.5-2.6 .2z"/><path color="#9511a1" d="M530.2 187.4l2.5-.5 1.4 .7-2.5 .5z"/><path color="#c13b82" d="M604.8 169.9l2.5 .5 1.4-3.6-2.5-.6z"/><path color="#9613a1" d="M546.8 186.8l2.5-.4 1.4 .3-2.5 .4z"/><path color="#9814a0" d="M477.8 185.6l2.4-.6 1.6 1.5-2.4 .6z"/><path color="#a21d9a" d="M577.6 183.1l2.5-.1 1.3-1.1-2.5 .1z"/><path color="#9511a1" d="M513.5 187.2l2.5-.6 1.4 1.1-2.4 .6z"/><path color="#9814a0" d="M484.2 185.9l2.4-.6 1.5 1.5-2.4 .6z"/><path color="#9613a1" d="M536.5 187.1l2.5-.5 1.4 .7-2.5 .4z"/><path color="#b12a90" d="M595.6 177.4l2.6 .2 1.3-2.3-2.5-.3z"/><path color="#c8437b" d="M608.7 166.8l2.6 .6 1.4-4-2.6-.7z"/><path color="#b52f8c" d="M599.5 175.3l2.6 .3 1.3-2.6-2.5-.4z"/><path color="#9c179e" d="M563.4 185.4l2.6-.3 1.3-.2-2.5 .2z"/><path color="#9814a0" d="M490.5 186.2l2.5-.7 1.5 1.5-2.4 .6z"/><path color="#ac2694" d="M591.7 179.1l2.6 .2 1.3-1.9-2.5-.3z"/><path color="#9613a1" d="M519.9 187.1l2.5-.5 1.4 1-2.5 .5z"/><path color="#99159f" d="M553.2 186.3l2.5-.3 1.3 .1-2.5 .3z"/><path color="#a01a9c" d="M573.7 183.9l2.5-.1 1.4-.7-2.6 0z"/><path color="#bb3488" d="M603.4 173l2.6 .4 1.3-3-2.5-.5z"/><path color="#aa2395" d="M587.9 180.7l2.5 0 1.3-1.6-2.5-.1z"/><path color="#9814a0" d="M496.9 186.4l2.4-.7 1.5 1.4-2.4 .6z"/><path color="#9814a0" d="M542.9 186.8l2.5-.5 1.4 .5-2.5 .5z"/><path color="#a01a9c" d="M454.8 183.3l2.3-.5 1.6 1.6-2.3 .5z"/><path color="#c13b82" d="M607.3 170.4l2.6 .5 1.4-3.5-2.6-.6z"/><path color="#9814a0" d="M526.3 187l2.5-.5 1.4 .9-2.5 .5z"/><path color="#a62098" d="M584 181.9l2.5 0 1.4-1.2-2.6-.1z"/><path color="#9814a0" d="M503.3 186.5l2.4-.6 1.5 1.3-2.5 .6z"/><path color="#9e199d" d="M461.1 183.8l2.4-.6 1.6 1.6-2.4 .6z"/><path color="#a01a9c" d="M569.8 184.6l2.6-.2 1.3-.5-2.5 .2z"/><path color="#9e199d" d="M467.5 184.3l2.4-.6 1.6 1.5-2.4 .6z"/><path color="#9c179e" d="M559.6 185.8l2.5-.4 1.3 0-2.5 .3z"/><path color="#99159f" d="M509.6 186.6l2.5-.6 1.4 1.2-2.4 .6z"/><path color="#9d189d" d="M473.9 184.7l2.4-.6 1.5 1.5-2.4 .6z"/><path color="#c8437b" d="M611.3 167.4l2.5 .6 1.4-3.9-2.5-.7z"/><path color="#99159f" d="M532.7 186.9l2.4-.6 1.4 .8-2.4 .5z"/><path color="#a51f99" d="M580.1 183l2.6-.1 1.3-1-2.6 0z"/><path color="#9a169f" d="M549.3 186.4l2.5-.4 1.4 .3-2.5 .4z"/><path color="#9d189d" d="M480.2 185l2.4-.6 1.6 1.5-2.4 .6z"/><path color="#b22b8f" d="M598.2 177.6l2.5 .2 1.4-2.2-2.6-.3z"/><path color="#b6308b" d="M602.1 175.6l2.5 .3 1.4-2.5-2.6-.4z"/><path color="#ae2892" d="M594.3 179.3l2.5 .1 1.4-1.8-2.6-.2z"/><path color="#bc3587" d="M606 173.4l2.5 .4 1.4-2.9-2.6-.5z"/><path color="#99159f" d="M516 186.6l2.5-.6 1.4 1.1-2.5 .6z"/><path color="#9d189d" d="M486.6 185.3l2.4-.6 1.5 1.5-2.4 .6z"/><path color="#9e199d" d="M566 185.1l2.5-.2 1.3-.3-2.5 .3z"/><path color="#9a169f" d="M539 186.6l2.5-.5 1.4 .7-2.5 .5z"/><path color="#ab2494" d="M590.4 180.7l2.6 .1 1.3-1.5-2.6-.2z"/><path color="#a31e9a" d="M576.2 183.8l2.6-.2 1.3-.6-2.5 .1z"/><path color="#c23c81" d="M609.9 170.9l2.6 .4 1.3-3.3-2.5-.6z"/><path color="#9d189d" d="M555.7 186l2.5-.4 1.4 .2-2.6 .3z"/><path color="#9d189d" d="M493 185.5l2.4-.6 1.5 1.5-2.4 .6z"/><path color="#9a169f" d="M522.4 186.6l2.5-.6 1.4 1-2.5 .6z"/><path color="#a82296" d="M586.5 181.9l2.6 0 1.3-1.2-2.5 0z"/><path color="#9d189d" d="M499.3 185.7l2.5-.6 1.5 1.4-2.5 .6z"/><path color="#9c179e" d="M545.4 186.3l2.5-.4 1.4 .5-2.5 .4z"/><path color="#c8437b" d="M613.8 168l2.6 .6 1.4-3.8-2.6-.7z"/><path color="#a31e9a" d="M457.1 182.8l2.4-.6 1.6 1.6-2.4 .6z"/><path color="#9c179e" d="M528.8 186.5l2.4-.6 1.5 1-2.5 .5z"/><path color="#a21d9a" d="M572.4 184.4l2.5-.2 1.3-.4-2.5 .1z"/><path color="#a31e9a" d="M463.5 183.2l2.4-.5 1.6 1.6-2.4 .5z"/><path color="#9d189d" d="M505.7 185.9l2.5-.6 1.4 1.3-2.4 .6z"/><path color="#a01a9c" d="M562.1 185.4l2.5-.3 1.4 0-2.6 .3z"/><path color="#b7318a" d="M604.6 175.9l2.6 .3 1.3-2.4-2.5-.4z"/><path color="#a72197" d="M582.7 182.9l2.5-.1 1.3-.9-2.5 0z"/><path color="#b32c8e" d="M600.7 177.8l2.6 .2 1.3-2.1-2.5-.3z"/><path color="#a21d9a" d="M469.9 183.7l2.4-.6 1.6 1.6-2.4 .5z"/><path color="#bd3786" d="M608.5 173.8l2.6 .4 1.4-2.9-2.6-.4z"/><path color="#b02991" d="M596.8 179.4l2.6 .1 1.3-1.7-2.5-.2z"/><path color="#9e199d" d="M551.8 186l2.5-.4 1.4 .4-2.5 .3z"/><path color="#9d189d" d="M512.1 186l2.4-.6 1.5 1.2-2.5 .6z"/><path color="#9d189d" d="M535.1 186.3l2.5-.5 1.4 .8-2.5 .5z"/><path color="#a21d9a" d="M476.3 184.1l2.4-.6 1.5 1.5-2.4 .6z"/><path color="#c23c81" d="M612.5 171.3l2.5 .5 1.4-3.2-2.6-.6z"/><path color="#a11b9b" d="M482.6 184.4l2.5-.6 1.5 1.5-2.4 .6z"/><path color="#ad2793" d="M593 180.8l2.5 0 1.3-1.4-2.5-.1z"/><path color="#a21d9a" d="M568.5 184.9l2.5-.3 1.4-.2-2.6 .2z"/><path color="#9e199d" d="M518.5 186l2.4-.6 1.5 1.2-2.5 .5z"/><path color="#a62098" d="M578.8 183.6l2.5-.1 1.4-.6-2.6 .1z"/><path color="#a11b9b" d="M489 184.7l2.4-.6 1.6 1.4-2.5 .7z"/><path color="#c8437b" d="M616.4 168.6l2.5 .6 1.4-3.7-2.5-.7z"/><path color="#9e199d" d="M541.5 186.1l2.5-.5 1.4 .7-2.5 .5z"/><path color="#a11b9b" d="M558.2 185.6l2.5-.4 1.4 .2-2.5 .4z"/><path color="#ab2494" d="M589.1 181.9l2.5 0 1.4-1.1-2.6-.1z"/><path color="#a11b9b" d="M495.4 184.9l2.4-.6 1.5 1.4-2.4 .7z"/><path color="#9e199d" d="M524.9 186l2.4-.6 1.5 1.1-2.5 .5z"/><path color="#b83289" d="M607.2 176.2l2.6 .3 1.3-2.3-2.6-.4z"/><path color="#a82296" d="M453.1 181.8l2.4-.6 1.6 1.6-2.3 .5z"/><path color="#a01a9c" d="M547.9 185.9l2.5-.5 1.4 .6-2.5 .4z"/><path color="#bd3786" d="M611.1 174.2l2.6 .4 1.3-2.8-2.5-.5z"/><path color="#a11b9b" d="M501.8 185.1l2.4-.6 1.5 1.4-2.4 .6z"/><path color="#b52f8c" d="M603.3 178l2.6 .2 1.3-2-2.6-.3z"/><path color="#a51f99" d="M574.9 184.2l2.6-.2 1.3-.4-2.6 .2z"/><path color="#a82296" d="M459.5 182.2l2.4-.5 1.6 1.5-2.4 .6z"/><path color="#a01a9c" d="M531.2 185.9l2.5-.5 1.4 .9-2.4 .6z"/><path color="#aa2395" d="M585.2 182.8l2.6-.1 1.3-.8-2.6 0z"/><path color="#a21d9a" d="M564.6 185.1l2.6-.3 1.3 .1-2.5 .2z"/><path color="#c33d80" d="M615 171.8l2.6 .5 1.3-3.1-2.5-.6z"/><path color="#b22b8f" d="M599.4 179.5l2.6 .2 1.3-1.7-2.6-.2z"/><path color="#a72197" d="M465.9 182.7l2.4-.6 1.6 1.6-2.4 .6z"/><path color="#a11b9b" d="M508.2 185.3l2.4-.7 1.5 1.4-2.5 .6z"/><path color="#a72197" d="M472.3 183.1l2.4-.6 1.6 1.6-2.4 .6z"/><path color="#a21d9a" d="M554.3 185.6l2.6-.4 1.3 .4-2.5 .4z"/><path color="#ae2892" d="M595.5 180.8l2.6 .1 1.3-1.4-2.6-.1z"/><path color="#a11b9b" d="M537.6 185.8l2.5-.5 1.4 .8-2.5 .5z"/><path color="#a21d9a" d="M514.5 185.4l2.5-.7 1.5 1.3-2.5 .6z"/><path color="#a62098" d="M478.7 183.5l2.4-.6 1.5 1.5-2.4 .6z"/><path color="#a82296" d="M581.3 183.5l2.6-.2 1.3-.5-2.5 .1z"/><path color="#a62098" d="M571 184.6l2.6-.3 1.3-.1-2.5 .2z"/><path color="#a62098" d="M485.1 183.8l2.4-.6 1.5 1.5-2.4 .6z"/><path color="#a21d9a" d="M520.9 185.4l2.5-.6 1.5 1.2-2.5 .6z"/><path color="#ad2793" d="M591.6 181.9l2.6 0 1.3-1.1-2.5 0z"/><path color="#a21d9a" d="M544 185.6l2.5-.5 1.4 .8-2.5 .4z"/><path color="#a31e9a" d="M560.7 185.2l2.6-.4 1.3 .3-2.5 .3z"/><path color="#a62098" d="M491.4 184.1l2.5-.7 1.5 1.5-2.4 .6z"/><path color="#ba3388" d="M609.8 176.5l2.5 .4 1.4-2.3-2.6-.4z"/><path color="#be3885" d="M613.7 174.6l2.5 .4 1.4-2.7-2.6-.5z"/><path color="#b6308b" d="M605.9 178.2l2.5 .3 1.4-2-2.6-.3z"/><path color="#a62098" d="M497.8 184.3l2.5-.6 1.5 1.4-2.5 .6z"/><path color="#a31e9a" d="M527.3 185.4l2.5-.6 1.4 1.1-2.4 .6z"/><path color="#a82296" d="M577.5 184l2.5-.2 1.3-.3-2.5 .1z"/><path color="#b32c8e" d="M602 179.7l2.5 .1 1.4-1.6-2.6-.2z"/><path color="#a31e9a" d="M550.4 185.4l2.6-.4 1.3 .6-2.5 .4z"/><path color="#ac2694" d="M587.8 182.7l2.5-.1 1.3-.7-2.5 0z"/><path color="#ad2793" d="M455.5 181.2l2.4-.5 1.6 1.5-2.4 .6z"/><path color="#a62098" d="M504.2 184.5l2.5-.6 1.5 1.4-2.5 .6z"/><path color="#a62098" d="M567.2 184.8l2.5-.3 1.3 .1-2.5 .3z"/><path color="#ac2694" d="M461.9 181.7l2.4-.5 1.6 1.5-2.4 .5z"/><path color="#a31e9a" d="M533.7 185.4l2.5-.6 1.4 1-2.5 .5z"/><path color="#b12a90" d="M598.1 180.9l2.6 0 1.3-1.2-2.6-.2z"/><path color="#ab2494" d="M468.3 182.1l2.4-.5 1.6 1.5-2.4 .6z"/><path color="#a62098" d="M510.6 184.6l2.5-.6 1.4 1.4-2.4 .6z"/><path color="#a62098" d="M556.9 185.2l2.5-.5 1.3 .5-2.5 .4z"/><path color="#ab2494" d="M474.7 182.5l2.4-.6 1.6 1.6-2.4 .6z"/><path color="#a51f99" d="M540.1 185.3l2.5-.5 1.4 .8-2.5 .5z"/><path color="#ab2494" d="M583.9 183.3l2.5-.1 1.4-.5-2.6 .1z"/><path color="#a62098" d="M517 184.7l2.5-.6 1.4 1.3-2.4 .6z"/><path color="#ab2494" d="M481.1 182.9l2.4-.6 1.6 1.5-2.5 .6z"/><path color="#a82296" d="M573.6 184.3l2.5-.3 1.4 0-2.6 .2z"/><path color="#bb3488" d="M612.3 176.9l2.6 .3 1.3-2.2-2.5-.4z"/><path color="#ae2892" d="M594.2 181.9l2.6-.1 1.3-.9-2.6-.1z"/><path color="#b7318a" d="M608.4 178.5l2.6 .2 1.3-1.8-2.5-.4z"/><path color="#aa2395" d="M487.5 183.2l2.4-.6 1.5 1.5-2.4 .6z"/><path color="#a72197" d="M563.3 184.8l2.5-.3 1.4 .3-2.6 .3z"/><path color="#a72197" d="M523.4 184.8l2.5-.6 1.4 1.2-2.4 .6z"/><path color="#a62098" d="M546.5 185.1l2.6-.5 1.3 .8-2.5 .5z"/><path color="#aa2395" d="M493.9 183.4l2.4-.6 1.5 1.5-2.4 .6z"/><path color="#b42e8d" d="M604.5 179.8l2.6 .2 1.3-1.5-2.5-.3z"/><path color="#ae2892" d="M590.3 182.6l2.6-.1 1.3-.6-2.6 0z"/><path color="#ab2494" d="M580 183.8l2.6-.2 1.3-.3-2.6 .2z"/><path color="#a72197" d="M529.8 184.8l2.5-.5 1.4 1.1-2.5 .5z"/><path color="#aa2395" d="M500.3 183.7l2.4-.7 1.5 1.5-2.4 .6z"/><path color="#b22b8f" d="M451.5 180.3l2.4-.5 1.6 1.4-2.4 .6z"/><path color="#a72197" d="M553 185l2.5-.5 1.4 .7-2.6 .4z"/><path color="#aa2395" d="M569.7 184.5l2.5-.4 1.4 .2-2.6 .3z"/><path color="#b12a90" d="M457.9 180.7l2.4-.5 1.6 1.5-2.4 .5z"/><path color="#b32c8e" d="M600.7 180.9l2.5 .1 1.3-1.2-2.5-.1z"/><path color="#aa2395" d="M506.7 183.9l2.4-.7 1.5 1.4-2.4 .7z"/><path color="#b02991" d="M464.3 181.2l2.4-.6 1.6 1.5-2.4 .6z"/><path color="#a82296" d="M536.2 184.8l2.5-.5 1.4 1-2.5 .5z"/><path color="#b02991" d="M470.7 181.6l2.4-.6 1.6 1.5-2.4 .6z"/><path color="#aa2395" d="M513.1 184l2.5-.6 1.4 1.3-2.5 .7z"/><path color="#ad2793" d="M586.4 183.2l2.6-.2 1.3-.4-2.5 .1z"/><path color="#aa2395" d="M559.4 184.7l2.5-.4 1.4 .5-2.6 .4z"/><path color="#b12a90" d="M596.8 181.8l2.6 0 1.3-.9-2.6 0z"/><path color="#b83289" d="M611 178.7l2.6 .2 1.3-1.7-2.6-.3z"/><path color="#ae2892" d="M477.1 181.9l2.4-.6 1.6 1.6-2.4 .6z"/><path color="#ac2694" d="M576.1 184l2.6-.2 1.3 0-2.5 .2z"/><path color="#aa2395" d="M542.6 184.8l2.6-.6 1.3 .9-2.5 .5z"/><path color="#ab2494" d="M519.5 184.1l2.5-.6 1.4 1.3-2.5 .6z"/><path color="#ae2892" d="M483.5 182.3l2.4-.6 1.6 1.5-2.4 .6z"/><path color="#b6308b" d="M607.1 180l2.6 .1 1.3-1.4-2.6-.2z"/><path color="#ab2494" d="M565.8 184.5l2.6-.4 1.3 .4-2.5 .3z"/><path color="#ae2892" d="M489.9 182.6l2.5-.7 1.5 1.5-2.5 .7z"/><path color="#aa2395" d="M549.1 184.6l2.5-.5 1.4 .9-2.6 .4z"/><path color="#ab2494" d="M525.9 184.2l2.5-.6 1.4 1.2-2.5 .6z"/><path color="#b12a90" d="M592.9 182.5l2.6-.1 1.3-.6-2.6 .1z"/><path color="#ad2793" d="M582.6 183.6l2.5-.3 1.3-.1-2.5 .1z"/><path color="#ae2892" d="M496.3 182.8l2.5-.6 1.5 1.5-2.5 .6z"/><path color="#b42e8d" d="M603.2 181l2.6 .1 1.3-1.1-2.6-.2z"/><path color="#b52f8c" d="M453.9 179.8l2.4-.5 1.6 1.4-2.4 .5z"/><path color="#ab2494" d="M532.3 184.3l2.5-.6 1.4 1.1-2.5 .6z"/><path color="#ae2892" d="M502.7 183l2.5-.6 1.5 1.5-2.5 .6z"/><path color="#ac2694" d="M572.2 184.1l2.6-.3 1.3 .2-2.5 .3z"/><path color="#ab2494" d="M555.5 184.5l2.5-.5 1.4 .7-2.5 .5z"/><path color="#b42e8d" d="M460.3 180.2l2.4-.5 1.6 1.5-2.4 .5z"/><path color="#ae2892" d="M509.1 183.2l2.5-.6 1.5 1.4-2.5 .6z"/><path color="#b42e8d" d="M466.7 180.6l2.4-.5 1.6 1.5-2.4 .5z"/><path color="#ac2694" d="M538.7 184.3l2.6-.6 1.3 1.1-2.5 .5z"/><path color="#b02991" d="M589 183l2.6-.1 1.3-.4-2.6 .1z"/><path color="#b32c8e" d="M599.4 181.8l2.5 0 1.3-.8-2.5-.1z"/><path color="#b32c8e" d="M473.1 181l2.4-.6 1.6 1.5-2.4 .6z"/><path color="#ac2694" d="M561.9 184.3l2.6-.4 1.3 .6-2.5 .3z"/><path color="#ae2892" d="M578.7 183.8l2.6-.3 1.3 .1-2.6 .2z"/><path color="#ae2892" d="M515.6 183.4l2.4-.6 1.5 1.3-2.5 .6z"/><path color="#b7318a" d="M609.7 180.1l2.6 .1 1.3-1.3-2.6-.2z"/><path color="#b32c8e" d="M479.5 181.3l2.5-.5 1.5 1.5-2.4 .6z"/><path color="#ad2793" d="M545.2 184.2l2.5-.5 1.4 .9-2.6 .5z"/><path color="#ae2892" d="M522 183.5l2.5-.6 1.4 1.3-2.5 .6z"/><path color="#b22b8f" d="M485.9 181.7l2.5-.6 1.5 1.5-2.4 .6z"/><path color="#ae2892" d="M568.4 184.1l2.5-.4 1.3 .4-2.5 .4z"/><path color="#b32c8e" d="M595.5 182.4l2.6-.1 1.3-.5-2.6 0z"/><path color="#b6308b" d="M605.8 181.1l2.6 0 1.3-1-2.6-.1z"/><path color="#b22b8f" d="M492.4 181.9l2.4-.6 1.5 1.5-2.4 .6z"/><path color="#ae2892" d="M551.6 184.1l2.5-.5 1.4 .9-2.5 .5z"/><path color="#b12a90" d="M585.1 183.3l2.6-.2 1.3-.1-2.6 .2z"/><path color="#ae2892" d="M528.4 183.6l2.5-.6 1.4 1.3-2.5 .5z"/><path color="#b83289" d="M449.9 178.9l2.4-.4 1.6 1.3-2.4 .5z"/><path color="#b22b8f" d="M498.8 182.2l2.4-.6 1.5 1.4-2.4 .7z"/><path color="#b02991" d="M574.8 183.8l2.6-.3 1.3 .3-2.6 .2z"/><path color="#b83289" d="M456.3 179.3l2.4-.4 1.6 1.3-2.4 .5z"/><path color="#b02991" d="M534.8 183.7l2.5-.6 1.4 1.2-2.5 .5z"/><path color="#ae2892" d="M558 184l2.6-.4 1.3 .7-2.5 .4z"/><path color="#b22b8f" d="M505.2 182.4l2.5-.6 1.4 1.4-2.4 .7z"/><path color="#b7318a" d="M462.7 179.7l2.4-.5 1.6 1.4-2.4 .6z"/><path color="#b52f8c" d="M601.9 181.8l2.6 0 1.3-.7-2.6-.1z"/><path color="#b32c8e" d="M591.6 182.9l2.6-.2 1.3-.3-2.6 .1z"/><path color="#b7318a" d="M469.1 180.1l2.4-.5 1.6 1.4-2.4 .6z"/><path color="#b22b8f" d="M511.6 182.6l2.5-.6 1.5 1.4-2.5 .6z"/><path color="#b02991" d="M541.3 183.7l2.5-.6 1.4 1.1-2.6 .6z"/><path color="#b02991" d="M564.5 183.9l2.5-.4 1.4 .6-2.6 .4z"/><path color="#b22b8f" d="M581.3 183.5l2.5-.3 1.3 .1-2.5 .3z"/><path color="#b6308b" d="M475.5 180.4l2.5-.5 1.5 1.4-2.4 .6z"/><path color="#b22b8f" d="M518 182.8l2.5-.7 1.5 1.4-2.5 .6z"/><path color="#b6308b" d="M482 180.8l2.4-.6 1.5 1.5-2.4 .6z"/><path color="#b12a90" d="M547.7 183.7l2.5-.5 1.4 .9-2.5 .5z"/><path color="#b52f8c" d="M598.1 182.3l2.5 0 1.3-.5-2.5 0z"/><path color="#b7318a" d="M608.4 181.1l2.6 .1 1.3-1-2.6-.1z"/><path color="#b22b8f" d="M570.9 183.7l2.6-.4 1.3 .5-2.6 .3z"/><path color="#b22b8f" d="M524.5 182.9l2.5-.6 1.4 1.3-2.5 .6z"/><path color="#b6308b" d="M488.4 181.1l2.4-.7 1.6 1.5-2.5 .7z"/><path color="#b32c8e" d="M587.7 183.1l2.6-.2 1.3 0-2.6 .1z"/><path color="#b22b8f" d="M554.1 183.6l2.6-.5 1.3 .9-2.5 .5z"/><path color="#b6308b" d="M494.8 181.3l2.5-.6 1.5 1.5-2.5 .6z"/><path color="#b32c8e" d="M530.9 183l2.5-.6 1.4 1.3-2.5 .6z"/><path color="#bc3587" d="M452.3 178.5l2.4-.4 1.6 1.2-2.4 .5z"/><path color="#b32c8e" d="M577.4 183.5l2.5-.4 1.4 .4-2.6 .3z"/><path color="#b6308b" d="M501.2 181.6l2.5-.7 1.5 1.5-2.5 .6z"/><path color="#b7318a" d="M604.5 181.8l2.6 0 1.3-.7-2.6 0z"/><path color="#bc3587" d="M458.7 178.9l2.4-.5 1.6 1.3-2.4 .5z"/><path color="#b22b8f" d="M560.6 183.6l2.5-.5 1.4 .8-2.6 .4z"/><path color="#b52f8c" d="M594.2 182.7l2.6-.1 1.3-.3-2.6 .1z"/><path color="#b32c8e" d="M537.3 183.1l2.6-.6 1.4 1.2-2.6 .6z"/><path color="#b6308b" d="M507.7 181.8l2.4-.7 1.5 1.5-2.5 .6z"/><path color="#bb3488" d="M465.1 179.2l2.4-.5 1.6 1.4-2.4 .5z"/><path color="#bb3488" d="M471.5 179.6l2.5-.6 1.5 1.4-2.4 .6z"/><path color="#b42e8d" d="M583.8 183.2l2.6-.3 1.3 .2-2.6 .2z"/><path color="#b42e8d" d="M543.8 183.1l2.5-.5 1.4 1.1-2.5 .5z"/><path color="#b32c8e" d="M567 183.5l2.6-.5 1.3 .7-2.5 .4z"/><path color="#b6308b" d="M514.1 182l2.5-.7 1.4 1.5-2.4 .6z"/><path color="#bb3488" d="M478 179.9l2.4-.6 1.6 1.5-2.5 .5z"/><path color="#b7318a" d="M600.6 182.3l2.6-.1 1.3-.4-2.6 0z"/><path color="#b6308b" d="M520.5 182.1l2.5-.6 1.5 1.4-2.5 .6z"/><path color="#b42e8d" d="M550.2 183.2l2.6-.6 1.3 1-2.5 .5z"/><path color="#bb3488" d="M484.4 180.2l2.4-.6 1.6 1.5-2.5 .6z"/><path color="#b42e8d" d="M573.5 183.3l2.5-.4 1.4 .6-2.6 .3z"/><path color="#b52f8c" d="M590.3 182.9l2.6-.2 1.3 0-2.6 .2z"/><path color="#b6308b" d="M527 182.3l2.5-.6 1.4 1.3-2.5 .6z"/><path color="#ba3388" d="M490.8 180.4l2.5-.6 1.5 1.5-2.4 .6z"/><path color="#c03a83" d="M448.2 177.7l2.4-.4 1.7 1.2-2.4 .4z"/><path color="#b52f8c" d="M556.7 183.1l2.5-.5 1.4 1-2.6 .4z"/><path color="#ba3388" d="M607.1 181.8l2.6-.1 1.3-.5-2.6-.1z"/><path color="#ba3388" d="M497.3 180.7l2.4-.6 1.5 1.5-2.4 .6z"/><path color="#bf3984" d="M454.7 178.1l2.4-.5 1.6 1.3-2.4 .4z"/><path color="#b6308b" d="M533.4 182.4l2.5-.6 1.4 1.3-2.5 .6z"/><path color="#b52f8c" d="M579.9 183.1l2.6-.3 1.3 .4-2.5 .3z"/><path color="#b7318a" d="M596.8 182.6l2.6-.2 1.2-.1-2.5 0z"/><path color="#ba3388" d="M503.7 180.9l2.5-.6 1.5 1.5-2.5 .6z"/><path color="#bf3984" d="M461.1 178.4l2.4-.5 1.6 1.3-2.4 .5z"/><path color="#b52f8c" d="M563.1 183.1l2.6-.5 1.3 .9-2.5 .4z"/><path color="#b6308b" d="M539.9 182.5l2.5-.6 1.4 1.2-2.5 .6z"/><path color="#bf3984" d="M467.5 178.7l2.4-.5 1.6 1.4-2.4 .5z"/><path color="#ba3388" d="M510.1 181.1l2.5-.6 1.5 1.5-2.5 .6z"/><path color="#b7318a" d="M586.4 182.9l2.6-.3 1.3 .3-2.6 .2z"/><path color="#be3885" d="M474 179l2.4-.5 1.6 1.4-2.5 .5z"/><path color="#b6308b" d="M569.6 183l2.5-.4 1.4 .7-2.6 .4z"/><path color="#ba3388" d="M603.2 182.2l2.6-.1 1.3-.3-2.6 0z"/><path color="#b7318a" d="M546.3 182.6l2.5-.6 1.4 1.2-2.5 .5z"/><path color="#ba3388" d="M516.6 181.3l2.5-.6 1.4 1.4-2.5 .7z"/><path color="#be3885" d="M480.4 179.3l2.4-.6 1.6 1.5-2.4 .6z"/><path color="#b83289" d="M592.9 182.7l2.6-.2 1.3 .1-2.6 .1z"/><path color="#ba3388" d="M523 181.5l2.5-.6 1.5 1.4-2.5 .6z"/><path color="#b7318a" d="M552.8 182.6l2.5-.5 1.4 1-2.6 .5z"/><path color="#b7318a" d="M576 182.9l2.6-.4 1.3 .6-2.5 .4z"/><path color="#be3885" d="M486.8 179.6l2.5-.6 1.5 1.4-2.4 .7z"/><path color="#ba3388" d="M529.5 181.7l2.5-.7 1.4 1.4-2.5 .6z"/><path color="#be3885" d="M493.3 179.8l2.4-.6 1.6 1.5-2.5 .6z"/><path color="#c33d80" d="M450.6 177.3l2.4-.4 1.7 1.2-2.4 .4z"/><path color="#b83289" d="M559.2 182.6l2.6-.5 1.3 1-2.5 .5z"/><path color="#b83289" d="M582.5 182.8l2.6-.3 1.3 .4-2.6 .3z"/><path color="#ba3388" d="M599.4 182.4l2.6-.2 1.2 0-2.6 .1z"/><path color="#c23c81" d="M457.1 177.6l2.4-.4 1.6 1.2-2.4 .5z"/><path color="#be3885" d="M499.7 180.1l2.5-.6 1.5 1.4-2.5 .7z"/><path color="#bb3488" d="M535.9 181.8l2.5-.6 1.5 1.3-2.6 .6z"/><path color="#b83289" d="M565.7 182.6l2.5-.4 1.4 .8-2.6 .5z"/><path color="#c23c81" d="M463.5 177.9l2.4-.5 1.6 1.3-2.4 .5z"/><path color="#be3885" d="M506.2 180.3l2.4-.6 1.5 1.4-2.4 .7z"/><path color="#bb3488" d="M542.4 181.9l2.5-.6 1.4 1.3-2.5 .5z"/><path color="#ba3388" d="M589 182.6l2.6-.2 1.3 .3-2.6 .2z"/><path color="#c23c81" d="M469.9 178.2l2.5-.5 1.6 1.3-2.5 .6z"/><path color="#bc3587" d="M605.8 182.1l2.6-.1 1.3-.3-2.6 .1z"/><path color="#be3885" d="M512.6 180.5l2.5-.6 1.5 1.4-2.5 .7z"/><path color="#ba3388" d="M572.1 182.6l2.6-.4 1.3 .7-2.5 .4z"/><path color="#c23c81" d="M476.4 178.5l2.4-.6 1.6 1.4-2.4 .6z"/><path color="#bb3488" d="M548.8 182l2.6-.6 1.4 1.2-2.6 .6z"/><path color="#be3885" d="M519.1 180.7l2.5-.6 1.4 1.4-2.5 .6z"/><path color="#bb3488" d="M595.5 182.5l2.6-.3 1.3 .2-2.6 .2z"/><path color="#c13b82" d="M482.8 178.7l2.5-.5 1.5 1.4-2.4 .6z"/><path color="#bb3488" d="M578.6 182.5l2.6-.3 1.3 .6-2.6 .3z"/><path color="#bc3587" d="M555.3 182.1l2.6-.6 1.3 1.1-2.5 .5z"/><path color="#c6417d" d="M446.6 176.7l2.4-.4 1.6 1-2.4 .4z"/><path color="#be3885" d="M525.5 180.9l2.5-.6 1.5 1.4-2.5 .6z"/><path color="#c13b82" d="M489.3 179l2.4-.6 1.6 1.4-2.5 .6z"/><path color="#c6417d" d="M453 176.9l2.4-.4 1.7 1.1-2.4 .5z"/><path color="#bc3587" d="M602 182.2l2.6-.1 1.2 0-2.6 .1z"/><path color="#be3885" d="M532 181l2.5-.6 1.4 1.4-2.5 .6z"/><path color="#c13b82" d="M495.7 179.2l2.5-.6 1.5 1.5-2.4 .6z"/><path color="#bc3587" d="M561.8 182.1l2.5-.5 1.4 1-2.6 .5z"/><path color="#bc3587" d="M585.1 182.5l2.6-.4 1.3 .5-2.6 .3z"/><path color="#c5407e" d="M459.5 177.2l2.4-.5 1.6 1.2-2.4 .5z"/><path color="#c13b82" d="M502.2 179.5l2.5-.7 1.5 1.5-2.5 .6z"/><path color="#be3885" d="M538.4 181.2l2.6-.6 1.4 1.3-2.5 .6z"/><path color="#bc3587" d="M568.2 182.2l2.6-.5 1.3 .9-2.5 .4z"/><path color="#c5407e" d="M465.9 177.4l2.5-.4 1.5 1.2-2.4 .5z"/><path color="#bd3786" d="M591.6 182.4l2.6-.3 1.3 .4-2.6 .2z"/><path color="#c13b82" d="M508.6 179.7l2.5-.7 1.5 1.5-2.5 .6z"/><path color="#be3885" d="M544.9 181.3l2.6-.6 1.3 1.3-2.5 .6z"/><path color="#c5407e" d="M472.4 177.7l2.4-.5 1.6 1.3-2.4 .5z"/><path color="#bd3786" d="M574.7 182.2l2.6-.5 1.3 .8-2.6 .4z"/><path color="#c13b82" d="M515.1 179.9l2.5-.7 1.5 1.5-2.5 .6z"/><path color="#c5407e" d="M478.8 177.9l2.5-.5 1.5 1.3-2.4 .6z"/><path color="#bd3786" d="M598.1 182.2l2.6-.2 1.3 .2-2.6 .2z"/><path color="#be3885" d="M551.4 181.4l2.5-.5 1.4 1.2-2.5 .5z"/><path color="#c13b82" d="M521.6 180.1l2.5-.7 1.4 1.5-2.5 .6z"/><path color="#c5407e" d="M485.3 178.2l2.4-.6 1.6 1.4-2.5 .6z"/><path color="#be3885" d="M581.2 182.2l2.6-.4 1.3 .7-2.6 .3z"/><path color="#c9447a" d="M449 176.3l2.4-.3 1.6 .9-2.4 .4z"/><path color="#bf3984" d="M557.9 181.5l2.5-.5 1.4 1.1-2.6 .5z"/><path color="#c13b82" d="M528 180.3l2.6-.7 1.4 1.4-2.5 .7z"/><path color="#bf3984" d="M604.6 182.1l2.6-.2 1.2 .1-2.6 .1z"/><path color="#c5407e" d="M491.7 178.4l2.5-.6 1.5 1.4-2.4 .6z"/><path color="#c9447a" d="M455.4 176.5l2.5-.4 1.6 1.1-2.4 .4z"/><path color="#be3885" d="M587.7 182.1l2.6-.3 1.3 .6-2.6 .2z"/><path color="#bf3984" d="M564.3 181.6l2.6-.5 1.3 1.1-2.5 .4z"/><path color="#c13b82" d="M534.5 180.4l2.5-.6 1.4 1.4-2.5 .6z"/><path color="#c5407e" d="M498.2 178.6l2.5-.6 1.5 1.5-2.5 .6z"/><path color="#c8437b" d="M461.9 176.7l2.4-.4 1.6 1.1-2.4 .5z"/><path color="#c5407e" d="M504.7 178.8l2.5-.6 1.4 1.5-2.4 .6z"/><path color="#bf3984" d="M594.2 182.1l2.6-.3 1.3 .4-2.6 .3z"/><path color="#c13b82" d="M541 180.6l2.5-.6 1.4 1.3-2.5 .6z"/><path color="#bf3984" d="M570.8 181.7l2.6-.5 1.3 1-2.6 .4z"/><path color="#c8437b" d="M468.4 177l2.4-.5 1.6 1.2-2.5 .5z"/><path color="#c5407e" d="M511.1 179l2.5-.6 1.5 1.5-2.5 .6z"/><path color="#c23c81" d="M547.5 180.7l2.5-.6 1.4 1.3-2.6 .6z"/><path color="#c8437b" d="M474.8 177.2l2.5-.5 1.5 1.2-2.4 .6z"/><path color="#c03a83" d="M577.3 181.7l2.6-.4 1.3 .9-2.6 .3z"/><path color="#c03a83" d="M600.7 182l2.6-.2 1.3 .3-2.6 .1z"/><path color="#c5407e" d="M517.6 179.2l2.5-.6 1.5 1.5-2.5 .6z"/><path color="#cb4679" d="M445 175.8l2.4-.3 1.6 .8-2.4 .4z"/><path color="#c8437b" d="M481.3 177.4l2.4-.6 1.6 1.4-2.5 .5z"/><path color="#c23c81" d="M553.9 180.9l2.6-.6 1.4 1.2-2.6 .6z"/><path color="#c03a83" d="M583.8 181.8l2.6-.4 1.3 .7-2.6 .4z"/><path color="#c5407e" d="M524.1 179.4l2.5-.6 1.4 1.5-2.5 .6z"/><path color="#cb4679" d="M451.4 176l2.4-.4 1.6 .9-2.4 .4z"/><path color="#c8437b" d="M487.7 177.6l2.5-.6 1.5 1.4-2.4 .6z"/><path color="#c23c81" d="M560.4 181l2.6-.5 1.3 1.1-2.5 .5z"/><path color="#c5407e" d="M530.6 179.6l2.5-.6 1.4 1.4-2.5 .6z"/><path color="#cb4679" d="M457.9 176.1l2.4-.4 1.6 1-2.4 .5z"/><path color="#c8437b" d="M494.2 177.8l2.5-.6 1.5 1.4-2.5 .6z"/><path color="#c13b82" d="M590.3 181.8l2.6-.3 1.3 .6-2.6 .3z"/><path color="#c23c81" d="M566.9 181.1l2.6-.5 1.3 1.1-2.6 .5z"/><path color="#c5407e" d="M537 179.8l2.6-.6 1.4 1.4-2.6 .6z"/><path color="#c8437b" d="M500.7 178l2.5-.6 1.5 1.4-2.5 .7z"/><path color="#cb4679" d="M464.3 176.3l2.5-.4 1.6 1.1-2.5 .4z"/><path color="#c23c81" d="M596.8 181.8l2.6-.3 1.3 .5-2.6 .2z"/><path color="#c33d80" d="M573.4 181.2l2.6-.5 1.3 1-2.6 .5z"/><path color="#c8437b" d="M507.2 178.2l2.4-.6 1.5 1.4-2.5 .7z"/><path color="#cb4679" d="M470.8 176.5l2.4-.5 1.6 1.2-2.4 .5z"/><path color="#c5407e" d="M543.5 180l2.6-.6 1.4 1.3-2.6 .6z"/><path color="#c23c81" d="M603.3 181.8l2.6-.2 1.3 .3-2.6 .2z"/><path color="#c8437b" d="M513.6 178.4l2.5-.6 1.5 1.4-2.5 .7z"/><path color="#cb4679" d="M477.3 176.7l2.4-.6 1.6 1.3-2.5 .5z"/><path color="#c33d80" d="M579.9 181.3l2.6-.4 1.3 .9-2.6 .4z"/><path color="#c5407e" d="M550 180.1l2.6-.6 1.3 1.4-2.5 .5z"/><path color="#cd4a76" d="M447.4 175.5l2.4-.3 1.6 .8-2.4 .3z"/><path color="#c8437b" d="M520.1 178.6l2.5-.6 1.5 1.4-2.5 .7z"/><path color="#cb4679" d="M483.7 176.8l2.5-.5 1.5 1.3-2.4 .6z"/><path color="#c5407e" d="M556.5 180.3l2.6-.6 1.3 1.3-2.5 .5z"/><path color="#c33d80" d="M586.4 181.4l2.6-.4 1.3 .8-2.6 .3z"/><path color="#cd4a76" d="M453.8 175.6l2.4-.3 1.7 .8-2.5 .4z"/><path color="#c8437b" d="M526.6 178.8l2.5-.7 1.5 1.5-2.6 .7z"/><path color="#cb4679" d="M490.2 177l2.5-.6 1.5 1.4-2.5 .6z"/><path color="#c5407e" d="M563 180.5l2.6-.6 1.3 1.2-2.6 .5z"/><path color="#c43e7f" d="M592.9 181.5l2.6-.4 1.3 .7-2.6 .3z"/><path color="#cd4a76" d="M460.3 175.7l2.4-.4 1.6 1-2.4 .4z"/><path color="#c8437b" d="M533.1 179l2.5-.7 1.4 1.5-2.5 .6z"/><path color="#cb4679" d="M496.7 177.2l2.5-.6 1.5 1.4-2.5 .6z"/><path color="#c5407e" d="M569.5 180.6l2.6-.5 1.3 1.1-2.6 .5z"/><path color="#cd4a76" d="M466.8 175.9l2.4-.5 1.6 1.1-2.4 .5z"/><path color="#c43e7f" d="M599.4 181.5l2.6-.3 1.3 .6-2.6 .2z"/><path color="#c8437b" d="M539.6 179.2l2.5-.7 1.4 1.5-2.5 .6z"/><path color="#cb4679" d="M503.2 177.4l2.4-.6 1.6 1.4-2.5 .6z"/><path color="#c6417d" d="M576 180.7l2.6-.4 1.3 1-2.6 .4z"/><path color="#cf4c74" d="M443.3 175.2l2.4-.3 1.7 .6-2.4 .3z"/><path color="#ce4b75" d="M473.2 176l2.5-.5 1.6 1.2-2.5 .5z"/><path color="#cb4679" d="M509.6 177.6l2.5-.7 1.5 1.5-2.5 .6z"/><path color="#c8437b" d="M546.1 179.4l2.5-.7 1.4 1.4-2.5 .6z"/><path color="#c6417d" d="M582.5 180.9l2.6-.5 1.3 1-2.6 .4z"/><path color="#ce4b75" d="M479.7 176.1l2.5-.5 1.5 1.2-2.4 .6z"/><path color="#d04d73" d="M449.8 175.2l2.4-.3 1.6 .7-2.4 .4z"/><path color="#cb4679" d="M516.1 177.8l2.5-.7 1.5 1.5-2.5 .6z"/><path color="#c8437b" d="M552.6 179.5l2.5-.5 1.4 1.3-2.6 .6z"/><path color="#c6417d" d="M589 181l2.6-.4 1.3 .9-2.6 .3z"/><path color="#ce4b75" d="M486.2 176.3l2.5-.6 1.5 1.3-2.5 .6z"/><path color="#cc4778" d="M522.6 178l2.5-.7 1.5 1.5-2.5 .6z"/><path color="#c8437b" d="M559.1 179.7l2.5-.5 1.4 1.3-2.6 .5z"/><path color="#d04d73" d="M456.2 175.3l2.5-.4 1.6 .8-2.4 .4z"/><path color="#ce4b75" d="M492.7 176.4l2.4-.5 1.6 1.3-2.5 .6z"/><path color="#cc4778" d="M529.1 178.1l2.5-.6 1.5 1.5-2.5 .6z"/><path color="#c6417d" d="M595.5 181.1l2.6-.3 1.3 .7-2.6 .3z"/><path color="#c8437b" d="M565.6 179.9l2.5-.5 1.4 1.2-2.6 .5z"/><path color="#d04d73" d="M462.7 175.3l2.5-.4 1.6 1-2.5 .4z"/><path color="#ce4b75" d="M499.2 176.6l2.4-.6 1.6 1.4-2.5 .6z"/><path color="#cc4778" d="M535.6 178.3l2.6-.6 1.4 1.5-2.6 .6z"/><path color="#c8437b" d="M572.1 180.1l2.6-.5 1.3 1.1-2.6 .5z"/><path color="#c7427c" d="M602 181.2l2.6-.2 1.3 .6-2.6 .2z"/><path color="#d04d73" d="M469.2 175.4l2.4-.4 1.6 1-2.4 .5z"/><path color="#cc4778" d="M542.1 178.5l2.6-.6 1.4 1.5-2.6 .6z"/><path color="#ce4b75" d="M505.6 176.8l2.5-.7 1.5 1.5-2.4 .6z"/><path color="#d24f71" d="M445.7 174.9l2.4-.2 1.7 .5-2.4 .3z"/><path color="#c9447a" d="M578.6 180.3l2.6-.5 1.3 1.1-2.6 .4z"/><path color="#d14e72" d="M475.7 175.5l2.4-.5 1.6 1.1-2.4 .6z"/><path color="#cc4778" d="M548.6 178.7l2.6-.6 1.4 1.4-2.6 .6z"/><path color="#ce4b75" d="M512.1 176.9l2.6-.6 1.4 1.5-2.5 .6z"/><path color="#c9447a" d="M585.1 180.4l2.6-.4 1.3 1-2.6 .4z"/><path color="#d24f71" d="M452.2 174.9l2.4-.3 1.6 .7-2.4 .3z"/><path color="#d14e72" d="M482.2 175.6l2.4-.5 1.6 1.2-2.5 .5z"/><path color="#cc4778" d="M555.1 179l2.6-.6 1.4 1.3-2.6 .6z"/><path color="#ce4b75" d="M518.6 177.1l2.6-.6 1.4 1.5-2.5 .6z"/><path color="#c9447a" d="M591.6 180.6l2.6-.4 1.3 .9-2.6 .4z"/><path color="#d35171" d="M458.7 174.9l2.4-.3 1.6 .7-2.4 .4z"/><path color="#d14e72" d="M488.7 175.7l2.4-.5 1.6 1.2-2.5 .6z"/><path color="#cc4778" d="M561.6 179.2l2.6-.6 1.4 1.3-2.6 .6z"/><path color="#ce4b75" d="M525.1 177.3l2.6-.6 1.4 1.4-2.5 .7z"/><path color="#c9447a" d="M598.1 180.8l2.7-.4 1.2 .8-2.6 .3z"/><path color="#d14e72" d="M495.1 175.9l2.5-.6 1.6 1.3-2.5 .6z"/><path color="#d35171" d="M465.2 174.9l2.4-.3 1.6 .8-2.4 .5z"/><path color="#cc4778" d="M568.1 179.4l2.6-.6 1.4 1.3-2.6 .5z"/><path color="#ce4b75" d="M531.6 177.5l2.6-.6 1.4 1.4-2.5 .7z"/><path color="#d45270" d="M441.7 174.8l2.4-.2 1.6 .3-2.4 .3z"/><path color="#d14e72" d="M501.6 176l2.5-.6 1.5 1.4-2.4 .6z"/><path color="#cc4778" d="M574.7 179.6l2.6-.5 1.3 1.2-2.6 .4z"/><path color="#ce4b75" d="M538.2 177.7l2.5-.6 1.4 1.4-2.5 .7z"/><path color="#d35171" d="M471.6 175l2.5-.5 1.6 1-2.5 .5z"/><path color="#d45270" d="M448.1 174.7l2.5-.2 1.6 .4-2.4 .3z"/><path color="#cc4778" d="M581.2 179.8l2.6-.5 1.3 1.1-2.6 .5z"/><path color="#ce4b75" d="M544.7 177.9l2.5-.6 1.4 1.4-2.5 .7z"/><path color="#d14e72" d="M508.1 176.1l2.6-.6 1.4 1.4-2.5 .7z"/><path color="#d45270" d="M478.1 175l2.5-.5 1.6 1.1-2.5 .5z"/><path color="#d5536f" d="M454.6 174.6l2.5-.3 1.6 .6-2.5 .4z"/><path color="#ce4b75" d="M551.2 178.1l2.5-.6 1.4 1.5-2.5 .5z"/><path color="#cc4778" d="M587.7 180l2.6-.4 1.3 1-2.6 .4z"/><path color="#d14e72" d="M514.7 176.3l2.5-.6 1.4 1.4-2.5 .7z"/><path color="#d45270" d="M484.6 175.1l2.5-.5 1.6 1.1-2.5 .6z"/><path color="#ce4b75" d="M557.7 178.4l2.6-.6 1.3 1.4-2.5 .5z"/><path color="#cc4778" d="M594.2 180.2l2.7-.4 1.2 1-2.6 .3z"/><path color="#d14e72" d="M521.2 176.5l2.5-.7 1.4 1.5-2.5 .7z"/><path color="#d5546e" d="M461.1 174.6l2.5-.4 1.6 .7-2.5 .4z"/><path color="#d45270" d="M491.1 175.2l2.5-.6 1.5 1.3-2.4 .5z"/><path color="#ce4b75" d="M564.2 178.6l2.6-.6 1.3 1.4-2.5 .5z"/><path color="#cc4778" d="M600.8 180.4l2.6-.3 1.2 .9-2.6 .2z"/><path color="#d14e72" d="M527.7 176.7l2.5-.7 1.4 1.5-2.5 .6z"/><path color="#d5546e" d="M444.1 174.6l2.4-.1 1.6 .2-2.4 .2z"/><path color="#d5546e" d="M467.6 174.6l2.5-.4 1.5 .8-2.4 .4z"/><path color="#ce4b75" d="M570.7 178.8l2.6-.5 1.4 1.3-2.6 .5z"/><path color="#d45270" d="M497.6 175.3l2.5-.6 1.5 1.3-2.4 .6z"/><path color="#d14e72" d="M534.2 176.9l2.5-.7 1.5 1.5-2.6 .6z"/><path color="#ce4b75" d="M577.3 179.1l2.6-.6 1.3 1.3-2.6 .5z"/><path color="#d6556d" d="M474.1 174.5l2.5-.4 1.5 .9-2.4 .5z"/><path color="#d5536f" d="M504.1 175.4l2.5-.6 1.5 1.3-2.5 .7z"/><path color="#d6556d" d="M450.6 174.5l2.4-.3 1.6 .4-2.4 .3z"/><path color="#d14e72" d="M540.7 177.1l2.6-.7 1.4 1.5-2.6 .6z"/><path color="#ce4b75" d="M583.8 179.3l2.6-.5 1.3 1.2-2.6 .4z"/><path color="#d14e72" d="M547.2 177.3l2.6-.7 1.4 1.5-2.6 .6z"/><path color="#d5536f" d="M510.7 175.5l2.5-.6 1.5 1.4-2.6 .6z"/><path color="#d6556d" d="M480.6 174.5l2.5-.4 1.5 1-2.4 .5z"/><path color="#d7566c" d="M457.1 174.3l2.4-.2 1.6 .5-2.4 .3z"/><path color="#cd4a76" d="M590.3 179.6l2.6-.5 1.3 1.1-2.6 .4z"/><path color="#d14e72" d="M553.7 177.5l2.6-.6 1.4 1.5-2.6 .6z"/><path color="#d6556d" d="M440 174.7l2.5-.1 1.6 0-2.4 .2z"/><path color="#d5536f" d="M517.2 175.7l2.5-.7 1.5 1.5-2.6 .6z"/><path color="#d6556d" d="M487.1 174.6l2.5-.5 1.5 1.1-2.4 .5z"/><path color="#cd4a76" d="M596.9 179.8l2.6-.4 1.3 1-2.7 .4z"/><path color="#d7566c" d="M463.6 174.2l2.4-.3 1.6 .7-2.4 .3z"/><path color="#d14e72" d="M560.3 177.8l2.6-.6 1.3 1.4-2.6 .6z"/><path color="#d5536f" d="M523.7 175.8l2.5-.6 1.5 1.5-2.6 .6z"/><path color="#d7566c" d="M493.6 174.6l2.5-.5 1.5 1.2-2.5 .6z"/><path color="#d8576b" d="M446.5 174.5l2.4-.2 1.7 .2-2.5 .2z"/><path color="#d14e72" d="M566.8 178l2.6-.6 1.3 1.4-2.6 .6z"/><path color="#d5536f" d="M530.2 176l2.5-.6 1.5 1.5-2.6 .6z"/><path color="#d8576b" d="M470.1 174.2l2.4-.4 1.6 .7-2.5 .5z"/><path color="#d14e72" d="M573.3 178.3l2.6-.6 1.4 1.4-2.6 .5z"/><path color="#d7566c" d="M500.1 174.7l2.5-.6 1.5 1.3-2.5 .6z"/><path color="#d5536f" d="M536.7 176.2l2.6-.6 1.4 1.5-2.5 .6z"/><path color="#d8576b" d="M453 174.2l2.4-.2 1.7 .3-2.5 .3z"/><path color="#d14e72" d="M579.9 178.5l2.6-.5 1.3 1.3-2.6 .5z"/><path color="#d9586a" d="M476.6 174.1l2.4-.5 1.6 .9-2.5 .5z"/><path color="#d7566c" d="M506.6 174.8l2.5-.6 1.6 1.3-2.6 .6z"/><path color="#d5536f" d="M543.3 176.4l2.5-.6 1.4 1.5-2.5 .6z"/><path color="#d14e72" d="M586.4 178.8l2.6-.4 1.3 1.2-2.6 .4z"/><path color="#d9586a" d="M459.5 174.1l2.4-.3 1.7 .4-2.5 .4z"/><path color="#d9586a" d="M483.1 174.1l2.4-.5 1.6 1-2.5 .5z"/><path color="#d5536f" d="M549.8 176.6l2.6-.6 1.3 1.5-2.5 .6z"/><path color="#d7566c" d="M513.2 174.9l2.5-.6 1.5 1.4-2.5 .6z"/><path color="#d9586a" d="M442.5 174.6l2.4-.1 1.6 0-2.4 .1z"/><path color="#d04d73" d="M592.9 179.1l2.7-.4 1.3 1.1-2.7 .4z"/><path color="#d5536f" d="M556.3 176.9l2.6-.6 1.4 1.5-2.6 .6z"/><path color="#d7566c" d="M519.7 175l2.5-.6 1.5 1.4-2.5 .7z"/><path color="#d04d73" d="M599.5 179.4l2.6-.3 1.3 1-2.6 .3z"/><path color="#d9586a" d="M489.6 174.1l2.5-.6 1.5 1.1-2.5 .6z"/><path color="#da5a6a" d="M466 173.9l2.5-.4 1.6 .7-2.5 .4z"/><path color="#d5536f" d="M562.9 177.2l2.6-.7 1.3 1.5-2.6 .6z"/><path color="#da5a6a" d="M448.9 174.3l2.5-.2 1.6 .1-2.4 .3z"/><path color="#d7566c" d="M526.2 175.2l2.6-.7 1.4 1.5-2.5 .7z"/><path color="#da5a6a" d="M496.1 174.1l2.5-.6 1.5 1.2-2.5 .6z"/><path color="#d45270" d="M569.4 177.4l2.6-.6 1.3 1.5-2.6 .5z"/><path color="#da5b69" d="M472.5 173.8l2.5-.4 1.6 .7-2.5 .4z"/><path color="#d7566c" d="M532.7 175.4l2.6-.7 1.4 1.5-2.5 .7z"/><path color="#d9586a" d="M438.4 175l2.4-.1 1.7-.3-2.5 .1z"/><path color="#d45270" d="M575.9 177.7l2.7-.5 1.3 1.3-2.6 .6z"/><path color="#da5b69" d="M455.4 174l2.5-.2 1.6 .3-2.4 .2z"/><path color="#da5a6a" d="M502.6 174.1l2.5-.6 1.5 1.3-2.5 .6z"/><path color="#d7566c" d="M539.3 175.6l2.5-.7 1.5 1.5-2.6 .7z"/><path color="#d45270" d="M582.5 178l2.6-.5 1.3 1.3-2.6 .5z"/><path color="#db5c68" d="M479 173.6l2.5-.4 1.6 .9-2.5 .4z"/><path color="#da5a6a" d="M509.1 174.2l2.6-.6 1.5 1.3-2.5 .6z"/><path color="#d7566c" d="M545.8 175.8l2.6-.7 1.4 1.5-2.6 .7z"/><path color="#d45270" d="M589 178.4l2.7-.5 1.2 1.2-2.6 .5z"/><path color="#da5b69" d="M444.9 174.5l2.4-.1 1.6-.1-2.4 .2z"/><path color="#db5c68" d="M461.9 173.8l2.5-.3 1.6 .4-2.4 .3z"/><path color="#db5c68" d="M485.5 173.6l2.5-.5 1.6 1-2.5 .5z"/><path color="#d35171" d="M595.6 178.7l2.6-.4 1.3 1.1-2.6 .4z"/><path color="#d7566c" d="M552.4 176l2.5-.6 1.4 1.5-2.6 .6z"/><path color="#da5b69" d="M515.7 174.3l2.5-.6 1.5 1.3-2.5 .7z"/><path color="#d7566c" d="M558.9 176.3l2.6-.7 1.4 1.6-2.6 .6z"/><path color="#dc5d67" d="M468.5 173.5l2.4-.3 1.6 .6-2.4 .4z"/><path color="#dc5d67" d="M492.1 173.5l2.5-.5 1.5 1.1-2.5 .5z"/><path color="#da5b69" d="M522.2 174.4l2.6-.6 1.4 1.4-2.5 .6z"/><path color="#db5c68" d="M451.4 174.1l2.4-.1 1.6 0-2.4 .2z"/><path color="#d7566c" d="M565.5 176.5l2.6-.6 1.3 1.5-2.6 .6z"/><path color="#da5b69" d="M528.8 174.5l2.5-.6 1.4 1.5-2.5 .6z"/><path color="#dc5d67" d="M498.6 173.5l2.5-.5 1.5 1.1-2.5 .6z"/><path color="#da5b69" d="M440.8 174.9l2.5 0 1.6-.4-2.4 .1z"/><path color="#dd5e66" d="M475 173.4l2.4-.5 1.6 .7-2.4 .5z"/><path color="#d7566c" d="M572 176.8l2.6-.5 1.3 1.4-2.6 .6z"/><path color="#dc5d67" d="M457.9 173.8l2.4-.3 1.6 .3-2.4 .3z"/><path color="#da5b69" d="M535.3 174.7l2.6-.6 1.4 1.5-2.6 .6z"/><path color="#d6556d" d="M578.6 177.2l2.6-.6 1.3 1.4-2.6 .5z"/><path color="#dd5e66" d="M505.1 173.5l2.5-.6 1.5 1.3-2.5 .6z"/><path color="#de5f65" d="M481.5 173.2l2.5-.4 1.5 .8-2.4 .5z"/><path color="#d6556d" d="M585.1 177.5l2.6-.5 1.3 1.4-2.6 .4z"/><path color="#da5b69" d="M541.8 174.9l2.6-.6 1.4 1.5-2.5 .6z"/><path color="#dc5d67" d="M447.3 174.4l2.5-.1 1.6-.2-2.5 .2z"/><path color="#de5f65" d="M464.4 173.5l2.5-.3 1.6 .3-2.5 .4z"/><path color="#dd5e66" d="M511.7 173.6l2.5-.6 1.5 1.3-2.5 .6z"/><path color="#d6556d" d="M591.7 177.9l2.6-.5 1.3 1.3-2.7 .4z"/><path color="#da5b69" d="M548.4 175.1l2.6-.6 1.4 1.5-2.6 .6z"/><path color="#da5b69" d="M436.8 175.5l2.4 .1 1.6-.7-2.4 .1z"/><path color="#de5f65" d="M488 173.1l2.5-.5 1.6 .9-2.5 .6z"/><path color="#d5546e" d="M598.2 178.3l2.7-.5 1.2 1.3-2.6 .3z"/><path color="#da5b69" d="M554.9 175.4l2.6-.7 1.4 1.6-2.6 .6z"/><path color="#dd5e66" d="M518.2 173.7l2.5-.7 1.5 1.4-2.5 .6z"/><path color="#de5f65" d="M453.8 174l2.5-.2 1.6 0-2.5 .2z"/><path color="#de6164" d="M470.9 173.2l2.5-.4 1.6 .6-2.5 .4z"/><path color="#da5a6a" d="M561.5 175.6l2.6-.6 1.4 1.5-2.6 .7z"/><path color="#de6164" d="M494.6 173l2.5-.5 1.5 1-2.5 .6z"/><path color="#dd5e66" d="M524.8 173.8l2.5-.7 1.5 1.4-2.6 .7z"/><path color="#dc5d67" d="M443.3 174.9l2.4 0 1.6-.5-2.4 .1z"/><path color="#da5a6a" d="M568.1 175.9l2.6-.6 1.3 1.5-2.6 .6z"/><path color="#dd5e66" d="M531.3 173.9l2.6-.7 1.4 1.5-2.6 .7z"/><path color="#df6263" d="M477.4 172.9l2.5-.4 1.6 .7-2.5 .4z"/><path color="#de6164" d="M501.1 173l2.5-.6 1.5 1.1-2.5 .6z"/><path color="#de6164" d="M460.3 173.5l2.5-.2 1.6 .2-2.5 .3z"/><path color="#da5a6a" d="M574.6 176.3l2.6-.6 1.4 1.5-2.7 .5z"/><path color="#da5a6a" d="M581.2 176.6l2.6-.5 1.3 1.4-2.6 .5z"/><path color="#dd5e66" d="M537.9 174.1l2.5-.7 1.4 1.5-2.5 .7z"/><path color="#df6263" d="M507.6 172.9l2.6-.5 1.5 1.2-2.6 .6z"/><path color="#de5f65" d="M449.8 174.3l2.4-.1 1.6-.2-2.4 .1z"/><path color="#e06363" d="M484 172.8l2.5-.5 1.5 .8-2.5 .5z"/><path color="#d9586a" d="M587.7 177l2.7-.5 1.3 1.4-2.7 .5z"/><path color="#dc5d67" d="M439.2 175.6l2.4 0 1.7-.7-2.5 0z"/><path color="#dd5e66" d="M544.4 174.3l2.6-.7 1.4 1.5-2.6 .7z"/><path color="#df6263" d="M466.9 173.2l2.4-.3 1.6 .3-2.4 .3z"/><path color="#d9586a" d="M594.3 177.4l2.6-.5 1.3 1.4-2.6 .4z"/><path color="#df6263" d="M514.2 173l2.5-.6 1.5 1.3-2.5 .6z"/><path color="#dd5e66" d="M551 174.5l2.6-.7 1.3 1.6-2.5 .6z"/><path color="#e06363" d="M490.5 172.6l2.5-.5 1.6 .9-2.5 .5z"/><path color="#df6263" d="M456.3 173.8l2.4-.2 1.6-.1-2.4 .3z"/><path color="#dd5e66" d="M557.5 174.7l2.6-.6 1.4 1.5-2.6 .7z"/><path color="#e06363" d="M520.7 173l2.6-.6 1.5 1.4-2.6 .6z"/><path color="#e06363" d="M473.4 172.8l2.5-.3 1.5 .4-2.4 .5z"/><path color="#dc5d67" d="M435.1 176.5l2.5 .1 1.6-1-2.4-.1z"/><path color="#de5f65" d="M445.7 174.9l2.4-.1 1.7-.5-2.5 .1z"/><path color="#e16462" d="M497.1 172.5l2.5-.6 1.5 1.1-2.5 .5z"/><path color="#dd5e66" d="M564.1 175l2.6-.6 1.4 1.5-2.6 .6z"/><path color="#e06363" d="M527.3 173.1l2.6-.6 1.4 1.4-2.5 .6z"/><path color="#dd5e66" d="M570.7 175.3l2.6-.6 1.3 1.6-2.6 .5z"/><path color="#e06363" d="M462.8 173.3l2.5-.2 1.6 .1-2.5 .3z"/><path color="#e26561" d="M479.9 172.5l2.5-.4 1.6 .7-2.5 .4z"/><path color="#e26561" d="M503.6 172.4l2.5-.6 1.5 1.1-2.5 .6z"/><path color="#e06363" d="M533.9 173.2l2.5-.6 1.5 1.5-2.6 .6z"/><path color="#dc5d67" d="M577.2 175.7l2.7-.6 1.3 1.5-2.6 .6z"/><path color="#df6263" d="M452.2 174.2l2.5-.1 1.6-.3-2.5 .2z"/><path color="#de5f65" d="M441.6 175.6l2.5 .1 1.6-.8-2.4 0z"/><path color="#dc5d67" d="M583.8 176.1l2.6-.6 1.3 1.5-2.6 .5z"/><path color="#e06363" d="M540.4 173.4l2.6-.7 1.4 1.6-2.6 .6z"/><path color="#e26660" d="M486.5 172.3l2.5-.4 1.5 .7-2.5 .5z"/><path color="#e26561" d="M510.2 172.4l2.5-.6 1.5 1.2-2.5 .6z"/><path color="#db5c68" d="M590.4 176.5l2.6-.6 1.3 1.5-2.6 .5z"/><path color="#e26561" d="M469.3 172.9l2.5-.3 1.6 .2-2.5 .4z"/><path color="#e06363" d="M547 173.6l2.6-.7 1.4 1.6-2.6 .6z"/><path color="#db5c68" d="M596.9 176.9l2.7-.5 1.3 1.4-2.7 .5z"/><path color="#e26660" d="M516.7 172.4l2.6-.7 1.4 1.3-2.5 .7z"/><path color="#e16462" d="M458.7 173.6l2.5-.2 1.6-.1-2.5 .2z"/><path color="#e26660" d="M493 172.1l2.5-.5 1.6 .9-2.5 .5z"/><path color="#e06363" d="M553.6 173.8l2.6-.6 1.3 1.5-2.6 .7z"/><path color="#dd5e66" d="M437.6 176.6l2.4 .1 1.6-1.1-2.4 0z"/><path color="#df6263" d="M448.1 174.8l2.5 0 1.6-.6-2.4 .1z"/><path color="#e26660" d="M475.9 172.5l2.4-.4 1.6 .4-2.5 .4z"/><path color="#e06363" d="M560.1 174.1l2.6-.7 1.4 1.6-2.6 .6z"/><path color="#e26660" d="M523.3 172.4l2.5-.6 1.5 1.3-2.5 .7z"/><path color="#e3685f" d="M499.6 171.9l2.5-.5 1.5 1-2.5 .6z"/><path color="#df6263" d="M566.7 174.4l2.6-.6 1.4 1.5-2.6 .6z"/><path color="#dc5d67" d="M433.5 177.8l2.5 .3 1.6-1.5-2.5-.1z"/><path color="#e26660" d="M529.9 172.5l2.5-.7 1.5 1.4-2.6 .7z"/><path color="#e26660" d="M465.3 173.1l2.4-.3 1.6 .1-2.4 .3z"/><path color="#e4695e" d="M482.4 172.1l2.5-.4 1.6 .6-2.5 .5z"/><path color="#df6263" d="M573.3 174.7l2.6-.6 1.3 1.6-2.6 .6z"/><path color="#df6263" d="M444.1 175.7l2.4 0 1.6-.9-2.4 .1z"/><path color="#e26561" d="M454.7 174.1l2.4-.1 1.6-.4-2.4 .2z"/><path color="#e4695e" d="M506.1 171.8l2.5-.5 1.6 1.1-2.6 .5z"/><path color="#de6164" d="M579.9 175.1l2.6-.6 1.3 1.6-2.6 .5z"/><path color="#e26660" d="M536.4 172.6l2.6-.7 1.4 1.5-2.5 .7z"/><path color="#de6164" d="M586.4 175.5l2.7-.6 1.3 1.6-2.7 .5z"/><path color="#e56a5d" d="M489 171.9l2.5-.5 1.5 .7-2.5 .5z"/><path color="#e4695e" d="M471.8 172.6l2.5-.3 1.6 .2-2.5 .3z"/><path color="#e26660" d="M543 172.7l2.6-.6 1.4 1.5-2.6 .7z"/><path color="#e56a5d" d="M512.7 171.8l2.5-.6 1.5 1.2-2.5 .6z"/><path color="#de5f65" d="M593 175.9l2.7-.5 1.2 1.5-2.6 .5z"/><path color="#de6164" d="M440 176.7l2.5 .2 1.6-1.2-2.5-.1z"/><path color="#e26660" d="M549.6 172.9l2.6-.6 1.4 1.5-2.6 .7z"/><path color="#e3685f" d="M461.2 173.4l2.5-.1 1.6-.2-2.5 .2z"/><path color="#e16462" d="M450.6 174.8l2.5 0 1.6-.7-2.5 .1z"/><path color="#e56a5d" d="M519.3 171.7l2.5-.6 1.5 1.3-2.6 .6z"/><path color="#e56b5d" d="M495.5 171.6l2.5-.5 1.6 .8-2.5 .6z"/><path color="#e26660" d="M556.2 173.2l2.6-.7 1.3 1.6-2.6 .6z"/><path color="#e56a5d" d="M478.3 172.1l2.5-.3 1.6 .3-2.5 .4z"/><path color="#dd5e66" d="M436 178.1l2.4 .2 1.6-1.6-2.4-.1z"/><path color="#e26660" d="M562.7 173.4l2.6-.6 1.4 1.6-2.6 .6z"/><path color="#e56a5d" d="M525.8 171.8l2.6-.7 1.5 1.4-2.6 .6z"/><path color="#e56b5d" d="M502.1 171.4l2.5-.5 1.5 .9-2.5 .6z"/><path color="#e4695e" d="M467.7 172.8l2.5-.2 1.6 0-2.5 .3z"/><path color="#e26660" d="M569.3 173.8l2.6-.7 1.4 1.6-2.6 .6z"/><path color="#db5c68" d="M431.9 179.6l2.5 .3 1.6-1.8-2.5-.3z"/><path color="#e16462" d="M446.5 175.7l2.5 .1 1.6-1-2.5 0z"/><path color="#e56b5d" d="M484.9 171.7l2.5-.4 1.6 .6-2.5 .4z"/><path color="#e3685f" d="M457.1 174l2.5-.1 1.6-.5-2.5 .2z"/><path color="#e56b5d" d="M532.4 171.8l2.6-.6 1.4 1.4-2.5 .6z"/><path color="#e26561" d="M575.9 174.1l2.6-.6 1.4 1.6-2.7 .6z"/><path color="#e66c5c" d="M508.6 171.3l2.6-.6 1.5 1.1-2.5 .6z"/><path color="#e26561" d="M582.5 174.5l2.6-.6 1.3 1.6-2.6 .6z"/><path color="#e56b5d" d="M539 171.9l2.6-.6 1.4 1.4-2.6 .7z"/><path color="#df6263" d="M442.5 176.9l2.4 .1 1.6-1.3-2.4 0z"/><path color="#e16462" d="M589.1 174.9l2.6-.5 1.3 1.5-2.6 .6z"/><path color="#e56b5d" d="M474.3 172.3l2.5-.3 1.5 .1-2.4 .4z"/><path color="#e76e5b" d="M491.5 171.4l2.5-.5 1.5 .7-2.5 .5z"/><path color="#e06363" d="M595.7 175.4l2.6-.5 1.3 1.5-2.7 .5z"/><path color="#e56b5d" d="M545.6 172.1l2.6-.7 1.4 1.5-2.6 .7z"/><path color="#e76e5b" d="M515.2 171.2l2.6-.6 1.5 1.1-2.6 .7z"/><path color="#e56a5d" d="M463.7 173.3l2.4-.2 1.6-.3-2.4 .3z"/><path color="#e26660" d="M453.1 174.8l2.4 0 1.6-.8-2.4 .1z"/><path color="#de6164" d="M438.4 178.3l2.5 .2 1.6-1.6-2.5-.2z"/><path color="#e56b5d" d="M552.2 172.3l2.6-.7 1.4 1.6-2.6 .6z"/><path color="#e76f5a" d="M498 171.1l2.5-.5 1.6 .8-2.5 .5z"/><path color="#e76e5b" d="M521.8 171.1l2.6-.6 1.4 1.3-2.5 .6z"/><path color="#e76e5b" d="M480.8 171.8l2.5-.4 1.6 .3-2.5 .4z"/><path color="#e56b5d" d="M558.8 172.5l2.6-.6 1.3 1.5-2.6 .7z"/><path color="#dc5d67" d="M434.4 179.9l2.4 .4 1.6-2-2.4-.2z"/><path color="#e26660" d="M449 175.8l2.5 0 1.6-1-2.5 0z"/><path color="#da5a6a" d="M430.3 181.9l2.5 .4 1.6-2.4-2.5-.3z"/><path color="#e66c5c" d="M470.2 172.6l2.5-.2 1.6-.1-2.5 .3z"/><path color="#e56a5d" d="M565.3 172.8l2.7-.6 1.3 1.6-2.6 .6z"/><path color="#e76f5a" d="M528.4 171.1l2.6-.6 1.4 1.3-2.5 .7z"/><path color="#e56a5d" d="M459.6 173.9l2.5-.1 1.6-.5-2.5 .1z"/><path color="#e87059" d="M504.6 170.9l2.5-.6 1.5 1-2.5 .5z"/><path color="#e56a5d" d="M571.9 173.1l2.7-.6 1.3 1.6-2.6 .6z"/><path color="#e76f5a" d="M487.4 171.3l2.5-.4 1.6 .5-2.5 .5z"/><path color="#e76f5a" d="M535 171.2l2.6-.7 1.4 1.4-2.6 .7z"/><path color="#e56a5d" d="M578.5 173.5l2.7-.6 1.3 1.6-2.6 .6z"/><path color="#e16462" d="M444.9 177l2.5 .2 1.6-1.4-2.5-.1z"/><path color="#e97158" d="M511.2 170.7l2.5-.6 1.5 1.1-2.5 .6z"/><path color="#e4695e" d="M585.1 173.9l2.7-.6 1.3 1.6-2.7 .6z"/><path color="#e76f5a" d="M476.8 172l2.5-.3 1.5 .1-2.5 .3z"/><path color="#e76f5a" d="M541.6 171.3l2.6-.7 1.4 1.5-2.6 .6z"/><path color="#e3685f" d="M591.7 174.4l2.7-.6 1.3 1.6-2.7 .5z"/><path color="#e4695e" d="M455.5 174.8l2.5-.1 1.6-.8-2.5 .1z"/><path color="#e97158" d="M494 170.9l2.5-.4 1.5 .6-2.5 .5z"/><path color="#df6263" d="M440.9 178.5l2.4 .2 1.6-1.7-2.4-.1z"/><path color="#e66c5c" d="M466.1 173.1l2.5-.2 1.6-.3-2.5 .2z"/><path color="#e97158" d="M517.8 170.6l2.5-.6 1.5 1.1-2.5 .6z"/><path color="#e76f5a" d="M548.2 171.4l2.6-.6 1.4 1.5-2.6 .6z"/><path color="#dd5e66" d="M436.8 180.3l2.5 .3 1.6-2.1-2.5-.2z"/><path color="#d7566c" d="M428.8 184.6l2.4 .5 1.6-2.8-2.5-.4z"/><path color="#da5b69" d="M432.8 182.3l2.5 .4 1.5-2.4-2.4-.4z"/><path color="#e76f5a" d="M554.8 171.6l2.6-.6 1.4 1.5-2.6 .7z"/><path color="#e97158" d="M483.3 171.4l2.5-.3 1.6 .2-2.5 .4z"/><path color="#e97257" d="M500.5 170.6l2.6-.5 1.5 .8-2.5 .5z"/><path color="#e3685f" d="M451.5 175.8l2.4 .1 1.6-1.1-2.4 0z"/><path color="#e97257" d="M524.4 170.5l2.5-.6 1.5 1.2-2.6 .7z"/><path color="#e76f5a" d="M561.4 171.9l2.6-.7 1.3 1.6-2.6 .6z"/><path color="#e76f5a" d="M472.7 172.4l2.5-.3 1.6-.1-2.5 .3z"/><path color="#e66c5c" d="M462.1 173.8l2.5-.1 1.5-.6-2.4 .2z"/><path color="#e76f5a" d="M568 172.2l2.6-.7 1.3 1.6-2.6 .7z"/><path color="#e97257" d="M531 170.5l2.5-.7 1.5 1.4-2.6 .6z"/><path color="#ea7457" d="M507.1 170.3l2.6-.5 1.5 .9-2.6 .6z"/><path color="#e26660" d="M447.4 177.2l2.5 .1 1.6-1.5-2.5 0z"/><path color="#e97257" d="M489.9 170.9l2.5-.4 1.6 .4-2.5 .5z"/><path color="#e76e5b" d="M574.6 172.5l2.6-.6 1.3 1.6-2.6 .6z"/><path color="#ea7457" d="M537.6 170.5l2.5-.6 1.5 1.4-2.6 .6z"/><path color="#e76e5b" d="M581.2 172.9l2.6-.6 1.3 1.6-2.6 .6z"/><path color="#e06363" d="M443.3 178.7l2.5 .3 1.6-1.8-2.5-.2z"/><path color="#d35171" d="M427.2 187.8l2.5 .7 1.5-3.4-2.4-.5z"/><path color="#e97257" d="M479.3 171.7l2.5-.3 1.5 0-2.5 .4z"/><path color="#e56b5d" d="M458 174.7l2.5 0 1.6-.9-2.5 .1z"/><path color="#eb7556" d="M513.7 170.1l2.6-.5 1.5 1-2.6 .6z"/><path color="#e66c5c" d="M587.8 173.3l2.6-.6 1.3 1.7-2.6 .5z"/><path color="#e87059" d="M468.6 172.9l2.5-.1 1.6-.4-2.5 .2z"/><path color="#de5f65" d="M439.3 180.6l2.5 .3 1.5-2.2-2.4-.2z"/><path color="#ea7457" d="M544.2 170.6l2.6-.7 1.4 1.5-2.6 .7z"/><path color="#d8576b" d="M431.2 185.1l2.5 .5 1.6-2.9-2.5-.4z"/><path color="#eb7556" d="M496.5 170.5l2.5-.5 1.5 .6-2.5 .5z"/><path color="#e66c5c" d="M594.4 173.8l2.7-.5 1.2 1.6-2.6 .5z"/><path color="#db5c68" d="M435.3 182.7l2.4 .4 1.6-2.5-2.5-.3z"/><path color="#eb7655" d="M520.3 170l2.6-.6 1.5 1.1-2.6 .6z"/><path color="#ea7457" d="M550.8 170.8l2.6-.7 1.4 1.5-2.6 .7z"/><path color="#e56a5d" d="M453.9 175.9l2.5 .1 1.6-1.3-2.5 .1z"/><path color="#ea7457" d="M485.8 171.1l2.5-.4 1.6 .2-2.5 .4z"/><path color="#eb7655" d="M503.1 170.1l2.5-.5 1.5 .7-2.5 .6z"/><path color="#ce4b75" d="M425.7 191.6l2.5 .8 1.5-3.9-2.5-.7z"/><path color="#ea7457" d="M557.4 171l2.6-.7 1.4 1.6-2.6 .6z"/><path color="#e76f5a" d="M464.6 173.7l2.4-.1 1.6-.7-2.5 .2z"/><path color="#eb7655" d="M526.9 169.9l2.6-.6 1.5 1.2-2.6 .6z"/><path color="#e97257" d="M475.2 172.1l2.5-.2 1.6-.2-2.5 .3z"/><path color="#e3685f" d="M449.9 177.3l2.4 .1 1.6-1.5-2.4-.1z"/><path color="#ea7457" d="M564 171.2l2.6-.7 1.4 1.7-2.7 .6z"/><path color="#d45270" d="M429.7 188.5l2.5 .6 1.5-3.5-2.5-.5z"/><path color="#e97257" d="M570.6 171.5l2.6-.6 1.4 1.6-2.7 .6z"/><path color="#ec7754" d="M509.7 169.8l2.5-.5 1.5 .8-2.5 .6z"/><path color="#ec7754" d="M533.5 169.8l2.6-.6 1.5 1.3-2.6 .7z"/><path color="#eb7655" d="M492.4 170.5l2.5-.4 1.6 .4-2.5 .4z"/><path color="#e26561" d="M445.8 179l2.5 .2 1.6-1.9-2.5-.1z"/><path color="#d8576b" d="M433.7 185.6l2.5 .6 1.5-3.1-2.4-.4z"/><path color="#e97257" d="M577.2 171.9l2.7-.7 1.3 1.7-2.7 .6z"/><path color="#df6263" d="M441.8 180.9l2.4 .3 1.6-2.2-2.5-.3z"/><path color="#e76e5b" d="M460.5 174.7l2.5 0 1.6-1-2.5 .1z"/><path color="#dc5d67" d="M437.7 183.1l2.5 .4 1.6-2.6-2.5-.3z"/><path color="#eb7556" d="M481.8 171.4l2.5-.3 1.5 0-2.5 .3z"/><path color="#ec7754" d="M540.1 169.9l2.6-.7 1.5 1.4-2.6 .7z"/><path color="#e97158" d="M583.8 172.3l2.7-.6 1.3 1.6-2.7 .6z"/><path color="#e97257" d="M471.1 172.8l2.5-.2 1.6-.5-2.5 .3z"/><path color="#ed7953" d="M516.3 169.6l2.5-.6 1.5 1-2.5 .6z"/><path color="#e97158" d="M590.4 172.7l2.7-.6 1.3 1.7-2.7 .6z"/><path color="#ce4b75" d="M428.2 192.4l2.4 .7 1.6-4-2.5-.6z"/><path color="#ed7953" d="M499 170l2.5-.4 1.6 .5-2.6 .5z"/><path color="#ec7754" d="M546.8 169.9l2.6-.6 1.4 1.5-2.6 .6z"/><path color="#e66c5c" d="M456.4 176l2.5 0 1.6-1.3-2.5 0z"/><path color="#ed7a52" d="M522.9 169.4l2.5-.6 1.5 1.1-2.5 .6z"/><path color="#ec7754" d="M553.4 170.1l2.6-.7 1.4 1.6-2.6 .6z"/><path color="#ec7754" d="M488.3 170.7l2.6-.4 1.5 .2-2.5 .4z"/><path color="#d45270" d="M432.2 189.1l2.4 .6 1.6-3.5-2.5-.6z"/><path color="#e97158" d="M467 173.6l2.5-.1 1.6-.7-2.5 .1z"/><path color="#e56a5d" d="M452.3 177.4l2.5 .2 1.6-1.6-2.5-.1z"/><path color="#ed7a52" d="M505.6 169.6l2.5-.5 1.6 .7-2.6 .5z"/><path color="#eb7655" d="M477.7 171.9l2.5-.3 1.6-.2-2.5 .3z"/><path color="#ec7754" d="M560 170.3l2.6-.7 1.4 1.6-2.6 .7z"/><path color="#ee7b51" d="M529.5 169.3l2.6-.7 1.4 1.2-2.5 .7z"/><path color="#d9586a" d="M436.2 186.2l2.4 .5 1.6-3.2-2.5-.4z"/><path color="#e26660" d="M448.3 179.2l2.5 .2 1.5-2-2.4-.1z"/><path color="#dd5e66" d="M440.2 183.5l2.5 .5 1.5-2.8-2.4-.3z"/><path color="#e06363" d="M444.2 181.2l2.5 .4 1.6-2.4-2.5-.2z"/><path color="#ec7754" d="M566.6 170.5l2.6-.6 1.4 1.6-2.6 .7z"/><path color="#ed7a52" d="M494.9 170.1l2.6-.4 1.5 .3-2.5 .5z"/><path color="#e87059" d="M463 174.7l2.5 0 1.5-1.1-2.4 .1z"/><path color="#ee7b51" d="M512.2 169.3l2.6-.6 1.5 .9-2.6 .5z"/><path color="#ce4b75" d="M430.6 193.1l2.5 .8 1.5-4.2-2.4-.6z"/><path color="#ec7754" d="M573.2 170.9l2.7-.7 1.3 1.7-2.6 .6z"/><path color="#ee7b51" d="M536.1 169.2l2.6-.6 1.4 1.3-2.5 .6z"/><path color="#ed7953" d="M484.3 171.1l2.5-.3 1.5-.1-2.5 .4z"/><path color="#eb7655" d="M579.9 171.2l2.6-.6 1.3 1.7-2.6 .6z"/><path color="#eb7556" d="M473.6 172.6l2.5-.2 1.6-.5-2.5 .2z"/><path color="#eb7655" d="M586.5 171.7l2.7-.7 1.2 1.7-2.6 .6z"/><path color="#ef7c51" d="M542.7 169.2l2.6-.6 1.5 1.3-2.6 .7z"/><path color="#e76f5a" d="M458.9 176l2.5 .1 1.6-1.4-2.5 0z"/><path color="#ef7c51" d="M518.8 169l2.6-.6 1.5 1-2.6 .6z"/><path color="#d5536f" d="M434.6 189.7l2.5 .7 1.5-3.7-2.4-.5z"/><path color="#eb7556" d="M593.1 172.1l2.7-.6 1.3 1.8-2.7 .5z"/><path color="#ef7c51" d="M501.5 169.6l2.6-.5 1.5 .5-2.5 .5z"/><path color="#ef7c51" d="M549.4 169.3l2.6-.7 1.4 1.5-2.6 .7z"/><path color="#e56b5d" d="M454.8 177.6l2.5 .1 1.6-1.7-2.5 0z"/><path color="#da5a6a" d="M438.6 186.7l2.5 .5 1.6-3.2-2.5-.5z"/><path color="#eb7556" d="M469.5 173.5l2.5-.1 1.6-.8-2.5 .2z"/><path color="#ee7b51" d="M490.9 170.3l2.5-.3 1.5 .1-2.5 .4z"/><path color="#ef7e50" d="M525.4 168.8l2.6-.6 1.5 1.1-2.6 .6z"/><path color="#e4695e" d="M450.8 179.4l2.5 .3 1.5-2.1-2.5-.2z"/><path color="#ef7c51" d="M556 169.4l2.6-.7 1.4 1.6-2.6 .7z"/><path color="#ed7953" d="M480.2 171.6l2.5-.2 1.6-.3-2.5 .3z"/><path color="#de5f65" d="M442.7 184l2.5 .4 1.5-2.8-2.5-.4z"/><path color="#ce4b75" d="M433.1 193.9l2.5 .7 1.5-4.2-2.5-.7z"/><path color="#e16462" d="M446.7 181.6l2.5 .3 1.6-2.5-2.5-.2z"/><path color="#ef7e50" d="M508.1 169.1l2.6-.5 1.5 .7-2.5 .5z"/><path color="#ef7c51" d="M562.6 169.6l2.6-.7 1.4 1.6-2.6 .7z"/><path color="#f07f4f" d="M532.1 168.6l2.6-.6 1.4 1.2-2.6 .6z"/><path color="#e97257" d="M465.5 174.7l2.5-.1 1.5-1.1-2.5 .1z"/><path color="#ef7c51" d="M569.2 169.9l2.7-.7 1.3 1.7-2.6 .6z"/><path color="#ef7e50" d="M497.5 169.7l2.5-.4 1.5 .3-2.5 .4z"/><path color="#d5536f" d="M437.1 190.4l2.5 .6 1.5-3.8-2.5-.5z"/><path color="#f07f4f" d="M514.8 168.7l2.5-.5 1.5 .8-2.5 .6z"/><path color="#ed7953" d="M476.1 172.4l2.5-.2 1.6-.6-2.5 .3z"/><path color="#ee7b51" d="M575.9 170.2l2.6-.7 1.4 1.7-2.7 .7z"/><path color="#f0804e" d="M538.7 168.6l2.6-.7 1.4 1.3-2.6 .7z"/><path color="#ee7b51" d="M486.8 170.8l2.5-.3 1.6-.2-2.6 .4z"/><path color="#e97158" d="M461.4 176.1l2.5 0 1.6-1.4-2.5 0z"/><path color="#ee7b51" d="M582.5 170.6l2.7-.7 1.3 1.8-2.7 .6z"/><path color="#da5a6a" d="M441.1 187.2l2.5 .6 1.6-3.4-2.5-.4z"/><path color="#ed7a52" d="M589.2 171l2.6-.6 1.3 1.7-2.7 .6z"/><path color="#f0804e" d="M545.3 168.6l2.6-.7 1.5 1.4-2.6 .6z"/><path color="#e76e5b" d="M457.3 177.7l2.5 .2 1.6-1.8-2.5-.1z"/><path color="#f1814d" d="M521.4 168.4l2.6-.6 1.4 1-2.5 .6z"/><path color="#ce4b75" d="M435.6 194.6l2.5 .8 1.5-4.4-2.5-.6z"/><path color="#f0804e" d="M504.1 169.1l2.5-.4 1.5 .4-2.5 .5z"/><path color="#de6164" d="M445.2 184.4l2.4 .4 1.6-2.9-2.5-.3z"/><path color="#e56a5d" d="M453.3 179.7l2.4 .2 1.6-2.2-2.5-.1z"/><path color="#ec7754" d="M472 173.4l2.5-.1 1.6-.9-2.5 .2z"/><path color="#e26561" d="M449.2 181.9l2.5 .3 1.6-2.5-2.5-.3z"/><path color="#f0804e" d="M552 168.6l2.6-.6 1.4 1.4-2.6 .7z"/><path color="#f07f4f" d="M493.4 170l2.5-.4 1.6 .1-2.6 .4z"/><path color="#ef7c51" d="M482.7 171.4l2.5-.3 1.6-.3-2.5 .3z"/><path color="#f1834c" d="M528 168.2l2.6-.6 1.5 1-2.6 .7z"/><path color="#f0804e" d="M558.6 168.7l2.6-.6 1.4 1.5-2.6 .7z"/><path color="#d5546e" d="M439.6 191l2.5 .7 1.5-3.9-2.5-.6z"/><path color="#f1814d" d="M510.7 168.6l2.6-.5 1.5 .6-2.6 .6z"/><path color="#eb7556" d="M468 174.6l2.5 0 1.5-1.2-2.5 .1z"/><path color="#f0804e" d="M565.2 168.9l2.7-.6 1.3 1.6-2.6 .6z"/><path color="#f1834c" d="M534.7 168l2.5-.6 1.5 1.2-2.6 .6z"/><path color="#f1814d" d="M500 169.3l2.5-.4 1.6 .2-2.6 .5z"/><path color="#da5b69" d="M443.6 187.8l2.5 .5 1.5-3.5-2.4-.4z"/><path color="#e97257" d="M463.9 176.1l2.5 .1 1.6-1.6-2.5 .1z"/><path color="#ee7b51" d="M478.6 172.2l2.5-.1 1.6-.7-2.5 .2z"/><path color="#ce4b75" d="M438.1 195.4l2.5 .8 1.5-4.5-2.5-.7z"/><path color="#f0804e" d="M571.9 169.2l2.6-.7 1.4 1.7-2.7 .7z"/><path color="#f2844b" d="M517.3 168.2l2.6-.5 1.5 .7-2.6 .6z"/><path color="#f07f4f" d="M489.3 170.5l2.5-.3 1.6-.2-2.5 .3z"/><path color="#f0804e" d="M578.5 169.5l2.7-.6 1.3 1.7-2.6 .6z"/><path color="#f2844b" d="M541.3 167.9l2.6-.6 1.4 1.3-2.6 .6z"/><path color="#de6164" d="M447.6 184.8l2.5 .5 1.6-3.1-2.5-.3z"/><path color="#e87059" d="M459.8 177.9l2.5 .1 1.6-1.9-2.5 0z"/><path color="#f07f4f" d="M585.2 169.9l2.6-.6 1.4 1.7-2.7 .7z"/><path color="#e56b5d" d="M455.7 179.9l2.5 .2 1.6-2.2-2.5-.2z"/><path color="#e26660" d="M451.7 182.2l2.5 .3 1.5-2.6-2.4-.2z"/><path color="#ef7e50" d="M591.8 170.4l2.7-.6 1.3 1.7-2.7 .6z"/><path color="#f2844b" d="M506.6 168.7l2.6-.5 1.5 .4-2.6 .5z"/><path color="#ed7a52" d="M474.5 173.3l2.6-.1 1.5-1-2.5 .2z"/><path color="#f2844b" d="M547.9 167.9l2.6-.7 1.5 1.4-2.6 .7z"/><path color="#f3854b" d="M524 167.8l2.5-.5 1.5 .9-2.6 .6z"/><path color="#d5546e" d="M442.1 191.7l2.5 .6 1.5-4-2.5-.5z"/><path color="#f1834c" d="M495.9 169.6l2.6-.3 1.5 0-2.5 .4z"/><path color="#f07f4f" d="M485.2 171.1l2.5-.2 1.6-.4-2.5 .3z"/><path color="#f3854b" d="M554.6 168l2.6-.7 1.4 1.4-2.6 .7z"/><path color="#ec7754" d="M470.5 174.6l2.5 0 1.5-1.3-2.5 .1z"/><path color="#f3874a" d="M530.6 167.6l2.6-.6 1.5 1-2.6 .6z"/><path color="#cf4c74" d="M440.6 196.2l2.5 .7 1.5-4.6-2.5-.6z"/><path color="#db5c68" d="M446.1 188.3l2.5 .5 1.5-3.5-2.5-.5z"/><path color="#f3854b" d="M513.3 168.1l2.5-.5 1.5 .6-2.5 .5z"/><path color="#f3854b" d="M561.2 168.1l2.7-.7 1.3 1.5-2.6 .7z"/><path color="#eb7556" d="M466.4 176.2l2.5 0 1.6-1.6-2.5 0z"/><path color="#f3854b" d="M567.9 168.3l2.6-.7 1.4 1.6-2.7 .7z"/><path color="#df6263" d="M450.1 185.3l2.5 .4 1.6-3.2-2.5-.3z"/><path color="#ef7e50" d="M481.1 172.1l2.6-.2 1.5-.8-2.5 .3z"/><path color="#f48849" d="M537.2 167.4l2.6-.6 1.5 1.1-2.6 .7z"/><path color="#f3854b" d="M502.5 168.9l2.6-.5 1.5 .3-2.5 .4z"/><path color="#e97158" d="M462.3 178l2.5 .1 1.6-1.9-2.5-.1z"/><path color="#f1834c" d="M491.8 170.2l2.6-.3 1.5-.3-2.5 .4z"/><path color="#e3685f" d="M454.2 182.5l2.5 .4 1.5-2.8-2.5-.2z"/><path color="#e76e5b" d="M458.2 180.1l2.5 .3 1.6-2.4-2.5-.1z"/><path color="#f2844b" d="M574.5 168.5l2.7-.6 1.3 1.6-2.6 .7z"/><path color="#f48849" d="M519.9 167.7l2.6-.6 1.5 .7-2.6 .6z"/><path color="#d5546e" d="M444.6 192.3l2.5 .7 1.5-4.2-2.5-.5z"/><path color="#f2844b" d="M581.2 168.9l2.7-.7 1.3 1.7-2.7 .7z"/><path color="#f48849" d="M543.9 167.3l2.6-.7 1.4 1.3-2.6 .7z"/><path color="#ef7c51" d="M477.1 173.2l2.5-.1 1.5-1-2.5 .1z"/><path color="#f1834c" d="M587.8 169.3l2.7-.6 1.3 1.7-2.6 .6z"/><path color="#cf4c74" d="M443.1 196.9l2.5 .8 1.5-4.7-2.5-.7z"/><path color="#f48849" d="M509.2 168.2l2.5-.5 1.6 .4-2.6 .5z"/><path color="#f48948" d="M526.5 167.3l2.6-.6 1.5 .9-2.6 .6z"/><path color="#f48948" d="M550.5 167.2l2.7-.6 1.4 1.4-2.6 .6z"/><path color="#db5c68" d="M448.6 188.8l2.5 .6 1.5-3.7-2.5-.4z"/><path color="#f1834c" d="M487.7 170.9l2.6-.2 1.5-.5-2.5 .3z"/><path color="#f3854b" d="M498.5 169.3l2.5-.4 1.5 0-2.5 .4z"/><path color="#ed7a52" d="M473 174.6l2.5 0 1.6-1.4-2.6 .1z"/><path color="#f48948" d="M557.2 167.3l2.6-.7 1.4 1.5-2.6 .6z"/><path color="#e06363" d="M452.6 185.7l2.5 .4 1.6-3.2-2.5-.4z"/><path color="#f58b47" d="M533.2 167l2.6-.6 1.4 1-2.5 .6z"/><path color="#ec7754" d="M468.9 176.2l2.5 .1 1.6-1.7-2.5 0z"/><path color="#f58b47" d="M515.8 167.6l2.6-.5 1.5 .6-2.6 .5z"/><path color="#d6556d" d="M447.1 193l2.5 .6 1.5-4.2-2.5-.6z"/><path color="#f48948" d="M563.9 167.4l2.6-.7 1.4 1.6-2.7 .6z"/><path color="#e56a5d" d="M456.7 182.9l2.5 .3 1.5-2.8-2.5-.3z"/><path color="#ea7457" d="M464.8 178.1l2.5 .2 1.6-2.1-2.5 0z"/><path color="#f1814d" d="M483.7 171.9l2.5-.2 1.5-.8-2.5 .2z"/><path color="#e76f5a" d="M460.7 180.4l2.6 .2 1.5-2.5-2.5-.1z"/><path color="#f48948" d="M505.1 168.4l2.5-.4 1.6 .2-2.6 .5z"/><path color="#f48948" d="M570.5 167.6l2.7-.7 1.3 1.6-2.6 .7z"/><path color="#f58c46" d="M539.8 166.8l2.7-.7 1.4 1.2-2.6 .6z"/><path color="#f3854b" d="M494.4 169.9l2.5-.4 1.6-.2-2.6 .3z"/><path color="#cf4c74" d="M445.6 197.7l2.5 .7 1.5-4.8-2.5-.6z"/><path color="#f58c46" d="M522.5 167.1l2.5-.5 1.5 .7-2.5 .5z"/><path color="#f48948" d="M577.2 167.9l2.7-.7 1.3 1.7-2.7 .6z"/><path color="#f07f4f" d="M479.6 173.1l2.5-.1 1.6-1.1-2.6 .2z"/><path color="#dc5d67" d="M451.1 189.4l2.5 .5 1.5-3.8-2.5-.4z"/><path color="#f48849" d="M583.9 168.2l2.6-.6 1.3 1.7-2.6 .6z"/><path color="#f68d45" d="M546.5 166.6l2.6-.6 1.4 1.2-2.6 .7z"/><path color="#f48849" d="M590.5 168.7l2.7-.7 1.3 1.8-2.7 .6z"/><path color="#f58c46" d="M511.7 167.7l2.6-.4 1.5 .3-2.5 .5z"/><path color="#f3854b" d="M490.3 170.7l2.5-.3 1.6-.5-2.6 .3z"/><path color="#ef7c51" d="M475.5 174.6l2.5-.1 1.6-1.4-2.5 .1z"/><path color="#e16462" d="M455.1 186.1l2.6 .4 1.5-3.3-2.5-.3z"/><path color="#f68d45" d="M529.1 166.7l2.6-.6 1.5 .9-2.6 .6z"/><path color="#f68d45" d="M553.2 166.6l2.6-.7 1.4 1.4-2.6 .7z"/><path color="#f48948" d="M501 168.9l2.6-.4 1.5-.1-2.6 .5z"/><path color="#d6556d" d="M449.6 193.6l2.5 .7 1.5-4.4-2.5-.5z"/><path color="#ed7a52" d="M471.4 176.3l2.5 0 1.6-1.7-2.5 0z"/><path color="#e56b5d" d="M459.2 183.2l2.5 .3 1.6-2.9-2.6-.2z"/><path color="#cf4c74" d="M448.1 198.4l2.5 .8 1.5-4.9-2.5-.7z"/><path color="#eb7556" d="M467.3 178.3l2.5 .1 1.6-2.1-2.5-.1z"/><path color="#f68f44" d="M559.8 166.6l2.7-.7 1.4 1.5-2.7 .7z"/><path color="#e97158" d="M463.3 180.6l2.5 .2 1.5-2.5-2.5-.2z"/><path color="#f79044" d="M535.8 166.4l2.6-.6 1.4 1-2.6 .6z"/><path color="#f68f44" d="M518.4 167.1l2.6-.5 1.5 .5-2.6 .6z"/><path color="#f2844b" d="M486.2 171.7l2.5-.2 1.6-.8-2.6 .2z"/><path color="#f68f44" d="M566.5 166.7l2.7-.7 1.3 1.6-2.6 .7z"/><path color="#dd5e66" d="M453.6 189.9l2.5 .5 1.6-3.9-2.6-.4z"/><path color="#f68d45" d="M507.6 168l2.6-.4 1.5 .1-2.5 .5z"/><path color="#f48948" d="M496.9 169.5l2.6-.3 1.5-.3-2.5 .4z"/><path color="#f79143" d="M542.5 166.1l2.6-.6 1.4 1.1-2.6 .7z"/><path color="#f68f44" d="M573.2 166.9l2.7-.7 1.3 1.7-2.7 .6z"/><path color="#f1834c" d="M482.1 173l2.5-.1 1.6-1.2-2.5 .2z"/><path color="#f79044" d="M525 166.6l2.6-.6 1.5 .7-2.6 .6z"/><path color="#f68d45" d="M579.9 167.2l2.6-.7 1.4 1.7-2.7 .7z"/><path color="#e26561" d="M457.7 186.5l2.5 .5 1.5-3.5-2.5-.3z"/><path color="#d7566c" d="M452.1 194.3l2.5 .6 1.5-4.5-2.5-.5z"/><path color="#f68d45" d="M586.5 167.6l2.7-.7 1.3 1.8-2.7 .6z"/><path color="#f79143" d="M549.1 166l2.7-.7 1.4 1.3-2.7 .6z"/><path color="#f07f4f" d="M478 174.5l2.5 0 1.6-1.5-2.5 .1z"/><path color="#cf4c74" d="M450.6 199.2l2.5 .8 1.5-5.1-2.5-.6z"/><path color="#f48948" d="M492.8 170.4l2.6-.2 1.5-.7-2.5 .4z"/><path color="#f79044" d="M514.3 167.3l2.6-.5 1.5 .3-2.6 .5z"/><path color="#e66c5c" d="M461.7 183.5l2.5 .3 1.6-3-2.5-.2z"/><path color="#ef7c51" d="M473.9 176.3l2.5 .1 1.6-1.9-2.5 .1z"/><path color="#f68d45" d="M503.6 168.5l2.5-.3 1.5-.2-2.5 .4z"/><path color="#f79342" d="M531.7 166.1l2.6-.6 1.5 .9-2.6 .6z"/><path color="#e97257" d="M465.8 180.8l2.5 .3 1.5-2.7-2.5-.1z"/><path color="#ec7754" d="M469.8 178.4l2.6 .2 1.5-2.3-2.5 0z"/><path color="#f79342" d="M555.8 165.9l2.6-.7 1.4 1.4-2.6 .7z"/><path color="#dd5e66" d="M456.1 190.4l2.5 .6 1.6-4-2.5-.5z"/><path color="#f3874a" d="M488.7 171.5l2.6-.2 1.5-.9-2.5 .3z"/><path color="#f79342" d="M562.5 165.9l2.6-.6 1.4 1.4-2.6 .7z"/><path color="#f79342" d="M521 166.6l2.6-.5 1.4 .5-2.5 .5z"/><path color="#f89441" d="M538.4 165.8l2.6-.6 1.5 .9-2.7 .7z"/><path color="#d7566c" d="M454.6 194.9l2.5 .7 1.5-4.6-2.5-.6z"/><path color="#f68d45" d="M499.5 169.2l2.5-.3 1.6-.4-2.6 .4z"/><path color="#f79044" d="M510.2 167.6l2.6-.4 1.5 .1-2.6 .4z"/><path color="#f79342" d="M569.2 166l2.6-.6 1.4 1.5-2.7 .7z"/><path color="#e26660" d="M460.2 187l2.5 .4 1.5-3.6-2.5-.3z"/><path color="#f3854b" d="M484.6 172.9l2.6-.1 1.5-1.3-2.5 .2z"/><path color="#cf4c74" d="M453.1 200l2.5 .7 1.5-5.1-2.5-.7z"/><path color="#f89540" d="M545.1 165.5l2.6-.6 1.4 1.1-2.6 .6z"/><path color="#f79342" d="M575.9 166.2l2.6-.6 1.4 1.6-2.7 .7z"/><path color="#f89540" d="M527.6 166l2.6-.5 1.5 .6-2.6 .6z"/><path color="#e76e5b" d="M464.2 183.8l2.5 .4 1.6-3.1-2.5-.3z"/><path color="#f1814d" d="M480.5 174.5l2.6 0 1.5-1.6-2.5 .1z"/><path color="#f79342" d="M582.5 166.5l2.7-.6 1.3 1.7-2.6 .6z"/><path color="#f58c46" d="M495.4 170.2l2.5-.3 1.6-.7-2.6 .3z"/><path color="#ef7e50" d="M476.4 176.4l2.6 0 1.5-1.9-2.5 0z"/><path color="#ea7457" d="M468.3 181.1l2.5 .2 1.6-2.7-2.6-.2z"/><path color="#f79143" d="M589.2 166.9l2.7-.7 1.3 1.8-2.7 .7z"/><path color="#f9973f" d="M551.8 165.3l2.6-.6 1.4 1.2-2.6 .7z"/><path color="#ed7a52" d="M472.4 178.6l2.5 .1 1.5-2.3-2.5-.1z"/><path color="#de5f65" d="M458.6 191l2.6 .5 1.5-4.1-2.5-.4z"/><path color="#f89441" d="M516.9 166.8l2.6-.5 1.5 .3-2.6 .5z"/><path color="#f79143" d="M506.1 168.2l2.6-.4 1.5-.2-2.6 .4z"/><path color="#f9973f" d="M534.3 165.5l2.6-.5 1.5 .8-2.6 .6z"/><path color="#f9973f" d="M558.4 165.2l2.7-.6 1.4 1.3-2.7 .7z"/><path color="#d7566c" d="M457.1 195.6l2.6 .6 1.5-4.7-2.6-.5z"/><path color="#f58b47" d="M491.3 171.3l2.5-.1 1.6-1-2.6 .2z"/><path color="#cf4c74" d="M455.6 200.7l2.6 .8 1.5-5.3-2.6-.6z"/><path color="#e3685f" d="M462.7 187.4l2.5 .4 1.5-3.6-2.5-.4z"/><path color="#f9973f" d="M523.6 166.1l2.5-.5 1.5 .4-2.6 .6z"/><path color="#f9983e" d="M565.1 165.3l2.7-.7 1.4 1.4-2.7 .7z"/><path color="#f9983e" d="M541 165.2l2.6-.7 1.5 1-2.6 .6z"/><path color="#f79044" d="M502 168.9l2.6-.3 1.5-.4-2.5 .3z"/><path color="#f48849" d="M487.2 172.8l2.5-.1 1.6-1.4-2.6 .2z"/><path color="#f89441" d="M512.8 167.2l2.6-.4 1.5 0-2.6 .5z"/><path color="#e76f5a" d="M466.7 184.2l2.6 .3 1.5-3.2-2.5-.2z"/><path color="#f9983e" d="M571.8 165.4l2.7-.7 1.4 1.5-2.7 .7z"/><path color="#f2844b" d="M483.1 174.5l2.5-.1 1.6-1.6-2.6 .1z"/><path color="#de6164" d="M461.2 191.5l2.5 .6 1.5-4.3-2.5-.4z"/><path color="#eb7655" d="M470.8 181.3l2.5 .2 1.6-2.8-2.5-.1z"/><path color="#f99a3e" d="M547.7 164.9l2.6-.7 1.5 1.1-2.7 .7z"/><path color="#f9983e" d="M578.5 165.6l2.7-.7 1.3 1.6-2.6 .7z"/><path color="#f0804e" d="M479 176.4l2.5 .1 1.6-2-2.6 0z"/><path color="#f99a3e" d="M530.2 165.5l2.6-.6 1.5 .6-2.6 .6z"/><path color="#ee7b51" d="M474.9 178.7l2.5 .2 1.6-2.5-2.6 0z"/><path color="#f79044" d="M497.9 169.9l2.6-.2 1.5-.8-2.5 .3z"/><path color="#f9973f" d="M585.2 165.9l2.7-.7 1.3 1.7-2.7 .7z"/><path color="#d8576b" d="M459.7 196.2l2.5 .7 1.5-4.8-2.5-.6z"/><path color="#d04d73" d="M458.2 201.5l2.5 .8 1.5-5.4-2.5-.7z"/><path color="#f9983e" d="M519.5 166.3l2.6-.4 1.5 .2-2.6 .5z"/><path color="#fa9b3d" d="M554.4 164.7l2.6-.7 1.4 1.2-2.6 .7z"/><path color="#f89441" d="M508.7 167.8l2.6-.4 1.5-.2-2.6 .4z"/><path color="#e4695e" d="M465.2 187.8l2.5 .5 1.6-3.8-2.6-.3z"/><path color="#fa9b3d" d="M536.9 165l2.6-.6 1.5 .8-2.6 .6z"/><path color="#f68d45" d="M493.8 171.2l2.6-.2 1.5-1.1-2.5 .3z"/><path color="#fa9c3c" d="M561.1 164.6l2.6-.7 1.4 1.4-2.6 .6z"/><path color="#e87059" d="M469.3 184.5l2.5 .3 1.5-3.3-2.5-.2z"/><path color="#f58b47" d="M489.7 172.7l2.6-.1 1.5-1.4-2.5 .1z"/><path color="#fa9b3d" d="M526.1 165.6l2.6-.5 1.5 .4-2.6 .5z"/><path color="#de6164" d="M463.7 192.1l2.5 .5 1.5-4.3-2.5-.5z"/><path color="#f89441" d="M504.6 168.6l2.6-.3 1.5-.5-2.6 .4z"/><path color="#fa9c3c" d="M567.8 164.6l2.7-.7 1.3 1.5-2.6 .6z"/><path color="#fa9e3b" d="M543.6 164.5l2.7-.6 1.4 1-2.6 .6z"/><path color="#f9983e" d="M515.4 166.8l2.5-.4 1.6-.1-2.6 .5z"/><path color="#ec7754" d="M473.3 181.5l2.6 .3 1.5-2.9-2.5-.2z"/><path color="#f3874a" d="M485.6 174.4l2.6 0 1.5-1.7-2.5 .1z"/><path color="#d8576b" d="M462.2 196.9l2.5 .6 1.5-4.9-2.5-.5z"/><path color="#d04d73" d="M460.7 202.3l2.5 .8 1.5-5.6-2.5-.6z"/><path color="#ef7e50" d="M477.4 178.9l2.6 .1 1.5-2.5-2.5-.1z"/><path color="#f1834c" d="M481.5 176.5l2.6 .1 1.5-2.2-2.5 .1z"/><path color="#fa9c3c" d="M574.5 164.7l2.7-.7 1.3 1.6-2.6 .6z"/><path color="#fb9f3a" d="M550.3 164.2l2.7-.6 1.4 1.1-2.6 .6z"/><path color="#f79342" d="M500.5 169.7l2.5-.3 1.6-.8-2.6 .3z"/><path color="#fa9e3b" d="M532.8 164.9l2.7-.5 1.4 .6-2.6 .5z"/><path color="#fa9c3c" d="M581.2 164.9l2.7-.7 1.3 1.7-2.7 .6z"/><path color="#e56a5d" d="M467.7 188.3l2.6 .4 1.5-3.9-2.5-.3z"/><path color="#fa9c3c" d="M587.9 165.2l2.7-.7 1.3 1.7-2.7 .7z"/><path color="#fa9c3c" d="M522.1 165.9l2.5-.5 1.5 .2-2.5 .5z"/><path color="#f9983e" d="M511.3 167.4l2.5-.3 1.6-.3-2.6 .4z"/><path color="#fba139" d="M557 164l2.7-.6 1.4 1.2-2.7 .6z"/><path color="#f79044" d="M496.4 171l2.5-.2 1.6-1.1-2.6 .2z"/><path color="#e97257" d="M471.8 184.8l2.5 .4 1.6-3.4-2.6-.3z"/><path color="#df6263" d="M466.2 192.6l2.6 .5 1.5-4.4-2.6-.4z"/><path color="#fba139" d="M539.5 164.4l2.7-.6 1.4 .7-2.6 .7z"/><path color="#d04d73" d="M463.2 203.1l2.6 .7 1.5-5.6-2.6-.7z"/><path color="#d9586a" d="M464.7 197.5l2.6 .7 1.5-5.1-2.6-.5z"/><path color="#f68d45" d="M492.3 172.6l2.5-.1 1.6-1.5-2.6 .2z"/><path color="#fba139" d="M563.7 163.9l2.7-.7 1.4 1.4-2.7 .7z"/><path color="#ed7953" d="M475.9 181.8l2.5 .2 1.6-3-2.6-.1z"/><path color="#f9983e" d="M507.2 168.3l2.5-.3 1.6-.6-2.6 .4z"/><path color="#fb9f3a" d="M528.7 165.1l2.7-.6 1.4 .4-2.6 .6z"/><path color="#f48948" d="M488.2 174.4l2.5 0 1.6-1.8-2.6 .1z"/><path color="#f0804e" d="M480 179l2.5 .1 1.6-2.5-2.6-.1z"/><path color="#f3854b" d="M484.1 176.6l2.5 0 1.6-2.2-2.6 0z"/><path color="#fa9c3c" d="M517.9 166.4l2.6-.5 1.6 0-2.6 .4z"/><path color="#fba238" d="M546.3 163.9l2.6-.6 1.4 .9-2.6 .7z"/><path color="#fba238" d="M570.5 163.9l2.6-.7 1.4 1.5-2.7 .7z"/><path color="#e56b5d" d="M470.3 188.7l2.5 .4 1.5-3.9-2.5-.4z"/><path color="#fba238" d="M577.2 164l2.7-.7 1.3 1.6-2.7 .7z"/><path color="#f9973f" d="M503 169.4l2.6-.2 1.6-.9-2.6 .3z"/><path color="#fca338" d="M553 163.6l2.6-.7 1.4 1.1-2.6 .7z"/><path color="#fba238" d="M535.5 164.4l2.6-.6 1.4 .6-2.6 .6z"/><path color="#fba238" d="M583.9 164.2l2.7-.7 1.3 1.7-2.7 .7z"/><path color="#e06363" d="M468.8 193.1l2.5 .6 1.5-4.6-2.5-.4z"/><path color="#ea7457" d="M474.3 185.2l2.6 .3 1.5-3.5-2.5-.2z"/><path color="#d04d73" d="M465.8 203.8l2.5 .8 1.5-5.8-2.5-.6z"/><path color="#fa9c3c" d="M513.8 167.1l2.6-.4 1.5-.3-2.5 .4z"/><path color="#fba139" d="M524.6 165.4l2.7-.5 1.4 .2-2.6 .5z"/><path color="#d9586a" d="M467.3 198.2l2.5 .6 1.5-5.1-2.5-.6z"/><path color="#f89441" d="M498.9 170.8l2.6-.2 1.5-1.2-2.5 .3z"/><path color="#fca537" d="M559.7 163.4l2.6-.7 1.4 1.2-2.6 .7z"/><path color="#ee7b51" d="M478.4 182l2.6 .2 1.5-3.1-2.5-.1z"/><path color="#f79044" d="M494.8 172.5l2.6-.1 1.5-1.6-2.5 .2z"/><path color="#fca537" d="M542.2 163.8l2.6-.6 1.5 .7-2.7 .6z"/><path color="#f1814d" d="M482.5 179.1l2.6 .2 1.5-2.7-2.5 0z"/><path color="#f58c46" d="M490.7 174.4l2.6 0 1.5-1.9-2.5 .1z"/><path color="#e66c5c" d="M472.8 189.1l2.6 .5 1.5-4.1-2.6-.3z"/><path color="#fa9b3d" d="M509.7 168l2.6-.3 1.5-.6-2.5 .3z"/><path color="#fca636" d="M566.4 163.2l2.7-.6 1.4 1.3-2.7 .7z"/><path color="#f48849" d="M486.6 176.6l2.6 .1 1.5-2.3-2.5 0z"/><path color="#fca338" d="M531.4 164.5l2.6-.5 1.5 .4-2.7 .5z"/><path color="#fba139" d="M520.5 165.9l2.6-.4 1.5-.1-2.5 .5z"/><path color="#fca636" d="M548.9 163.3l2.6-.6 1.5 .9-2.7 .6z"/><path color="#fca636" d="M573.1 163.2l2.7-.7 1.4 1.5-2.7 .7z"/><path color="#d04d73" d="M468.3 204.6l2.6 .8 1.4-5.9-2.5-.7z"/><path color="#e06363" d="M471.3 193.7l2.6 .5 1.5-4.6-2.6-.5z"/><path color="#f99a3e" d="M505.6 169.2l2.6-.3 1.5-.9-2.5 .3z"/><path color="#d9586a" d="M469.8 198.8l2.5 .7 1.6-5.3-2.6-.5z"/><path color="#eb7556" d="M476.9 185.5l2.5 .3 1.6-3.6-2.6-.2z"/><path color="#fca636" d="M579.9 163.3l2.7-.7 1.3 1.6-2.7 .7z"/><path color="#fca636" d="M538.1 163.8l2.6-.5 1.5 .5-2.7 .6z"/><path color="#fca934" d="M555.6 162.9l2.7-.6 1.4 1.1-2.7 .6z"/><path color="#fca636" d="M586.6 163.5l2.7-.7 1.3 1.7-2.7 .7z"/><path color="#f9973f" d="M501.5 170.6l2.6-.1 1.5-1.3-2.6 .2z"/><path color="#fba139" d="M516.4 166.7l2.6-.4 1.5-.4-2.6 .5z"/><path color="#ef7c51" d="M481 182.2l2.5 .3 1.6-3.2-2.6-.2z"/><path color="#fca537" d="M527.3 164.9l2.6-.5 1.5 .1-2.7 .6z"/><path color="#e76e5b" d="M475.4 189.6l2.5 .4 1.5-4.2-2.5-.3z"/><path color="#f89441" d="M497.4 172.4l2.6-.2 1.5-1.6-2.6 .2z"/><path color="#f2844b" d="M485.1 179.3l2.5 .1 1.6-2.7-2.6-.1z"/><path color="#fca934" d="M562.3 162.7l2.7-.7 1.4 1.2-2.7 .7z"/><path color="#f68f44" d="M493.3 174.4l2.5-.1 1.6-1.9-2.6 .1z"/><path color="#f48948" d="M489.2 176.7l2.5 0 1.6-2.3-2.6 0z"/><path color="#fca934" d="M544.8 163.2l2.6-.6 1.5 .7-2.6 .6z"/><path color="#d04d73" d="M470.9 205.4l2.5 .8 1.5-6-2.6-.7z"/><path color="#fb9f3a" d="M512.3 167.7l2.6-.3 1.5-.7-2.6 .4z"/><path color="#e16462" d="M473.9 194.2l2.5 .6 1.5-4.8-2.5-.4z"/><path color="#da5a6a" d="M472.3 199.5l2.6 .7 1.5-5.4-2.5-.6z"/><path color="#fdab33" d="M569.1 162.6l2.7-.7 1.3 1.3-2.6 .7z"/><path color="#fca835" d="M534 164l2.6-.5 1.5 .3-2.6 .6z"/><path color="#fca537" d="M523.1 165.5l2.7-.4 1.5-.2-2.7 .5z"/><path color="#eb7655" d="M479.4 185.8l2.6 .4 1.5-3.7-2.5-.3z"/><path color="#fdac33" d="M551.5 162.7l2.7-.6 1.4 .8-2.6 .7z"/><path color="#fa9e3b" d="M508.2 168.9l2.6-.2 1.5-1-2.6 .3z"/><path color="#fdac33" d="M575.8 162.5l2.7-.7 1.4 1.5-2.7 .7z"/><path color="#f07f4f" d="M483.5 182.5l2.6 .2 1.5-3.3-2.5-.1z"/><path color="#fdac33" d="M582.6 162.6l2.7-.7 1.3 1.6-2.7 .7z"/><path color="#fa9b3d" d="M504.1 170.5l2.6-.2 1.5-1.4-2.6 .3z"/><path color="#e76f5a" d="M477.9 190l2.6 .5 1.5-4.3-2.6-.4z"/><path color="#fdac33" d="M540.7 163.3l2.6-.6 1.5 .5-2.6 .6z"/><path color="#fca537" d="M519 166.3l2.6-.3 1.5-.5-2.6 .4z"/><path color="#fdae32" d="M558.3 162.3l2.6-.6 1.4 1-2.6 .7z"/><path color="#d04d73" d="M473.4 206.2l2.6 .7 1.5-6.1-2.6-.6z"/><path color="#f3854b" d="M487.6 179.4l2.6 .2 1.5-2.9-2.5 0z"/><path color="#fca934" d="M529.9 164.4l2.6-.4 1.5 0-2.6 .5z"/><path color="#f9973f" d="M500 172.2l2.5-.1 1.6-1.6-2.6 .1z"/><path color="#e26561" d="M476.4 194.8l2.6 .5 1.5-4.8-2.6-.5z"/><path color="#f58c46" d="M491.7 176.7l2.6 .1 1.5-2.5-2.5 .1z"/><path color="#f79143" d="M495.8 174.3l2.6 0 1.6-2.1-2.6 .2z"/><path color="#da5a6a" d="M474.9 200.2l2.6 .6 1.5-5.5-2.6-.5z"/><path color="#fdaf31" d="M565 162l2.7-.6 1.4 1.2-2.7 .6z"/><path color="#fca338" d="M514.9 167.4l2.6-.3 1.5-.8-2.6 .4z"/><path color="#fdae32" d="M547.4 162.6l2.7-.6 1.4 .7-2.6 .6z"/><path color="#ec7754" d="M482 186.2l2.6 .3 1.5-3.8-2.6-.2z"/><path color="#fdb130" d="M571.8 161.9l2.6-.7 1.4 1.3-2.7 .7z"/><path color="#fdac33" d="M536.6 163.5l2.6-.5 1.5 .3-2.6 .5z"/><path color="#fca934" d="M525.8 165.1l2.6-.4 1.5-.3-2.6 .5z"/><path color="#fba139" d="M510.8 168.7l2.6-.3 1.5-1-2.6 .3z"/><path color="#f0804e" d="M486.1 182.7l2.6 .2 1.5-3.3-2.6-.2z"/><path color="#d04d73" d="M476 206.9l2.5 .8 1.5-6.2-2.5-.7z"/><path color="#e76f5a" d="M480.5 190.5l2.5 .4 1.6-4.4-2.6-.3z"/><path color="#fdb130" d="M554.2 162.1l2.6-.6 1.5 .8-2.7 .6z"/><path color="#fdb130" d="M578.5 161.8l2.7-.6 1.4 1.4-2.7 .7z"/><path color="#fa9e3b" d="M506.7 170.3l2.6-.2 1.5-1.4-2.6 .2z"/><path color="#da5b69" d="M477.5 200.8l2.5 .7 1.5-5.6-2.5-.6z"/><path color="#e26561" d="M479 195.3l2.5 .6 1.5-5-2.5-.4z"/><path color="#f48849" d="M490.2 179.6l2.6 .1 1.5-2.9-2.6-.1z"/><path color="#fdb130" d="M585.3 161.9l2.7-.7 1.3 1.6-2.7 .7z"/><path color="#fca835" d="M521.6 166l2.6-.4 1.6-.5-2.7 .4z"/><path color="#fdb130" d="M543.3 162.7l2.7-.6 1.4 .5-2.6 .6z"/><path color="#f99a3e" d="M502.5 172.1l2.6-.1 1.6-1.7-2.6 .2z"/><path color="#f68f44" d="M494.3 176.8l2.6 0 1.5-2.5-2.6 0z"/><path color="#fdb22f" d="M560.9 161.7l2.7-.7 1.4 1-2.7 .7z"/><path color="#f89441" d="M498.4 174.3l2.6 0 1.5-2.2-2.5 .1z"/><path color="#fdae32" d="M532.5 164l2.6-.5 1.5 0-2.6 .5z"/><path color="#ed7953" d="M484.6 186.5l2.5 .4 1.6-4-2.6-.2z"/><path color="#fca636" d="M517.5 167.1l2.6-.3 1.5-.8-2.6 .3z"/><path color="#fdb42f" d="M567.7 161.4l2.7-.7 1.4 1.2-2.7 .7z"/><path color="#d14e72" d="M478.5 207.7l2.6 .8 1.5-6.4-2.6-.6z"/><path color="#fdb42f" d="M550.1 162l2.6-.6 1.5 .7-2.7 .6z"/><path color="#e87059" d="M483 190.9l2.6 .4 1.5-4.4-2.5-.4z"/><path color="#f1814d" d="M488.7 182.9l2.5 .3 1.6-3.5-2.6-.1z"/><path color="#fdae32" d="M528.4 164.7l2.6-.5 1.5-.2-2.6 .4z"/><path color="#fdb22f" d="M539.2 163l2.7-.5 1.4 .2-2.6 .6z"/><path color="#da5b69" d="M480 201.5l2.6 .6 1.5-5.7-2.6-.5z"/><path color="#fca537" d="M513.4 168.4l2.6-.2 1.5-1.1-2.6 .3z"/><path color="#e26660" d="M481.5 195.9l2.6 .5 1.5-5.1-2.6-.4z"/><path color="#fdb52e" d="M574.4 161.2l2.7-.7 1.4 1.3-2.7 .7z"/><path color="#f58b47" d="M492.8 179.7l2.5 .2 1.6-3.1-2.6 0z"/><path color="#fdb52e" d="M556.8 161.5l2.7-.7 1.4 .9-2.6 .6z"/><path color="#fba139" d="M509.3 170.1l2.6-.2 1.5-1.5-2.6 .3z"/><path color="#feb72d" d="M581.2 161.2l2.7-.7 1.4 1.4-2.7 .7z"/><path color="#f79143" d="M496.9 176.8l2.6 .1 1.5-2.6-2.6 0z"/><path color="#fa9c3c" d="M505.1 172l2.6-.1 1.6-1.8-2.6 .2z"/><path color="#ee7b51" d="M487.1 186.9l2.6 .3 1.5-4-2.5-.3z"/><path color="#f9973f" d="M501 174.3l2.6-.1 1.5-2.2-2.6 .1z"/><path color="#fdac33" d="M524.2 165.6l2.7-.4 1.5-.5-2.6 .4z"/><path color="#fdb52e" d="M546 162.1l2.6-.5 1.5 .4-2.7 .6z"/><path color="#d14e72" d="M481.1 208.5l2.6 .8 1.5-6.5-2.6-.7z"/><path color="#fdb22f" d="M535.1 163.5l2.7-.5 1.4 0-2.6 .5z"/><path color="#feb82c" d="M563.6 161l2.7-.6 1.4 1-2.7 .6z"/><path color="#e97158" d="M485.6 191.3l2.6 .5 1.5-4.6-2.6-.3z"/><path color="#db5c68" d="M482.6 202.1l2.6 .7 1.5-5.8-2.6-.6z"/><path color="#fdab33" d="M520.1 166.8l2.6-.4 1.5-.8-2.6 .4z"/><path color="#f2844b" d="M491.2 183.2l2.6 .2 1.5-3.5-2.5-.2z"/><path color="#e3685f" d="M484.1 196.4l2.6 .6 1.5-5.2-2.6-.5z"/><path color="#feba2c" d="M570.4 160.7l2.7-.7 1.3 1.2-2.6 .7z"/><path color="#feb82c" d="M552.7 161.4l2.7-.6 1.4 .7-2.6 .6z"/><path color="#fdb22f" d="M531 164.2l2.6-.4 1.5-.3-2.6 .5z"/><path color="#fca835" d="M516 168.2l2.6-.3 1.5-1.1-2.6 .3z"/><path color="#f58c46" d="M495.3 179.9l2.6 .1 1.6-3.1-2.6-.1z"/><path color="#feb72d" d="M541.9 162.5l2.6-.6 1.5 .2-2.7 .6z"/><path color="#febb2b" d="M577.1 160.5l2.7-.7 1.4 1.4-2.7 .6z"/><path color="#d14e72" d="M483.7 209.3l2.6 .8 1.5-6.6-2.6-.7z"/><path color="#fca537" d="M511.9 169.9l2.6-.2 1.5-1.5-2.6 .2z"/><path color="#ef7c51" d="M489.7 187.2l2.6 .3 1.5-4.1-2.6-.2z"/><path color="#f89441" d="M499.5 176.9l2.6 0 1.5-2.7-2.6 .1z"/><path color="#febb2b" d="M559.5 160.8l2.7-.6 1.4 .8-2.7 .7z"/><path color="#fb9f3a" d="M507.7 171.9l2.6-.1 1.6-1.9-2.6 .2z"/><path color="#f99a3e" d="M503.6 174.2l2.6 0 1.5-2.3-2.6 .1z"/><path color="#febb2b" d="M583.9 160.5l2.7-.7 1.4 1.4-2.7 .7z"/><path color="#fdb130" d="M526.9 165.2l2.6-.4 1.5-.6-2.6 .5z"/><path color="#db5c68" d="M485.2 202.8l2.6 .7 1.5-6-2.6-.5z"/><path color="#e97257" d="M488.2 191.8l2.6 .4 1.5-4.7-2.6-.3z"/><path color="#feba2c" d="M548.6 161.6l2.7-.6 1.4 .4-2.6 .6z"/><path color="#e3685f" d="M486.7 197l2.6 .5 1.5-5.3-2.6-.4z"/><path color="#feb72d" d="M537.8 163l2.6-.5 1.5 0-2.7 .5z"/><path color="#f3854b" d="M493.8 183.4l2.6 .3 1.5-3.7-2.6-.1z"/><path color="#febd2a" d="M566.3 160.4l2.7-.7 1.4 1-2.7 .7z"/><path color="#fdaf31" d="M522.7 166.4l2.7-.3 1.5-.9-2.7 .4z"/><path color="#d14e72" d="M486.3 210.1l2.5 .8 1.5-6.8-2.5-.6z"/><path color="#f68f44" d="M497.9 180l2.6 .2 1.6-3.3-2.6 0z"/><path color="#febe2a" d="M573.1 160l2.7-.6 1.3 1.1-2.7 .7z"/><path color="#febd2a" d="M555.4 160.8l2.7-.6 1.4 .6-2.7 .7z"/><path color="#fdac33" d="M518.6 167.9l2.6-.2 1.5-1.3-2.6 .4z"/><path color="#ef7e50" d="M492.3 187.5l2.6 .4 1.5-4.2-2.6-.3z"/><path color="#feb72d" d="M533.6 163.8l2.7-.4 1.5-.4-2.7 .5z"/><path color="#febb2b" d="M544.5 161.9l2.7-.5 1.4 .2-2.6 .5z"/><path color="#f89540" d="M502.1 176.9l2.6 .1 1.5-2.8-2.6 0z"/><path color="#fca835" d="M514.5 169.7l2.6-.1 1.5-1.7-2.6 .3z"/><path color="#db5c68" d="M487.8 203.5l2.5 .6 1.5-6-2.5-.6z"/><path color="#fa9c3c" d="M506.2 174.2l2.6 0 1.5-2.4-2.6 .1z"/><path color="#fec029" d="M579.8 159.8l2.8-.6 1.3 1.3-2.7 .7z"/><path color="#fca338" d="M510.3 171.8l2.6-.1 1.6-2-2.6 .2z"/><path color="#ea7457" d="M490.8 192.2l2.6 .5 1.5-4.8-2.6-.4z"/><path color="#e4695e" d="M489.3 197.5l2.5 .6 1.6-5.4-2.6-.5z"/><path color="#fec029" d="M562.2 160.2l2.7-.6 1.4 .8-2.7 .6z"/><path color="#fdb52e" d="M529.5 164.8l2.6-.3 1.5-.7-2.6 .4z"/><path color="#f48849" d="M496.4 183.7l2.6 .2 1.5-3.7-2.6-.2z"/><path color="#d14e72" d="M488.8 210.9l2.6 .7 1.5-6.8-2.6-.7z"/><path color="#febe2a" d="M551.3 161l2.7-.5 1.4 .3-2.7 .6z"/><path color="#febb2b" d="M540.4 162.5l2.6-.4 1.5-.2-2.6 .6z"/><path color="#fdc328" d="M569 159.7l2.7-.6 1.4 .9-2.7 .7z"/><path color="#fdb22f" d="M525.4 166.1l2.6-.3 1.5-1-2.6 .4z"/><path color="#f79044" d="M500.5 180.2l2.6 .1 1.6-3.3-2.6-.1z"/><path color="#f07f4f" d="M494.9 187.9l2.6 .3 1.5-4.3-2.6-.2z"/><path color="#dc5d67" d="M490.3 204.1l2.6 .7 1.5-6.2-2.6-.5z"/><path color="#fdaf31" d="M521.2 167.7l2.6-.3 1.6-1.3-2.7 .3z"/><path color="#f9983e" d="M504.7 177l2.6 .1 1.5-2.9-2.6 0z"/><path color="#eb7556" d="M493.4 192.7l2.5 .4 1.6-4.9-2.6-.3z"/><path color="#fdc328" d="M558.1 160.2l2.7-.6 1.4 .6-2.7 .6z"/><path color="#fdc527" d="M575.8 159.4l2.7-.7 1.3 1.1-2.7 .7z"/><path color="#febb2b" d="M536.3 163.4l2.6-.5 1.5-.4-2.6 .5z"/><path color="#e56a5d" d="M491.8 198.1l2.6 .5 1.5-5.5-2.5-.4z"/><path color="#fdab33" d="M517.1 169.6l2.6-.2 1.5-1.7-2.6 .2z"/><path color="#fb9f3a" d="M508.8 174.2l2.6 0 1.5-2.5-2.6 .1z"/><path color="#fec029" d="M547.2 161.4l2.6-.5 1.5 .1-2.7 .6z"/><path color="#fca636" d="M512.9 171.7l2.6-.1 1.6-2-2.6 .1z"/><path color="#d14e72" d="M491.4 211.6l2.6 .8 1.5-6.9-2.6-.7z"/><path color="#f48948" d="M499 183.9l2.6 .2 1.5-3.8-2.6-.1z"/><path color="#fdc527" d="M582.6 159.2l2.7-.7 1.3 1.3-2.7 .7z"/><path color="#feba2c" d="M532.1 164.5l2.7-.4 1.5-.7-2.7 .4z"/><path color="#fdc527" d="M564.9 159.6l2.7-.7 1.4 .8-2.7 .7z"/><path color="#dc5d67" d="M492.9 204.8l2.6 .7 1.5-6.3-2.6-.6z"/><path color="#f0804e" d="M497.5 188.2l2.6 .4 1.5-4.5-2.6-.2z"/><path color="#fdc527" d="M554 160.5l2.6-.6 1.5 .3-2.7 .6z"/><path color="#fec029" d="M543 162.1l2.7-.5 1.5-.2-2.7 .5z"/><path color="#f79342" d="M503.1 180.3l2.6 .1 1.6-3.3-2.6-.1z"/><path color="#feb72d" d="M528 165.8l2.6-.3 1.5-1-2.6 .3z"/><path color="#fdc827" d="M571.7 159.1l2.7-.7 1.4 1-2.7 .6z"/><path color="#e56a5d" d="M494.4 198.6l2.6 .6 1.5-5.6-2.6-.5z"/><path color="#eb7655" d="M495.9 193.1l2.6 .5 1.6-5-2.6-.4z"/><path color="#fa9b3d" d="M507.3 177.1l2.6 0 1.5-2.9-2.6 0z"/><path color="#d14e72" d="M494 212.4l2.6 .8 1.5-7-2.6-.7z"/><path color="#fdb42f" d="M523.8 167.4l2.7-.2 1.5-1.4-2.6 .3z"/><path color="#fba238" d="M511.4 174.2l2.6-.1 1.5-2.5-2.6 .1z"/><path color="#fdaf31" d="M519.7 169.4l2.6-.2 1.5-1.8-2.6 .3z"/><path color="#febe2a" d="M538.9 162.9l2.7-.4 1.4-.4-2.6 .4z"/><path color="#fca934" d="M515.5 171.6l2.7-.1 1.5-2.1-2.6 .2z"/><path color="#fdc827" d="M560.8 159.6l2.7-.6 1.4 .6-2.7 .6z"/><path color="#fdca26" d="M578.5 158.7l2.7-.7 1.4 1.2-2.8 .6z"/><path color="#f58b47" d="M501.6 184.1l2.6 .3 1.5-4-2.6-.1z"/><path color="#fdc527" d="M549.8 160.9l2.7-.5 1.5 .1-2.7 .5z"/><path color="#dd5e66" d="M495.5 205.5l2.6 .7 1.5-6.4-2.6-.6z"/><path color="#febd2a" d="M534.8 164.1l2.6-.4 1.5-.8-2.6 .5z"/><path color="#f1814d" d="M500.1 188.6l2.6 .3 1.5-4.5-2.6-.3z"/><path color="#fdcb26" d="M567.6 158.9l2.7-.6 1.4 .8-2.7 .6z"/><path color="#f89540" d="M505.7 180.4l2.6 .2 1.6-3.5-2.6 0z"/><path color="#e56b5d" d="M497 199.2l2.6 .6 1.5-5.8-2.6-.4z"/><path color="#ec7754" d="M498.5 193.6l2.6 .4 1.6-5.1-2.6-.3z"/><path color="#d24f71" d="M496.6 213.2l2.6 .8 1.5-7.2-2.6-.6z"/><path color="#fdc527" d="M545.7 161.6l2.7-.5 1.4-.2-2.6 .5z"/><path color="#fdca26" d="M556.6 159.9l2.7-.6 1.5 .3-2.7 .6z"/><path color="#febb2b" d="M530.6 165.5l2.7-.3 1.5-1.1-2.7 .4z"/><path color="#fa9e3b" d="M509.9 177.1l2.6 .1 1.5-3.1-2.6 .1z"/><path color="#fccd25" d="M574.4 158.4l2.7-.6 1.4 .9-2.7 .7z"/><path color="#feb72d" d="M526.5 167.2l2.6-.3 1.5-1.4-2.6 .3z"/><path color="#fca537" d="M514 174.1l2.6 0 1.6-2.6-2.7 .1z"/><path color="#f68d45" d="M504.2 184.4l2.6 .2 1.5-4-2.6-.2z"/><path color="#fdb22f" d="M522.3 169.2l2.6-.2 1.6-1.8-2.7 .2z"/><path color="#fdac33" d="M518.2 171.5l2.6-.1 1.5-2.2-2.6 .2z"/><path color="#dd5e66" d="M498.1 206.2l2.6 .6 1.5-6.5-2.6-.5z"/><path color="#fdc328" d="M541.6 162.5l2.6-.4 1.5-.5-2.7 .5z"/><path color="#fccd25" d="M563.5 159l2.7-.6 1.4 .5-2.7 .7z"/><path color="#fcd025" d="M581.2 158l2.7-.7 1.4 1.2-2.7 .7z"/><path color="#fdca26" d="M552.5 160.4l2.7-.6 1.4 .1-2.6 .6z"/><path color="#f2844b" d="M502.7 188.9l2.6 .3 1.5-4.6-2.6-.2z"/><path color="#d24f71" d="M499.2 214l2.6 .8 1.5-7.3-2.6-.7z"/><path color="#e66c5c" d="M499.6 199.8l2.6 .5 1.6-5.8-2.7-.5z"/><path color="#f9973f" d="M508.3 180.6l2.7 .1 1.5-3.5-2.6-.1z"/><path color="#ed7953" d="M501.1 194l2.7 .5 1.5-5.3-2.6-.3z"/><path color="#fdc229" d="M537.4 163.7l2.7-.4 1.5-.8-2.7 .4z"/><path color="#fcd025" d="M570.3 158.3l2.7-.6 1.4 .7-2.7 .7z"/><path color="#fba139" d="M512.5 177.2l2.6 0 1.5-3.1-2.6 0z"/><path color="#febe2a" d="M533.3 165.2l2.6-.3 1.5-1.2-2.6 .4z"/><path color="#fdca26" d="M548.4 161.1l2.6-.5 1.5-.2-2.7 .5z"/><path color="#fcce25" d="M559.3 159.3l2.7-.5 1.5 .2-2.7 .6z"/><path color="#dd5e66" d="M500.7 206.8l2.6 .7 1.6-6.6-2.7-.6z"/><path color="#f68f44" d="M506.8 184.6l2.6 .3 1.6-4.2-2.7-.1z"/><path color="#fca835" d="M516.6 174.1l2.7 0 1.5-2.7-2.6 .1z"/><path color="#febb2b" d="M529.1 166.9l2.7-.2 1.5-1.5-2.7 .3z"/><path color="#fbd324" d="M577.1 157.8l2.7-.7 1.4 .9-2.7 .7z"/><path color="#fdb52e" d="M524.9 169l2.7-.2 1.5-1.9-2.6 .3z"/><path color="#fdaf31" d="M520.8 171.4l2.6-.1 1.5-2.3-2.6 .2z"/><path color="#d24f71" d="M501.8 214.8l2.7 .8 1.5-7.4-2.7-.7z"/><path color="#e66c5c" d="M502.2 200.3l2.7 .6 1.5-6-2.6-.4z"/><path color="#f3854b" d="M505.3 189.2l2.6 .4 1.5-4.7-2.6-.3z"/><path color="#fdc827" d="M544.2 162.1l2.7-.5 1.5-.5-2.7 .5z"/><path color="#ed7a52" d="M503.8 194.5l2.6 .4 1.5-5.3-2.6-.4z"/><path color="#fcd225" d="M566.2 158.4l2.7-.6 1.4 .5-2.7 .6z"/><path color="#f99a3e" d="M511 180.7l2.6 .2 1.5-3.7-2.6 0z"/><path color="#fcce25" d="M555.2 159.8l2.7-.5 1.4 0-2.7 .6z"/><path color="#fdc627" d="M540.1 163.3l2.6-.4 1.5-.8-2.6 .4z"/><path color="#de5f65" d="M503.3 207.5l2.7 .7 1.5-6.8-2.6-.5z"/><path color="#fca338" d="M515.1 177.2l2.6 .1 1.6-3.2-2.7 0z"/><path color="#f79143" d="M509.4 184.9l2.6 .2 1.6-4.2-2.6-.2z"/><path color="#fbd524" d="M573 157.7l2.7-.7 1.4 .8-2.7 .6z"/><path color="#d24f71" d="M504.5 215.6l2.6 .8 1.5-7.5-2.6-.7z"/><path color="#fdc328" d="M535.9 164.9l2.7-.4 1.5-1.2-2.7 .4z"/><path color="#fcce25" d="M551 160.6l2.7-.5 1.5-.3-2.7 .6z"/><path color="#fdab33" d="M519.3 174.1l2.6-.1 1.5-2.7-2.6 .1z"/><path color="#fbd324" d="M562 158.8l2.7-.6 1.5 .2-2.7 .6z"/><path color="#e76e5b" d="M504.9 200.9l2.6 .5 1.5-6-2.6-.5z"/><path color="#febe2a" d="M531.8 166.7l2.6-.3 1.5-1.5-2.6 .3z"/><path color="#f3874a" d="M507.9 189.6l2.6 .3 1.5-4.8-2.6-.2z"/><path color="#fdb22f" d="M523.4 171.3l2.7-.1 1.5-2.4-2.7 .2z"/><path color="#feba2c" d="M527.6 168.8l2.6-.2 1.6-1.9-2.7 .2z"/><path color="#ee7b51" d="M506.4 194.9l2.6 .5 1.5-5.5-2.6-.3z"/><path color="#fad824" d="M579.8 157.1l2.7-.7 1.4 .9-2.7 .7z"/><path color="#fa9b3d" d="M513.6 180.9l2.6 .1 1.5-3.7-2.6-.1z"/><path color="#fccd25" d="M546.9 161.6l2.7-.4 1.4-.6-2.6 .5z"/><path color="#de5f65" d="M506 208.2l2.6 .7 1.5-6.9-2.6-.6z"/><path color="#fad824" d="M568.9 157.8l2.7-.6 1.4 .5-2.7 .6z"/><path color="#fbd324" d="M557.9 159.3l2.7-.5 1.4 0-2.7 .5z"/><path color="#d24f71" d="M507.1 216.4l2.6 .8 1.5-7.7-2.6-.6z"/><path color="#fdcb26" d="M542.7 162.9l2.7-.3 1.5-1-2.7 .5z"/><path color="#fca537" d="M517.7 177.3l2.7 0 1.5-3.3-2.6 .1z"/><path color="#f79342" d="M512 185.1l2.7 .3 1.5-4.4-2.6-.1z"/><path color="#e76f5a" d="M507.5 201.4l2.6 .6 1.5-6.2-2.6-.4z"/><path color="#fdc627" d="M538.6 164.5l2.6-.3 1.5-1.3-2.6 .4z"/><path color="#f48849" d="M510.5 189.9l2.6 .4 1.6-4.9-2.7-.3z"/><path color="#fdae32" d="M521.9 174l2.6 0 1.6-2.8-2.7 .1z"/><path color="#ef7c51" d="M509 195.4l2.6 .4 1.5-5.5-2.6-.4z"/><path color="#f9dc24" d="M575.7 157l2.7-.6 1.4 .7-2.7 .7z"/><path color="#fbd324" d="M553.7 160.1l2.7-.5 1.5-.3-2.7 .5z"/><path color="#fdc328" d="M534.4 166.4l2.7-.2 1.5-1.7-2.7 .4z"/><path color="#feb72d" d="M526.1 171.2l2.6-.1 1.5-2.5-2.6 .2z"/><path color="#febd2a" d="M530.2 168.6l2.7-.2 1.5-2-2.6 .3z"/><path color="#fad824" d="M564.7 158.2l2.7-.6 1.5 .2-2.7 .6z"/><path color="#de6164" d="M508.6 208.9l2.6 .6 1.5-6.9-2.6-.6z"/><path color="#fa9e3b" d="M516.2 181l2.6 .2 1.6-3.9-2.7 0z"/><path color="#d24f71" d="M509.7 217.2l2.6 .8 1.5-7.8-2.6-.7z"/><path color="#fcd225" d="M549.6 161.2l2.7-.4 1.4-.7-2.7 .5z"/><path color="#e76f5a" d="M510.1 202l2.6 .6 1.6-6.3-2.7-.5z"/><path color="#f89441" d="M514.7 185.4l2.6 .2 1.5-4.4-2.6-.2z"/><path color="#fca835" d="M520.4 177.3l2.6 .1 1.5-3.4-2.6 0z"/><path color="#f9dd25" d="M571.6 157.2l2.7-.6 1.4 .4-2.7 .7z"/><path color="#fad824" d="M560.6 158.8l2.7-.5 1.4-.1-2.7 .6z"/><path color="#fcce25" d="M545.4 162.6l2.7-.4 1.5-1-2.7 .4z"/><path color="#f48948" d="M513.1 190.3l2.7 .3 1.5-5-2.6-.2z"/><path color="#ef7e50" d="M511.6 195.8l2.7 .5 1.5-5.7-2.7-.3z"/><path color="#fdb130" d="M524.5 174l2.7 0 1.5-2.9-2.6 .1z"/><path color="#de6164" d="M511.2 209.5l2.6 .7 1.6-7.1-2.7-.5z"/><path color="#fdcb26" d="M541.2 164.2l2.7-.3 1.5-1.3-2.7 .3z"/><path color="#d24f71" d="M512.3 218l2.7 .8 1.5-7.9-2.7-.7z"/><path color="#feba2c" d="M528.7 171.1l2.7-.1 1.5-2.6-2.7 .2z"/><path color="#fdc627" d="M537.1 166.2l2.6-.3 1.5-1.7-2.6 .3z"/><path color="#f8e125" d="M578.4 156.4l2.8-.6 1.3 .6-2.7 .7z"/><path color="#fad824" d="M556.4 159.6l2.7-.4 1.5-.4-2.7 .5z"/><path color="#fec029" d="M532.9 168.4l2.7-.1 1.5-2.1-2.7 .2z"/><path color="#fba139" d="M518.8 181.2l2.7 .1 1.5-3.9-2.6-.1z"/><path color="#f8df25" d="M567.4 157.6l2.7-.6 1.5 .2-2.7 .6z"/><path color="#e87059" d="M512.7 202.6l2.7 .5 1.5-6.4-2.6-.4z"/><path color="#f9973f" d="M517.3 185.6l2.6 .2 1.6-4.5-2.7-.1z"/><path color="#fbd724" d="M552.3 160.8l2.6-.5 1.5-.7-2.7 .5z"/><path color="#fdab33" d="M523 177.4l2.7 .1 1.5-3.5-2.7 0z"/><path color="#f07f4f" d="M514.3 196.3l2.6 .4 1.5-5.7-2.6-.4z"/><path color="#f58b47" d="M515.8 190.6l2.6 .4 1.5-5.2-2.6-.2z"/><path color="#de6164" d="M513.8 210.2l2.7 .7 1.5-7.2-2.6-.6z"/><path color="#d35171" d="M515 218.8l2.6 .8 1.5-8-2.6-.7z"/><path color="#f8df25" d="M563.3 158.3l2.7-.6 1.4-.1-2.7 .6z"/><path color="#f7e225" d="M574.3 156.6l2.7-.6 1.4 .4-2.7 .6z"/><path color="#fbd324" d="M548.1 162.2l2.7-.4 1.5-1-2.7 .4z"/><path color="#fdb42f" d="M527.2 174l2.6 0 1.6-3-2.7 .1z"/><path color="#fcd025" d="M543.9 163.9l2.7-.3 1.5-1.4-2.7 .4z"/><path color="#fba238" d="M521.5 181.3l2.6 .2 1.6-4-2.7-.1z"/><path color="#febd2a" d="M531.4 171l2.6-.2 1.6-2.5-2.7 .1z"/><path color="#fdcb26" d="M539.7 165.9l2.7-.2 1.5-1.8-2.7 .3z"/><path color="#fdc527" d="M535.6 168.3l2.6-.2 1.5-2.2-2.6 .3z"/><path color="#e97158" d="M515.4 203.1l2.6 .6 1.5-6.5-2.6-.5z"/><path color="#f9dd25" d="M559.1 159.2l2.7-.5 1.5-.4-2.7 .5z"/><path color="#f7e425" d="M570.1 157l2.8-.5 1.4 .1-2.7 .6z"/><path color="#f9983e" d="M519.9 185.8l2.7 .3 1.5-4.6-2.6-.2z"/><path color="#f07f4f" d="M516.9 196.7l2.6 .5 1.6-5.9-2.7-.3z"/><path color="#df6263" d="M516.5 210.9l2.6 .7 1.6-7.3-2.7-.6z"/><path color="#d35171" d="M517.6 219.6l2.6 .8 1.6-8.1-2.7-.7z"/><path color="#fdae32" d="M525.7 177.5l2.6 0 1.5-3.5-2.6 0z"/><path color="#f68d45" d="M518.4 191l2.7 .3 1.5-5.2-2.7-.3z"/><path color="#f9dc24" d="M554.9 160.3l2.7-.4 1.5-.7-2.7 .4z"/><path color="#feb72d" d="M529.8 174l2.7-.1 1.5-3.1-2.6 .2z"/><path color="#fad824" d="M550.8 161.8l2.7-.4 1.4-1.1-2.6 .5z"/><path color="#f7e425" d="M566 157.7l2.7-.5 1.4-.2-2.7 .6z"/><path color="#f6e826" d="M577 156l2.8-.6 1.4 .4-2.8 .6z"/><path color="#fca537" d="M524.1 181.5l2.7 .1 1.5-4.1-2.6 0z"/><path color="#e97158" d="M518 203.7l2.7 .6 1.5-6.7-2.7-.4z"/><path color="#fec029" d="M534 170.8l2.7-.1 1.5-2.6-2.6 .2z"/><path color="#fbd324" d="M546.6 163.6l2.7-.4 1.5-1.4-2.7 .4z"/><path color="#fdc827" d="M538.2 168.1l2.7-.2 1.5-2.2-2.7 .2z"/><path color="#fcce25" d="M542.4 165.7l2.7-.3 1.5-1.8-2.7 .3z"/><path color="#d35171" d="M520.2 220.4l2.7 .8 1.5-8.2-2.6-.7z"/><path color="#df6263" d="M519.1 211.6l2.7 .7 1.5-7.5-2.6-.5z"/><path color="#f99a3e" d="M522.6 186.1l2.7 .2 1.5-4.7-2.7-.1z"/><path color="#f0804e" d="M519.5 197.2l2.7 .4 1.5-5.9-2.6-.4z"/><path color="#f7e225" d="M561.8 158.7l2.7-.5 1.5-.5-2.7 .6z"/><path color="#f68f44" d="M521.1 191.3l2.6 .4 1.6-5.4-2.7-.2z"/><path color="#fdb130" d="M528.3 177.5l2.7 .1 1.5-3.7-2.7 .1z"/><path color="#f5e926" d="M572.9 156.5l2.7-.6 1.4 .1-2.7 .6z"/><path color="#f8e125" d="M557.6 159.9l2.8-.4 1.4-.8-2.7 .5z"/><path color="#e97257" d="M520.7 204.3l2.6 .5 1.5-6.7-2.6-.5z"/><path color="#feba2c" d="M532.5 173.9l2.7 0 1.5-3.2-2.7 .1z"/><path color="#fca636" d="M526.8 181.6l2.6 .2 1.6-4.2-2.7-.1z"/><path color="#f9dd25" d="M553.5 161.4l2.7-.4 1.4-1.1-2.7 .4z"/><path color="#d35171" d="M522.9 221.2l2.7 .8 1.5-8.4-2.7-.6z"/><path color="#f5e926" d="M568.7 157.2l2.7-.6 1.5-.1-2.8 .5z"/><path color="#e06363" d="M521.8 212.3l2.6 .7 1.6-7.6-2.7-.6z"/><path color="#fdc328" d="M536.7 170.7l2.7-.1 1.5-2.7-2.7 .2z"/><path color="#f1814d" d="M522.2 197.6l2.6 .5 1.6-6.1-2.7-.3z"/><path color="#fad824" d="M549.3 163.2l2.7-.3 1.5-1.5-2.7 .4z"/><path color="#fa9c3c" d="M525.3 186.3l2.6 .3 1.5-4.8-2.6-.2z"/><path color="#fdcb26" d="M540.9 167.9l2.7-.2 1.5-2.3-2.7 .3z"/><path color="#fbd324" d="M545.1 165.4l2.7-.3 1.5-1.9-2.7 .4z"/><path color="#f79044" d="M523.7 191.7l2.7 .3 1.5-5.4-2.6-.3z"/><path color="#fdb22f" d="M531 177.6l2.6 0 1.6-3.7-2.7 0z"/><path color="#f6e826" d="M564.5 158.2l2.8-.5 1.4-.5-2.7 .5z"/><path color="#ea7457" d="M523.3 204.8l2.7 .6 1.5-6.9-2.7-.4z"/><path color="#f3ee27" d="M575.6 155.9l2.7-.6 1.5 .1-2.8 .6z"/><path color="#d35171" d="M525.6 222l2.6 .8 1.6-8.5-2.7-.7z"/><path color="#f6e626" d="M560.4 159.5l2.7-.5 1.4-.8-2.7 .5z"/><path color="#febd2a" d="M535.2 173.9l2.7 0 1.5-3.3-2.7 .1z"/><path color="#e06363" d="M524.4 213l2.7 .6 1.5-7.6-2.6-.6z"/><path color="#fca934" d="M529.4 181.8l2.7 .1 1.5-4.3-2.6 0z"/><path color="#f1834c" d="M524.8 198.1l2.7 .4 1.5-6.1-2.6-.4z"/><path color="#f7e225" d="M556.2 161l2.7-.4 1.5-1.1-2.8 .4z"/><path color="#fdc627" d="M539.4 170.6l2.7-.1 1.5-2.8-2.7 .2z"/><path color="#fa9e3b" d="M527.9 186.6l2.7 .2 1.5-4.9-2.7-.1z"/><path color="#f79143" d="M526.4 192l2.6 .4 1.6-5.6-2.7-.2z"/><path color="#f3ee27" d="M571.4 156.6l2.8-.5 1.4-.2-2.7 .6z"/><path color="#f9dd25" d="M552 162.9l2.7-.3 1.5-1.6-2.7 .4z"/><path color="#fcd025" d="M543.6 167.7l2.7-.2 1.5-2.4-2.7 .3z"/><path color="#fbd724" d="M547.8 165.1l2.7-.2 1.5-2-2.7 .3z"/><path color="#fdb52e" d="M533.6 177.6l2.7 .1 1.6-3.8-2.7 0z"/><path color="#ea7457" d="M526 205.4l2.6 .6 1.6-7-2.7-.5z"/><path color="#d35171" d="M528.2 222.8l2.7 .9 1.5-8.7-2.6-.7z"/><path color="#f4ed27" d="M567.3 157.7l2.7-.5 1.4-.6-2.7 .6z"/><path color="#e16462" d="M527.1 213.6l2.7 .7 1.5-7.8-2.7-.5z"/><path color="#fdac33" d="M532.1 181.9l2.7 .2 1.5-4.4-2.7-.1z"/><path color="#fec029" d="M537.9 173.9l2.6-.1 1.6-3.3-2.7 .1z"/><path color="#f2844b" d="M527.5 198.5l2.7 .5 1.5-6.3-2.7-.3z"/><path color="#f5eb27" d="M563.1 159l2.7-.4 1.5-.9-2.8 .5z"/><path color="#fba139" d="M530.6 186.8l2.7 .3 1.5-5-2.7-.2z"/><path color="#f79342" d="M529 192.4l2.7 .3 1.6-5.6-2.7-.3z"/><path color="#fdcb26" d="M542.1 170.5l2.7-.1 1.5-2.9-2.7 .2z"/><path color="#f6e626" d="M558.9 160.6l2.7-.3 1.5-1.3-2.7 .5z"/><path color="#d35171" d="M530.9 223.7l2.6 .8 1.6-8.8-2.7-.7z"/><path color="#eb7556" d="M528.6 206l2.7 .5 1.5-7-2.6-.5z"/><path color="#fbd324" d="M546.3 167.5l2.7-.2 1.5-2.4-2.7 .2z"/><path color="#f1f426" d="M574.2 156.1l2.7-.5 1.4-.3-2.7 .6z"/><path color="#f8e125" d="M554.7 162.6l2.7-.3 1.5-1.7-2.7 .4z"/><path color="#f9dc24" d="M550.5 164.9l2.7-.3 1.5-2-2.7 .3z"/><path color="#feb82c" d="M536.3 177.7l2.7 0 1.5-3.9-2.6 .1z"/><path color="#e16462" d="M529.8 214.3l2.6 .7 1.6-7.9-2.7-.6z"/><path color="#f3854b" d="M530.2 199l2.6 .5 1.6-6.4-2.7-.4z"/><path color="#f2f227" d="M570 157.2l2.7-.5 1.5-.6-2.8 .5z"/><path color="#fdae32" d="M534.8 182.1l2.7 .1 1.5-4.5-2.7 0z"/><path color="#fdc328" d="M540.5 173.8l2.7 0 1.6-3.4-2.7 .1z"/><path color="#f89441" d="M531.7 192.7l2.7 .4 1.5-5.8-2.6-.2z"/><path color="#fba238" d="M533.3 187.1l2.6 .2 1.6-5.1-2.7-.1z"/><path color="#d45270" d="M533.5 224.5l2.7 .8 1.6-8.9-2.7-.7z"/><path color="#f3ee27" d="M565.8 158.6l2.7-.5 1.5-.9-2.7 .5z"/><path color="#eb7655" d="M531.3 206.5l2.7 .6 1.5-7.2-2.7-.4z"/><path color="#fcce25" d="M544.8 170.4l2.7-.1 1.5-3-2.7 .2z"/><path color="#e16462" d="M532.4 215l2.7 .7 1.6-8-2.7-.6z"/><path color="#f5eb27" d="M561.6 160.3l2.7-.4 1.5-1.3-2.7 .4z"/><path color="#fbd724" d="M549 167.3l2.7-.2 1.5-2.5-2.7 .3z"/><path color="#febb2b" d="M539 177.7l2.7 .1 1.5-4-2.7 0z"/><path color="#f6e626" d="M557.4 162.3l2.7-.4 1.5-1.6-2.7 .3z"/><path color="#f8df25" d="M553.2 164.6l2.7-.2 1.5-2.1-2.7 .3z"/><path color="#f3874a" d="M532.8 199.5l2.7 .4 1.6-6.5-2.7-.3z"/><path color="#fdb130" d="M537.5 182.2l2.7 .2 1.5-4.6-2.7-.1z"/><path color="#d45270" d="M536.2 225.3l2.7 .8 1.6-9-2.7-.7z"/><path color="#fdc627" d="M543.2 173.8l2.7 0 1.6-3.5-2.7 .1z"/><path color="#f89540" d="M534.4 193.1l2.7 .3 1.5-5.8-2.7-.3z"/><path color="#f0f724" d="M572.7 156.7l2.8-.5 1.4-.6-2.7 .5z"/><path color="#fca338" d="M535.9 187.3l2.7 .3 1.6-5.2-2.7-.2z"/><path color="#eb7655" d="M534 207.1l2.7 .6 1.5-7.3-2.7-.5z"/><path color="#e26561" d="M535.1 215.7l2.7 .7 1.5-8.1-2.6-.6z"/><path color="#fcd225" d="M547.5 170.3l2.7-.1 1.5-3.1-2.7 .2z"/><path color="#f1f426" d="M568.5 158.1l2.8-.4 1.4-1-2.7 .5z"/><path color="#febe2a" d="M541.7 177.8l2.7 .1 1.5-4.1-2.7 0z"/><path color="#f3f027" d="M564.3 159.9l2.8-.4 1.4-1.4-2.7 .5z"/><path color="#f9dc24" d="M551.7 167.1l2.7-.2 1.5-2.5-2.7 .2z"/><path color="#f48849" d="M535.5 199.9l2.7 .5 1.6-6.6-2.7-.4z"/><path color="#d45270" d="M538.9 226.1l2.7 .8 1.6-9.1-2.7-.7z"/><path color="#f5eb27" d="M560.1 161.9l2.7-.3 1.5-1.7-2.7 .4z"/><path color="#f7e425" d="M555.9 164.4l2.7-.3 1.5-2.2-2.7 .4z"/><path color="#fdb22f" d="M540.2 182.4l2.7 .1 1.5-4.6-2.7-.1z"/><path color="#f9983e" d="M537.1 193.4l2.7 .4 1.5-6-2.7-.2z"/><path color="#ec7754" d="M536.7 207.7l2.6 .6 1.6-7.5-2.7-.4z"/><path color="#e26561" d="M537.8 216.4l2.7 .7 1.5-8.3-2.7-.5z"/><path color="#fca636" d="M538.6 187.6l2.7 .2 1.6-5.3-2.7-.1z"/><path color="#fdca26" d="M545.9 173.8l2.7 0 1.6-3.6-2.7 .1z"/><path color="#fbd524" d="M550.2 170.2l2.7-.1 1.5-3.2-2.7 .2z"/><path color="#d45270" d="M541.6 226.9l2.7 .8 1.6-9.2-2.7-.7z"/><path color="#f48948" d="M538.2 200.4l2.7 .4 1.6-6.7-2.7-.3z"/><path color="#f0f921" d="M571.3 157.7l2.7-.5 1.5-1-2.8 .5z"/><path color="#fec029" d="M544.4 177.9l2.7 0 1.5-4.1-2.7 0z"/><path color="#f8df25" d="M554.4 166.9l2.7-.1 1.5-2.7-2.7 .3z"/><path color="#f1f525" d="M567.1 159.5l2.7-.4 1.5-1.4-2.8 .4z"/><path color="#f6e826" d="M558.6 164.1l2.7-.3 1.5-2.2-2.7 .3z"/><path color="#e26660" d="M540.5 217.1l2.7 .7 1.5-8.4-2.7-.6z"/><path color="#f3ee27" d="M562.8 161.6l2.8-.3 1.5-1.8-2.8 .4z"/><path color="#ed7953" d="M539.3 208.3l2.7 .5 1.6-7.5-2.7-.5z"/><path color="#fdb52e" d="M542.9 182.5l2.7 .2 1.5-4.8-2.7 0z"/><path color="#f99a3e" d="M539.8 193.8l2.7 .3 1.5-6-2.7-.3z"/><path color="#fca835" d="M541.3 187.8l2.7 .3 1.6-5.4-2.7-.2z"/><path color="#fccd25" d="M548.6 173.8l2.7-.1 1.6-3.6-2.7 .1z"/><path color="#d45270" d="M544.3 227.7l2.7 .9 1.6-9.4-2.7-.7z"/><path color="#f58b47" d="M540.9 200.8l2.7 .5 1.6-6.8-2.7-.4z"/><path color="#fad824" d="M552.9 170.1l2.7-.1 1.5-3.2-2.7 .1z"/><path color="#fdc328" d="M547.1 177.9l2.7 .1 1.5-4.3-2.7 .1z"/><path color="#e26660" d="M543.2 217.8l2.7 .7 1.5-8.5-2.7-.6z"/><path color="#ed7a52" d="M542 208.8l2.7 .6 1.6-7.6-2.7-.5z"/><path color="#f7e225" d="M557.1 166.8l2.7-.2 1.5-2.8-2.7 .3z"/><path color="#fa9b3d" d="M542.5 194.1l2.7 .4 1.5-6.2-2.7-.2z"/><path color="#feb82c" d="M545.6 182.7l2.7 .1 1.5-4.8-2.7-.1z"/><path color="#f0f921" d="M569.8 159.1l2.8-.4 1.4-1.5-2.7 .5z"/><path color="#fdab33" d="M544 188.1l2.7 .2 1.6-5.5-2.7-.1z"/><path color="#f4ed27" d="M561.3 163.8l2.8-.2 1.5-2.3-2.8 .3z"/><path color="#f1f426" d="M565.6 161.3l2.7-.3 1.5-1.9-2.7 .4z"/><path color="#d45270" d="M547 228.6l2.7 .8 1.6-9.5-2.7-.7z"/><path color="#fcd025" d="M551.3 173.7l2.8 0 1.5-3.7-2.7 .1z"/><path color="#f58c46" d="M543.6 201.3l2.7 .5 1.6-7-2.7-.3z"/><path color="#e26660" d="M545.9 218.5l2.7 .7 1.5-8.6-2.7-.6z"/><path color="#ed7a52" d="M544.7 209.4l2.7 .6 1.6-7.8-2.7-.4z"/><path color="#f9dd25" d="M555.6 170l2.7-.2 1.5-3.2-2.7 .2z"/><path color="#fdc627" d="M549.8 178l2.7 0 1.6-4.3-2.8 0z"/><path color="#fa9c3c" d="M545.2 194.5l2.7 .3 1.5-6.2-2.7-.3z"/><path color="#feba2c" d="M548.3 182.8l2.7 .2 1.5-5-2.7 0z"/><path color="#d45270" d="M549.7 229.4l2.7 .8 1.6-9.6-2.7-.7z"/><path color="#f6e826" d="M559.8 166.6l2.8-.2 1.5-2.8-2.8 .2z"/><path color="#fdac33" d="M546.7 188.3l2.7 .3 1.6-5.6-2.7-.2z"/><path color="#f3f027" d="M564.1 163.6l2.7-.3 1.5-2.3-2.7 .3z"/><path color="#f0f921" d="M568.3 161l2.8-.4 1.5-1.9-2.8 .4z"/><path color="#fbd324" d="M554.1 173.7l2.7 0 1.5-3.9-2.7 .2z"/><path color="#f68d45" d="M546.3 201.8l2.7 .4 1.6-7-2.7-.4z"/><path color="#e3685f" d="M548.6 219.2l2.7 .7 1.6-8.7-2.8-.6z"/><path color="#ee7b51" d="M547.4 210l2.7 .6 1.6-7.9-2.7-.5z"/><path color="#fdca26" d="M552.5 178l2.7 .1 1.6-4.4-2.7 0z"/><path color="#f8e125" d="M558.3 169.8l2.8-.1 1.5-3.3-2.8 .2z"/><path color="#fa9e3b" d="M547.9 194.8l2.7 .4 1.5-6.4-2.7-.2z"/><path color="#febd2a" d="M551 183l2.7 .1 1.5-5-2.7-.1z"/><path color="#fdae32" d="M549.4 188.6l2.7 .2 1.6-5.7-2.7-.1z"/><path color="#f5eb27" d="M562.6 166.4l2.7-.2 1.5-2.9-2.7 .3z"/><path color="#f68f44" d="M549 202.2l2.7 .5 1.6-7.2-2.7-.3z"/><path color="#e3685f" d="M551.3 219.9l2.7 .7 1.6-8.9-2.7-.5z"/><path color="#f1f525" d="M566.8 163.3l2.8-.3 1.5-2.4-2.8 .4z"/><path color="#fbd724" d="M556.8 173.7l2.7-.1 1.6-3.9-2.8 .1z"/><path color="#ef7c51" d="M550.1 210.6l2.8 .6 1.5-8-2.7-.5z"/><path color="#fb9f3a" d="M550.6 195.2l2.7 .3 1.6-6.4-2.8-.3z"/><path color="#fccd25" d="M555.2 178.1l2.8 .1 1.5-4.6-2.7 .1z"/><path color="#f7e425" d="M561.1 169.7l2.7-.1 1.5-3.4-2.7 .2z"/><path color="#fdb130" d="M552.1 188.8l2.8 .3 1.5-5.8-2.7-.2z"/><path color="#febe2a" d="M553.7 183.1l2.7 .2 1.6-5.1-2.8-.1z"/><path color="#f68f44" d="M551.7 202.7l2.7 .5 1.6-7.3-2.7-.4z"/><path color="#f3f027" d="M565.3 166.2l2.8-.2 1.5-3-2.8 .3z"/><path color="#ef7c51" d="M552.9 211.2l2.7 .5 1.6-8.1-2.8-.4z"/><path color="#fada24" d="M559.5 173.6l2.8 0 1.5-4-2.7 .1z"/><path color="#fba238" d="M553.3 195.5l2.7 .4 1.6-6.6-2.7-.2z"/><path color="#fcce25" d="M558 178.2l2.7 0 1.6-4.6-2.8 0z"/><path color="#fdb22f" d="M554.9 189.1l2.7 .2 1.6-5.9-2.8-.1z"/><path color="#f6e826" d="M563.8 169.6l2.7-.1 1.6-3.5-2.8 .2z"/><path color="#fdc229" d="M556.4 183.3l2.8 .1 1.5-5.2-2.7 0z"/><path color="#f79044" d="M554.4 203.2l2.8 .4 1.6-7.3-2.8-.4z"/><path color="#f9dd25" d="M562.3 173.6l2.7 0 1.5-4.1-2.7 .1z"/><path color="#fca338" d="M556 195.9l2.8 .4 1.5-6.7-2.7-.3z"/><path color="#fcd225" d="M560.7 178.2l2.8 .1 1.5-4.7-2.7 0z"/><path color="#fdb52e" d="M557.6 189.3l2.7 .3 1.6-6-2.7-.2z"/><path color="#fdc527" d="M559.2 183.4l2.7 .2 1.6-5.3-2.8-.1z"/></g>
   <g id="text_38" transform="translate(.18 -.72)"><g transform="translate(492.8318 48.9818) scale(.14 -.14)"><use href="#DejaVuSans-3a8" transform="translate(0 .09)"/><use href="#DejaVuSans-6c" transform="translate(79.668 -16.3125) scale(.7)"/><use href="#DejaVuSans-61" transform="translate(99.1162 -16.3125) scale(.7)"/><use href="#DejaVuSans-67" transform="translate(142.0117 -16.3125) scale(.7)"/><use href="#DejaVuSans-2c" transform="translate(186.4453 -16.3125) scale(.7)"/><use href="#DejaVuSans-28" transform="translate(222.334 -16.3125) scale(.7)"/><use href="#DejaVuSans-30" transform="translate(249.6436 -16.3125) scale(.7)"/><use href="#DejaVuSans-2c" transform="translate(294.1797 -16.3125) scale(.7)"/><use href="#DejaVuSans-32" transform="translate(330.0684 -16.3125) scale(.7)"/><use href="#DejaVuSans-29" transform="translate(374.6045 -16.3125) scale(.7)"/></g></g></g></g></svg>
</body></html>
